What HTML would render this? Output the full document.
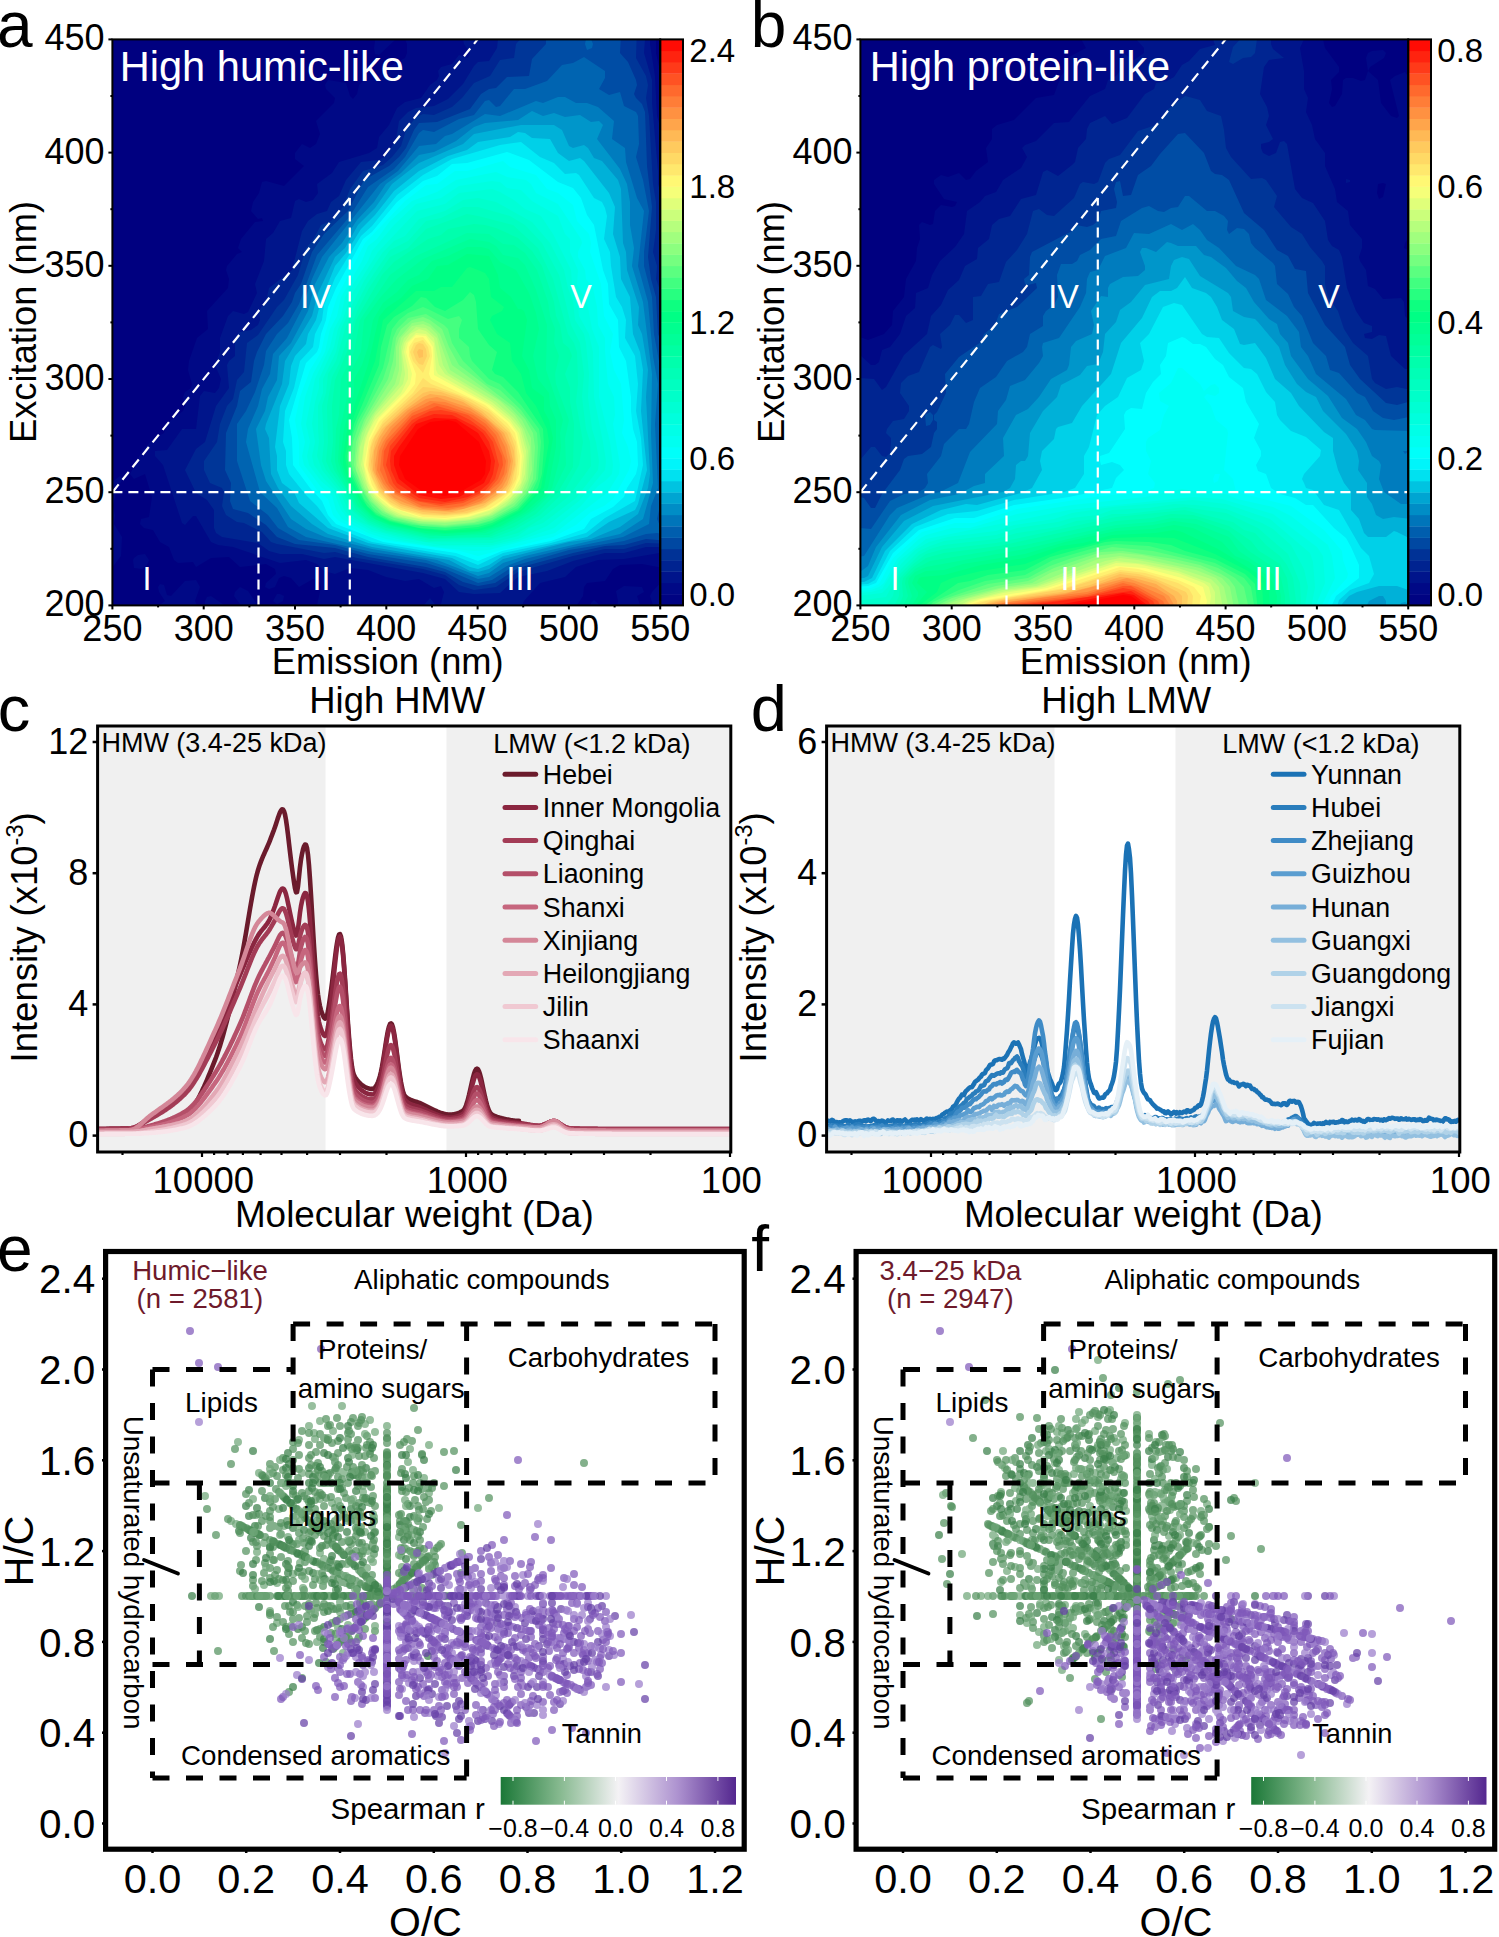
<!DOCTYPE html><html><head><meta charset="utf-8"><style>html,body{margin:0;padding:0;background:#fff;overflow:hidden}svg{display:block;font-family:"Liberation Sans",sans-serif}</style></head><body><svg width="1499" height="1937" viewBox="0 0 1499 1937" style="font-family:&quot;Liberation Sans&quot;,sans-serif">
<rect width="1499" height="1937" fill="#fff"/>
<defs><clipPath id="ca"><rect x="112.4" y="39.4" width="547.8" height="566"/></clipPath><clipPath id="cb"><rect x="860.4" y="39.4" width="547.8" height="566"/></clipPath></defs>
<g clip-path="url(#ca)"><rect x="112.4" y="39.4" width="547.8" height="566" fill="#000080"/>
<path fill="#000986" fill-rule="evenodd" d="M196 580l-11 1l-14 15l-4-1l-3-10l-4-1l-2 3l1 5l6 9l-12 9l1 9l50 0l-9-18l5-14l-4-7zM211 596l-4 1l-2 4l0 9l7 9l13 0l1-9l-2-5l-13-9zM248 591l-8-4l-5 5l-1 4l17 23l4 0l6-5l0-4l-13-19zM269 614l-5 0l0 5l10 0l-5-5zM653 26l-281 0l4 9l-2 13l1 6l4 1l17-16l5-1l4 1l2 5l0 9l-2 5l-19 10l-11 12l-11 0l-5 5l-2 9l-4 5l-3-3l-4-13l-18-3l-3 5l1 4l9 9l-1 5l-18 18l4 13l-4 10l-6 4l-8-4l-7 9l0 6l9 7l-20 20l-18-5l-4 1l-3 11l-6 9l-2 9l7 8l4-1l1 3l-8 1l-14 17l-3 9l4 4l-5 2l-10 12l-1 4l3 9l-1 9l-21 23l1 18l-11 9l-8 23l-1 9l4 14l-1 4l-6 4l-2 5l2 9l-2 5l-16 12l-3 10l-11 6l-11 12l-12 23l4 5l11-5l7 23l-3 20l-8 2l-1 5l4 4l9 2l7 12l9 5l5 13l4 3l15-1l3 5l15-9l18-1l11 10l26-3l9 5l1 5l-10 9l-1 4l4 2l6-2l4-9l5-2l7 2l8 9l14-8l4 1l3 3l1 4l-4 18l18 8l4 6l241 0l-3-14l6-9l1-9l3-4l18-2l8-12l7-4l22-1l22 4l7-4l0-451l-4-1l4-10l0-5l-7-6l-3-6l-1-14l-4-18l0-27l-3 0zM594 600l-3 3l-2 16l18 0l-2-9l-11-10zM642 587l-18-1l-8 5l2 10l-3 18l8 0l4-6l11-3l2-5l-3-9l7-4l-2-5zM671 572l-19 20l-2 4l3 9l-1 5l-7 9l16 0l10-13l0-34zM280 594l-3 0l-4 7l4 3l6-3l1-5l-4-2zM120 476l-9 7l-10 3l0 20l3 4l-3 8l0 28l6 1l-6 1l0 28l10-7l10-13l1-19l-8-13l1-9l-2-9l4-18l6-9l-3-3zM145 554l-7 1l-4 3l-1 2l1 8l8 1l5-4l2-5l-4-6zM252 252l-2 0l2 0zM302 130l0 2l0-2z"/>
<path fill="#00158b" fill-rule="evenodd" d="M408 614l-10 5l11 0l-1-5zM649 26l-167 0l0 4l-4 4l-11 0l-4 5l1 5l6 9l-2 5l-9-3l-7 9l-11 3l-3 4l1 5l-2 4l-7 5l-9 13l-16 4l-8 6l-8 17l-10 12l-2 11l-8 5l-30 9l-7 11l-15 11l1 9l-5 7l-7 2l-7-3l-4 2l-4 17l-11 3l-7 12l-7 6l-2 22l-9 23l2 9l-9 19l-4 2l-11-3l-5 5l-8 22l0 14l-5 13l6 14l-2 9l-4 5l-11-2l-4 5l-4 33l-14 0l-15 21l-12 1l0 5l8 9l19 58l3 2l8-9l3 0l15 26l7 3l15 2l47 16l26-3l11 4l7 7l11 3l15-6l18 2l18 7l19 4l14-2l15 9l7-2l3 6l-3 12l-4 3l-7-9l-6 7l-1 5l5 9l85 0l7-9l4-9l16-18l25-6l11-10l22-7l26-1l47-8l0-402l-7-9l-7-24l-2-40l-5-32l1-18l-2 0z"/>
<path fill="#002591" fill-rule="evenodd" d="M503 618l-3-2l-5 3l8-1zM646 26l-143 0l-5 13l-1 9l-8 13l-11 1l-4 4l-11 18l-15 15l-14 7l-18 2l-8 4l-9 9l-3 18l-10 17l-7 4l-18 2l-15 18l-7 16l-8 6l-4 9l-10 3l-9 7l-6 10l-10 39l-23 18l-2 9l-8 14l1 9l-2 5l-7 5l-11 2l-3 3l-2 3l0 18l-6 5l-2 4l2 23l-13 18l-11 36l-9 7l-11 21l11 23l11 7l7 10l0 18l2 5l6 4l36 6l11 8l11 3l22 0l22 5l11-2l88 16l22 6l14 13l15 2l26-1l18-16l29-6l26-10l32-8l19 0l22-6l25 0l0-258l-3-3l-4-7l2-22l-5-9l10-26l0-16l-7-1l-6-21l0-13l-6-68l0-23l-8-27l2-27z"/>
<path fill="#003698" fill-rule="evenodd" d="M635 26l-110 0l-1 9l-8 9l-2 14l-14 2l-10 16l-16 7l-12 15l-10 9l-18 8l-11-1l-7 3l-10 13l-5 16l-9 11l-9 8l-20 6l-13 18l-7 18l-12 14l-10 4l-8 15l-7 8l-8 27l-14 25l-7 7l-19 28l-11 8l-3 29l-7 8l-4 19l-6 7l-7 18l-3 18l-13 19l0 9l6 13l12 5l2 4l-2 14l4 9l11 7l7 1l18 9l9 10l6 2l47 9l11-1l22 6l66 11l22 6l14 10l15 5l22-3l22-15l55-16l32-7l19 0l22-6l25 1l0-213l-5-2l0-22l-10-28l1-13l-4-14l3-22l0-28l-3-18l-4-68l-3-18l2-13l-2-9l-10-18l1-32l-2 0zM671 301l-2 1l2 4l0-5zM529 39z"/>
<path fill="#004da5" fill-rule="evenodd" d="M616 26l-70 0l0 18l-14 15l-3 17l-22 1l-11 11l-7 1l-8 5l-11 15l-33 13l-18 1l-5 7l-8 18l-7 9l-10 9l-25 14l-16 31l-24 23l-12 18l-11 32l-6 9l-3 9l-9 14l-17 18l-9 18l-3 9l-3 21l-11 9l-3 15l-11 27l-1 37l6 13l-1 18l3 8l15 4l18 12l11 12l18 7l40 4l33 9l58 10l19 5l18 10l15 4l17-3l23-15l55-15l32-7l19-1l22-6l25 2l0-194l-11-8l-2-5l-2-37l-5-18l-3-22l4-50l-5-41l-2-54l-3-8l-6-6l-2-4l3-9l-1-5l-8-18l-8-9l1-18l-5-9z"/>
<path fill="#0064b1" fill-rule="evenodd" d="M584 57l-11 6l-11 2l-15 16l-22 8l-11 0l-14 17l-4 1l-7-7l-4 1l-11 14l-15 4l-25 13l-11-2l-4 3l-14 24l-11 12l-26 18l-18 29l-33 39l-18 49l-11 19l-11 11l-11 17l-2 14l-9 27l-9 19l-9 13l0 37l13 40l18 14l10 13l21 12l36 5l33 9l58 9l19 6l33 14l14-3l22-14l55-16l55-9l22-7l11-1l14 3l0-10l-11 0l-3-7l2-9l12-23l0-26l-7 2l-1-2l1-19l-4-18l4-13l7-2l0-39l-7-1l-5-8l-5-27l-2-37l-8-31l0-14l5-41l-6-31l-7-23l3-13l-1-28l-2-4l-12-6l-4-14l-11 3l-10-6l6-11l0-7l-21-14zM591 39l-5 0l-1 5l2 6l5-2l1-4l-2-5z"/>
<path fill="#007cbe" fill-rule="evenodd" d="M565 97l-7 0l-15 6l-7-2l-36 15l-15-2l-33 20l-7 2l-9 8l-17 2l-21 25l-18 13l-58 73l-10 22l-10 30l-15 29l-14 16l-3 20l-8 15l-4 17l-10 23l-2 13l14 50l17 16l11 19l18 10l66 15l54 8l22 7l30 12l11-2l18-11l18-7l44-11l54-11l26-13l2-18l7-18l-3-64l3-40l-5-28l-5-54l-10-36l6-55l-7-13l-11-36l-1-14l-13-9l2-18l-16-14l-11-4l-11 0l-11-6z"/>
<path fill="#0096ca" fill-rule="evenodd" d="M532 111l-14 9l-33 3l-11 4l-18 14l-22 11l-15 3l-18 18l-15 11l-12 18l-17 18l-15 23l-13 14l-14 27l-7 27l-17 32l-12 13l-2 24l-9 17l-3 14l-9 18l5 36l5 16l25 38l15 10l19 8l47 12l65 11l41 16l11-3l14-10l22-7l95-22l23-15l10-36l-2-50l1-59l-9-72l-11-36l2-18l-4-23l0-23l-3-18l-7-15l-23-30l6-14l-4-4l-8 1l-11-7l-15 2l-11-4l-11 3l-11-5z"/>
<path fill="#00b1d8" fill-rule="evenodd" d="M554 125l-33 0l-47 9l-11 10l-44 19l-27 21l-17 24l-17 17l-13 23l-10 9l-17 36l-6 23l-27 45l-3 23l-16 40l-1 5l4 9l2 36l7 14l13 18l21 18l16 10l44 13l77 13l21 11l8 1l11-3l14-10l66-17l22-3l29-12l18-13l10-26l2-14l-4-77l2-27l-6-36l-4-9l1-18l-12-37l-1-18l-3-9l-2-54l-3-9l-16-19l-8-3l-6-10l-4-3l-11 3l-4-2l-7-16l-8-5z"/>
<path fill="#00d0e8" fill-rule="evenodd" d="M525 133l-7-1l-8 5l-32 5l-11 8l-19 6l-29 15l-25 20l-19 24l-14 14l-15 24l-11 13l-14 35l-5 19l-8 14l-2 10l-11 12l-4 10l-2 18l-9 22l-5 41l2 9l0 14l5 13l12 9l5 11l29 25l40 15l84 15l18 9l8 2l11-4l14-9l84-19l22-15l26-12l3-6l9-34l-6-59l2-41l-3-18l-7-18l-3-37l-9-18l-1-22l-7-23l2-27l-6-14l-25-32l-4-3l-11 3l-11-8l-8-14l-18-1l-7-5z"/>
<path fill="#00ebf5" fill-rule="evenodd" d="M521 142l-21 3l-48 14l-29 16l-26 20l-25 31l-11 10l-26 42l-11 27l-2 15l-7 14l-2 13l-13 14l-6 27l-9 23l-2 31l3 9l0 14l3 9l17 21l11 11l15 20l40 16l83 14l23 9l25-12l48-10l35-10l19-15l30-17l8-36l-2-27l-5-27l2-27l-3-28l-10-18l1-18l-4-13l-6-10l-5-31l-1-14l-6-13l3-23l-2-8l-3-6l-8-4l-15-23l-3-2l-11 1l-11-11l-14-6l-19-15z"/>
<path fill="#00ffff" fill-rule="evenodd" d="M507 152l-40 11l-15 1l-15 12l-14 5l-26 21l-25 30l-9 7l-27 49l-8 19l-2 13l-5 14l-2 13l-2 5l-11 11l-17 57l3 18l1 27l17 23l12 13l6 14l8 9l47 18l73 11l22 8l24-10l49-10l33-12l7-10l22-12l11-10l3-9l9-14l2-9l-1-23l-4-13l-2-18l0-14l-5-36l-7-14l-1-27l-9-16l-1-20l-5-14l-9-45l-7-10l-6-17l-8-10l-15-6l-29-22l-22-8z"/>
<path fill="#00fff5" fill-rule="evenodd" d="M503 161l-36 10l-12 0l-18 13l-11 1l-21 16l-40 42l-28 54l-12 37l-4 18l-11 18l-10 27l-5 23l4 22l0 23l18 25l11 9l5 16l6 6l29 15l15 4l77 11l18 5l75-19l23-12l15-13l13-6l9-7l16-29l2-9l-3-14l-6-14l2-13l-3-36l-7-14l-4-18l3-18l-9-18l-3-32l-11-32l1-9l-2-9l-12-13l-4-16l-15-12l-11-4l-11-14l-26-8l-7-6z"/>
<path fill="#00ffea" fill-rule="evenodd" d="M503 175l-7-3l-40 8l-19 12l-25 9l-22 20l-13 18l-9 7l-6 15l-21 36l-4 19l-7 13l-5 23l-12 22l-8 23l-4 27l4 18l-3 14l2 9l17 22l11 9l4 14l6 9l26 14l18 6l48 8l40 4l15-1l66-17l53-41l11-18l1-9l-7-41l2-9l-1-18l-6-13l-3-32l0-14l-7-13l-1-18l-4-19l-7-9l-1-9l-7-13l0-5l4-9l-1-4l-23-35l-22-11l-5-9l-5-4l-19-3l-4-2z"/>
<path fill="#00ffe0" fill-rule="evenodd" d="M500 182l-8-1l-33 5l-18 12l-25 6l-22 21l-22 26l-4 10l-23 36l-4 19l-7 13l-4 18l-15 32l-9 45l4 18l-3 14l2 9l12 16l13 11l7 18l7 9l24 13l29 8l33 6l55 1l29-6l36-13l27-22l17-20l7-5l7-7l1-9l-3-23l-11-45l0-50l-7-18l-5-27l-10-18l1-14l-8-18l0-13l-5-5l-7-18l-26-15l-11-11l-14-2l-7-6z"/>
<path fill="#00ffd6" fill-rule="evenodd" d="M500 192l-8-3l-33 4l-14 11l-28 7l-39 41l-28 45l-6 19l-6 13l-4 18l-15 32l0 9l-4 14l-3 22l3 18l-3 14l2 9l10 14l13 13l7 18l6 7l22 13l29 8l40 7l51 0l26-6l29-13l32-25l26-31l1-9l-3-19l-9-45l-1-45l-4-18l-10-18l-2-19l-5-13l-1-14l-18-36l-12-18l-16-7l-11-9l-14-8z"/>
<path fill="#00ffcc" fill-rule="evenodd" d="M496 202l-18-4l-15 2l-18 11l-26 8l-14 17l-11 5l-11 11l-19 29l-13 26l-10 22l-5 23l-13 27l0 14l-5 13l0 23l1 13l-2 14l5 14l18 22l10 22l11 8l22 10l43 10l66 1l26-7l11-8l14-5l33-25l22-28l1-9l-3-19l-4-13l-4-32l1-23l-3-31l-2-9l-9-14l-2-19l-5-13l-4-18l-14-27l-18-21l-36-20z"/>
<path fill="#00ffc2" fill-rule="evenodd" d="M478 207l-15 0l-22 11l-15 3l-18 20l-18 9l-23 34l-12 23l-10 22l-9 32l-8 13l-2 19l-4 13l2 36l-2 19l4 9l17 22l8 18l17 14l18 7l44 10l62-1l26-7l23-14l28-23l22-30l-1-24l-4-13l-4-32l2-23l-4-31l-9-18l-12-50l-17-32l-17-18l-15-9l-32-9z"/>
<path fill="#00ffb8" fill-rule="evenodd" d="M478 216l-11-2l-41 15l-18 19l-18 9l-21 31l-12 23l-18 53l-7 13l-5 29l1 36l-2 19l4 9l16 22l7 18l15 12l18 8l44 9l62-1l22-8l26-15l24-23l15-27l4-23l-7-40l2-18l-1-32l-3-9l-6-9l-15-55l-15-31l-25-23l-35-9z"/>
<path fill="#00ffad" fill-rule="evenodd" d="M485 225l-11-1l-26 5l-7 6l-13 4l-34 23l-12 13l-26 45l-7 27l-14 33l-3 26l1 36l-2 19l3 9l14 22l8 18l12 10l18 8l44 10l59-1l25-10l22-13l22-22l15-25l1-43l-4-22l0-14l-5-14l7-18l-3-8l-6-5l-3-18l-4-9l-2-14l-12-36l-10-15l-14-13l-22-10l-11-3z"/>
<path fill="#00ffa3" fill-rule="evenodd" d="M489 234l-22-1l-51 23l-26 19l-30 45l-6 32l-13 27l-2 36l-3 14l-1 32l2 9l19 36l14 13l20 9l40 8l59-1l29-14l17-11l18-18l13-27l-1-27l4-18l-13-36l-1-10l4-18l-5-13l1-14l-5-13l-2-14l-11-32l-12-17l-11-8l-11-1l-14-10z"/>
<path fill="#00ff99" fill-rule="evenodd" d="M489 242l-19-3l-47 20l-26 20l-18 20l-15 21l-3 32l-14 27l1 14l-8 36l-2 32l4 13l16 32l14 12l18 8l36 8l19 2l40-3l18-7l26-14l16-15l7-9l7-27l2-14l-1-14l3-13l-17-50l1-45l-11-35l-11-25l-7-7l-15-3l-7-9l-7-4z"/>
<path fill="#00ff8f" fill-rule="evenodd" d="M481 247l-14 0l-19 9l-16 5l-13 14l-11 5l-11 12l-14 11l-10 17l-5 27l-6 18l-8 14l0 14l-10 36l-4 32l4 13l17 32l14 13l15 6l36 8l19 1l36-2l19-6l25-14l17-15l6-9l8-41l0-27l-6-14l-1-13l-11-14l-5-23l6-27l-3-16l-7-20l-13-23l-16-8l-11-13l-8-2z"/>
<path fill="#00ff85" fill-rule="evenodd" d="M489 256l-22-2l-19 11l-11 1l-9 13l-16 7l-11 12l-15 10l-7 9l-11 48l-20 59l-5 32l0 9l3 9l17 32l9 9l18 9l29 6l26 3l33-2l14-4l29-15l23-24l9-50l-4-18l-5-9l0-14l-12-9l-3-18l-7-14l5-36l-3-9l-3-2l-3 0l-7-12l-11-9l-2-13l-9-19z"/>
<path fill="#0fff80" fill-rule="evenodd" d="M478 270l-8-3l-3 1l-15 19l-11 0l-7 4l-18 0l-33 29l-8 41l-24 63l-6 32l2 14l14 29l14 16l15 7l33 7l22 2l33-2l14-4l29-15l20-22l8-46l-2-13l-11-23l-10-13l-5-19l-9-13l-2-18l-13-9l-7-14l2-4l10-5l2-4l-13-10l-2-18l-4-6l-7-3z"/>
<path fill="#2aff80" fill-rule="evenodd" d="M470 292l-7 8l-18 11l-10-4l-9-9l-5-1l-9 9l-18 11l-7 8l-6 22l-2 18l-25 59l-7 32l2 14l13 27l5 9l10 9l13 6l29 7l26 2l33-3l14-4l26-13l20-22l4-14l2-27l-1-18l-25-37l-15-15l-8-3l-3-4l5-18l-8-7l-11-16l-2-27l-2-7l-4-3z"/>
<path fill="#45ff80" fill-rule="evenodd" d="M430 310l-7-3l-15 6l-9 7l-7 9l-9 39l-17 38l-8 14l-5 14l-4 27l4 13l11 25l11 13l15 8l22 5l33 3l33-3l14-4l26-13l14-16l6-13l3-37l-2-13l-18-24l-21-21l-11-5l-17-18l-2-5l-1-9l-10-9l0-9l3-9l-3-4l-11 3l-18-9z"/>
<path fill="#60ff80" fill-rule="evenodd" d="M426 314l-18 4l-11 11l-4 9l-4 23l-6 18l-24 45l-6 18l-2 19l2 9l10 22l9 14l10 9l12 5l29 6l22 1l33-3l14-4l25-14l12-14l7-13l2-32l-1-14l-16-23l-21-20l-13-6l-24-23l-11-18l-4-14l-4-4l-18-11z"/>
<path fill="#7bff80" fill-rule="evenodd" d="M430 320l-7-3l-11 3l-11 9l-5 9l-3 23l-5 18l-24 41l-8 22l-2 23l8 23l8 13l13 12l11 5l25 6l26 2l29-3l18-5l22-12l13-14l6-13l2-32l-2-14l-8-14l-11-12l-55-42l-10-18l-7-18l-12-9z"/>
<path fill="#92ff7f" fill-rule="evenodd" d="M430 324l-7-3l-11 2l-13 15l-3 9l0 18l-4 14l-26 41l-7 18l-3 18l0 14l8 19l8 12l9 9l13 7l25 6l26 2l29-3l18-6l22-13l13-15l5-18l-1-32l-9-18l-12-13l-58-42l-12-31l-10-10z"/>
<path fill="#a8ff7e" fill-rule="evenodd" d="M423 324l-11 2l-11 12l-2 9l0 23l-4 14l-23 31l-10 18l-3 14l-2 18l8 23l9 13l12 11l11 5l26 5l22 1l29-3l18-5l18-11l12-12l6-13l2-32l-6-18l-9-14l-15-14l-50-31l-13-36l-7-7l-7-3z"/>
<path fill="#bdff7c" fill-rule="evenodd" d="M426 328l-10-1l-12 11l-3 9l1 23l-3 14l-24 29l-9 16l-6 18l-1 14l1 9l5 13l7 14l14 13l11 6l22 5l26 1l25-2l19-5l16-9l15-14l6-13l2-28l-6-22l-8-11l-18-16l-48-29l-5-8l-6-27l-11-10z"/>
<path fill="#d3ff7b" fill-rule="evenodd" d="M419 329l-9 5l-6 9l-2 9l3 22l-2 10l-28 32l-10 22l-4 27l7 23l7 10l14 12l10 5l24 5l22 1l25-2l19-5l19-13l12-13l5-14l1-23l-6-22l-10-12l-18-15l-47-28l-6-9l-5-27l-8-7l-7-2z"/>
<path fill="#e9ff79" fill-rule="evenodd" d="M426 334l-10-1l-10 10l-2 9l4 18l0 9l-7 14l-26 27l-7 13l-4 14l-1 14l3 18l6 13l11 12l9 6l11 5l20 4l25 1l22-3l22-7l19-13l10-14l3-27l-5-23l-9-13l-18-15l-54-31l-2-4l-2-27l-8-9z"/>
<path fill="#ffff78" fill-rule="evenodd" d="M426 336l-10-1l-8 8l-2 9l6 22l-2 10l-6 9l-25 25l-10 20l-5 27l5 18l6 11l15 13l29 10l26 2l22-2l22-7l8-4l16-14l7-13l2-23l-5-23l-7-10l-21-18l-55-30l-1-28l-7-11z"/>
<path fill="#fff070" fill-rule="evenodd" d="M423 337l-8 1l-6 9l0 9l7 18l-1 10l-7 9l-29 29l-10 20l-3 23l6 20l7 11l15 12l29 9l22 1l22-3l22-6l12-8l13-13l5-14l1-18l-5-23l-8-10l-22-18l-54-26l-2-5l3-18l-1-9l-8-10z"/>
<path fill="#ffe069" fill-rule="evenodd" d="M423 378l-10 15l-30 28l-11 19l-3 11l-1 19l10 22l12 12l11 6l22 5l22 1l22-2l18-6l24-16l7-13l2-18l-2-19l-7-13l-20-19l-19-11l-39-15l-8-6zM423 340l-9 3l-4 9l3 9l10 12l7-17l-2-9l-5-7z"/>
<path fill="#ffd061" fill-rule="evenodd" d="M434 388l-11-1l-40 37l-8 12l-4 11l-2 18l3 12l7 14l11 11l11 6l22 6l22 1l22-2l18-6l22-15l5-9l4-18l-1-18l-5-14l-21-20l-15-9l-15-8l-25-8zM423 344l-4-1l-3 2l-3 7l3 8l3 4l4 1l4-9l-1-7l-3-5z"/>
<path fill="#ffc059" fill-rule="evenodd" d="M441 392l-11-1l-7 2l-18 14l-23 22l-7 13l-4 19l1 10l7 17l11 11l11 7l22 6l22 2l18-2l20-6l21-14l6-9l5-18l-1-14l-7-18l-25-22l-19-11l-22-8zM423 350l-4-1l-2 3l2 6l4-1l0-7z"/>
<path fill="#ffab4e" fill-rule="evenodd" d="M445 396l-15-2l-7 3l-18 13l-19 17l-7 11l-5 13l-1 19l8 18l9 9l11 7l19 6l32 2l33-9l16-11l6-7l4-11l2-13l-3-14l-6-14l-23-20l-18-11l-18-6z"/>
<path fill="#ff9644" fill-rule="evenodd" d="M437 397l-11 2l-18 11l-18 17l-8 11l-4 9l-3 18l1 9l8 14l10 10l11 5l18 6l22 2l18-2l18-6l21-15l5-9l4-18l-4-16l-6-12l-13-13l-18-12l-33-11z"/>
<path fill="#ff8239" fill-rule="evenodd" d="M445 402l-15-1l-19 10l-19 18l-9 13l-4 9l-2 19l6 13l7 9l29 15l29 3l19-4l14-5l13-9l8-9l5-11l1-11l-3-14l-7-14l-13-13l-15-9l-25-9z"/>
<path fill="#ff6d2f" fill-rule="evenodd" d="M448 406l-14-3l-22 10l-26 28l-4 10l-2 19l6 13l7 9l29 14l26 2l15-2l18-8l18-15l5-9l2-13l-10-26l-10-11l-13-9l-25-9z"/>
<path fill="#ff5524" fill-rule="evenodd" d="M437 406l-25 10l-23 26l-5 9l-1 14l6 18l8 9l19 9l25 5l22-3l24-11l11-13l5-14l-1-9l-8-18l-9-11l-17-12l-31-9z"/>
<path fill="#ff3d1a" fill-rule="evenodd" d="M441 410l-11 1l-18 9l-22 26l-4 19l7 18l4 5l22 13l22 3l22-3l22-10l10-12l4-14l-6-23l-8-11l-15-11l-14-7l-15-3z"/>
<path fill="#ff2410" fill-rule="evenodd" d="M452 415l-18-1l-15 5l-7 5l-11 14l-10 13l-1 10l1 9l6 13l22 15l26 4l23-5l13-7l8-7l4-9l2-13l-6-19l-6-9l-9-7l-22-11z"/>
<path fill="#ff0c05" fill-rule="evenodd" d="M456 419l-22-1l-18 6l-17 23l-5 9l0 9l5 14l20 16l22 4l18-2l25-14l6-13l1-9l-2-10l-11-18l-22-14z"/>
<path fill="#ff0000" fill-rule="evenodd" d="M456 422l-8-2l-18 2l-12 7l-18 27l-1 9l6 14l18 13l22 4l15-4l21-12l4-6l1-13l-7-19l-23-20z"/>
</g>
<rect x="660.2" y="594.1" width="22.8" height="11.7" fill="#000382"/>
<rect x="660.2" y="582.8" width="22.8" height="11.7" fill="#000986"/>
<rect x="660.2" y="571.4" width="22.8" height="11.7" fill="#00148b"/>
<rect x="660.2" y="560.1" width="22.8" height="11.7" fill="#002390"/>
<rect x="660.2" y="548.8" width="22.8" height="11.7" fill="#003296"/>
<rect x="660.2" y="537.5" width="22.8" height="11.7" fill="#0048a2"/>
<rect x="660.2" y="526.2" width="22.8" height="11.7" fill="#005eae"/>
<rect x="660.2" y="514.8" width="22.8" height="11.7" fill="#0075ba"/>
<rect x="660.2" y="503.5" width="22.8" height="11.7" fill="#008dc6"/>
<rect x="660.2" y="492.2" width="22.8" height="11.7" fill="#00a5d2"/>
<rect x="660.2" y="480.9" width="22.8" height="11.7" fill="#00c3e1"/>
<rect x="660.2" y="469.6" width="22.8" height="11.7" fill="#00e1f0"/>
<rect x="660.2" y="458.2" width="22.8" height="11.7" fill="#00f5fa"/>
<rect x="660.2" y="446.9" width="22.8" height="11.7" fill="#00fffa"/>
<rect x="660.2" y="435.6" width="22.8" height="11.7" fill="#00fff0"/>
<rect x="660.2" y="424.3" width="22.8" height="11.7" fill="#00ffe7"/>
<rect x="660.2" y="413.0" width="22.8" height="11.7" fill="#00ffdd"/>
<rect x="660.2" y="401.6" width="22.8" height="11.7" fill="#00ffd3"/>
<rect x="660.2" y="390.3" width="22.8" height="11.7" fill="#00ffc9"/>
<rect x="660.2" y="379.0" width="22.8" height="11.7" fill="#00ffc0"/>
<rect x="660.2" y="367.7" width="22.8" height="11.7" fill="#00ffb6"/>
<rect x="660.2" y="356.4" width="22.8" height="11.7" fill="#00ffac"/>
<rect x="660.2" y="345.0" width="22.8" height="11.7" fill="#00ffa2"/>
<rect x="660.2" y="333.7" width="22.8" height="11.7" fill="#00ff98"/>
<rect x="660.2" y="322.4" width="22.8" height="11.7" fill="#00ff8f"/>
<rect x="660.2" y="311.1" width="22.8" height="11.7" fill="#00ff85"/>
<rect x="660.2" y="299.8" width="22.8" height="11.7" fill="#0dff80"/>
<rect x="660.2" y="288.4" width="22.8" height="11.7" fill="#27ff80"/>
<rect x="660.2" y="277.1" width="22.8" height="11.7" fill="#41ff80"/>
<rect x="660.2" y="265.8" width="22.8" height="11.7" fill="#5bff80"/>
<rect x="660.2" y="254.5" width="22.8" height="11.7" fill="#75ff80"/>
<rect x="660.2" y="243.2" width="22.8" height="11.7" fill="#8cff7f"/>
<rect x="660.2" y="231.8" width="22.8" height="11.7" fill="#a1ff7e"/>
<rect x="660.2" y="220.5" width="22.8" height="11.7" fill="#b6ff7d"/>
<rect x="660.2" y="209.2" width="22.8" height="11.7" fill="#cbff7b"/>
<rect x="660.2" y="197.9" width="22.8" height="11.7" fill="#e0ff7a"/>
<rect x="660.2" y="186.6" width="22.8" height="11.7" fill="#f5ff79"/>
<rect x="660.2" y="175.2" width="22.8" height="11.7" fill="#fff874"/>
<rect x="660.2" y="163.9" width="22.8" height="11.7" fill="#ffe86d"/>
<rect x="660.2" y="152.6" width="22.8" height="11.7" fill="#ffd965"/>
<rect x="660.2" y="141.3" width="22.8" height="11.7" fill="#ffca5e"/>
<rect x="660.2" y="130.0" width="22.8" height="11.7" fill="#ffb955"/>
<rect x="660.2" y="118.6" width="22.8" height="11.7" fill="#ffa54b"/>
<rect x="660.2" y="107.3" width="22.8" height="11.7" fill="#ff9141"/>
<rect x="660.2" y="96.0" width="22.8" height="11.7" fill="#ff7d37"/>
<rect x="660.2" y="84.7" width="22.8" height="11.7" fill="#ff692d"/>
<rect x="660.2" y="73.4" width="22.8" height="11.7" fill="#ff5223"/>
<rect x="660.2" y="62.0" width="22.8" height="11.7" fill="#ff3a19"/>
<rect x="660.2" y="50.7" width="22.8" height="11.7" fill="#ff230f"/>
<rect x="660.2" y="39.4" width="22.8" height="11.7" fill="#ff0c05"/>
<path d="M112.4 492.2H660.2" stroke="#fff" stroke-width="2.2" stroke-dasharray="10 6" fill="none"/>
<path d="M258.5 605.4V492.2" stroke="#fff" stroke-width="2.2" stroke-dasharray="10 6" fill="none"/>
<path d="M349.8 605.4V197.9" stroke="#fff" stroke-width="2.2" stroke-dasharray="10 6" fill="none"/>
<path d="M112.4 492.2L477.6 39.4" stroke="#fff" stroke-width="2.2" stroke-dasharray="10 6" fill="none"/>
<text x="147.0" y="590.0" font-size="32.3" text-anchor="middle" fill="#fff" >I</text>
<text x="321.5" y="590.0" font-size="32.3" text-anchor="middle" fill="#fff" >II</text>
<text x="520.0" y="590.0" font-size="32.3" text-anchor="middle" fill="#fff" >III</text>
<text x="315.5" y="307.5" font-size="32.3" text-anchor="middle" fill="#fff" >IV</text>
<text x="581.0" y="307.5" font-size="32.3" text-anchor="middle" fill="#fff" >V</text>
<g clip-path="url(#cb)"><rect x="860.4" y="39.4" width="547.8" height="566" fill="#000080"/>
<path fill="#000986" fill-rule="evenodd" d="M1317 26l-233 0l-1 3l-3-3l-5 0l1 4l10 18l-17 9l-1 10l-7 9l-7 19l-18 3l-22 22l-17 5l-5 4l0 10l-6 9l2 14l-12 9l-6 8l-4 1l-7-7l-11 4l-7-2l-7 5l0 4l10 15l13 3l-2 4l-3 1l-11-2l-6 6l-2 13l-3 1l-8-3l-3 3l1 14l-3 9l-1 13l-10 18l-2 18l-11 14l-1 14l-8 9l-16 6l-19-7l0 286l570 0l0-374l-11 5l-4-2l1-5l7-10l7-3l0-22l-7 0l-1-6l8-14l0-105l-3 2l-4-3l-7-10l-10 4l-5 4l9 36l-2 2l-6-2l-10-13l-3-23l-10-9l2-4l14-9l2-5l-3-3l-11 1l-4 2l-2 5l2 13l-3 9l-4 1l-8-3l-7 0l-3 2l-1 14l-7 12l-3 1l-3-4l3-14l-1-9l8-8l0-5l-14-19l-5-22l-3 0zM1386 184l-3 13l-4 2l-2-6l1-9l5-1l3 1zM1050 26l-8 0l5 5l5-5l-2 0z"/>
<path fill="#00158b" fill-rule="evenodd" d="M1310 26l-186 0l20 22l0 5l-10 7l-11-7l-3 5l0 13l-4 5l-8 4l-3 9l-15 7l-21 26l-15 1l-18 18l-11 4l-3 3l5 9l-6 11l-18 12l-7 12l-11 4l-5 6l-13 9l-3 23l-9 13l-15 14l-8 14l-4 13l-12 5l-1 15l-9 8l-6 18l-10 13l-8 3l-3 12l-4 3l-4 0l-11-10l-3-1l-8 5l0 260l570 0l0-301l-11 1l-3-3l-1-14l-3-4l-18 1l-8-10l-7-3l-2-16l-6-9l-1-4l3-9l0-9l-12-14l-2-14l-11-9l-2-13l-10-23l0-13l-10-14l-3-14l-6-13l2-14l-4-9l0-18l-4-23l10-22zM1350 180l-4-1l0 4l4-1l0-2zM1112 26l-12 0l5 4l7-4z"/>
<path fill="#002591" fill-rule="evenodd" d="M1277 26l-74 0l1 5l3 5l6 3l2 6l-15 4l-11 12l-7 4l-8 12l-7 4l-11 2l-2 6l-9 5l-18 24l-15 6l-7-8l-15 7l-3 6l-1 10l-8 9l-3 14l-3 3l-14 11l-11-6l-4 2l-7 23l-15 4l-11 17l-11 3l-7 6l-3 14l-11 9l-1 11l-12 7l-6 14l-11 10l-7 15l-10 11l-4 18l-23 21l-18 32l-4 3l-8-11l-14-1l-11-5l0 246l570 0l0-276l-7 1l-3 3l4 18l-5 4l-3 0l-14-13l-5-20l-7-1l-7 4l-7-1l-1-4l8-2l0-6l-8-3l-8-12l-9-23l-5-31l-3-7l-7-4l-4-6l-3-19l-12-18l-11-5l-7-9l-8-45l-3-3l-4 1l-4 11l-7 3l-6-3l-2-5l0-4l8-2l4-3l-7-14l3-9l-2-9l-7-13l4-27l5-7l15-2l-11-9l-2-5l0-5l6-13z"/>
<path fill="#003698" fill-rule="evenodd" d="M1189 97l-4-1l-18 14l-11 15l-18 6l-18 24l-11 4l-4 4l-7 19l-4 2l-11-2l-3 2l-6 14l-20 18l-7-1l-8-6l-6 2l-6 23l-10 16l-11 12l-7 20l-11 2l-7 12l-8 1l0 23l-7 3l-7-8l-4 0l-5 10l-10 9l2 13l-1 2l-8-4l-3 2l-11 25l-11 4l-7 7l-1 10l9 13l0 5l-5 8l-11 2l-6 8l-1 4l5 5l0 4l-1 11l-4 4l-4-1l-7-9l-4 0l-11 13l-11 5l0 154l570 0l0-231l-7 2l-15-3l-11 2l-11-6l-3-4l-4-23l-15-13l-9-14l-6-18l-10-14l-3-13l0-18l-3-5l-12-14l-8-13l-11-7l-17-20l3-11l-11-16l-4-2l-11 1l-20-22l-5-9l-2-18l-3-14l-14-5l-7-11l-11-3zM1251 26l-14 0l7 9l-11 12l-4 15l4 2l10-6l8-1l4-4l2-14l-4-13l-2 0z"/>
<path fill="#004da5" fill-rule="evenodd" d="M1185 133l-7 1l-18 20l-9 12l-13 9l-7 20l-8 1l-3-15l-4 1l-2 7l3 13l-1 6l-15 3l-3 10l-5 4l-6 2l-11-2l-4 6l-40 21l-2 5l-1 18l-5 4l1 5l3 1l8-2l1 5l-20 19l-18 7l-4 11l-11 9l-3 8l-22 15l-14 17l1 19l-9 19l-3 3l0 5l3 2l0 7l-3 4l-3 14l-9 7l-14 2l-4 3l-4 11l-18 24l-7 14l-4 0l-7-10l-4-1l-10 9l-1 113l570 0l0-220l-22 6l-11-2l-26-24l-10-14l-5-18l-20-22l-17-32l-2-22l-11-2l-7-13l-11-6l-13-20l-20-17l-15-33l-7-5l-7-1l-4-3l-7-18l-19-20zM930 412l-5 3l1 11l4-1l3-5l0-5l-3-3z"/>
<path fill="#0064b1" fill-rule="evenodd" d="M1189 196l-4 0l-7 11l-7 1l-7 4l-6-1l-9-5l-7 2l-21 13l-5 15l-15 3l-11 11l-10 5l-3 6l-5 3l-11 0l-4 11l1 22l-4 8l-8 6l-3 5l0 10l-13 8l-3 13l-4 5l-16 9l-11 16l-16 11l-6 14l-5 22l-3 5l-7 0l-15 15l-3 12l-14 18l1 9l-3 5l-6 4l-15 2l-14 7l-19 28l-11-1l-11 7l0 84l570 0l0-204l-25 5l-11-2l-10-7l-8-14l-8-4l-18-20l-9-3l-4-14l-13-13l-11-27l-8-9l-6-13l-11-10l-2-18l-2-3l-18-15l-4-5l-2-9l-5-5l-7-1l-8 6l-2-4l1-9l-4-5l-9-5l-8 0l-18-15zM1196 171z"/>
<path fill="#007cbe" fill-rule="evenodd" d="M1193 224l-11 6l-11-6l-22 10l-15-1l-8 15l-21 8l-7 14l-8 2l-3 7l-1 14l-6 14l-21 31l-16 5l-1 4l1 9l-4 7l-14 17l-15 6l-4 14l-8 11l-1 13l-27 28l-12 31l-18 9l-10 2l-33 14l-7 7l-26 41l-7 1l-8-2l0 64l570 0l0-191l-11 3l-33-1l-3-1l-7-9l-9-5l-10-16l-30-25l-8-18l-7-9l-2-15l-12-16l-21-16l-7-21l-4-4l-19-9l-17-18l-12-8l-7-10l-7-6zM1409 451l-4 3l-2-3l6 0z"/>
<path fill="#0096ca" fill-rule="evenodd" d="M1171 243l-4-1l-11 10l-10-4l-4 0l-2 4l5 14l0 4l-7 6l-15 1l-13 7l-2 4l0 9l-7-1l-10 15l3 14l-2 9l-16 7l-5 6l-2 18l-2 5l-16 9l-12 18l-11 12l-12 6l-13 23l1 18l-19 18l0 9l-11 3l-15 8l-29 6l-29 15l-25 32l-8 19l-8 6l-11-1l0 48l570 0l0-135l-5 4l-2 13l-4 3l-7 0l-17-12l-5-13l2-14l-2-4l-7-5l-6-14l-9-13l-15-11l-14-22l-20-17l-17-23l-3-13l-8-9l-3-10l-8-5l-15-17l-8-14l-9-7l-11-13l-15-11l-7-2l-8-9l-18 0l-7-3z"/>
<path fill="#00b1d8" fill-rule="evenodd" d="M1189 259l-7-2l-8 3l-3 6l-2 13l-24 6l-14 17l-11 8l-4 12l-11 12l-2 18l-5 12l-11 2l-7 9l-19 10l-4 12l-14 14l-13 22l-2 23l-3 5l-4 0l-5 4l-1 14l-5 9l-7 4l-70 14l-29 15l-22 26l-14 29l-4 2l-15 1l0 40l505 0l0-9l10 1l5-10l10-5l4 0l3 5l0 9l-2 9l11 0l6-16l4-1l14 7l0-89l-25-3l-11 2l-7-4l-4-11l-5-7l0-14l-9-13l1-9l-2-10l-11-17l-23-23l-7-14l-10-5l-9-8l-12-19l-6-18l-21-25l-3-3l-11-2l-11-6l-2-14l-3-4l-28-17l-11-17z"/>
<path fill="#00d0e8" fill-rule="evenodd" d="M1185 277l-8 11l-6 3l-11 0l-8 6l-10 21l-21 25l-10 31l-29 32l-10 17l-14 4l-2 2l-2 10l-12 12l-2 10l2 9l-10 18l-11 5l-44 12l-11-1l-25 6l-29 14l-27 27l-13 27l-8 4l-15 0l0 37l495 0l-2-15l7-8l8-4l22-6l18 0l22 8l0-46l-3 0l-9-11l-10-5l-3-1l-8 6l-18 0l-4-4l-5-14l-8-9l0-18l-7-9l-6-13l-5-19l0-13l-9-6l-25-26l-8-13l-16-14l-9-21l-11-15l-11 2l-4-1l-6-15l-12-9l-5-13l-6-10l-5-4l-14-5l-7-11z"/>
<path fill="#00ebf5" fill-rule="evenodd" d="M1182 305l-8-2l-11 4l-14 27l-9 9l4 18l-3 9l-14 8l-9 19l-13 9l-8 9l-8 32l-5 9l0 18l-9 14l-11 4l-50 8l-37 11l-29 3l-33 13l-25 24l-15 29l-7 4l-19 1l0 34l488 0l-1-9l3-10l11-10l19-7l5-9l-5-18l-8-8l-22-38l-15-5l-11-15l-7-2l-2-5l-2-4l2-5l16-18l1-6l-15-13l-15-6l-11-11l-3-5l-2-13l-9-10l-9-18l-6-5l-7-1l-15-15l-10-15l-12-1l-5-3l-20-29z"/>
<path fill="#00ffff" fill-rule="evenodd" d="M1185 338l-3-1l-14 6l-2 13l-6 9l1 9l-8 8l-7 11l-4 16l-11-1l-5 3l-2 4l1 14l-2 3l-14 21l-9 3l0 5l1 4l11-3l8 3l4 5l-8 8l-4 10l-43 9l-55 8l-40 13l-19 0l-36 12l-26 23l-17 30l-8 3l-19 1l0 32l482 0l1-14l4-9l23-18l0-13l-8-18l-5-9l-12-10l-21-23l-7 0l-11-7l-15-4l-9-6l-5-14l-8-3l-2-6l5-9l0-5l-7-13l5-14l-13-22l-3-14l-14-11l-6-12l-8-6l-9-12l-6-3l-7 0l-8-6z"/>
<path fill="#00fff5" fill-rule="evenodd" d="M1182 368l-4 0l-7 15l-12 10l1 8l9 5l-5 9l-4 15l-12 8l-2 4l0 9l5 10l-3 13l7 9l-1 5l-9 4l-44 4l-84 13l-43 14l-19 0l-33 9l-29 26l-14 26l-8 4l-22 1l0 30l477 0l1-14l4-9l16-18l1-4l-5-14l-1-9l-18-21l-33-24l-55-14l-3-13l-9-9l4-37l-1-4l-11-9l-5-14l-7-9l3-3l8 2l4-3l0-5l-4-4l-4 1l-7 6l-4-7l-18-16zM1220 474l-2 7l-4 2l-1-4l2-5l5 0z"/>
<path fill="#00ffea" fill-rule="evenodd" d="M1200 492l-18-3l-37 8l-73 8l-55 9l-47 14l-18 0l-26 7l-7 4l-22 20l-13 24l-5 4l-8 3l-22 2l0 27l472 0l1-14l13-27l-3-22l-4-11l-37-29l-18-9l-36-8l-11-5l-15 0l-11-2z"/>
<path fill="#00ffe0" fill-rule="evenodd" d="M1193 497l-124 13l-143 29l-26 21l-18 29l-11 3l-22 2l0 25l466 0l1-14l9-22l-2-27l-6-9l-44-33l-51-15l-29-2z"/>
<path fill="#00ffd6" fill-rule="evenodd" d="M1193 500l-81 7l-40 6l-18 6l-40 6l-18 6l-48 6l-19 5l-14 8l-14 14l-13 23l-6 6l-33 4l0 22l460 0l6-32l-2-25l-3-9l-40-34l-44-15l-33-4z"/>
<path fill="#00ffcc" fill-rule="evenodd" d="M1196 505l-22-1l-25 4l-37 2l-14 5l-26 3l-14 4l-41 6l-21 7l-52 6l-14 5l-11 5l-18 18l-15 28l-37 5l0 17l454 0l5-32l-4-18l-13-24l-18-16l-11-6l-36-14l-30-4z"/>
<path fill="#00ffc2" fill-rule="evenodd" d="M1204 510l-19-3l-58 7l-15 0l-14 5l-22 2l-18 6l-41 6l-21 6l-52 6l-14 4l-11 6l-19 19l-4 9l-3 13l-10 14l0 9l415 0l3-18l-1-18l-12-29l-30-26l-32-15l-22-3z"/>
<path fill="#00ffb8" fill-rule="evenodd" d="M1185 510l-69 7l-120 26l-52 6l-18 5l-14 11l-12 13l-1 18l-7 14l0 9l401 0l3-18l-3-23l-6-13l-7-9l-14-11l-11-12l-11-3l-11-8l-48-12z"/>
<path fill="#00ffad" fill-rule="evenodd" d="M1193 515l-22-1l-18 4l-37 3l-117 25l-55 7l-18 5l-14 10l-9 10l-1 5l1 13l-6 14l-1 9l393 0l1-18l-3-23l-7-14l-21-13l-8-10l-22-15l-36-11z"/>
<path fill="#00ffa3" fill-rule="evenodd" d="M1196 519l-25-1l-18 4l-37 3l-91 20l-95 16l-15 8l-9 9l-1 5l3 13l-7 14l0 9l384 0l0-23l-4-18l-5-9l-27-18l-20-20l-33-12z"/>
<path fill="#00ff99" fill-rule="evenodd" d="M1196 524l-22-3l-21 4l-37 3l-91 21l-99 18l-11 5l-6 6l-1 5l4 13l-6 14l0 9l374 0l1-23l-3-13l-5-9l-34-23l-10-14l-33-13z"/>
<path fill="#00ff8f" fill-rule="evenodd" d="M1193 528l-19-3l-21 4l-37 2l-51 11l-40 12l-62 10l-19 6l-18 1l-11 5l-3 7l6 9l0 4l-6 9l-1 14l364 0l2-23l-4-13l-4-6l-21-16l-13-5l-13-14l-29-14z"/>
<path fill="#00ff85" fill-rule="evenodd" d="M1182 532l-8-2l-18 3l-44 2l-29 8l-22 3l-36 12l-44 7l-37 10l-22 2l-3 1l-2 5l10 9l-11 13l0 14l354 0l-1-32l-4-9l-47-29l-36-17z"/>
<path fill="#0fff80" fill-rule="evenodd" d="M1145 537l-33 1l-29 8l-22 4l-36 14l-44 7l-29 7l-11 5l-4 9l-17 13l0 14l344 0l-2-36l-14-12l-33-17l-41-16l-29-1z"/>
<path fill="#2aff80" fill-rule="evenodd" d="M1149 542l-33-1l-11 1l-55 15l-25 13l-37 5l-18 6l-12 2l-33 22l-2 5l0 9l336 0l-4-35l-10-10l-30-15l-30-8l-14-6l-22-3z"/>
<path fill="#45ff80" fill-rule="evenodd" d="M1149 546l-33-2l-15 2l-48 14l-28 15l-40 6l-26 9l-26 12l-6 8l0 9l327 0l0-14l-3-18l-7-9l-29-15l-66-17z"/>
<path fill="#60ff80" fill-rule="evenodd" d="M1153 551l-41-4l-40 11l-22 8l-22 12l-40 6l-44 15l-11 6l-2 5l-1 9l319 0l-1-14l-4-18l-9-9l-17-10l-18-6l-47-11z"/>
<path fill="#7bff80" fill-rule="evenodd" d="M1123 551l-22 1l-47 16l-26 13l-32 5l-44 12l-14 7l-4 5l0 9l308 0l-7-32l-6-8l-8-5l-21-9l-26-6l-51-8z"/>
<path fill="#92ff7f" fill-rule="evenodd" d="M1142 555l-22-2l-19 2l-51 18l-18 10l-29 4l-44 11l-17 7l-4 5l0 9l298 0l-6-32l-8-9l-22-10l-58-13z"/>
<path fill="#a8ff7e" fill-rule="evenodd" d="M1149 560l-29-4l-22 3l-62 25l-37 5l-43 12l-10 4l-4 5l0 9l289 0l-7-32l-8-9l-20-8l-47-10z"/>
<path fill="#bdff7c" fill-rule="evenodd" d="M1138 560l-18-2l-15 3l-69 25l-33 4l-37 9l-18 9l-2 2l0 9l279 0l-6-32l-8-8l-33-11l-40-8z"/>
<path fill="#d3ff7b" fill-rule="evenodd" d="M1145 564l-29-3l-79 26l-31 4l-36 9l-18 9l-2 10l265 0l0-27l-5-9l-32-12l-33-7z"/>
<path fill="#e9ff79" fill-rule="evenodd" d="M1138 564l-22-1l-72 24l-41 6l-32 8l-16 9l-1 9l254 0l3-23l-2-9l-5-4l-26-10l-40-9z"/>
<path fill="#ffff78" fill-rule="evenodd" d="M1145 568l-29-2l-69 22l-66 11l-16 6l-5 5l-2 9l245 0l4-18l-4-14l-21-9l-37-10z"/>
<path fill="#fff070" fill-rule="evenodd" d="M1138 569l-18-2l-73 23l-66 11l-12 4l-5 5l-1 9l234 0l4-23l-7-9l-16-7l-40-11z"/>
<path fill="#ffe069" fill-rule="evenodd" d="M1145 573l-25-3l-55 18l-79 13l-13 4l-5 5l-1 9l224 0l2-23l-4-7l-11-6l-33-10z"/>
<path fill="#ffd061" fill-rule="evenodd" d="M1138 574l-18-2l-55 17l-74 12l-20 9l-1 9l216 0l2-23l-2-4l-30-13l-18-5z"/>
<path fill="#ffc059" fill-rule="evenodd" d="M1142 577l-22-3l-30 11l-29 7l-65 9l-14 4l-6 5l-2 9l208 0l0-18l0-5l-4-4l-22-11l-14-4z"/>
<path fill="#ffab4e" fill-rule="evenodd" d="M1134 578l-14-1l-30 10l-25 6l-64 8l-15 4l-6 5l-3 9l201 0l-1-18l-3-5l-18-12l-22-6z"/>
<path fill="#ff9644" fill-rule="evenodd" d="M1127 578l-62 16l-66 9l-15 7l-3 9l194 0l-1-14l-5-9l-13-8l-29-10z"/>
<path fill="#ff8239" fill-rule="evenodd" d="M1134 583l-11-2l-36 11l-84 11l-15 7l-3 9l186 0l-1-14l-6-9l-30-13z"/>
<path fill="#ff6d2f" fill-rule="evenodd" d="M1138 587l-15-4l-36 11l-81 10l-14 6l-3 9l178 0l0-9l-4-9l-25-14z"/>
<path fill="#ff5524" fill-rule="evenodd" d="M1131 586l-8 0l-33 9l-29 4l-55 6l-10 5l-3 9l169 0l0-9l-4-9l-27-15z"/>
<path fill="#ff3d1a" fill-rule="evenodd" d="M1134 590l-11-2l-36 9l-77 9l-9 4l-3 9l160 0l-1-9l-4-9l-19-11z"/>
<path fill="#ff2410" fill-rule="evenodd" d="M1131 591l-121 17l-4 2l-3 9l150 0l0-9l-5-9l-17-10z"/>
<path fill="#ff0c05" fill-rule="evenodd" d="M1134 595l-11-2l-87 16l-21 1l-6 4l0 5l141 0l-3-14l-13-10z"/>
<path fill="#ff0000" fill-rule="evenodd" d="M1131 596l-8-1l-76 14l-11 8l-4 1l-7-4l-5 5l126 0l-2-14l-13-9z"/>
</g>
<rect x="1408.2" y="594.1" width="22.8" height="11.7" fill="#000382"/>
<rect x="1408.2" y="582.8" width="22.8" height="11.7" fill="#000986"/>
<rect x="1408.2" y="571.4" width="22.8" height="11.7" fill="#00148b"/>
<rect x="1408.2" y="560.1" width="22.8" height="11.7" fill="#002390"/>
<rect x="1408.2" y="548.8" width="22.8" height="11.7" fill="#003296"/>
<rect x="1408.2" y="537.5" width="22.8" height="11.7" fill="#0048a2"/>
<rect x="1408.2" y="526.2" width="22.8" height="11.7" fill="#005eae"/>
<rect x="1408.2" y="514.8" width="22.8" height="11.7" fill="#0075ba"/>
<rect x="1408.2" y="503.5" width="22.8" height="11.7" fill="#008dc6"/>
<rect x="1408.2" y="492.2" width="22.8" height="11.7" fill="#00a5d2"/>
<rect x="1408.2" y="480.9" width="22.8" height="11.7" fill="#00c3e1"/>
<rect x="1408.2" y="469.6" width="22.8" height="11.7" fill="#00e1f0"/>
<rect x="1408.2" y="458.2" width="22.8" height="11.7" fill="#00f5fa"/>
<rect x="1408.2" y="446.9" width="22.8" height="11.7" fill="#00fffa"/>
<rect x="1408.2" y="435.6" width="22.8" height="11.7" fill="#00fff0"/>
<rect x="1408.2" y="424.3" width="22.8" height="11.7" fill="#00ffe7"/>
<rect x="1408.2" y="413.0" width="22.8" height="11.7" fill="#00ffdd"/>
<rect x="1408.2" y="401.6" width="22.8" height="11.7" fill="#00ffd3"/>
<rect x="1408.2" y="390.3" width="22.8" height="11.7" fill="#00ffc9"/>
<rect x="1408.2" y="379.0" width="22.8" height="11.7" fill="#00ffc0"/>
<rect x="1408.2" y="367.7" width="22.8" height="11.7" fill="#00ffb6"/>
<rect x="1408.2" y="356.4" width="22.8" height="11.7" fill="#00ffac"/>
<rect x="1408.2" y="345.0" width="22.8" height="11.7" fill="#00ffa2"/>
<rect x="1408.2" y="333.7" width="22.8" height="11.7" fill="#00ff98"/>
<rect x="1408.2" y="322.4" width="22.8" height="11.7" fill="#00ff8f"/>
<rect x="1408.2" y="311.1" width="22.8" height="11.7" fill="#00ff85"/>
<rect x="1408.2" y="299.8" width="22.8" height="11.7" fill="#0dff80"/>
<rect x="1408.2" y="288.4" width="22.8" height="11.7" fill="#27ff80"/>
<rect x="1408.2" y="277.1" width="22.8" height="11.7" fill="#41ff80"/>
<rect x="1408.2" y="265.8" width="22.8" height="11.7" fill="#5bff80"/>
<rect x="1408.2" y="254.5" width="22.8" height="11.7" fill="#75ff80"/>
<rect x="1408.2" y="243.2" width="22.8" height="11.7" fill="#8cff7f"/>
<rect x="1408.2" y="231.8" width="22.8" height="11.7" fill="#a1ff7e"/>
<rect x="1408.2" y="220.5" width="22.8" height="11.7" fill="#b6ff7d"/>
<rect x="1408.2" y="209.2" width="22.8" height="11.7" fill="#cbff7b"/>
<rect x="1408.2" y="197.9" width="22.8" height="11.7" fill="#e0ff7a"/>
<rect x="1408.2" y="186.6" width="22.8" height="11.7" fill="#f5ff79"/>
<rect x="1408.2" y="175.2" width="22.8" height="11.7" fill="#fff874"/>
<rect x="1408.2" y="163.9" width="22.8" height="11.7" fill="#ffe86d"/>
<rect x="1408.2" y="152.6" width="22.8" height="11.7" fill="#ffd965"/>
<rect x="1408.2" y="141.3" width="22.8" height="11.7" fill="#ffca5e"/>
<rect x="1408.2" y="130.0" width="22.8" height="11.7" fill="#ffb955"/>
<rect x="1408.2" y="118.6" width="22.8" height="11.7" fill="#ffa54b"/>
<rect x="1408.2" y="107.3" width="22.8" height="11.7" fill="#ff9141"/>
<rect x="1408.2" y="96.0" width="22.8" height="11.7" fill="#ff7d37"/>
<rect x="1408.2" y="84.7" width="22.8" height="11.7" fill="#ff692d"/>
<rect x="1408.2" y="73.4" width="22.8" height="11.7" fill="#ff5223"/>
<rect x="1408.2" y="62.0" width="22.8" height="11.7" fill="#ff3a19"/>
<rect x="1408.2" y="50.7" width="22.8" height="11.7" fill="#ff230f"/>
<rect x="1408.2" y="39.4" width="22.8" height="11.7" fill="#ff0c05"/>
<path d="M860.4 492.2H1408.2" stroke="#fff" stroke-width="2.2" stroke-dasharray="10 6" fill="none"/>
<path d="M1006.5 605.4V492.2" stroke="#fff" stroke-width="2.2" stroke-dasharray="10 6" fill="none"/>
<path d="M1097.8 605.4V197.9" stroke="#fff" stroke-width="2.2" stroke-dasharray="10 6" fill="none"/>
<path d="M860.4 492.2L1225.6 39.4" stroke="#fff" stroke-width="2.2" stroke-dasharray="10 6" fill="none"/>
<text x="895.0" y="590.0" font-size="32.3" text-anchor="middle" fill="#fff" >I</text>
<text x="1069.5" y="590.0" font-size="32.3" text-anchor="middle" fill="#fff" >II</text>
<text x="1268.0" y="590.0" font-size="32.3" text-anchor="middle" fill="#fff" >III</text>
<text x="1063.5" y="307.5" font-size="32.3" text-anchor="middle" fill="#fff" >IV</text>
<text x="1329.0" y="307.5" font-size="32.3" text-anchor="middle" fill="#fff" >V</text>
<rect x="112.4" y="39.4" width="547.8000000000001" height="566.0" fill="none" stroke="#000" stroke-width="2"/>
<rect x="660.2" y="39.4" width="22.799999999999955" height="566.0" fill="none" stroke="#000" stroke-width="2"/>
<line x1="108.4" y1="605.4" x2="112.4" y2="605.4" stroke="#000" stroke-width="2"/>
<text x="104.6" y="616.3" font-size="36" text-anchor="end" fill="#000" >200</text>
<line x1="110.4" y1="548.8" x2="112.4" y2="548.8" stroke="#000" stroke-width="2"/>
<line x1="108.4" y1="492.2" x2="112.4" y2="492.2" stroke="#000" stroke-width="2"/>
<text x="104.6" y="503.1" font-size="36" text-anchor="end" fill="#000" >250</text>
<line x1="110.4" y1="435.6" x2="112.4" y2="435.6" stroke="#000" stroke-width="2"/>
<line x1="108.4" y1="379.0" x2="112.4" y2="379.0" stroke="#000" stroke-width="2"/>
<text x="104.6" y="389.9" font-size="36" text-anchor="end" fill="#000" >300</text>
<line x1="110.4" y1="322.4" x2="112.4" y2="322.4" stroke="#000" stroke-width="2"/>
<line x1="108.4" y1="265.8" x2="112.4" y2="265.8" stroke="#000" stroke-width="2"/>
<text x="104.6" y="276.7" font-size="36" text-anchor="end" fill="#000" >350</text>
<line x1="110.4" y1="209.2" x2="112.4" y2="209.2" stroke="#000" stroke-width="2"/>
<line x1="108.4" y1="152.6" x2="112.4" y2="152.6" stroke="#000" stroke-width="2"/>
<text x="104.6" y="163.5" font-size="36" text-anchor="end" fill="#000" >400</text>
<line x1="110.4" y1="96.0" x2="112.4" y2="96.0" stroke="#000" stroke-width="2"/>
<line x1="108.4" y1="39.4" x2="112.4" y2="39.4" stroke="#000" stroke-width="2"/>
<text x="104.6" y="50.3" font-size="36" text-anchor="end" fill="#000" >450</text>
<line x1="112.4" y1="605.4" x2="112.4" y2="609.4" stroke="#000" stroke-width="2"/>
<text x="112.4" y="640.7" font-size="36" text-anchor="middle" fill="#000" >250</text>
<line x1="158.1" y1="605.4" x2="158.1" y2="607.4" stroke="#000" stroke-width="2"/>
<line x1="203.7" y1="605.4" x2="203.7" y2="609.4" stroke="#000" stroke-width="2"/>
<text x="203.7" y="640.7" font-size="36" text-anchor="middle" fill="#000" >300</text>
<line x1="249.4" y1="605.4" x2="249.4" y2="607.4" stroke="#000" stroke-width="2"/>
<line x1="295.0" y1="605.4" x2="295.0" y2="609.4" stroke="#000" stroke-width="2"/>
<text x="295.0" y="640.7" font-size="36" text-anchor="middle" fill="#000" >350</text>
<line x1="340.6" y1="605.4" x2="340.6" y2="607.4" stroke="#000" stroke-width="2"/>
<line x1="386.3" y1="605.4" x2="386.3" y2="609.4" stroke="#000" stroke-width="2"/>
<text x="386.3" y="640.7" font-size="36" text-anchor="middle" fill="#000" >400</text>
<line x1="432.0" y1="605.4" x2="432.0" y2="607.4" stroke="#000" stroke-width="2"/>
<line x1="477.6" y1="605.4" x2="477.6" y2="609.4" stroke="#000" stroke-width="2"/>
<text x="477.6" y="640.7" font-size="36" text-anchor="middle" fill="#000" >450</text>
<line x1="523.2" y1="605.4" x2="523.2" y2="607.4" stroke="#000" stroke-width="2"/>
<line x1="568.9" y1="605.4" x2="568.9" y2="609.4" stroke="#000" stroke-width="2"/>
<text x="568.9" y="640.7" font-size="36" text-anchor="middle" fill="#000" >500</text>
<line x1="614.6" y1="605.4" x2="614.6" y2="607.4" stroke="#000" stroke-width="2"/>
<line x1="660.2" y1="605.4" x2="660.2" y2="609.4" stroke="#000" stroke-width="2"/>
<text x="660.2" y="640.7" font-size="36" text-anchor="middle" fill="#000" >550</text>
<text x="387.7" y="673.8" font-size="36.3" text-anchor="middle" fill="#000" >Emission (nm)</text>
<text transform="translate(36,322) rotate(-90)" font-size="36.3" text-anchor="middle">Excitation (nm)</text>
<text x="-2.9" y="46.8" font-size="64" text-anchor="start" fill="#000" >a</text>
<text x="689.3" y="62.0" font-size="33" text-anchor="start" fill="#000" >2.4</text>
<text x="689.3" y="198.0" font-size="33" text-anchor="start" fill="#000" >1.8</text>
<text x="689.3" y="334.0" font-size="33" text-anchor="start" fill="#000" >1.2</text>
<text x="689.3" y="470.0" font-size="33" text-anchor="start" fill="#000" >0.6</text>
<text x="689.3" y="606.0" font-size="33" text-anchor="start" fill="#000" >0.0</text>
<text x="119.7" y="81.3" font-size="41.6" text-anchor="start" fill="#fff" >High humic-like</text>
<rect x="860.4" y="39.4" width="547.8000000000001" height="566.0" fill="none" stroke="#000" stroke-width="2"/>
<rect x="1408.2" y="39.4" width="22.799999999999955" height="566.0" fill="none" stroke="#000" stroke-width="2"/>
<line x1="856.4" y1="605.4" x2="860.4" y2="605.4" stroke="#000" stroke-width="2"/>
<text x="852.6" y="616.3" font-size="36" text-anchor="end" fill="#000" >200</text>
<line x1="858.4" y1="548.8" x2="860.4" y2="548.8" stroke="#000" stroke-width="2"/>
<line x1="856.4" y1="492.2" x2="860.4" y2="492.2" stroke="#000" stroke-width="2"/>
<text x="852.6" y="503.1" font-size="36" text-anchor="end" fill="#000" >250</text>
<line x1="858.4" y1="435.6" x2="860.4" y2="435.6" stroke="#000" stroke-width="2"/>
<line x1="856.4" y1="379.0" x2="860.4" y2="379.0" stroke="#000" stroke-width="2"/>
<text x="852.6" y="389.9" font-size="36" text-anchor="end" fill="#000" >300</text>
<line x1="858.4" y1="322.4" x2="860.4" y2="322.4" stroke="#000" stroke-width="2"/>
<line x1="856.4" y1="265.8" x2="860.4" y2="265.8" stroke="#000" stroke-width="2"/>
<text x="852.6" y="276.7" font-size="36" text-anchor="end" fill="#000" >350</text>
<line x1="858.4" y1="209.2" x2="860.4" y2="209.2" stroke="#000" stroke-width="2"/>
<line x1="856.4" y1="152.6" x2="860.4" y2="152.6" stroke="#000" stroke-width="2"/>
<text x="852.6" y="163.5" font-size="36" text-anchor="end" fill="#000" >400</text>
<line x1="858.4" y1="96.0" x2="860.4" y2="96.0" stroke="#000" stroke-width="2"/>
<line x1="856.4" y1="39.4" x2="860.4" y2="39.4" stroke="#000" stroke-width="2"/>
<text x="852.6" y="50.3" font-size="36" text-anchor="end" fill="#000" >450</text>
<line x1="860.4" y1="605.4" x2="860.4" y2="609.4" stroke="#000" stroke-width="2"/>
<text x="860.4" y="640.7" font-size="36" text-anchor="middle" fill="#000" >250</text>
<line x1="906.0" y1="605.4" x2="906.0" y2="607.4" stroke="#000" stroke-width="2"/>
<line x1="951.7" y1="605.4" x2="951.7" y2="609.4" stroke="#000" stroke-width="2"/>
<text x="951.7" y="640.7" font-size="36" text-anchor="middle" fill="#000" >300</text>
<line x1="997.4" y1="605.4" x2="997.4" y2="607.4" stroke="#000" stroke-width="2"/>
<line x1="1043.0" y1="605.4" x2="1043.0" y2="609.4" stroke="#000" stroke-width="2"/>
<text x="1043.0" y="640.7" font-size="36" text-anchor="middle" fill="#000" >350</text>
<line x1="1088.7" y1="605.4" x2="1088.7" y2="607.4" stroke="#000" stroke-width="2"/>
<line x1="1134.3" y1="605.4" x2="1134.3" y2="609.4" stroke="#000" stroke-width="2"/>
<text x="1134.3" y="640.7" font-size="36" text-anchor="middle" fill="#000" >400</text>
<line x1="1180.0" y1="605.4" x2="1180.0" y2="607.4" stroke="#000" stroke-width="2"/>
<line x1="1225.6" y1="605.4" x2="1225.6" y2="609.4" stroke="#000" stroke-width="2"/>
<text x="1225.6" y="640.7" font-size="36" text-anchor="middle" fill="#000" >450</text>
<line x1="1271.2" y1="605.4" x2="1271.2" y2="607.4" stroke="#000" stroke-width="2"/>
<line x1="1316.9" y1="605.4" x2="1316.9" y2="609.4" stroke="#000" stroke-width="2"/>
<text x="1316.9" y="640.7" font-size="36" text-anchor="middle" fill="#000" >500</text>
<line x1="1362.5" y1="605.4" x2="1362.5" y2="607.4" stroke="#000" stroke-width="2"/>
<line x1="1408.2" y1="605.4" x2="1408.2" y2="609.4" stroke="#000" stroke-width="2"/>
<text x="1408.2" y="640.7" font-size="36" text-anchor="middle" fill="#000" >550</text>
<text x="1135.7" y="673.8" font-size="36.3" text-anchor="middle" fill="#000" >Emission (nm)</text>
<text transform="translate(784,322) rotate(-90)" font-size="36.3" text-anchor="middle">Excitation (nm)</text>
<text x="750.8" y="46.8" font-size="64" text-anchor="start" fill="#000" >b</text>
<text x="1437.3" y="62.0" font-size="33" text-anchor="start" fill="#000" >0.8</text>
<text x="1437.3" y="198.0" font-size="33" text-anchor="start" fill="#000" >0.6</text>
<text x="1437.3" y="334.0" font-size="33" text-anchor="start" fill="#000" >0.4</text>
<text x="1437.3" y="470.0" font-size="33" text-anchor="start" fill="#000" >0.2</text>
<text x="1437.3" y="606.0" font-size="33" text-anchor="start" fill="#000" >0.0</text>
<text x="869.7" y="81.3" font-size="41.6" text-anchor="start" fill="#fff" >High protein-like</text>
<rect x="97.6" y="726" width="227.9" height="426" fill="#f0f0f0"/>
<rect x="446.5" y="726" width="284.3" height="426" fill="#f0f0f0"/>
<defs><clipPath id="clc"><rect x="97.6" y="726" width="633.1999999999999" height="426"/></clipPath></defs>
<g clip-path="url(#clc)" fill="none" stroke-width="4.6" stroke-linejoin="round" stroke-linecap="round">
<path d="M97.0 1129.0L98 1129.0L99 1129.0L100 1129.0L101 1129.0L102 1129.0L103 1129.0L104 1129.0L105 1129.0L106 1129.0L107 1128.9L108 1128.9L109 1128.9L110 1128.9L111 1128.9L112 1128.9L113 1128.8L114 1128.8L115 1128.8L116 1128.8L117 1128.7L118 1128.7L119 1128.7L120 1128.7L121 1128.6L122 1128.6L123 1128.6L124 1128.6L125 1128.5L126 1128.5L127 1128.5L128 1128.4L129 1128.4L130 1128.4L131 1128.4L132 1128.3L133 1128.3L134 1128.3L135 1128.2L136 1128.2L137 1128.1L138 1128.1L139 1128.1L140 1128.0L141 1128.0L142 1127.9L143 1127.9L144 1127.8L145 1127.8L146 1127.7L147 1127.6L148 1127.6L149 1127.5L150 1127.4L151 1127.3L152 1127.2L153 1127.1L154 1126.9L155 1126.8L156 1126.6L157 1126.4L158 1126.2L159 1126.0L160 1125.7L161 1125.5L162 1125.2L163 1124.9L164 1124.6L165 1124.3L166 1124.0L167 1123.6L168 1123.3L169 1122.9L170 1122.5L171 1122.1L172 1121.7L173 1121.2L174 1120.8L175 1120.3L176 1119.8L177 1119.3L178 1118.8L179 1118.3L180 1117.8L181 1117.2L182 1116.7L183 1116.1L184 1115.5L185 1114.9L186 1114.2L187 1113.5L188 1112.7L189 1111.8L190 1110.7L191 1109.6L192 1108.3L193 1107.0L194 1105.5L195 1104.0L196 1102.4L197 1100.7L198 1098.9L199 1097.0L200 1095.1L201 1093.0L202 1091.0L203 1088.8L204 1086.7L205 1084.4L206 1082.1L207 1079.8L208 1077.4L209 1075.0L210 1072.6L211 1070.2L212 1067.7L213 1065.2L214 1062.7L215 1060.1L216 1057.5L217 1054.7L218 1051.8L219 1048.8L220 1045.7L221 1042.4L222 1039.0L223 1035.5L224 1031.9L225 1028.2L226 1024.4L227 1020.6L228 1016.6L229 1012.6L230 1008.5L231 1004.3L232 1000.1L233 995.8L234 991.5L235 987.2L236 982.8L237 978.4L238 973.9L239 969.5L240 964.9L241 960.2L242 955.2L243 949.9L244 944.4L245 938.6L246 932.8L247 926.8L248 920.8L249 914.9L250 908.9L251 903.2L252 897.5L253 892.1L254 887.0L255 882.2L256 877.8L257 873.8L258 870.2L259 867.0L260 864.1L261 861.4L262 858.8L263 856.4L264 854.2L265 851.9L266 849.7L267 847.5L268 845.2L269 842.8L270 840.3L271 837.7L272 835.1L273 832.4L274 829.8L275 827.0L276 824.0L277 820.9L278 817.8L279 814.9L280 812.4L281 810.5L282 809.4L283 809.5L284 811.1L285 814.5L286 819.9L287 826.8L288 834.8L289 843.4L290 852.0L291 860.3L292 868.0L293 875.2L294 882.1L295 888.3L296 892.3L297 892.0L298 886.3L299 876.8L300 867.1L301 859.5L302 853.9L303 849.5L304 846.3L305 844.5L306 844.7L307 847.9L308 854.8L309 865.5L310 879.3L311 895.2L312 912.2L313 929.4L314 945.8L315 960.9L316 974.1L317 985.4L318 994.5L319 1001.3L320 1006.3L321 1010.1L322 1013.2L323 1015.7L324 1017.6L325 1018.6L326 1018.1L327 1015.6L328 1010.8L329 1004.6L330 997.8L331 990.6L332 983.0L333 974.8L334 966.3L335 957.8L336 949.9L337 943.1L338 937.8L339 934.6L340 934.1L341 936.6L342 942.7L343 952.1L344 964.3L345 978.4L346 993.6L347 1008.8L348 1023.4L349 1036.8L350 1048.7L351 1058.8L352 1066.7L353 1072.0L354 1075.1L355 1077.1L356 1078.5L357 1079.9L358 1081.1L359 1082.2L360 1083.3L361 1084.2L362 1085.0L363 1085.8L364 1086.4L365 1087.0L366 1087.5L367 1087.9L368 1088.2L369 1088.5L370 1088.7L371 1088.9L372 1088.9L373 1088.8L374 1088.3L375 1087.4L376 1086.0L377 1084.3L378 1082.1L379 1079.4L380 1075.9L381 1071.7L382 1066.7L383 1061.0L384 1054.8L385 1048.3L386 1041.8L387 1035.8L388 1030.5L389 1026.5L390 1024.0L391 1023.3L392 1024.4L393 1027.5L394 1032.4L395 1038.7L396 1046.0L397 1053.8L398 1061.7L399 1069.2L400 1076.1L401 1082.2L402 1087.4L403 1091.5L404 1094.3L405 1096.0L406 1097.1L407 1097.9L408 1098.5L409 1099.1L410 1099.6L411 1100.0L412 1100.4L413 1100.8L414 1101.1L415 1101.4L416 1101.7L417 1102.0L418 1102.4L419 1102.7L420 1103.1L421 1103.6L422 1104.0L423 1104.5L424 1105.0L425 1105.5L426 1106.0L427 1106.5L428 1107.0L429 1107.5L430 1108.0L431 1108.5L432 1109.0L433 1109.5L434 1110.0L435 1110.5L436 1110.9L437 1111.4L438 1111.8L439 1112.2L440 1112.6L441 1112.9L442 1113.2L443 1113.5L444 1113.8L445 1114.0L446 1114.2L447 1114.4L448 1114.5L449 1114.6L450 1114.6L451 1114.6L452 1114.5L453 1114.4L454 1114.2L455 1114.0L456 1113.8L457 1113.5L458 1113.2L459 1112.8L460 1112.4L461 1111.9L462 1111.3L463 1110.6L464 1109.6L465 1107.9L466 1105.6L467 1102.6L468 1099.0L469 1095.1L470 1090.7L471 1086.2L472 1081.7L473 1077.5L474 1073.8L475 1071.0L476 1069.3L477 1068.7L478 1069.3L479 1071.2L480 1074.2L481 1078.1L482 1082.6L483 1087.4L484 1092.2L485 1096.9L486 1101.1L487 1104.9L488 1108.1L489 1110.6L490 1112.4L491 1113.6L492 1114.5L493 1115.1L494 1115.7L495 1116.1L496 1116.5L497 1116.9L498 1117.2L499 1117.5L500 1117.8L501 1118.0L502 1118.3L503 1118.5L504 1118.8L505 1119.0L506 1119.2L507 1119.4L508 1119.6L509 1119.8L510 1120.0L511 1120.2L512 1120.3L513 1120.5L514 1120.6L515 1120.7L516 1120.8L517 1120.8L518 1120.9L519 1120.9" stroke="#6b1b2c"/>
<path d="M97.0 1129.0L98 1129.0L99 1129.0L100 1129.0L101 1129.0L102 1129.0L103 1129.0L104 1129.0L105 1129.0L106 1129.0L107 1129.0L108 1129.0L109 1129.0L110 1128.9L111 1128.9L112 1128.9L113 1128.9L114 1128.9L115 1128.9L116 1128.8L117 1128.8L118 1128.8L119 1128.8L120 1128.7L121 1128.7L122 1128.7L123 1128.6L124 1128.6L125 1128.6L126 1128.5L127 1128.5L128 1128.5L129 1128.4L130 1128.4L131 1128.2L132 1128.1L133 1127.8L134 1127.5L135 1127.1L136 1126.7L137 1126.2L138 1125.6L139 1125.0L140 1124.4L141 1123.8L142 1123.1L143 1122.4L144 1121.7L145 1121.0L146 1120.3L147 1119.6L148 1118.9L149 1118.2L150 1117.6L151 1116.9L152 1116.3L153 1115.7L154 1115.1L155 1114.4L156 1113.8L157 1113.2L158 1112.5L159 1111.9L160 1111.2L161 1110.6L162 1109.9L163 1109.2L164 1108.6L165 1107.9L166 1107.2L167 1106.5L168 1105.7L169 1105.0L170 1104.3L171 1103.5L172 1102.7L173 1101.9L174 1101.1L175 1100.3L176 1099.4L177 1098.5L178 1097.6L179 1096.7L180 1095.8L181 1094.8L182 1093.8L183 1092.8L184 1091.8L185 1090.7L186 1089.6L187 1088.5L188 1087.3L189 1086.0L190 1084.6L191 1083.2L192 1081.7L193 1080.2L194 1078.6L195 1077.0L196 1075.3L197 1073.5L198 1071.7L199 1069.9L200 1068.0L201 1066.1L202 1064.2L203 1062.2L204 1060.2L205 1058.2L206 1056.1L207 1054.0L208 1052.0L209 1049.9L210 1047.8L211 1045.7L212 1043.5L213 1041.4L214 1039.3L215 1037.2L216 1035.0L217 1032.8L218 1030.5L219 1028.2L220 1025.8L221 1023.4L222 1020.9L223 1018.4L224 1015.8L225 1013.2L226 1010.6L227 1008.0L228 1005.4L229 1002.8L230 1000.1L231 997.5L232 994.9L233 992.3L234 989.7L235 987.1L236 984.6L237 982.1L238 979.7L239 977.3L240 974.9L241 972.5L242 970.2L243 967.8L244 965.4L245 963.1L246 960.7L247 958.4L248 956.0L249 953.7L250 951.5L251 949.3L252 947.1L253 945.0L254 942.9L255 941.0L256 939.1L257 937.3L258 935.6L259 934.1L260 932.6L261 931.3L262 930.1L263 928.9L264 927.7L265 926.5L266 925.2L267 923.9L268 922.4L269 920.7L270 918.8L271 916.5L272 914.0L273 911.4L274 908.7L275 906.0L276 903.1L277 900.0L278 897.0L279 894.2L280 891.7L281 889.9L282 888.7L283 888.5L284 889.3L285 891.2L286 894.3L287 898.3L288 902.9L289 907.8L290 912.7L291 917.5L292 921.9L293 926.0L294 930.0L295 933.5L296 935.5L297 934.5L298 929.3L299 920.9L300 912.5L301 906.0L302 901.2L303 897.4L304 894.6L305 893.0L306 893.2L307 895.8L308 901.5L309 910.3L310 921.6L311 934.7L312 948.7L313 962.8L314 976.3L315 988.7L316 999.6L317 1008.9L318 1016.3L319 1022.0L320 1026.0L321 1029.2L322 1031.7L323 1033.8L324 1035.4L325 1036.0L326 1035.3L327 1032.2L328 1026.7L329 1019.4L330 1011.4L331 1003.0L332 994.1L333 984.5L334 974.5L335 964.6L336 955.4L337 947.3L338 941.2L339 937.4L340 936.5L341 939.0L342 945.2L343 954.8L344 967.3L345 981.7L346 997.1L347 1012.7L348 1027.6L349 1041.3L350 1053.4L351 1063.7L352 1071.8L353 1077.2L354 1080.4L355 1082.4L356 1083.9L357 1085.3L358 1086.5L359 1087.7L360 1088.7L361 1089.7L362 1090.5L363 1091.3L364 1091.9L365 1092.5L366 1093.0L367 1093.5L368 1093.8L369 1094.1L370 1094.3L371 1094.4L372 1094.5L373 1094.3L374 1093.8L375 1092.9L376 1091.4L377 1089.6L378 1087.4L379 1084.5L380 1080.8L381 1076.4L382 1071.2L383 1065.2L384 1058.7L385 1051.8L386 1045.1L387 1038.7L388 1033.3L389 1029.1L390 1026.4L391 1025.6L392 1026.8L393 1029.9L394 1034.9L395 1041.4L396 1048.8L397 1056.8L398 1064.9L399 1072.6L400 1079.6L401 1085.9L402 1091.2L403 1095.4L404 1098.3L405 1100.0L406 1101.1L407 1101.9L408 1102.6L409 1103.2L410 1103.7L411 1104.2L412 1104.6L413 1104.9L414 1105.3L415 1105.6L416 1105.9L417 1106.2L418 1106.5L419 1106.9L420 1107.2L421 1107.7L422 1108.1L423 1108.5L424 1109.0L425 1109.4L426 1109.9L427 1110.4L428 1110.8L429 1111.3L430 1111.7L431 1112.2L432 1112.6L433 1113.1L434 1113.5L435 1113.9L436 1114.3L437 1114.7L438 1115.1L439 1115.5L440 1115.8L441 1116.1L442 1116.4L443 1116.6L444 1116.9L445 1117.1L446 1117.2L447 1117.4L448 1117.5L449 1117.5L450 1117.5L451 1117.5L452 1117.5L453 1117.4L454 1117.2L455 1117.0L456 1116.8L457 1116.5L458 1116.2L459 1115.8L460 1115.4L461 1115.0L462 1114.4L463 1113.8L464 1112.8L465 1111.3L466 1109.0L467 1106.2L468 1102.9L469 1099.1L470 1095.0L471 1090.7L472 1086.5L473 1082.5L474 1079.0L475 1076.4L476 1074.7L477 1074.2L478 1074.8L479 1076.6L480 1079.4L481 1083.0L482 1087.3L483 1091.8L484 1096.3L485 1100.7L486 1104.7L487 1108.2L488 1111.2L489 1113.6L490 1115.3L491 1116.4L492 1117.2L493 1117.8L494 1118.3L495 1118.8L496 1119.1L497 1119.5L498 1119.8L499 1120.0L500 1120.3L501 1120.5L502 1120.7L503 1120.9L504 1121.0L505 1121.2L506 1121.4L507 1121.5L508 1121.6L509 1121.8L510 1121.9L511 1122.0L512 1122.1L513 1122.2L514 1122.4L515 1122.5L516 1122.6L517 1122.7L518 1122.8L519 1123.0L520 1123.1L521 1123.3L522 1123.4L523 1123.6L524 1123.8L525 1123.9L526 1124.1L527 1124.3L528 1124.5L529 1124.6L530 1124.8L531 1125.0L532 1125.1L533 1125.2L534 1125.4L535 1125.5L536 1125.6L537 1125.6L538 1125.7L539 1125.7L540 1125.7L541 1125.5L542 1125.3L543 1124.9L544 1124.5L545 1124.1L546 1123.7L547 1123.3L548 1122.8L549 1122.3L550 1121.9L551 1121.5L552 1121.2L553 1121.0L554 1121.0L555 1121.1L556 1121.4L557 1121.8L558 1122.4L559 1123.1L560 1123.8L561 1124.5L562 1125.2L563 1125.9L564 1126.4L565 1126.9L566 1127.3L567 1127.6L568 1127.9L569 1128.2L570 1128.3L571 1128.4L572 1128.4L573 1128.5L574 1128.5L575 1128.5L576 1128.6L577 1128.6L578 1128.6L579 1128.6L580 1128.7L581 1128.7L582 1128.7L583 1128.7L584 1128.8L585 1128.8L586 1128.8L587 1128.8L588 1128.8L589 1128.8L590 1128.9L591 1128.9L592 1128.9L593 1128.9L594 1128.9L595 1128.9L596 1128.9L597 1128.9L598 1129.0L599 1129.0L600 1129.0L601 1129.0L602 1129.0L603 1129.0L604 1129.0L605 1129.0L606 1129.0L607 1129.0L608 1129.0L609 1129.0L610 1129.0L611 1129.0L612 1129.0L613 1129.0L614 1129.0L615 1129.0L616 1129.0L617 1129.0L618 1129.0L619 1129.0L620 1129.0L621 1129.0L622 1129.0L623 1129.0L624 1129.0L625 1129.0L626 1129.0L627 1129.0L628 1129.0L629 1129.0L630 1129.0L631 1129.0L632 1129.0L633 1129.0L634 1129.0L635 1129.0L636 1129.0L637 1129.0L638 1129.0L639 1129.0L640 1129.0L641 1129.0L642 1129.0L643 1129.0L644 1129.0L645 1129.0L646 1129.0L647 1129.0L648 1129.0L649 1129.0L650 1129.0L651 1129.0L652 1129.0L653 1129.0L654 1129.0L655 1129.0L656 1129.0L657 1129.0L658 1129.0L659 1129.0L660 1129.0L661 1129.0L662 1129.0L663 1129.0L664 1129.0L665 1129.0L666 1129.0L667 1129.0L668 1129.0L669 1129.0L670 1129.0L671 1129.0L672 1129.0L673 1129.0L674 1129.0L675 1129.0L676 1129.0L677 1129.0L678 1129.0L679 1129.0L680 1129.0L681 1129.0L682 1129.0L683 1129.0L684 1129.0L685 1129.0L686 1129.0L687 1129.0L688 1129.0L689 1129.0L690 1129.0L691 1129.0L692 1129.0L693 1129.0L694 1129.0L695 1129.0L696 1129.0L697 1129.0L698 1129.0L699 1129.0L700 1129.0L701 1129.0L702 1129.0L703 1129.0L704 1129.0L705 1129.0L706 1129.0L707 1129.0L708 1129.0L709 1129.0L710 1129.0L711 1129.0L712 1129.0L713 1129.0L714 1129.0L715 1129.0L716 1129.0L717 1129.0L718 1129.0L719 1129.0L720 1129.0L721 1129.0L722 1129.0L723 1129.0L724 1129.0L725 1129.0L726 1129.0L727 1129.0L728 1129.0L729 1129.0L730 1129.0L731 1129.0L732 1129.0L733 1129.0L734 1129.0L735 1129.0" stroke="#8b2640"/>
<path d="M97.0 1129.0L98 1129.0L99 1129.0L100 1129.0L101 1129.0L102 1129.0L103 1129.0L104 1129.0L105 1129.0L106 1129.0L107 1129.0L108 1129.0L109 1129.0L110 1128.9L111 1128.9L112 1128.9L113 1128.9L114 1128.9L115 1128.9L116 1128.8L117 1128.8L118 1128.8L119 1128.8L120 1128.7L121 1128.7L122 1128.7L123 1128.6L124 1128.6L125 1128.6L126 1128.5L127 1128.5L128 1128.5L129 1128.4L130 1128.4L131 1128.3L132 1128.1L133 1127.9L134 1127.6L135 1127.3L136 1126.9L137 1126.5L138 1126.1L139 1125.6L140 1125.0L141 1124.5L142 1123.9L143 1123.3L144 1122.7L145 1122.1L146 1121.5L147 1120.9L148 1120.4L149 1119.8L150 1119.2L151 1118.6L152 1118.1L153 1117.5L154 1117.0L155 1116.4L156 1115.8L157 1115.2L158 1114.6L159 1114.0L160 1113.4L161 1112.8L162 1112.2L163 1111.6L164 1110.9L165 1110.3L166 1109.6L167 1108.9L168 1108.2L169 1107.5L170 1106.8L171 1106.1L172 1105.3L173 1104.6L174 1103.8L175 1103.0L176 1102.2L177 1101.4L178 1100.5L179 1099.6L180 1098.7L181 1097.8L182 1096.9L183 1095.9L184 1095.0L185 1094.0L186 1092.9L187 1091.8L188 1090.7L189 1089.5L190 1088.2L191 1086.9L192 1085.5L193 1084.0L194 1082.5L195 1080.9L196 1079.3L197 1077.7L198 1076.0L199 1074.3L200 1072.5L201 1070.7L202 1068.9L203 1067.0L204 1065.1L205 1063.2L206 1061.3L207 1059.4L208 1057.4L209 1055.5L210 1053.5L211 1051.6L212 1049.6L213 1047.7L214 1045.7L215 1043.7L216 1041.8L217 1039.8L218 1037.8L219 1035.7L220 1033.6L221 1031.5L222 1029.3L223 1027.1L224 1024.9L225 1022.7L226 1020.4L227 1018.2L228 1015.9L229 1013.6L230 1011.3L231 1008.9L232 1006.6L233 1004.3L234 1002.0L235 999.6L236 997.3L237 995.0L238 992.6L239 990.3L240 988.0L241 985.6L242 983.2L243 980.7L244 978.2L245 975.6L246 973.1L247 970.5L248 967.9L249 965.4L250 962.8L251 960.4L252 957.9L253 955.6L254 953.3L255 951.2L256 949.2L257 947.2L258 945.5L259 943.8L260 942.3L261 940.9L262 939.5L263 938.2L264 937.0L265 935.7L266 934.5L267 933.2L268 931.8L269 930.4L270 928.9L271 927.2L272 925.4L273 923.7L274 921.9L275 920.1L276 918.1L277 916.0L278 914.0L279 912.1L280 910.4L281 909.1L282 908.4L283 908.3L284 909.0L285 910.8L286 913.4L287 916.8L288 920.8L289 925.1L290 929.3L291 933.4L292 937.3L293 940.9L294 944.3L295 947.4L296 949.3L297 949.2L298 946.2L299 941.3L300 936.4L301 932.5L302 929.6L303 927.4L304 925.7L305 924.9L306 925.3L307 927.7L308 932.6L309 940.2L310 950.0L311 961.4L312 973.5L313 985.8L314 997.5L315 1008.3L316 1017.7L317 1025.7L318 1032.2L319 1037.1L320 1040.6L321 1043.4L322 1045.6L323 1047.4L324 1048.7L325 1049.4L326 1048.8L327 1046.5L328 1042.3L329 1036.8L330 1030.7L331 1024.3L332 1017.5L333 1010.2L334 1002.6L335 995.0L336 988.0L337 981.9L338 977.2L339 974.3L340 973.7L341 975.7L342 980.6L343 988.3L344 998.2L345 1009.7L346 1022.0L347 1034.3L348 1046.2L349 1057.1L350 1066.7L351 1074.9L352 1081.4L353 1085.7L354 1088.2L355 1089.8L356 1091.0L357 1092.1L358 1093.1L359 1094.0L360 1094.8L361 1095.6L362 1096.3L363 1096.9L364 1097.4L365 1097.9L366 1098.3L367 1098.6L368 1098.9L369 1099.1L370 1099.3L371 1099.4L372 1099.4L373 1099.3L374 1098.9L375 1098.1L376 1097.0L377 1095.6L378 1093.8L379 1091.5L380 1088.6L381 1085.1L382 1081.0L383 1076.3L384 1071.1L385 1065.7L386 1060.4L387 1055.4L388 1051.0L389 1047.7L390 1045.6L391 1045.0L392 1045.9L393 1048.4L394 1052.4L395 1057.6L396 1063.6L397 1070.0L398 1076.4L399 1082.6L400 1088.2L401 1093.3L402 1097.5L403 1100.9L404 1103.2L405 1104.6L406 1105.4L407 1106.1L408 1106.6L409 1107.1L410 1107.5L411 1107.9L412 1108.2L413 1108.5L414 1108.7L415 1109.0L416 1109.2L417 1109.5L418 1109.8L419 1110.0L420 1110.4L421 1110.7L422 1111.1L423 1111.4L424 1111.8L425 1112.2L426 1112.6L427 1113.0L428 1113.4L429 1113.8L430 1114.2L431 1114.6L432 1114.9L433 1115.3L434 1115.7L435 1116.1L436 1116.4L437 1116.7L438 1117.1L439 1117.4L440 1117.7L441 1117.9L442 1118.2L443 1118.4L444 1118.6L445 1118.8L446 1118.9L447 1119.0L448 1119.1L449 1119.2L450 1119.2L451 1119.2L452 1119.1L453 1119.0L454 1118.9L455 1118.8L456 1118.6L457 1118.4L458 1118.2L459 1117.9L460 1117.6L461 1117.3L462 1116.9L463 1116.4L464 1115.7L465 1114.5L466 1112.9L467 1110.8L468 1108.3L469 1105.5L470 1102.5L471 1099.3L472 1096.2L473 1093.2L474 1090.7L475 1088.7L476 1087.5L477 1087.1L478 1087.6L479 1088.9L480 1091.0L481 1093.7L482 1096.9L483 1100.3L484 1103.7L485 1107.0L486 1110.0L487 1112.6L488 1114.8L489 1116.6L490 1117.9L491 1118.8L492 1119.3L493 1119.8L494 1120.2L495 1120.5L496 1120.8L497 1121.0L498 1121.3L499 1121.5L500 1121.7L501 1121.8L502 1122.0L503 1122.2L504 1122.4L505 1122.5L506 1122.7L507 1122.8L508 1122.9L509 1123.1L510 1123.2L511 1123.3L512 1123.4L513 1123.5L514 1123.6L515 1123.7L516 1123.8L517 1123.9L518 1124.0L519 1124.1L520 1124.2L521 1124.3L522 1124.4L523 1124.5L524 1124.6L525 1124.7L526 1124.8L527 1125.0L528 1125.1L529 1125.1L530 1125.2L531 1125.3L532 1125.4L533 1125.5L534 1125.5L535 1125.6L536 1125.7L537 1125.7L538 1125.7L539 1125.7L540 1125.7L541 1125.5L542 1125.3L543 1124.9L544 1124.5L545 1124.1L546 1123.7L547 1123.3L548 1122.8L549 1122.3L550 1121.9L551 1121.5L552 1121.2L553 1121.0L554 1121.0L555 1121.1L556 1121.4L557 1121.8L558 1122.4L559 1123.1L560 1123.8L561 1124.5L562 1125.2L563 1125.9L564 1126.4L565 1126.9L566 1127.3L567 1127.6L568 1127.9L569 1128.2L570 1128.3L571 1128.4L572 1128.4L573 1128.5L574 1128.5L575 1128.5L576 1128.6L577 1128.6L578 1128.6L579 1128.6L580 1128.7L581 1128.7L582 1128.7L583 1128.7L584 1128.8L585 1128.8L586 1128.8L587 1128.8L588 1128.8L589 1128.8L590 1128.9L591 1128.9L592 1128.9L593 1128.9L594 1128.9L595 1128.9L596 1128.9L597 1128.9L598 1129.0L599 1129.0L600 1129.0L601 1129.0L602 1129.0L603 1129.0L604 1129.0L605 1129.0L606 1129.0L607 1129.0L608 1129.0L609 1129.0L610 1129.0L611 1129.0L612 1129.0L613 1129.0L614 1129.0L615 1129.0L616 1129.0L617 1129.0L618 1129.0L619 1129.0L620 1129.0L621 1129.0L622 1129.0L623 1129.0L624 1129.0L625 1129.0L626 1129.0L627 1129.0L628 1129.0L629 1129.0L630 1129.0L631 1129.0L632 1129.0L633 1129.0L634 1129.0L635 1129.0L636 1129.0L637 1129.0L638 1129.0L639 1129.0L640 1129.0L641 1129.0L642 1129.0L643 1129.0L644 1129.0L645 1129.0L646 1129.0L647 1129.0L648 1129.0L649 1129.0L650 1129.0L651 1129.0L652 1129.0L653 1129.0L654 1129.0L655 1129.0L656 1129.0L657 1129.0L658 1129.0L659 1129.0L660 1129.0L661 1129.0L662 1129.0L663 1129.0L664 1129.0L665 1129.0L666 1129.0L667 1129.0L668 1129.0L669 1129.0L670 1129.0L671 1129.0L672 1129.0L673 1129.0L674 1129.0L675 1129.0L676 1129.0L677 1129.0L678 1129.0L679 1129.0L680 1129.0L681 1129.0L682 1129.0L683 1129.0L684 1129.0L685 1129.0L686 1129.0L687 1129.0L688 1129.0L689 1129.0L690 1129.0L691 1129.0L692 1129.0L693 1129.0L694 1129.0L695 1129.0L696 1129.0L697 1129.0L698 1129.0L699 1129.0L700 1129.0L701 1129.0L702 1129.0L703 1129.0L704 1129.0L705 1129.0L706 1129.0L707 1129.0L708 1129.0L709 1129.0L710 1129.0L711 1129.0L712 1129.0L713 1129.0L714 1129.0L715 1129.0L716 1129.0L717 1129.0L718 1129.0L719 1129.0L720 1129.0L721 1129.0L722 1129.0L723 1129.0L724 1129.0L725 1129.0L726 1129.0L727 1129.0L728 1129.0L729 1129.0L730 1129.0L731 1129.0L732 1129.0L733 1129.0L734 1129.0L735 1129.0" stroke="#a33c56"/>
<path d="M97.0 1130.7L98 1130.7L99 1130.7L100 1130.7L101 1130.7L102 1130.7L103 1130.7L104 1130.7L105 1130.7L106 1130.6L107 1130.6L108 1130.6L109 1130.6L110 1130.6L111 1130.6L112 1130.6L113 1130.6L114 1130.5L115 1130.5L116 1130.5L117 1130.5L118 1130.5L119 1130.5L120 1130.4L121 1130.4L122 1130.4L123 1130.4L124 1130.4L125 1130.3L126 1130.3L127 1130.3L128 1130.2L129 1130.2L130 1130.2L131 1130.1L132 1130.0L133 1129.9L134 1129.8L135 1129.7L136 1129.5L137 1129.3L138 1129.1L139 1128.8L140 1128.6L141 1128.3L142 1128.1L143 1127.8L144 1127.5L145 1127.2L146 1126.9L147 1126.6L148 1126.3L149 1126.0L150 1125.8L151 1125.5L152 1125.2L153 1124.9L154 1124.6L155 1124.3L156 1124.0L157 1123.7L158 1123.4L159 1123.1L160 1122.8L161 1122.5L162 1122.1L163 1121.8L164 1121.4L165 1121.1L166 1120.7L167 1120.4L168 1120.0L169 1119.6L170 1119.2L171 1118.8L172 1118.3L173 1117.9L174 1117.5L175 1117.0L176 1116.5L177 1116.0L178 1115.5L179 1115.0L180 1114.5L181 1114.0L182 1113.4L183 1112.8L184 1112.2L185 1111.6L186 1111.0L187 1110.3L188 1109.5L189 1108.7L190 1107.9L191 1106.9L192 1105.9L193 1104.9L194 1103.8L195 1102.6L196 1101.4L197 1100.2L198 1098.9L199 1097.6L200 1096.2L201 1094.8L202 1093.4L203 1091.9L204 1090.5L205 1088.9L206 1087.4L207 1085.9L208 1084.3L209 1082.8L210 1081.2L211 1079.6L212 1078.0L213 1076.4L214 1074.9L215 1073.3L216 1071.7L217 1070.0L218 1068.3L219 1066.6L220 1064.9L221 1063.1L222 1061.3L223 1059.4L224 1057.6L225 1055.6L226 1053.7L227 1051.7L228 1049.7L229 1047.7L230 1045.7L231 1043.6L232 1041.5L233 1039.4L234 1037.2L235 1035.1L236 1032.9L237 1030.7L238 1028.5L239 1026.3L240 1024.0L241 1021.7L242 1019.3L243 1016.9L244 1014.3L245 1011.7L246 1009.1L247 1006.4L248 1003.7L249 1001.0L250 998.2L251 995.6L252 992.9L253 990.3L254 987.7L255 985.2L256 982.8L257 980.5L258 978.2L259 976.1L260 974.0L261 972.0L262 970.1L263 968.2L264 966.3L265 964.5L266 962.6L267 960.8L268 958.9L269 957.1L270 955.2L271 953.3L272 951.4L273 949.5L274 947.6L275 945.6L276 943.5L277 941.3L278 939.1L279 937.0L280 935.2L281 933.9L282 933.0L283 932.9L284 933.5L285 935.0L286 937.4L287 940.4L288 944.0L289 947.7L290 951.5L291 955.2L292 958.6L293 961.8L294 964.8L295 967.5L296 969.1L297 968.3L298 964.4L299 958.1L300 951.7L301 946.7L302 943.1L303 940.2L304 938.1L305 936.9L306 937.1L307 939.3L308 944.0L309 951.3L310 960.8L311 971.6L312 983.3L313 995.0L314 1006.3L315 1016.6L316 1025.6L317 1033.3L318 1039.5L319 1044.2L320 1047.6L321 1050.2L322 1052.3L323 1054.1L324 1055.4L325 1056.0L326 1055.5L327 1053.4L328 1049.5L329 1044.5L330 1038.9L331 1033.0L332 1026.8L333 1020.1L334 1013.1L335 1006.2L336 999.7L337 994.1L338 989.8L339 987.2L340 986.6L341 988.5L342 993.0L343 1000.1L344 1009.3L345 1019.9L346 1031.2L347 1042.6L348 1053.6L349 1063.6L350 1072.5L351 1080.1L352 1086.1L353 1090.0L354 1092.4L355 1093.8L356 1094.9L357 1095.9L358 1096.9L359 1097.7L360 1098.5L361 1099.2L362 1099.8L363 1100.4L364 1100.8L365 1101.3L366 1101.6L367 1102.0L368 1102.2L369 1102.4L370 1102.6L371 1102.7L372 1102.7L373 1102.6L374 1102.3L375 1101.7L376 1100.7L377 1099.6L378 1098.1L379 1096.2L380 1093.8L381 1091.0L382 1087.5L383 1083.6L384 1079.4L385 1075.0L386 1070.5L387 1066.4L388 1062.9L389 1060.1L390 1058.4L391 1057.9L392 1058.7L393 1060.8L394 1064.2L395 1068.5L396 1073.5L397 1078.9L398 1084.3L399 1089.4L400 1094.2L401 1098.4L402 1102.0L403 1104.8L404 1106.7L405 1107.9L406 1108.6L407 1109.1L408 1109.6L409 1110.0L410 1110.3L411 1110.6L412 1110.9L413 1111.1L414 1111.3L415 1111.6L416 1111.8L417 1112.0L418 1112.2L419 1112.5L420 1112.7L421 1113.0L422 1113.4L423 1113.7L424 1114.0L425 1114.4L426 1114.7L427 1115.1L428 1115.4L429 1115.8L430 1116.2L431 1116.5L432 1116.9L433 1117.2L434 1117.6L435 1117.9L436 1118.2L437 1118.5L438 1118.8L439 1119.1L440 1119.4L441 1119.6L442 1119.9L443 1120.1L444 1120.3L445 1120.4L446 1120.6L447 1120.7L448 1120.8L449 1120.8L450 1120.8L451 1120.8L452 1120.8L453 1120.7L454 1120.6L455 1120.5L456 1120.4L457 1120.2L458 1120.0L459 1119.8L460 1119.5L461 1119.2L462 1118.9L463 1118.5L464 1117.9L465 1116.9L466 1115.5L467 1113.7L468 1111.6L469 1109.2L470 1106.6L471 1103.9L472 1101.3L473 1098.8L474 1096.6L475 1094.9L476 1093.9L477 1093.5L478 1093.9L479 1095.1L480 1096.9L481 1099.2L482 1101.9L483 1104.8L484 1107.7L485 1110.5L486 1113.1L487 1115.3L488 1117.2L489 1118.8L490 1119.9L491 1120.6L492 1121.1L493 1121.5L494 1121.8L495 1122.1L496 1122.3L497 1122.5L498 1122.7L499 1122.9L500 1123.1L501 1123.2L502 1123.4L503 1123.5L504 1123.7L505 1123.8L506 1123.9L507 1124.0L508 1124.2L509 1124.3L510 1124.4L511 1124.5L512 1124.6L513 1124.7L514 1124.8L515 1124.9L516 1125.0L517 1125.1L518 1125.2L519 1125.3L520 1125.4L521 1125.5L522 1125.6L523 1125.8L524 1125.9L525 1126.0L526 1126.2L527 1126.3L528 1126.4L529 1126.6L530 1126.7L531 1126.8L532 1126.9L533 1127.0L534 1127.1L535 1127.2L536 1127.3L537 1127.3L538 1127.3L539 1127.4L540 1127.3L541 1127.1L542 1126.7L543 1126.3L544 1125.8L545 1125.2L546 1124.7L547 1124.1L548 1123.4L549 1122.8L550 1122.2L551 1121.7L552 1121.3L553 1121.1L554 1121.0L555 1121.1L556 1121.5L557 1122.0L558 1122.7L559 1123.6L560 1124.5L561 1125.3L562 1126.2L563 1127.0L564 1127.6L565 1128.2L566 1128.7L567 1129.1L568 1129.5L569 1129.8L570 1129.9L571 1130.0L572 1130.1L573 1130.1L574 1130.2L575 1130.2L576 1130.2L577 1130.2L578 1130.3L579 1130.3L580 1130.3L581 1130.3L582 1130.4L583 1130.4L584 1130.4L585 1130.4L586 1130.4L587 1130.5L588 1130.5L589 1130.5L590 1130.5L591 1130.5L592 1130.5L593 1130.5L594 1130.6L595 1130.6L596 1130.6L597 1130.6L598 1130.6L599 1130.6L600 1130.6L601 1130.6L602 1130.6L603 1130.6L604 1130.6L605 1130.6L606 1130.7L607 1130.7L608 1130.7L609 1130.7L610 1130.7L611 1130.7L612 1130.7L613 1130.7L614 1130.7L615 1130.7L616 1130.7L617 1130.7L618 1130.7L619 1130.7L620 1130.7L621 1130.7L622 1130.7L623 1130.7L624 1130.7L625 1130.7L626 1130.7L627 1130.7L628 1130.7L629 1130.7L630 1130.7L631 1130.7L632 1130.7L633 1130.7L634 1130.7L635 1130.7L636 1130.7L637 1130.7L638 1130.7L639 1130.7L640 1130.7L641 1130.7L642 1130.7L643 1130.7L644 1130.7L645 1130.7L646 1130.7L647 1130.7L648 1130.7L649 1130.7L650 1130.7L651 1130.7L652 1130.7L653 1130.7L654 1130.7L655 1130.7L656 1130.7L657 1130.7L658 1130.7L659 1130.7L660 1130.7L661 1130.7L662 1130.7L663 1130.7L664 1130.7L665 1130.7L666 1130.7L667 1130.7L668 1130.7L669 1130.7L670 1130.7L671 1130.7L672 1130.7L673 1130.7L674 1130.7L675 1130.7L676 1130.7L677 1130.7L678 1130.7L679 1130.7L680 1130.7L681 1130.7L682 1130.7L683 1130.7L684 1130.7L685 1130.7L686 1130.7L687 1130.7L688 1130.7L689 1130.7L690 1130.7L691 1130.7L692 1130.7L693 1130.7L694 1130.7L695 1130.7L696 1130.7L697 1130.7L698 1130.7L699 1130.7L700 1130.7L701 1130.7L702 1130.7L703 1130.7L704 1130.7L705 1130.7L706 1130.7L707 1130.7L708 1130.7L709 1130.7L710 1130.7L711 1130.7L712 1130.7L713 1130.7L714 1130.7L715 1130.7L716 1130.7L717 1130.7L718 1130.7L719 1130.7L720 1130.7L721 1130.7L722 1130.7L723 1130.7L724 1130.7L725 1130.7L726 1130.7L727 1130.7L728 1130.7L729 1130.7L730 1130.7L731 1130.7L732 1130.7L733 1130.7L734 1130.7L735 1130.7" stroke="#b44f69"/>
<path d="M97.0 1130.7L98 1130.7L99 1130.7L100 1130.7L101 1130.7L102 1130.7L103 1130.7L104 1130.7L105 1130.6L106 1130.6L107 1130.6L108 1130.6L109 1130.6L110 1130.6L111 1130.6L112 1130.6L113 1130.6L114 1130.5L115 1130.5L116 1130.5L117 1130.5L118 1130.5L119 1130.5L120 1130.4L121 1130.4L122 1130.4L123 1130.4L124 1130.3L125 1130.3L126 1130.3L127 1130.3L128 1130.2L129 1130.2L130 1130.2L131 1130.1L132 1130.1L133 1130.0L134 1129.9L135 1129.8L136 1129.7L137 1129.6L138 1129.5L139 1129.3L140 1129.2L141 1129.0L142 1128.9L143 1128.7L144 1128.5L145 1128.3L146 1128.1L147 1128.0L148 1127.8L149 1127.6L150 1127.4L151 1127.2L152 1127.0L153 1126.8L154 1126.6L155 1126.4L156 1126.2L157 1126.0L158 1125.7L159 1125.5L160 1125.3L161 1125.0L162 1124.8L163 1124.5L164 1124.2L165 1124.0L166 1123.7L167 1123.4L168 1123.1L169 1122.8L170 1122.5L171 1122.1L172 1121.8L173 1121.5L174 1121.1L175 1120.7L176 1120.4L177 1120.0L178 1119.6L179 1119.1L180 1118.7L181 1118.3L182 1117.8L183 1117.4L184 1116.9L185 1116.4L186 1115.9L187 1115.3L188 1114.7L189 1114.1L190 1113.3L191 1112.6L192 1111.7L193 1110.8L194 1109.9L195 1108.9L196 1107.9L197 1106.8L198 1105.7L199 1104.5L200 1103.4L201 1102.2L202 1100.9L203 1099.6L204 1098.3L205 1097.0L206 1095.7L207 1094.3L208 1092.9L209 1091.6L210 1090.2L211 1088.8L212 1087.4L213 1085.9L214 1084.5L215 1083.1L216 1081.7L217 1080.2L218 1078.7L219 1077.1L220 1075.5L221 1073.9L222 1072.2L223 1070.5L224 1068.8L225 1067.0L226 1065.2L227 1063.4L228 1061.5L229 1059.6L230 1057.7L231 1055.8L232 1053.8L233 1051.8L234 1049.8L235 1047.7L236 1045.7L237 1043.6L238 1041.5L239 1039.3L240 1037.2L241 1034.9L242 1032.6L243 1030.1L244 1027.6L245 1025.0L246 1022.4L247 1019.7L248 1017.0L249 1014.3L250 1011.5L251 1008.8L252 1006.1L253 1003.5L254 1000.9L255 998.4L256 995.9L257 993.6L258 991.4L259 989.2L260 987.2L261 985.2L262 983.3L263 981.5L264 979.7L265 977.8L266 976.0L267 974.1L268 972.2L269 970.3L270 968.2L271 966.1L272 964.0L273 961.8L274 959.6L275 957.4L276 954.9L277 952.4L278 949.9L279 947.5L280 945.5L281 943.9L282 943.0L283 942.8L284 943.4L285 945.1L286 947.6L287 950.9L288 954.8L289 958.9L290 963.0L291 966.9L292 970.6L293 974.1L294 977.4L295 980.3L296 982.1L297 981.4L298 977.5L299 971.2L300 964.8L301 959.8L302 956.2L303 953.3L304 951.2L305 950.0L306 950.2L307 952.2L308 956.7L309 963.6L310 972.5L311 982.8L312 993.8L313 1004.9L314 1015.6L315 1025.3L316 1033.9L317 1041.2L318 1047.0L319 1051.5L320 1054.7L321 1057.1L322 1059.2L323 1060.8L324 1062.0L325 1062.6L326 1062.3L327 1060.6L328 1057.4L329 1053.3L330 1048.7L331 1043.9L332 1038.8L333 1033.3L334 1027.6L335 1022.0L336 1016.7L337 1012.1L338 1008.6L339 1006.4L340 1006.0L341 1007.7L342 1011.5L343 1017.6L344 1025.5L345 1034.7L346 1044.4L347 1054.3L348 1063.7L349 1072.3L350 1080.0L351 1086.5L352 1091.7L353 1095.1L354 1097.1L355 1098.3L356 1099.3L357 1100.2L358 1101.0L359 1101.7L360 1102.4L361 1103.0L362 1103.5L363 1104.0L364 1104.4L365 1104.8L366 1105.1L367 1105.4L368 1105.6L369 1105.8L370 1105.9L371 1106.0L372 1106.0L373 1105.9L374 1105.6L375 1105.0L376 1104.2L377 1103.1L378 1101.7L379 1100.0L380 1097.8L381 1095.1L382 1091.9L383 1088.3L384 1084.3L385 1080.2L386 1076.1L387 1072.3L388 1069.0L389 1066.4L390 1064.9L391 1064.4L392 1065.1L393 1067.1L394 1070.1L395 1074.1L396 1078.7L397 1083.6L398 1088.6L399 1093.3L400 1097.7L401 1101.6L402 1104.9L403 1107.5L404 1109.2L405 1110.3L406 1110.9L407 1111.4L408 1111.9L409 1112.2L410 1112.5L411 1112.8L412 1113.1L413 1113.3L414 1113.5L415 1113.7L416 1113.9L417 1114.1L418 1114.3L419 1114.5L420 1114.8L421 1115.0L422 1115.3L423 1115.6L424 1115.9L425 1116.2L426 1116.5L427 1116.8L428 1117.1L429 1117.5L430 1117.8L431 1118.1L432 1118.4L433 1118.7L434 1119.0L435 1119.3L436 1119.6L437 1119.8L438 1120.1L439 1120.3L440 1120.6L441 1120.8L442 1121.0L443 1121.2L444 1121.3L445 1121.5L446 1121.6L447 1121.7L448 1121.7L449 1121.8L450 1121.8L451 1121.8L452 1121.8L453 1121.7L454 1121.6L455 1121.6L456 1121.4L457 1121.3L458 1121.1L459 1121.0L460 1120.8L461 1120.5L462 1120.3L463 1119.9L464 1119.4L465 1118.7L466 1117.5L467 1116.1L468 1114.4L469 1112.5L470 1110.5L471 1108.3L472 1106.2L473 1104.2L474 1102.4L475 1101.1L476 1100.3L477 1100.0L478 1100.3L479 1101.2L480 1102.7L481 1104.6L482 1106.8L483 1109.1L484 1111.5L485 1113.7L486 1115.8L487 1117.6L488 1119.2L489 1120.4L490 1121.3L491 1121.9L492 1122.3L493 1122.6L494 1122.9L495 1123.1L496 1123.3L497 1123.4L498 1123.6L499 1123.7L500 1123.9L501 1124.0L502 1124.2L503 1124.3L504 1124.5L505 1124.6L506 1124.7L507 1124.8L508 1124.9L509 1125.0L510 1125.1L511 1125.2L512 1125.3L513 1125.4L514 1125.5L515 1125.6L516 1125.7L517 1125.8L518 1125.9L519 1126.0L520 1126.0L521 1126.1L522 1126.2L523 1126.3L524 1126.4L525 1126.5L526 1126.6L527 1126.7L528 1126.8L529 1126.9L530 1126.9L531 1127.0L532 1127.1L533 1127.2L534 1127.2L535 1127.3L536 1127.3L537 1127.3L538 1127.4L539 1127.4L540 1127.3L541 1127.1L542 1126.7L543 1126.3L544 1125.8L545 1125.2L546 1124.7L547 1124.1L548 1123.4L549 1122.8L550 1122.2L551 1121.7L552 1121.3L553 1121.1L554 1121.0L555 1121.1L556 1121.5L557 1122.0L558 1122.7L559 1123.6L560 1124.5L561 1125.3L562 1126.2L563 1127.0L564 1127.6L565 1128.2L566 1128.7L567 1129.1L568 1129.5L569 1129.8L570 1129.9L571 1130.0L572 1130.1L573 1130.1L574 1130.2L575 1130.2L576 1130.2L577 1130.2L578 1130.3L579 1130.3L580 1130.3L581 1130.3L582 1130.4L583 1130.4L584 1130.4L585 1130.4L586 1130.4L587 1130.5L588 1130.5L589 1130.5L590 1130.5L591 1130.5L592 1130.5L593 1130.5L594 1130.6L595 1130.6L596 1130.6L597 1130.6L598 1130.6L599 1130.6L600 1130.6L601 1130.6L602 1130.6L603 1130.6L604 1130.6L605 1130.6L606 1130.7L607 1130.7L608 1130.7L609 1130.7L610 1130.7L611 1130.7L612 1130.7L613 1130.7L614 1130.7L615 1130.7L616 1130.7L617 1130.7L618 1130.7L619 1130.7L620 1130.7L621 1130.7L622 1130.7L623 1130.7L624 1130.7L625 1130.7L626 1130.7L627 1130.7L628 1130.7L629 1130.7L630 1130.7L631 1130.7L632 1130.7L633 1130.7L634 1130.7L635 1130.7L636 1130.7L637 1130.7L638 1130.7L639 1130.7L640 1130.7L641 1130.7L642 1130.7L643 1130.7L644 1130.7L645 1130.7L646 1130.7L647 1130.7L648 1130.7L649 1130.7L650 1130.7L651 1130.7L652 1130.7L653 1130.7L654 1130.7L655 1130.7L656 1130.7L657 1130.7L658 1130.7L659 1130.7L660 1130.7L661 1130.7L662 1130.7L663 1130.7L664 1130.7L665 1130.7L666 1130.7L667 1130.7L668 1130.7L669 1130.7L670 1130.7L671 1130.7L672 1130.7L673 1130.7L674 1130.7L675 1130.7L676 1130.7L677 1130.7L678 1130.7L679 1130.7L680 1130.7L681 1130.7L682 1130.7L683 1130.7L684 1130.7L685 1130.7L686 1130.7L687 1130.7L688 1130.7L689 1130.7L690 1130.7L691 1130.7L692 1130.7L693 1130.7L694 1130.7L695 1130.7L696 1130.7L697 1130.7L698 1130.7L699 1130.7L700 1130.7L701 1130.7L702 1130.7L703 1130.7L704 1130.7L705 1130.7L706 1130.7L707 1130.7L708 1130.7L709 1130.7L710 1130.7L711 1130.7L712 1130.7L713 1130.7L714 1130.7L715 1130.7L716 1130.7L717 1130.7L718 1130.7L719 1130.7L720 1130.7L721 1130.7L722 1130.7L723 1130.7L724 1130.7L725 1130.7L726 1130.7L727 1130.7L728 1130.7L729 1130.7L730 1130.7L731 1130.7L732 1130.7L733 1130.7L734 1130.7L735 1130.7" stroke="#c6667e"/>
<path d="M97.0 1130.7L98 1130.7L99 1130.7L100 1130.7L101 1130.7L102 1130.7L103 1130.7L104 1130.7L105 1130.7L106 1130.6L107 1130.6L108 1130.6L109 1130.6L110 1130.6L111 1130.6L112 1130.6L113 1130.6L114 1130.6L115 1130.5L116 1130.5L117 1130.5L118 1130.5L119 1130.5L120 1130.4L121 1130.4L122 1130.4L123 1130.4L124 1130.4L125 1130.3L126 1130.3L127 1130.3L128 1130.2L129 1130.2L130 1130.1L131 1130.0L132 1129.8L133 1129.5L134 1129.0L135 1128.5L136 1127.9L137 1127.2L138 1126.5L139 1125.7L140 1124.8L141 1124.0L142 1123.1L143 1122.1L144 1121.2L145 1120.3L146 1119.3L147 1118.4L148 1117.6L149 1116.7L150 1115.9L151 1115.2L152 1114.4L153 1113.7L154 1113.0L155 1112.3L156 1111.6L157 1110.8L158 1110.1L159 1109.4L160 1108.7L161 1108.0L162 1107.3L163 1106.6L164 1105.9L165 1105.2L166 1104.5L167 1103.7L168 1103.0L169 1102.2L170 1101.5L171 1100.7L172 1099.9L173 1099.1L174 1098.2L175 1097.4L176 1096.5L177 1095.6L178 1094.7L179 1093.8L180 1092.8L181 1091.8L182 1090.8L183 1089.7L184 1088.6L185 1087.5L186 1086.4L187 1085.1L188 1083.8L189 1082.5L190 1081.0L191 1079.5L192 1077.9L193 1076.3L194 1074.6L195 1072.8L196 1071.0L197 1069.1L198 1067.2L199 1065.2L200 1063.2L201 1061.1L202 1059.1L203 1056.9L204 1054.8L205 1052.7L206 1050.5L207 1048.3L208 1046.1L209 1043.9L210 1041.7L211 1039.5L212 1037.2L213 1035.0L214 1032.8L215 1030.6L216 1028.4L217 1026.2L218 1023.9L219 1021.5L220 1019.2L221 1016.8L222 1014.4L223 1011.9L224 1009.4L225 1006.9L226 1004.4L227 1001.8L228 999.3L229 996.7L230 994.1L231 991.5L232 988.9L233 986.3L234 983.7L235 981.1L236 978.6L237 976.0L238 973.4L239 970.9L240 968.3L241 965.6L242 962.9L243 960.1L244 957.2L245 954.3L246 951.3L247 948.3L248 945.3L249 942.4L250 939.6L251 936.9L252 934.2L253 931.8L254 929.5L255 927.4L256 925.6L257 923.9L258 922.5L259 921.2L260 920.0L261 918.9L262 917.8L263 916.7L264 915.8L265 914.9L266 914.1L267 913.5L268 913.1L269 912.8L270 912.9L271 913.3L272 914.1L273 914.9L274 915.8L275 916.7L276 917.6L277 918.5L278 919.5L279 920.4L280 921.1L281 921.7L282 922.2L283 922.8L284 924.0L285 926.1L286 929.2L287 933.3L288 938.0L289 943.1L290 948.1L291 953.0L292 957.5L293 961.8L294 965.9L295 969.5L296 972.2L297 973.1L298 972.1L299 969.9L300 967.6L301 965.8L302 964.5L303 963.5L304 962.7L305 962.4L306 963.0L307 965.1L308 969.4L309 975.9L310 984.3L311 994.0L312 1004.4L313 1014.8L314 1024.9L315 1034.0L316 1042.1L317 1049.0L318 1054.5L319 1058.7L320 1061.7L321 1064.1L322 1066.0L323 1067.5L324 1068.6L325 1069.2L326 1068.9L327 1067.3L328 1064.3L329 1060.4L330 1056.1L331 1051.6L332 1046.7L333 1041.6L334 1036.2L335 1030.8L336 1025.8L337 1021.5L338 1018.2L339 1016.2L340 1015.7L341 1017.2L342 1020.8L343 1026.4L344 1033.7L345 1042.1L346 1051.0L347 1060.1L348 1068.7L349 1076.7L350 1083.7L351 1089.8L352 1094.5L353 1097.6L354 1099.5L355 1100.6L356 1101.5L357 1102.3L358 1103.0L359 1103.7L360 1104.3L361 1104.8L362 1105.3L363 1105.8L364 1106.2L365 1106.5L366 1106.8L367 1107.1L368 1107.3L369 1107.4L370 1107.5L371 1107.6L372 1107.7L373 1107.6L374 1107.3L375 1106.7L376 1105.9L377 1104.8L378 1103.5L379 1101.8L380 1099.7L381 1097.1L382 1094.1L383 1090.6L384 1086.8L385 1082.9L386 1078.9L387 1075.2L388 1072.1L389 1069.6L390 1068.1L391 1067.6L392 1068.3L393 1070.2L394 1073.1L395 1076.9L396 1081.3L397 1086.1L398 1090.8L399 1095.4L400 1099.5L401 1103.2L402 1106.4L403 1108.9L404 1110.6L405 1111.6L406 1112.2L407 1112.7L408 1113.1L409 1113.4L410 1113.7L411 1114.0L412 1114.2L413 1114.5L414 1114.6L415 1114.8L416 1115.0L417 1115.2L418 1115.4L419 1115.6L420 1115.9L421 1116.1L422 1116.4L423 1116.7L424 1116.9L425 1117.2L426 1117.5L427 1117.8L428 1118.1L429 1118.4L430 1118.7L431 1119.0L432 1119.3L433 1119.6L434 1119.8L435 1120.1L436 1120.4L437 1120.6L438 1120.9L439 1121.1L440 1121.3L441 1121.5L442 1121.7L443 1121.9L444 1122.0L445 1122.2L446 1122.3L447 1122.3L448 1122.4L449 1122.4L450 1122.5L451 1122.5L452 1122.4L453 1122.4L454 1122.4L455 1122.3L456 1122.2L457 1122.1L458 1122.0L459 1121.8L460 1121.7L461 1121.5L462 1121.3L463 1121.1L464 1120.7L465 1120.1L466 1119.3L467 1118.3L468 1117.0L469 1115.6L470 1114.1L471 1112.5L472 1111.0L473 1109.5L474 1108.2L475 1107.2L476 1106.6L477 1106.4L478 1106.7L479 1107.4L480 1108.5L481 1109.9L482 1111.5L483 1113.3L484 1115.1L485 1116.8L486 1118.3L487 1119.7L488 1120.9L489 1121.8L490 1122.5L491 1122.9L492 1123.2L493 1123.5L494 1123.6L495 1123.8L496 1124.0L497 1124.1L498 1124.2L499 1124.3L500 1124.5L501 1124.6L502 1124.7L503 1124.8L504 1125.0L505 1125.1L506 1125.2L507 1125.3L508 1125.4L509 1125.5L510 1125.6L511 1125.7L512 1125.8L513 1125.9L514 1126.0L515 1126.1L516 1126.2L517 1126.3L518 1126.3L519 1126.4L520 1126.5L521 1126.5L522 1126.6L523 1126.7L524 1126.7L525 1126.8L526 1126.9L527 1126.9L528 1127.0L529 1127.0L530 1127.1L531 1127.2L532 1127.2L533 1127.2L534 1127.3L535 1127.3L536 1127.3L537 1127.4L538 1127.4L539 1127.4L540 1127.3L541 1127.1L542 1126.7L543 1126.3L544 1125.8L545 1125.2L546 1124.7L547 1124.1L548 1123.4L549 1122.8L550 1122.2L551 1121.7L552 1121.3L553 1121.1L554 1121.0L555 1121.1L556 1121.5L557 1122.0L558 1122.7L559 1123.6L560 1124.5L561 1125.3L562 1126.2L563 1127.0L564 1127.6L565 1128.2L566 1128.7L567 1129.1L568 1129.5L569 1129.8L570 1129.9L571 1130.0L572 1130.1L573 1130.1L574 1130.2L575 1130.2L576 1130.2L577 1130.2L578 1130.3L579 1130.3L580 1130.3L581 1130.3L582 1130.4L583 1130.4L584 1130.4L585 1130.4L586 1130.4L587 1130.5L588 1130.5L589 1130.5L590 1130.5L591 1130.5L592 1130.5L593 1130.5L594 1130.6L595 1130.6L596 1130.6L597 1130.6L598 1130.6L599 1130.6L600 1130.6L601 1130.6L602 1130.6L603 1130.6L604 1130.6L605 1130.6L606 1130.7L607 1130.7L608 1130.7L609 1130.7L610 1130.7L611 1130.7L612 1130.7L613 1130.7L614 1130.7L615 1130.7L616 1130.7L617 1130.7L618 1130.7L619 1130.7L620 1130.7L621 1130.7L622 1130.7L623 1130.7L624 1130.7L625 1130.7L626 1130.7L627 1130.7L628 1130.7L629 1130.7L630 1130.7L631 1130.7L632 1130.7L633 1130.7L634 1130.7L635 1130.7L636 1130.7L637 1130.7L638 1130.7L639 1130.7L640 1130.7L641 1130.7L642 1130.7L643 1130.7L644 1130.7L645 1130.7L646 1130.7L647 1130.7L648 1130.7L649 1130.7L650 1130.7L651 1130.7L652 1130.7L653 1130.7L654 1130.7L655 1130.7L656 1130.7L657 1130.7L658 1130.7L659 1130.7L660 1130.7L661 1130.7L662 1130.7L663 1130.7L664 1130.7L665 1130.7L666 1130.7L667 1130.7L668 1130.7L669 1130.7L670 1130.7L671 1130.7L672 1130.7L673 1130.7L674 1130.7L675 1130.7L676 1130.7L677 1130.7L678 1130.7L679 1130.7L680 1130.7L681 1130.7L682 1130.7L683 1130.7L684 1130.7L685 1130.7L686 1130.7L687 1130.7L688 1130.7L689 1130.7L690 1130.7L691 1130.7L692 1130.7L693 1130.7L694 1130.7L695 1130.7L696 1130.7L697 1130.7L698 1130.7L699 1130.7L700 1130.7L701 1130.7L702 1130.7L703 1130.7L704 1130.7L705 1130.7L706 1130.7L707 1130.7L708 1130.7L709 1130.7L710 1130.7L711 1130.7L712 1130.7L713 1130.7L714 1130.7L715 1130.7L716 1130.7L717 1130.7L718 1130.7L719 1130.7L720 1130.7L721 1130.7L722 1130.7L723 1130.7L724 1130.7L725 1130.7L726 1130.7L727 1130.7L728 1130.7L729 1130.7L730 1130.7L731 1130.7L732 1130.7L733 1130.7L734 1130.7L735 1130.7" stroke="#d48798"/>
<path d="M97.0 1132.3L98 1132.3L99 1132.3L100 1132.3L101 1132.3L102 1132.3L103 1132.3L104 1132.3L105 1132.3L106 1132.3L107 1132.3L108 1132.3L109 1132.3L110 1132.3L111 1132.3L112 1132.3L113 1132.2L114 1132.2L115 1132.2L116 1132.2L117 1132.2L118 1132.2L119 1132.2L120 1132.2L121 1132.1L122 1132.1L123 1132.1L124 1132.1L125 1132.1L126 1132.1L127 1132.0L128 1132.0L129 1132.0L130 1132.0L131 1131.9L132 1131.9L133 1131.8L134 1131.7L135 1131.6L136 1131.5L137 1131.4L138 1131.2L139 1131.1L140 1130.9L141 1130.7L142 1130.5L143 1130.4L144 1130.2L145 1130.0L146 1129.8L147 1129.6L148 1129.4L149 1129.2L150 1129.0L151 1128.9L152 1128.7L153 1128.5L154 1128.4L155 1128.2L156 1128.0L157 1127.8L158 1127.7L159 1127.5L160 1127.3L161 1127.2L162 1127.0L163 1126.8L164 1126.6L165 1126.4L166 1126.2L167 1126.0L168 1125.8L169 1125.6L170 1125.4L171 1125.2L172 1125.0L173 1124.7L174 1124.5L175 1124.3L176 1124.0L177 1123.7L178 1123.4L179 1123.2L180 1122.9L181 1122.6L182 1122.2L183 1121.9L184 1121.6L185 1121.2L186 1120.8L187 1120.4L188 1119.9L189 1119.4L190 1118.8L191 1118.2L192 1117.6L193 1116.8L194 1116.1L195 1115.3L196 1114.4L197 1113.5L198 1112.6L199 1111.6L200 1110.6L201 1109.6L202 1108.5L203 1107.5L204 1106.3L205 1105.2L206 1104.1L207 1102.9L208 1101.7L209 1100.5L210 1099.2L211 1098.0L212 1096.7L213 1095.5L214 1094.2L215 1092.9L216 1091.6L217 1090.2L218 1088.8L219 1087.3L220 1085.7L221 1084.1L222 1082.5L223 1080.8L224 1079.0L225 1077.2L226 1075.3L227 1073.5L228 1071.6L229 1069.6L230 1067.6L231 1065.6L232 1063.6L233 1061.6L234 1059.5L235 1057.5L236 1055.4L237 1053.3L238 1051.2L239 1049.1L240 1047.0L241 1044.9L242 1042.7L243 1040.4L244 1038.2L245 1035.8L246 1033.4L247 1031.0L248 1028.6L249 1026.1L250 1023.7L251 1021.2L252 1018.7L253 1016.3L254 1013.8L255 1011.4L256 1009.1L257 1006.7L258 1004.4L259 1002.1L260 999.9L261 997.6L262 995.4L263 993.1L264 990.9L265 988.7L266 986.5L267 984.4L268 982.3L269 980.2L270 978.2L271 976.2L272 974.3L273 972.4L274 970.6L275 968.6L276 966.5L277 964.2L278 962.0L279 960.0L280 958.2L281 956.8L282 956.0L283 955.9L284 956.6L285 958.2L286 960.8L287 964.1L288 967.9L289 972.0L290 976.1L291 980.1L292 983.7L293 987.2L294 990.5L295 993.4L296 995.4L297 995.2L298 992.5L299 988.0L300 983.4L301 979.7L302 977.1L303 975.0L304 973.5L305 972.7L306 973.0L307 975.1L308 979.4L309 986.1L310 994.8L311 1004.8L312 1015.5L313 1026.3L314 1036.6L315 1046.1L316 1054.4L317 1061.5L318 1067.2L319 1071.5L320 1074.6L321 1077.0L322 1079.0L323 1080.5L324 1081.7L325 1082.3L326 1081.9L327 1080.1L328 1076.8L329 1072.4L330 1067.6L331 1062.5L332 1057.1L333 1051.3L334 1045.3L335 1039.3L336 1033.8L337 1028.9L338 1025.2L339 1022.9L340 1022.3L341 1023.7L342 1027.1L343 1032.5L344 1039.6L345 1047.6L346 1056.3L347 1065.0L348 1073.4L349 1081.1L350 1087.9L351 1093.7L352 1098.2L353 1101.3L354 1103.0L355 1104.1L356 1105.0L357 1105.8L358 1106.5L359 1107.1L360 1107.7L361 1108.2L362 1108.7L363 1109.1L364 1109.5L365 1109.8L366 1110.1L367 1110.4L368 1110.6L369 1110.7L370 1110.8L371 1110.9L372 1110.9L373 1110.9L374 1110.6L375 1110.1L376 1109.3L377 1108.3L378 1107.1L379 1105.6L380 1103.6L381 1101.3L382 1098.5L383 1095.3L384 1091.8L385 1088.1L386 1084.5L387 1081.1L388 1078.2L389 1075.9L390 1074.5L391 1074.1L392 1074.7L393 1076.4L394 1079.1L395 1082.6L396 1086.7L397 1091.0L398 1095.3L399 1099.5L400 1103.3L401 1106.7L402 1109.6L403 1111.8L404 1113.4L405 1114.3L406 1114.9L407 1115.3L408 1115.7L409 1116.0L410 1116.3L411 1116.5L412 1116.8L413 1117.0L414 1117.1L415 1117.3L416 1117.5L417 1117.6L418 1117.8L419 1118.0L420 1118.2L421 1118.5L422 1118.7L423 1118.9L424 1119.2L425 1119.5L426 1119.7L427 1120.0L428 1120.2L429 1120.5L430 1120.8L431 1121.0L432 1121.3L433 1121.5L434 1121.8L435 1122.0L436 1122.3L437 1122.5L438 1122.7L439 1122.9L440 1123.1L441 1123.3L442 1123.4L443 1123.6L444 1123.7L445 1123.8L446 1123.9L447 1124.0L448 1124.1L449 1124.1L450 1124.1L451 1124.1L452 1124.1L453 1124.1L454 1124.0L455 1123.9L456 1123.9L457 1123.8L458 1123.7L459 1123.5L460 1123.4L461 1123.3L462 1123.1L463 1122.9L464 1122.5L465 1122.0L466 1121.3L467 1120.3L468 1119.2L469 1118.0L470 1116.6L471 1115.2L472 1113.8L473 1112.4L474 1111.3L475 1110.4L476 1109.9L477 1109.7L478 1109.9L479 1110.5L480 1111.5L481 1112.8L482 1114.3L483 1115.8L484 1117.4L485 1119.0L486 1120.4L487 1121.6L488 1122.7L489 1123.5L490 1124.1L491 1124.5L492 1124.7L493 1125.0L494 1125.1L495 1125.3L496 1125.4L497 1125.5L498 1125.6L499 1125.7L500 1125.8L501 1126.0L502 1126.1L503 1126.2L504 1126.3L505 1126.4L506 1126.5L507 1126.6L508 1126.7L509 1126.8L510 1126.8L511 1126.9L512 1127.0L513 1127.1L514 1127.2L515 1127.2L516 1127.3L517 1127.4L518 1127.5L519 1127.6L520 1127.6L521 1127.7L522 1127.8L523 1127.9L524 1128.0L525 1128.1L526 1128.2L527 1128.3L528 1128.4L529 1128.5L530 1128.5L531 1128.6L532 1128.7L533 1128.8L534 1128.8L535 1128.9L536 1128.9L537 1129.0L538 1129.0L539 1129.0L540 1129.0L541 1128.8L542 1128.5L543 1128.2L544 1127.8L545 1127.4L546 1127.0L547 1126.5L548 1126.1L549 1125.6L550 1125.1L551 1124.8L552 1124.5L553 1124.3L554 1124.2L555 1124.4L556 1124.7L557 1125.1L558 1125.7L559 1126.4L560 1127.1L561 1127.8L562 1128.5L563 1129.2L564 1129.7L565 1130.2L566 1130.6L567 1130.9L568 1131.2L569 1131.4L570 1131.6L571 1131.7L572 1131.7L573 1131.8L574 1131.8L575 1131.8L576 1131.8L577 1131.9L578 1131.9L579 1131.9L580 1131.9L581 1132.0L582 1132.0L583 1132.0L584 1132.0L585 1132.1L586 1132.1L587 1132.1L588 1132.1L589 1132.1L590 1132.1L591 1132.2L592 1132.2L593 1132.2L594 1132.2L595 1132.2L596 1132.2L597 1132.2L598 1132.2L599 1132.2L600 1132.3L601 1132.3L602 1132.3L603 1132.3L604 1132.3L605 1132.3L606 1132.3L607 1132.3L608 1132.3L609 1132.3L610 1132.3L611 1132.3L612 1132.3L613 1132.3L614 1132.3L615 1132.3L616 1132.3L617 1132.3L618 1132.3L619 1132.3L620 1132.3L621 1132.3L622 1132.3L623 1132.3L624 1132.3L625 1132.3L626 1132.3L627 1132.3L628 1132.3L629 1132.3L630 1132.3L631 1132.3L632 1132.3L633 1132.3L634 1132.3L635 1132.3L636 1132.3L637 1132.3L638 1132.3L639 1132.3L640 1132.3L641 1132.3L642 1132.3L643 1132.3L644 1132.3L645 1132.3L646 1132.3L647 1132.3L648 1132.3L649 1132.3L650 1132.3L651 1132.3L652 1132.3L653 1132.3L654 1132.3L655 1132.3L656 1132.3L657 1132.3L658 1132.3L659 1132.3L660 1132.3L661 1132.3L662 1132.3L663 1132.3L664 1132.3L665 1132.3L666 1132.3L667 1132.3L668 1132.3L669 1132.3L670 1132.3L671 1132.3L672 1132.3L673 1132.3L674 1132.3L675 1132.3L676 1132.3L677 1132.3L678 1132.3L679 1132.3L680 1132.3L681 1132.3L682 1132.3L683 1132.3L684 1132.3L685 1132.3L686 1132.3L687 1132.3L688 1132.3L689 1132.3L690 1132.3L691 1132.3L692 1132.3L693 1132.3L694 1132.3L695 1132.3L696 1132.3L697 1132.3L698 1132.3L699 1132.3L700 1132.3L701 1132.3L702 1132.3L703 1132.3L704 1132.3L705 1132.3L706 1132.3L707 1132.3L708 1132.3L709 1132.3L710 1132.3L711 1132.3L712 1132.3L713 1132.3L714 1132.3L715 1132.3L716 1132.3L717 1132.3L718 1132.3L719 1132.3L720 1132.3L721 1132.3L722 1132.3L723 1132.3L724 1132.3L725 1132.3L726 1132.3L727 1132.3L728 1132.3L729 1132.3L730 1132.3L731 1132.3L732 1132.3L733 1132.3L734 1132.3L735 1132.3" stroke="#e3a8b5"/>
<path d="M97.0 1134.0L98 1134.0L99 1134.0L100 1134.0L101 1134.0L102 1134.0L103 1134.0L104 1134.0L105 1134.0L106 1133.9L107 1133.9L108 1133.9L109 1133.9L110 1133.9L111 1133.9L112 1133.9L113 1133.9L114 1133.9L115 1133.9L116 1133.9L117 1133.9L118 1133.9L119 1133.9L120 1133.9L121 1133.9L122 1133.9L123 1133.9L124 1133.9L125 1133.8L126 1133.8L127 1133.8L128 1133.8L129 1133.8L130 1133.8L131 1133.8L132 1133.7L133 1133.7L134 1133.6L135 1133.6L136 1133.5L137 1133.4L138 1133.3L139 1133.2L140 1133.0L141 1132.9L142 1132.8L143 1132.7L144 1132.5L145 1132.4L146 1132.2L147 1132.1L148 1131.9L149 1131.8L150 1131.7L151 1131.5L152 1131.4L153 1131.2L154 1131.1L155 1131.0L156 1130.8L157 1130.7L158 1130.5L159 1130.4L160 1130.2L161 1130.1L162 1129.9L163 1129.7L164 1129.6L165 1129.4L166 1129.2L167 1129.0L168 1128.8L169 1128.6L170 1128.4L171 1128.2L172 1128.0L173 1127.8L174 1127.5L175 1127.3L176 1127.1L177 1126.8L178 1126.5L179 1126.3L180 1126.0L181 1125.7L182 1125.4L183 1125.1L184 1124.8L185 1124.4L186 1124.1L187 1123.7L188 1123.3L189 1122.8L190 1122.3L191 1121.8L192 1121.2L193 1120.6L194 1119.9L195 1119.2L196 1118.4L197 1117.7L198 1116.9L199 1116.0L200 1115.1L201 1114.2L202 1113.3L203 1112.4L204 1111.4L205 1110.4L206 1109.4L207 1108.3L208 1107.3L209 1106.2L210 1105.1L211 1104.0L212 1102.9L213 1101.8L214 1100.6L215 1099.5L216 1098.3L217 1097.1L218 1095.8L219 1094.4L220 1093.0L221 1091.5L222 1090.0L223 1088.4L224 1086.8L225 1085.2L226 1083.5L227 1081.7L228 1080.0L229 1078.2L230 1076.3L231 1074.5L232 1072.6L233 1070.7L234 1068.7L235 1066.8L236 1064.8L237 1062.9L238 1060.9L239 1058.9L240 1056.8L241 1054.8L242 1052.6L243 1050.4L244 1048.1L245 1045.7L246 1043.3L247 1040.8L248 1038.3L249 1035.8L250 1033.3L251 1030.7L252 1028.3L253 1025.8L254 1023.4L255 1021.0L256 1018.7L257 1016.5L258 1014.3L259 1012.2L260 1010.2L261 1008.3L262 1006.4L263 1004.5L264 1002.7L265 1000.9L266 999.0L267 997.1L268 995.2L269 993.3L270 991.2L271 989.1L272 986.9L273 984.8L274 982.6L275 980.3L276 977.9L277 975.4L278 972.9L279 970.5L280 968.5L281 966.9L282 965.9L283 965.7L284 966.3L285 967.8L286 970.2L287 973.2L288 976.8L289 980.5L290 984.3L291 988.0L292 991.4L293 994.6L294 997.6L295 1000.3L296 1002.0L297 1001.4L298 997.8L299 992.1L300 986.3L301 981.8L302 978.5L303 975.9L304 973.9L305 972.9L306 973.2L307 975.4L308 980.1L309 987.4L310 996.8L311 1007.7L312 1019.4L313 1031.1L314 1042.4L315 1052.6L316 1061.7L317 1069.4L318 1075.6L319 1080.3L320 1083.7L321 1086.3L322 1088.4L323 1090.2L324 1091.4L325 1092.1L326 1091.7L327 1089.8L328 1086.3L329 1081.7L330 1076.6L331 1071.3L332 1065.6L333 1059.5L334 1053.2L335 1046.9L336 1041.0L337 1035.9L338 1032.0L339 1029.6L340 1028.9L341 1030.1L342 1033.4L343 1038.5L344 1045.1L345 1052.7L346 1060.9L347 1069.2L348 1077.1L349 1084.3L350 1090.8L351 1096.3L352 1100.6L353 1103.4L354 1105.1L355 1106.2L356 1107.0L357 1107.7L358 1108.4L359 1109.0L360 1109.5L361 1110.0L362 1110.5L363 1110.9L364 1111.2L365 1111.5L366 1111.8L367 1112.0L368 1112.2L369 1112.4L370 1112.5L371 1112.6L372 1112.6L373 1112.5L374 1112.2L375 1111.8L376 1111.0L377 1110.1L378 1108.9L379 1107.5L380 1105.6L381 1103.3L382 1100.7L383 1097.6L384 1094.3L385 1090.8L386 1087.3L387 1084.1L388 1081.3L389 1079.1L390 1077.8L391 1077.4L392 1078.0L393 1079.6L394 1082.2L395 1085.6L396 1089.4L397 1093.6L398 1097.8L399 1101.8L400 1105.5L401 1108.7L402 1111.5L403 1113.7L404 1115.2L405 1116.1L406 1116.7L407 1117.1L408 1117.4L409 1117.7L410 1118.0L411 1118.2L412 1118.4L413 1118.6L414 1118.8L415 1119.0L416 1119.1L417 1119.3L418 1119.5L419 1119.7L420 1119.9L421 1120.1L422 1120.3L423 1120.6L424 1120.8L425 1121.1L426 1121.3L427 1121.6L428 1121.9L429 1122.1L430 1122.4L431 1122.7L432 1122.9L433 1123.2L434 1123.4L435 1123.7L436 1123.9L437 1124.1L438 1124.3L439 1124.5L440 1124.7L441 1124.9L442 1125.1L443 1125.2L444 1125.4L445 1125.5L446 1125.6L447 1125.6L448 1125.7L449 1125.7L450 1125.7L451 1125.7L452 1125.7L453 1125.7L454 1125.7L455 1125.6L456 1125.5L457 1125.5L458 1125.4L459 1125.3L460 1125.1L461 1125.0L462 1124.8L463 1124.6L464 1124.4L465 1123.9L466 1123.2L467 1122.4L468 1121.4L469 1120.3L470 1119.1L471 1117.8L472 1116.5L473 1115.4L474 1114.3L475 1113.6L476 1113.1L477 1112.9L478 1113.1L479 1113.7L480 1114.5L481 1115.7L482 1117.0L483 1118.4L484 1119.8L485 1121.1L486 1122.4L487 1123.5L488 1124.4L489 1125.2L490 1125.7L491 1126.0L492 1126.3L493 1126.5L494 1126.6L495 1126.7L496 1126.8L497 1126.9L498 1127.0L499 1127.1L500 1127.2L501 1127.3L502 1127.4L503 1127.5L504 1127.6L505 1127.7L506 1127.8L507 1127.8L508 1127.9L509 1128.0L510 1128.1L511 1128.1L512 1128.2L513 1128.3L514 1128.3L515 1128.4L516 1128.5L517 1128.6L518 1128.6L519 1128.7L520 1128.8L521 1128.9L522 1129.0L523 1129.1L524 1129.2L525 1129.4L526 1129.5L527 1129.6L528 1129.7L529 1129.9L530 1130.0L531 1130.1L532 1130.2L533 1130.3L534 1130.4L535 1130.5L536 1130.5L537 1130.6L538 1130.6L539 1130.6L540 1130.6L541 1130.4L542 1130.2L543 1129.8L544 1129.5L545 1129.1L546 1128.6L547 1128.2L548 1127.7L549 1127.2L550 1126.8L551 1126.4L552 1126.1L553 1125.9L554 1125.9L555 1126.0L556 1126.3L557 1126.7L558 1127.3L559 1128.0L560 1128.7L561 1129.5L562 1130.2L563 1130.8L564 1131.4L565 1131.8L566 1132.2L567 1132.6L568 1132.9L569 1133.1L570 1133.2L571 1133.3L572 1133.4L573 1133.4L574 1133.4L575 1133.5L576 1133.5L577 1133.5L578 1133.5L579 1133.6L580 1133.6L581 1133.6L582 1133.6L583 1133.7L584 1133.7L585 1133.7L586 1133.7L587 1133.7L588 1133.7L589 1133.8L590 1133.8L591 1133.8L592 1133.8L593 1133.8L594 1133.8L595 1133.8L596 1133.9L597 1133.9L598 1133.9L599 1133.9L600 1133.9L601 1133.9L602 1133.9L603 1133.9L604 1133.9L605 1133.9L606 1133.9L607 1133.9L608 1133.9L609 1133.9L610 1133.9L611 1133.9L612 1134.0L613 1134.0L614 1134.0L615 1134.0L616 1134.0L617 1134.0L618 1134.0L619 1134.0L620 1134.0L621 1134.0L622 1134.0L623 1134.0L624 1134.0L625 1134.0L626 1134.0L627 1134.0L628 1134.0L629 1134.0L630 1134.0L631 1134.0L632 1134.0L633 1134.0L634 1134.0L635 1134.0L636 1134.0L637 1134.0L638 1134.0L639 1134.0L640 1134.0L641 1134.0L642 1134.0L643 1134.0L644 1134.0L645 1134.0L646 1134.0L647 1134.0L648 1134.0L649 1134.0L650 1134.0L651 1134.0L652 1134.0L653 1134.0L654 1134.0L655 1134.0L656 1134.0L657 1134.0L658 1134.0L659 1134.0L660 1134.0L661 1134.0L662 1134.0L663 1134.0L664 1134.0L665 1134.0L666 1134.0L667 1134.0L668 1134.0L669 1134.0L670 1134.0L671 1134.0L672 1134.0L673 1134.0L674 1134.0L675 1134.0L676 1134.0L677 1134.0L678 1134.0L679 1134.0L680 1134.0L681 1134.0L682 1134.0L683 1134.0L684 1134.0L685 1134.0L686 1134.0L687 1134.0L688 1134.0L689 1134.0L690 1134.0L691 1134.0L692 1134.0L693 1134.0L694 1134.0L695 1134.0L696 1134.0L697 1134.0L698 1134.0L699 1134.0L700 1134.0L701 1134.0L702 1134.0L703 1134.0L704 1134.0L705 1134.0L706 1134.0L707 1134.0L708 1134.0L709 1134.0L710 1134.0L711 1134.0L712 1134.0L713 1134.0L714 1134.0L715 1134.0L716 1134.0L717 1134.0L718 1134.0L719 1134.0L720 1134.0L721 1134.0L722 1134.0L723 1134.0L724 1134.0L725 1134.0L726 1134.0L727 1134.0L728 1134.0L729 1134.0L730 1134.0L731 1134.0L732 1134.0L733 1134.0L734 1134.0L735 1134.0" stroke="#f0c9d2"/>
<path d="M97.0 1134.0L98 1134.0L99 1134.0L100 1134.0L101 1134.0L102 1134.0L103 1134.0L104 1134.0L105 1133.9L106 1133.9L107 1133.9L108 1133.9L109 1133.9L110 1133.9L111 1133.9L112 1133.9L113 1133.9L114 1133.9L115 1133.9L116 1133.9L117 1133.9L118 1133.9L119 1133.9L120 1133.9L121 1133.9L122 1133.9L123 1133.9L124 1133.8L125 1133.8L126 1133.8L127 1133.8L128 1133.8L129 1133.8L130 1133.8L131 1133.8L132 1133.8L133 1133.7L134 1133.7L135 1133.7L136 1133.7L137 1133.6L138 1133.6L139 1133.6L140 1133.5L141 1133.5L142 1133.4L143 1133.4L144 1133.3L145 1133.3L146 1133.2L147 1133.2L148 1133.1L149 1133.0L150 1133.0L151 1132.9L152 1132.8L153 1132.8L154 1132.7L155 1132.6L156 1132.5L157 1132.4L158 1132.3L159 1132.2L160 1132.1L161 1132.0L162 1131.9L163 1131.8L164 1131.6L165 1131.5L166 1131.4L167 1131.2L168 1131.1L169 1130.9L170 1130.8L171 1130.6L172 1130.4L173 1130.3L174 1130.1L175 1129.9L176 1129.7L177 1129.5L178 1129.3L179 1129.1L180 1128.8L181 1128.6L182 1128.4L183 1128.2L184 1127.9L185 1127.7L186 1127.4L187 1127.1L188 1126.8L189 1126.4L190 1126.0L191 1125.5L192 1125.0L193 1124.5L194 1123.9L195 1123.3L196 1122.7L197 1122.0L198 1121.3L199 1120.6L200 1119.8L201 1119.0L202 1118.2L203 1117.4L204 1116.5L205 1115.7L206 1114.8L207 1113.9L208 1112.9L209 1112.0L210 1111.0L211 1110.1L212 1109.1L213 1108.1L214 1107.1L215 1106.1L216 1105.0L217 1103.9L218 1102.7L219 1101.5L220 1100.2L221 1098.9L222 1097.5L223 1096.1L224 1094.7L225 1093.1L226 1091.6L227 1090.0L228 1088.4L229 1086.7L230 1085.0L231 1083.3L232 1081.5L233 1079.7L234 1077.9L235 1076.1L236 1074.3L237 1072.4L238 1070.5L239 1068.6L240 1066.7L241 1064.6L242 1062.5L243 1060.3L244 1058.0L245 1055.6L246 1053.1L247 1050.6L248 1048.0L249 1045.4L250 1042.8L251 1040.3L252 1037.7L253 1035.2L254 1032.8L255 1030.5L256 1028.3L257 1026.2L258 1024.2L259 1022.3L260 1020.6L261 1019.0L262 1017.4L263 1015.9L264 1014.4L265 1012.9L266 1011.4L267 1009.8L268 1008.1L269 1006.2L270 1004.2L271 1002.0L272 999.6L273 997.1L274 994.6L275 992.1L276 989.3L277 986.5L278 983.7L279 981.0L280 978.7L281 977.0L282 975.9L283 975.6L284 976.3L285 977.9L286 980.4L287 983.7L288 987.6L289 991.7L290 995.8L291 999.7L292 1003.4L293 1006.9L294 1010.2L295 1013.1L296 1014.9L297 1014.4L298 1010.9L299 1005.2L300 999.4L301 994.9L302 991.6L303 989.0L304 987.1L305 986.0L306 986.2L307 988.2L308 992.5L309 999.2L310 1007.9L311 1017.9L312 1028.6L313 1039.4L314 1049.7L315 1059.2L316 1067.5L317 1074.6L318 1080.3L319 1084.6L320 1087.7L321 1090.1L322 1092.1L323 1093.7L324 1094.8L325 1095.4L326 1095.1L327 1093.4L328 1090.2L329 1086.1L330 1081.5L331 1076.7L332 1071.6L333 1066.1L334 1060.4L335 1054.8L336 1049.5L337 1044.9L338 1041.4L339 1039.2L340 1038.6L341 1039.7L342 1042.7L343 1047.5L344 1053.6L345 1060.6L346 1068.2L347 1075.8L348 1083.1L349 1089.8L350 1095.7L351 1100.8L352 1104.8L353 1107.4L354 1109.0L355 1109.9L356 1110.7L357 1111.4L358 1112.0L359 1112.5L360 1113.0L361 1113.5L362 1113.9L363 1114.3L364 1114.6L365 1114.9L366 1115.1L367 1115.4L368 1115.5L369 1115.7L370 1115.8L371 1115.8L372 1115.9L373 1115.8L374 1115.6L375 1115.1L376 1114.5L377 1113.6L378 1112.6L379 1111.2L380 1109.5L381 1107.5L382 1105.0L383 1102.2L384 1099.2L385 1096.0L386 1092.9L387 1089.9L388 1087.4L389 1085.4L390 1084.2L391 1083.8L392 1084.4L393 1085.8L394 1088.1L395 1091.1L396 1094.6L397 1098.3L398 1102.0L399 1105.6L400 1108.9L401 1111.8L402 1114.3L403 1116.2L404 1117.5L405 1118.3L406 1118.8L407 1119.2L408 1119.5L409 1119.8L410 1120.1L411 1120.3L412 1120.5L413 1120.6L414 1120.8L415 1120.9L416 1121.1L417 1121.2L418 1121.4L419 1121.5L420 1121.7L421 1121.9L422 1122.1L423 1122.3L424 1122.5L425 1122.7L426 1122.9L427 1123.1L428 1123.3L429 1123.6L430 1123.8L431 1124.0L432 1124.2L433 1124.4L434 1124.6L435 1124.8L436 1124.9L437 1125.1L438 1125.3L439 1125.5L440 1125.6L441 1125.7L442 1125.9L443 1126.0L444 1126.1L445 1126.2L446 1126.3L447 1126.3L448 1126.4L449 1126.4L450 1126.4L451 1126.4L452 1126.4L453 1126.4L454 1126.3L455 1126.3L456 1126.2L457 1126.2L458 1126.1L459 1126.0L460 1125.9L461 1125.8L462 1125.7L463 1125.5L464 1125.3L465 1124.9L466 1124.4L467 1123.7L468 1122.9L469 1122.0L470 1121.1L471 1120.1L472 1119.0L473 1118.1L474 1117.3L475 1116.7L476 1116.3L477 1116.1L478 1116.3L479 1116.8L480 1117.5L481 1118.4L482 1119.5L483 1120.6L484 1121.7L485 1122.8L486 1123.9L487 1124.7L488 1125.5L489 1126.1L490 1126.5L491 1126.8L492 1127.0L493 1127.2L494 1127.3L495 1127.4L496 1127.5L497 1127.6L498 1127.6L499 1127.7L500 1127.8L501 1127.9L502 1128.0L503 1128.0L504 1128.1L505 1128.2L506 1128.3L507 1128.4L508 1128.4L509 1128.5L510 1128.6L511 1128.6L512 1128.7L513 1128.8L514 1128.8L515 1128.9L516 1129.0L517 1129.0L518 1129.1L519 1129.2L520 1129.3L521 1129.3L522 1129.4L523 1129.5L524 1129.6L525 1129.7L526 1129.8L527 1129.9L528 1130.0L529 1130.1L530 1130.2L531 1130.2L532 1130.3L533 1130.4L534 1130.5L535 1130.5L536 1130.6L537 1130.6L538 1130.6L539 1130.7L540 1130.6L541 1130.5L542 1130.3L543 1130.1L544 1129.9L545 1129.6L546 1129.3L547 1129.0L548 1128.7L549 1128.4L550 1128.1L551 1127.8L552 1127.6L553 1127.5L554 1127.5L555 1127.6L556 1127.8L557 1128.2L558 1128.6L559 1129.2L560 1129.7L561 1130.3L562 1130.8L563 1131.3L564 1131.8L565 1132.1L566 1132.5L567 1132.7L568 1133.0L569 1133.1L570 1133.3L571 1133.3L572 1133.4L573 1133.4L574 1133.4L575 1133.5L576 1133.5L577 1133.5L578 1133.5L579 1133.6L580 1133.6L581 1133.6L582 1133.6L583 1133.6L584 1133.7L585 1133.7L586 1133.7L587 1133.7L588 1133.7L589 1133.8L590 1133.8L591 1133.8L592 1133.8L593 1133.8L594 1133.8L595 1133.8L596 1133.8L597 1133.9L598 1133.9L599 1133.9L600 1133.9L601 1133.9L602 1133.9L603 1133.9L604 1133.9L605 1133.9L606 1133.9L607 1133.9L608 1133.9L609 1133.9L610 1133.9L611 1133.9L612 1134.0L613 1134.0L614 1134.0L615 1134.0L616 1134.0L617 1134.0L618 1134.0L619 1134.0L620 1134.0L621 1134.0L622 1134.0L623 1134.0L624 1134.0L625 1134.0L626 1134.0L627 1134.0L628 1134.0L629 1134.0L630 1134.0L631 1134.0L632 1134.0L633 1134.0L634 1134.0L635 1134.0L636 1134.0L637 1134.0L638 1134.0L639 1134.0L640 1134.0L641 1134.0L642 1134.0L643 1134.0L644 1134.0L645 1134.0L646 1134.0L647 1134.0L648 1134.0L649 1134.0L650 1134.0L651 1134.0L652 1134.0L653 1134.0L654 1134.0L655 1134.0L656 1134.0L657 1134.0L658 1134.0L659 1134.0L660 1134.0L661 1134.0L662 1134.0L663 1134.0L664 1134.0L665 1134.0L666 1134.0L667 1134.0L668 1134.0L669 1134.0L670 1134.0L671 1134.0L672 1134.0L673 1134.0L674 1134.0L675 1134.0L676 1134.0L677 1134.0L678 1134.0L679 1134.0L680 1134.0L681 1134.0L682 1134.0L683 1134.0L684 1134.0L685 1134.0L686 1134.0L687 1134.0L688 1134.0L689 1134.0L690 1134.0L691 1134.0L692 1134.0L693 1134.0L694 1134.0L695 1134.0L696 1134.0L697 1134.0L698 1134.0L699 1134.0L700 1134.0L701 1134.0L702 1134.0L703 1134.0L704 1134.0L705 1134.0L706 1134.0L707 1134.0L708 1134.0L709 1134.0L710 1134.0L711 1134.0L712 1134.0L713 1134.0L714 1134.0L715 1134.0L716 1134.0L717 1134.0L718 1134.0L719 1134.0L720 1134.0L721 1134.0L722 1134.0L723 1134.0L724 1134.0L725 1134.0L726 1134.0L727 1134.0L728 1134.0L729 1134.0L730 1134.0L731 1134.0L732 1134.0L733 1134.0L734 1134.0L735 1134.0" stroke="#f8e5ea"/>
</g>
<rect x="97.6" y="726" width="633.2" height="426" fill="none" stroke="#000" stroke-width="3"/>
<line x1="92.6" y1="1135.6" x2="97.6" y2="1135.6" stroke="#000" stroke-width="2.5"/>
<text x="88.3" y="1147.2" font-size="36" text-anchor="end" fill="#000" >0</text>
<line x1="92.6" y1="1004.4" x2="97.6" y2="1004.4" stroke="#000" stroke-width="2.5"/>
<text x="88.3" y="1016.0" font-size="36" text-anchor="end" fill="#000" >4</text>
<line x1="92.6" y1="873.2" x2="97.6" y2="873.2" stroke="#000" stroke-width="2.5"/>
<text x="88.3" y="884.8" font-size="36" text-anchor="end" fill="#000" >8</text>
<line x1="92.6" y1="742.0" x2="97.6" y2="742.0" stroke="#000" stroke-width="2.5"/>
<text x="88.3" y="753.6" font-size="36" text-anchor="end" fill="#000" >12</text>
<line x1="202.0" y1="1152" x2="202.0" y2="1157" stroke="#000" stroke-width="2.2"/>
<line x1="122.5" y1="1152" x2="122.5" y2="1155" stroke="#000" stroke-width="2.2"/>
<line x1="466.0" y1="1152" x2="466.0" y2="1157" stroke="#000" stroke-width="2.2"/>
<line x1="386.5" y1="1152" x2="386.5" y2="1155" stroke="#000" stroke-width="2.2"/>
<line x1="340.0" y1="1152" x2="340.0" y2="1155" stroke="#000" stroke-width="2.2"/>
<line x1="307.1" y1="1152" x2="307.1" y2="1155" stroke="#000" stroke-width="2.2"/>
<line x1="281.5" y1="1152" x2="281.5" y2="1155" stroke="#000" stroke-width="2.2"/>
<line x1="260.6" y1="1152" x2="260.6" y2="1155" stroke="#000" stroke-width="2.2"/>
<line x1="242.9" y1="1152" x2="242.9" y2="1155" stroke="#000" stroke-width="2.2"/>
<line x1="227.6" y1="1152" x2="227.6" y2="1155" stroke="#000" stroke-width="2.2"/>
<line x1="214.1" y1="1152" x2="214.1" y2="1155" stroke="#000" stroke-width="2.2"/>
<line x1="730.0" y1="1152" x2="730.0" y2="1157" stroke="#000" stroke-width="2.2"/>
<line x1="650.5" y1="1152" x2="650.5" y2="1155" stroke="#000" stroke-width="2.2"/>
<line x1="604.0" y1="1152" x2="604.0" y2="1155" stroke="#000" stroke-width="2.2"/>
<line x1="571.1" y1="1152" x2="571.1" y2="1155" stroke="#000" stroke-width="2.2"/>
<line x1="545.5" y1="1152" x2="545.5" y2="1155" stroke="#000" stroke-width="2.2"/>
<line x1="524.6" y1="1152" x2="524.6" y2="1155" stroke="#000" stroke-width="2.2"/>
<line x1="506.9" y1="1152" x2="506.9" y2="1155" stroke="#000" stroke-width="2.2"/>
<line x1="491.6" y1="1152" x2="491.6" y2="1155" stroke="#000" stroke-width="2.2"/>
<line x1="478.1" y1="1152" x2="478.1" y2="1155" stroke="#000" stroke-width="2.2"/>
<text x="203.3" y="1192.8" font-size="36.5" text-anchor="middle" fill="#000" >10000</text>
<text x="467.3" y="1192.8" font-size="36.5" text-anchor="middle" fill="#000" >1000</text>
<text x="731.3" y="1192.8" font-size="36.5" text-anchor="middle" fill="#000" >100</text>
<text x="414.3" y="1227.0" font-size="36.9" text-anchor="middle" fill="#000" >Molecular weight (Da)</text>
<text transform="translate(36.8,1062.5) rotate(-90)" font-size="36.5">Intensity (x10<tspan dy="-14" font-size="23.5">-3</tspan><tspan dy="14">)</tspan></text>
<text x="397.3" y="712.9" font-size="36.4" text-anchor="middle" fill="#000" >High HMW</text>
<text x="-2.3" y="731.0" font-size="65" text-anchor="start" fill="#000" >c</text>
<text x="101.4" y="752.0" font-size="27" text-anchor="start" fill="#000" >HMW (3.4-25 kDa)</text>
<text x="493.3" y="752.5" font-size="27" text-anchor="start" fill="#000" >LMW (&lt;1.2 kDa)</text>
<line x1="505.0" y1="774.2" x2="535.7" y2="774.2" stroke="#6b1b2c" stroke-width="5" stroke-linecap="round"/>
<text x="542.8" y="783.8" font-size="26.8" text-anchor="start" fill="#000" >Hebei</text>
<line x1="505.0" y1="807.4" x2="535.7" y2="807.4" stroke="#8b2640" stroke-width="5" stroke-linecap="round"/>
<text x="542.8" y="817.0" font-size="26.8" text-anchor="start" fill="#000" >Inner Mongolia</text>
<line x1="505.0" y1="840.6" x2="535.7" y2="840.6" stroke="#a33c56" stroke-width="5" stroke-linecap="round"/>
<text x="542.8" y="850.2" font-size="26.8" text-anchor="start" fill="#000" >Qinghai</text>
<line x1="505.0" y1="873.8" x2="535.7" y2="873.8" stroke="#b44f69" stroke-width="5" stroke-linecap="round"/>
<text x="542.8" y="883.4" font-size="26.8" text-anchor="start" fill="#000" >Liaoning</text>
<line x1="505.0" y1="907.0" x2="535.7" y2="907.0" stroke="#c6667e" stroke-width="5" stroke-linecap="round"/>
<text x="542.8" y="916.6" font-size="26.8" text-anchor="start" fill="#000" >Shanxi</text>
<line x1="505.0" y1="940.2" x2="535.7" y2="940.2" stroke="#d48798" stroke-width="5" stroke-linecap="round"/>
<text x="542.8" y="949.8" font-size="26.8" text-anchor="start" fill="#000" >Xinjiang</text>
<line x1="505.0" y1="973.4" x2="535.7" y2="973.4" stroke="#e3a8b5" stroke-width="5" stroke-linecap="round"/>
<text x="542.8" y="983.0" font-size="26.8" text-anchor="start" fill="#000" >Heilongjiang</text>
<line x1="505.0" y1="1006.6" x2="535.7" y2="1006.6" stroke="#f0c9d2" stroke-width="5" stroke-linecap="round"/>
<text x="542.8" y="1016.2" font-size="26.8" text-anchor="start" fill="#000" >Jilin</text>
<line x1="505.0" y1="1039.8" x2="535.7" y2="1039.8" stroke="#f8e5ea" stroke-width="5" stroke-linecap="round"/>
<text x="542.8" y="1049.4" font-size="26.8" text-anchor="start" fill="#000" >Shaanxi</text>
<rect x="826.6" y="726" width="227.9" height="426" fill="#f0f0f0"/>
<rect x="1175.5" y="726" width="284.3" height="426" fill="#f0f0f0"/>
<defs><clipPath id="cld"><rect x="826.6" y="726" width="633.1999999999999" height="426"/></clipPath></defs>
<g clip-path="url(#cld)" fill="none" stroke-width="4.6" stroke-linejoin="round" stroke-linecap="round">
<path d="M826.0 1121.1L827 1121.1L828 1120.7L829 1121.1L830 1121.4L831 1120.7L832 1119.9L833 1120.3L834 1121.8L835 1122.5L836 1122.0L837 1122.0L838 1123.0L839 1122.3L840 1122.4L841 1122.2L842 1121.9L843 1121.4L844 1120.7L845 1120.3L846 1120.6L847 1120.3L848 1121.2L849 1120.8L850 1120.4L851 1121.1L852 1121.9L853 1122.2L854 1121.7L855 1121.4L856 1121.9L857 1121.6L858 1121.2L859 1120.7L860 1120.8L861 1121.0L862 1121.6L863 1121.2L864 1120.2L865 1120.2L866 1121.3L867 1120.0L868 1119.6L869 1120.1L870 1120.8L871 1120.9L872 1119.6L873 1118.8L874 1118.9L875 1119.6L876 1120.8L877 1122.0L878 1121.3L879 1121.0L880 1121.8L881 1121.1L882 1120.6L883 1120.9L884 1122.0L885 1122.1L886 1122.0L887 1121.7L888 1120.3L889 1121.0L890 1121.1L891 1120.8L892 1119.7L893 1119.6L894 1120.9L895 1122.6L896 1121.5L897 1120.4L898 1120.4L899 1120.9L900 1120.3L901 1121.8L902 1121.7L903 1120.6L904 1120.3L905 1119.5L906 1120.6L907 1121.5L908 1121.8L909 1122.2L910 1122.0L911 1120.6L912 1119.9L913 1119.8L914 1120.4L915 1119.6L916 1119.9L917 1119.4L918 1120.4L919 1120.8L920 1119.9L921 1119.2L922 1119.7L923 1120.6L924 1121.2L925 1120.9L926 1119.2L927 1118.5L928 1119.3L929 1119.7L930 1118.9L931 1119.7L932 1119.4L933 1118.9L934 1119.8L935 1118.7L936 1118.4L937 1117.9L938 1117.6L939 1117.0L940 1116.6L941 1116.5L942 1114.9L943 1114.2L944 1113.6L945 1112.7L946 1112.1L947 1111.5L948 1111.6L949 1111.7L950 1110.3L951 1109.6L952 1108.8L953 1106.9L954 1106.1L955 1105.5L956 1104.2L957 1102.0L958 1100.2L959 1098.6L960 1097.9L961 1096.2L962 1094.6L963 1094.4L964 1095.0L965 1092.4L966 1091.0L967 1090.1L968 1089.1L969 1088.1L970 1087.4L971 1087.3L972 1087.2L973 1085.4L974 1083.9L975 1081.9L976 1081.2L977 1080.4L978 1079.8L979 1078.5L980 1077.3L981 1076.6L982 1074.6L983 1073.7L984 1073.7L985 1073.0L986 1070.3L987 1069.2L988 1068.4L989 1066.7L990 1064.7L991 1064.6L992 1064.5L993 1064.0L994 1061.5L995 1060.5L996 1060.2L997 1060.1L998 1059.4L999 1059.1L1000 1059.0L1001 1059.5L1002 1059.7L1003 1058.5L1004 1059.0L1005 1057.6L1006 1056.3L1007 1055.1L1008 1052.8L1009 1051.3L1010 1049.6L1011 1047.4L1012 1045.6L1013 1043.2L1014 1042.4L1015 1042.8L1016 1043.6L1017 1043.1L1018 1042.5L1019 1044.5L1020 1046.9L1021 1049.2L1022 1053.9L1023 1057.5L1024 1061.0L1025 1065.1L1026 1070.0L1027 1072.4L1028 1071.1L1029 1066.2L1030 1062.2L1031 1059.5L1032 1056.2L1033 1053.2L1034 1048.9L1035 1044.2L1036 1041.1L1037 1038.3L1038 1038.3L1039 1037.9L1040 1038.7L1041 1040.5L1042 1044.1L1043 1048.7L1044 1052.8L1045 1055.9L1046 1062.7L1047 1069.4L1048 1073.1L1049 1075.9L1050 1079.2L1051 1081.0L1052 1083.5L1053 1086.6L1054 1088.8L1055 1090.0L1056 1090.0L1057 1089.0L1058 1085.7L1059 1083.5L1060 1083.0L1061 1081.0L1062 1077.7L1063 1073.1L1064 1067.2L1065 1056.6L1066 1043.4L1067 1030.3L1068 1015.1L1069 998.7L1070 980.6L1071 964.3L1072 948.4L1073 933.4L1074 924.3L1075 918.7L1076 915.8L1077 917.7L1078 924.4L1079 936.3L1080 949.9L1081 966.5L1082 985.2L1083 1003.2L1084 1020.1L1085 1034.6L1086 1049.9L1087 1062.5L1088 1072.2L1089 1078.3L1090 1082.0L1091 1084.6L1092 1087.8L1093 1090.2L1094 1092.7L1095 1093.2L1096 1092.2L1097 1094.2L1098 1096.9L1099 1098.4L1100 1098.4L1101 1097.7L1102 1097.5L1103 1097.8L1104 1097.1L1105 1094.7L1106 1093.8L1107 1093.3L1108 1091.9L1109 1090.9L1110 1089.8L1111 1086.1L1112 1083.5L1113 1080.5L1114 1076.0L1115 1069.7L1116 1061.7L1117 1048.7L1118 1030.6L1119 1010.9L1120 989.6L1121 965.1L1122 940.0L1123 915.3L1124 892.4L1125 871.0L1126 854.8L1127 845.5L1128 843.6L1129 849.4L1130 858.0L1131 873.7L1132 895.3L1133 920.3L1134 946.3L1135 972.6L1136 998.6L1137 1022.0L1138 1042.2L1139 1060.8L1140 1073.8L1141 1083.1L1142 1088.6L1143 1091.2L1144 1092.9L1145 1093.7L1146 1095.3L1147 1097.6L1148 1099.3L1149 1099.6L1150 1100.2L1151 1101.9L1152 1103.1L1153 1104.4L1154 1105.3L1155 1106.3L1156 1107.2L1157 1108.6L1158 1108.4L1159 1109.0L1160 1109.5L1161 1110.3L1162 1110.8L1163 1111.5L1164 1111.4L1165 1113.1L1166 1113.3L1167 1112.1L1168 1111.4L1169 1112.3L1170 1113.4L1171 1114.3L1172 1113.7L1173 1112.9L1174 1111.9L1175 1112.7L1176 1113.7L1177 1112.3L1178 1113.2L1179 1113.5L1180 1112.2L1181 1112.7L1182 1113.0L1183 1112.4L1184 1111.6L1185 1111.7L1186 1112.3L1187 1110.4L1188 1110.4L1189 1111.4L1190 1111.8L1191 1111.4L1192 1110.4L1193 1110.2L1194 1109.6L1195 1108.1L1196 1107.6L1197 1107.3L1198 1105.9L1199 1105.1L1200 1105.7L1201 1104.3L1202 1100.9L1203 1096.8L1204 1091.5L1205 1084.8L1206 1078.6L1207 1070.6L1208 1060.8L1209 1050.6L1210 1041.7L1211 1033.5L1212 1026.8L1213 1021.7L1214 1018.7L1215 1017.1L1216 1018.2L1217 1022.3L1218 1027.3L1219 1033.1L1220 1039.0L1221 1045.6L1222 1052.0L1223 1059.6L1224 1065.0L1225 1069.8L1226 1074.3L1227 1077.4L1228 1079.7L1229 1079.5L1230 1081.3L1231 1081.5L1232 1082.3L1233 1082.0L1234 1082.7L1235 1083.0L1236 1083.0L1237 1082.8L1238 1084.5L1239 1086.4L1240 1085.4L1241 1084.5L1242 1084.5L1243 1083.9L1244 1084.0L1245 1085.3L1246 1086.1L1247 1084.7L1248 1084.9L1249 1085.8L1250 1085.5L1251 1087.5L1252 1089.0L1253 1088.9L1254 1089.0L1255 1090.3L1256 1090.2L1257 1092.0L1258 1092.4L1259 1093.3L1260 1094.6L1261 1095.4L1262 1097.2L1263 1097.1L1264 1098.4L1265 1099.6L1266 1099.5L1267 1099.8L1268 1100.3L1269 1100.3L1270 1101.2L1271 1102.3L1272 1103.8L1273 1104.0L1274 1103.8L1275 1104.1L1276 1104.0L1277 1103.7L1278 1103.6L1279 1104.2L1280 1104.7L1281 1105.1L1282 1104.6L1283 1103.3L1284 1103.3L1285 1103.4L1286 1104.6L1287 1105.0L1288 1103.6L1289 1101.4L1290 1100.7L1291 1101.1L1292 1101.6L1293 1101.1L1294 1100.9L1295 1101.4L1296 1102.7L1297 1102.3L1298 1101.8L1299 1102.2L1300 1104.2L1301 1106.3L1302 1109.6L1303 1113.5L1304 1118.3L1305 1119.7L1306 1121.1L1307 1122.2L1308 1123.8L1309 1124.3L1310 1124.8L1311 1125.2L1312 1124.9L1313 1124.0L1314 1123.0L1315 1123.7L1316 1124.3L1317 1123.8L1318 1123.6L1319 1123.7L1320 1123.4L1321 1124.6L1322 1123.9L1323 1123.2L1324 1123.9L1325 1122.9L1326 1121.9L1327 1122.8L1328 1124.2L1329 1123.5L1330 1121.9L1331 1122.1L1332 1122.3L1333 1121.9L1334 1121.9L1335 1122.7L1336 1122.6L1337 1122.2L1338 1122.4L1339 1121.9L1340 1121.2L1341 1121.6L1342 1120.0L1343 1120.2L1344 1122.3L1345 1121.9L1346 1121.4L1347 1122.0L1348 1122.1L1349 1121.4L1350 1120.8L1351 1120.8L1352 1119.7L1353 1120.3L1354 1120.5L1355 1119.7L1356 1119.9L1357 1120.4L1358 1120.4L1359 1119.2L1360 1119.6L1361 1120.9L1362 1121.6L1363 1120.9L1364 1121.6L1365 1122.0L1366 1120.9L1367 1119.7L1368 1119.0L1369 1119.3L1370 1119.7L1371 1120.7L1372 1120.2L1373 1119.6L1374 1119.1L1375 1119.2L1376 1119.2L1377 1119.7L1378 1119.4L1379 1119.5L1380 1120.3L1381 1119.8L1382 1120.1L1383 1120.6L1384 1119.3L1385 1119.6L1386 1120.1L1387 1119.7L1388 1118.8L1389 1118.1L1390 1118.7L1391 1118.4L1392 1117.8L1393 1118.0L1394 1118.2L1395 1118.9L1396 1118.6L1397 1118.6L1398 1118.5L1399 1119.7L1400 1119.5L1401 1118.3L1402 1118.9L1403 1119.3L1404 1119.2L1405 1119.2L1406 1118.5L1407 1119.6L1408 1119.4L1409 1118.9L1410 1119.3L1411 1119.9L1412 1119.8L1413 1119.3L1414 1119.6L1415 1119.3L1416 1120.3L1417 1120.0L1418 1119.6L1419 1119.9L1420 1119.1L1421 1119.4L1422 1120.4L1423 1121.1L1424 1120.9L1425 1120.1L1426 1120.6L1427 1120.7L1428 1119.3L1429 1117.7L1430 1118.4L1431 1118.8L1432 1119.0L1433 1119.3L1434 1120.5L1435 1120.3L1436 1119.6L1437 1119.7L1438 1120.1L1439 1120.4L1440 1120.5L1441 1121.2L1442 1122.3L1443 1121.4L1444 1119.6L1445 1118.3L1446 1118.3L1447 1119.4L1448 1119.3L1449 1119.6L1450 1121.1L1451 1121.9L1452 1121.4L1453 1122.0L1454 1121.2L1455 1120.8L1456 1121.7L1457 1120.9L1458 1119.9L1459 1120.3L1460 1120.3L1461 1119.8L1462 1119.6L1463 1120.2L1464 1119.9" stroke="#1b72b5"/>
<path d="M826.0 1125.2L827 1125.0L828 1125.6L829 1126.4L830 1125.3L831 1125.3L832 1125.9L833 1125.4L834 1125.3L835 1125.4L836 1125.5L837 1125.5L838 1126.2L839 1126.2L840 1126.0L841 1125.4L842 1125.7L843 1126.2L844 1126.5L845 1126.2L846 1125.9L847 1125.6L848 1124.6L849 1125.4L850 1128.0L851 1127.9L852 1126.5L853 1126.1L854 1125.6L855 1125.0L856 1124.4L857 1126.1L858 1125.8L859 1124.2L860 1124.6L861 1125.2L862 1126.4L863 1127.1L864 1126.1L865 1126.0L866 1126.8L867 1126.6L868 1126.3L869 1126.5L870 1126.1L871 1125.7L872 1125.8L873 1126.0L874 1125.2L875 1124.9L876 1125.5L877 1126.1L878 1125.6L879 1125.7L880 1125.5L881 1126.1L882 1125.4L883 1125.9L884 1126.8L885 1126.3L886 1125.8L887 1125.8L888 1126.7L889 1126.8L890 1126.0L891 1126.0L892 1125.5L893 1125.6L894 1126.7L895 1125.7L896 1124.9L897 1125.9L898 1126.2L899 1125.3L900 1125.1L901 1125.1L902 1126.2L903 1127.0L904 1126.3L905 1125.9L906 1125.2L907 1125.7L908 1127.0L909 1126.6L910 1125.0L911 1124.9L912 1125.6L913 1125.3L914 1124.8L915 1124.5L916 1124.2L917 1124.6L918 1125.0L919 1124.8L920 1124.6L921 1126.1L922 1125.2L923 1124.8L924 1125.3L925 1124.5L926 1124.2L927 1123.5L928 1123.5L929 1122.9L930 1122.3L931 1123.0L932 1124.2L933 1124.0L934 1122.1L935 1122.6L936 1123.1L937 1122.6L938 1122.1L939 1121.4L940 1121.4L941 1121.4L942 1121.2L943 1120.4L944 1120.2L945 1118.5L946 1117.6L947 1119.1L948 1119.0L949 1115.8L950 1113.7L951 1115.0L952 1114.7L953 1112.9L954 1112.5L955 1111.6L956 1110.3L957 1108.8L958 1108.2L959 1107.0L960 1106.4L961 1105.9L962 1104.9L963 1104.0L964 1102.8L965 1102.4L966 1101.1L967 1098.7L968 1098.3L969 1097.6L970 1096.6L971 1096.3L972 1095.3L973 1094.0L974 1093.4L975 1093.0L976 1091.4L977 1091.1L978 1090.7L979 1089.6L980 1087.7L981 1085.8L982 1086.0L983 1085.4L984 1085.2L985 1083.0L986 1081.2L987 1080.9L988 1080.4L989 1078.9L990 1077.5L991 1076.2L992 1075.0L993 1075.5L994 1075.8L995 1075.0L996 1074.3L997 1073.7L998 1073.3L999 1073.3L1000 1073.7L1001 1072.4L1002 1072.7L1003 1072.6L1004 1070.7L1005 1069.2L1006 1068.7L1007 1068.3L1008 1066.9L1009 1063.4L1010 1062.9L1011 1063.2L1012 1061.7L1013 1060.1L1014 1059.5L1015 1058.0L1016 1057.3L1017 1056.5L1018 1057.9L1019 1061.4L1020 1062.6L1021 1064.6L1022 1065.7L1023 1068.3L1024 1071.7L1025 1075.5L1026 1077.0L1027 1078.2L1028 1078.7L1029 1075.8L1030 1072.9L1031 1069.9L1032 1066.9L1033 1062.4L1034 1060.4L1035 1057.5L1036 1054.5L1037 1053.1L1038 1051.9L1039 1051.7L1040 1052.5L1041 1054.8L1042 1057.4L1043 1060.9L1044 1065.3L1045 1069.8L1046 1074.5L1047 1078.6L1048 1083.2L1049 1087.1L1050 1090.5L1051 1093.4L1052 1095.7L1053 1096.9L1054 1099.0L1055 1099.7L1056 1099.0L1057 1098.6L1058 1098.9L1059 1098.9L1060 1096.5L1061 1095.2L1062 1094.4L1063 1091.6L1064 1089.4L1065 1085.9L1066 1080.4L1067 1074.6L1068 1068.4L1069 1061.7L1070 1053.0L1071 1046.9L1072 1040.9L1073 1034.0L1074 1029.4L1075 1026.5L1076 1025.9L1077 1026.9L1078 1030.1L1079 1035.5L1080 1041.6L1081 1049.9L1082 1058.4L1083 1066.0L1084 1073.5L1085 1081.3L1086 1088.0L1087 1093.2L1088 1098.7L1089 1101.5L1090 1102.9L1091 1104.6L1092 1105.1L1093 1105.5L1094 1106.1L1095 1107.9L1096 1108.5L1097 1108.9L1098 1109.7L1099 1107.6L1100 1109.1L1101 1109.8L1102 1108.9L1103 1109.5L1104 1110.3L1105 1108.8L1106 1108.2L1107 1108.9L1108 1108.6L1109 1108.1L1110 1108.3L1111 1107.3L1112 1107.0L1113 1107.4L1114 1107.3L1115 1105.9L1116 1104.2L1117 1101.2L1118 1098.7L1119 1095.6L1120 1092.6L1121 1089.3L1122 1085.8L1123 1080.9L1124 1076.8L1125 1075.0L1126 1073.3L1127 1071.7L1128 1071.5L1129 1072.2L1130 1073.6L1131 1076.2L1132 1079.2L1133 1084.2L1134 1088.9L1135 1093.4L1136 1098.3L1137 1102.1L1138 1106.9L1139 1110.6L1140 1112.8L1141 1114.4L1142 1115.8L1143 1116.0L1144 1116.4L1145 1115.2L1146 1115.9L1147 1117.0L1148 1117.5L1149 1117.4L1150 1117.6L1151 1118.3L1152 1118.4L1153 1118.1L1154 1117.9L1155 1117.1L1156 1117.0L1157 1117.8L1158 1118.3L1159 1119.1L1160 1118.4L1161 1118.4L1162 1118.0L1163 1118.1L1164 1120.1L1165 1119.6L1166 1119.6L1167 1119.3L1168 1120.0L1169 1119.8L1170 1119.0L1171 1118.6L1172 1119.2L1173 1119.9L1174 1119.6L1175 1118.7L1176 1119.4L1177 1120.2L1178 1118.9L1179 1118.4L1180 1118.4L1181 1118.9L1182 1118.8L1183 1119.5L1184 1119.0L1185 1119.0L1186 1118.2L1187 1118.1L1188 1119.0L1189 1118.8L1190 1118.2L1191 1117.4L1192 1117.8L1193 1118.8L1194 1117.8L1195 1116.7L1196 1116.4L1197 1118.4L1198 1117.9L1199 1116.8L1200 1118.0L1201 1117.8L1202 1115.7L1203 1114.3L1204 1113.6L1205 1111.4L1206 1109.0L1207 1106.1L1208 1104.2L1209 1101.8L1210 1100.3L1211 1097.9L1212 1095.5L1213 1093.4L1214 1093.1L1215 1093.7L1216 1093.6L1217 1094.6L1218 1096.9L1219 1099.4L1220 1102.1L1221 1105.1L1222 1106.5L1223 1108.5L1224 1111.0L1225 1112.4L1226 1114.8L1227 1115.8L1228 1115.6L1229 1115.1L1230 1116.7L1231 1116.1L1232 1115.6L1233 1115.9L1234 1116.1L1235 1118.0L1236 1118.8L1237 1117.5L1238 1118.0L1239 1118.1L1240 1118.0L1241 1116.7L1242 1116.7L1243 1117.6L1244 1117.1L1245 1117.4L1246 1117.8L1247 1117.9L1248 1118.0L1249 1117.7L1250 1118.0L1251 1118.4L1252 1118.2L1253 1119.1L1254 1119.1L1255 1118.8L1256 1118.7L1257 1119.7L1258 1119.2L1259 1120.3L1260 1121.4L1261 1121.9L1262 1121.6L1263 1122.3L1264 1123.6L1265 1124.1L1266 1123.9L1267 1123.7L1268 1122.6L1269 1122.2L1270 1122.9L1271 1123.8L1272 1124.5L1273 1124.2L1274 1123.2L1275 1122.4L1276 1123.3L1277 1124.4L1278 1124.5L1279 1124.8L1280 1124.9L1281 1124.3L1282 1123.3L1283 1122.2L1284 1122.4L1285 1121.3L1286 1120.6L1287 1120.7L1288 1119.5L1289 1119.3L1290 1119.3L1291 1118.4L1292 1117.7L1293 1117.3L1294 1116.7L1295 1116.1L1296 1116.0L1297 1117.0L1298 1117.7L1299 1119.0L1300 1119.2L1301 1120.0L1302 1121.6L1303 1123.3L1304 1125.5L1305 1128.6L1306 1130.3L1307 1130.5L1308 1130.3L1309 1130.1L1310 1129.4L1311 1130.5L1312 1130.3L1313 1130.2L1314 1131.3L1315 1132.3L1316 1132.3L1317 1131.2L1318 1130.3L1319 1130.7L1320 1131.1L1321 1131.3L1322 1131.4L1323 1132.5L1324 1131.5L1325 1131.4L1326 1131.5L1327 1130.1L1328 1131.8L1329 1132.4L1330 1131.8L1331 1130.6L1332 1131.0L1333 1130.4L1334 1130.1L1335 1130.8L1336 1131.8L1337 1131.1L1338 1130.0L1339 1131.4L1340 1131.6L1341 1130.7L1342 1129.9L1343 1129.9L1344 1130.1L1345 1130.8L1346 1129.9L1347 1130.2L1348 1131.0L1349 1129.0L1350 1128.4L1351 1130.2L1352 1130.1L1353 1129.7L1354 1131.6L1355 1132.5L1356 1131.9L1357 1131.2L1358 1130.6L1359 1129.8L1360 1130.1L1361 1130.8L1362 1129.5L1363 1128.2L1364 1128.4L1365 1128.9L1366 1129.5L1367 1129.5L1368 1130.2L1369 1129.7L1370 1129.5L1371 1129.0L1372 1129.5L1373 1130.5L1374 1129.7L1375 1129.2L1376 1130.5L1377 1130.7L1378 1130.9L1379 1130.8L1380 1129.1L1381 1128.3L1382 1128.7L1383 1129.3L1384 1129.6L1385 1129.7L1386 1129.9L1387 1128.9L1388 1128.4L1389 1128.8L1390 1129.7L1391 1129.7L1392 1129.2L1393 1128.3L1394 1129.5L1395 1130.8L1396 1129.3L1397 1127.9L1398 1128.3L1399 1128.7L1400 1129.8L1401 1131.5L1402 1131.8L1403 1131.0L1404 1129.9L1405 1129.2L1406 1129.1L1407 1129.4L1408 1129.0L1409 1129.7L1410 1130.0L1411 1129.4L1412 1130.8L1413 1132.2L1414 1131.2L1415 1130.7L1416 1132.0L1417 1130.8L1418 1130.4L1419 1131.2L1420 1131.3L1421 1130.5L1422 1129.9L1423 1128.8L1424 1129.5L1425 1131.0L1426 1130.5L1427 1128.9L1428 1128.0L1429 1128.8L1430 1128.9L1431 1128.3L1432 1129.4L1433 1130.4L1434 1131.0L1435 1130.0L1436 1128.7L1437 1130.3L1438 1130.6L1439 1130.9L1440 1129.9L1441 1129.3L1442 1129.6L1443 1129.2L1444 1129.1L1445 1129.0L1446 1128.4L1447 1129.0L1448 1130.2L1449 1130.9L1450 1130.8L1451 1130.0L1452 1129.5L1453 1127.7L1454 1128.1L1455 1129.9L1456 1130.1L1457 1129.6L1458 1131.3L1459 1130.9L1460 1130.0L1461 1130.9L1462 1131.0L1463 1130.6L1464 1129.8" stroke="#2a7dbc"/>
<path d="M826.0 1127.7L827 1128.2L828 1128.8L829 1129.2L830 1126.7L831 1126.5L832 1127.4L833 1127.2L834 1127.5L835 1127.8L836 1127.2L837 1127.8L838 1128.3L839 1128.3L840 1127.6L841 1127.6L842 1127.5L843 1128.0L844 1128.0L845 1128.1L846 1127.3L847 1127.3L848 1127.3L849 1127.6L850 1128.1L851 1126.9L852 1126.5L853 1128.9L854 1129.8L855 1129.1L856 1127.5L857 1127.1L858 1126.7L859 1126.8L860 1127.3L861 1127.5L862 1127.6L863 1127.4L864 1128.5L865 1128.2L866 1127.2L867 1126.5L868 1128.1L869 1128.9L870 1128.2L871 1127.2L872 1127.3L873 1127.3L874 1128.5L875 1127.1L876 1127.1L877 1128.4L878 1127.7L879 1126.8L880 1127.0L881 1126.3L882 1125.6L883 1127.0L884 1128.0L885 1128.2L886 1127.5L887 1127.8L888 1127.9L889 1127.7L890 1127.6L891 1128.8L892 1129.8L893 1129.6L894 1127.5L895 1127.0L896 1126.6L897 1127.5L898 1128.1L899 1127.6L900 1128.0L901 1128.9L902 1128.2L903 1126.5L904 1126.8L905 1127.3L906 1127.9L907 1127.9L908 1127.1L909 1127.6L910 1128.1L911 1127.9L912 1128.0L913 1127.1L914 1126.5L915 1127.1L916 1126.4L917 1127.0L918 1127.1L919 1127.4L920 1127.1L921 1126.7L922 1127.0L923 1127.2L924 1127.2L925 1127.4L926 1127.5L927 1126.4L928 1125.3L929 1124.6L930 1124.1L931 1123.2L932 1124.4L933 1124.8L934 1123.9L935 1124.8L936 1124.4L937 1124.8L938 1124.7L939 1125.1L940 1123.6L941 1123.5L942 1123.3L943 1121.3L944 1121.0L945 1121.5L946 1121.6L947 1120.7L948 1119.7L949 1118.5L950 1117.9L951 1118.2L952 1117.8L953 1117.3L954 1116.9L955 1115.6L956 1114.1L957 1112.4L958 1111.5L959 1111.7L960 1110.7L961 1109.7L962 1107.8L963 1107.8L964 1107.5L965 1107.6L966 1106.9L967 1105.5L968 1104.8L969 1104.1L970 1104.1L971 1102.6L972 1101.8L973 1100.0L974 1099.7L975 1099.0L976 1099.3L977 1098.1L978 1097.6L979 1096.7L980 1095.5L981 1094.6L982 1093.2L983 1091.9L984 1091.2L985 1091.3L986 1091.5L987 1090.5L988 1089.7L989 1089.5L990 1087.4L991 1086.7L992 1086.0L993 1084.6L994 1084.1L995 1084.3L996 1084.5L997 1083.5L998 1083.1L999 1083.2L1000 1082.0L1001 1082.3L1002 1083.5L1003 1082.7L1004 1082.1L1005 1080.1L1006 1079.5L1007 1080.0L1008 1079.0L1009 1077.1L1010 1075.4L1011 1073.1L1012 1072.3L1013 1072.0L1014 1071.4L1015 1071.9L1016 1070.4L1017 1069.8L1018 1071.1L1019 1072.4L1020 1072.7L1021 1073.5L1022 1076.6L1023 1079.4L1024 1080.9L1025 1084.7L1026 1086.0L1027 1085.1L1028 1080.2L1029 1073.7L1030 1066.0L1031 1060.3L1032 1055.6L1033 1049.1L1034 1040.8L1035 1033.2L1036 1028.2L1037 1024.4L1038 1021.8L1039 1020.4L1040 1021.7L1041 1025.3L1042 1030.7L1043 1035.8L1044 1043.3L1045 1052.2L1046 1058.8L1047 1067.1L1048 1075.7L1049 1082.6L1050 1086.3L1051 1090.4L1052 1095.4L1053 1099.1L1054 1100.3L1055 1102.1L1056 1102.0L1057 1099.4L1058 1098.8L1059 1099.3L1060 1099.3L1061 1098.2L1062 1097.9L1063 1094.9L1064 1092.0L1065 1088.5L1066 1083.1L1067 1075.6L1068 1068.4L1069 1060.6L1070 1052.6L1071 1046.0L1072 1039.5L1073 1033.2L1074 1027.1L1075 1023.1L1076 1022.3L1077 1023.7L1078 1028.1L1079 1033.6L1080 1040.9L1081 1048.8L1082 1055.7L1083 1064.9L1084 1074.9L1085 1082.9L1086 1089.7L1087 1095.9L1088 1100.0L1089 1103.8L1090 1105.9L1091 1107.5L1092 1108.7L1093 1110.3L1094 1111.4L1095 1111.7L1096 1111.9L1097 1112.0L1098 1111.6L1099 1110.9L1100 1111.5L1101 1112.3L1102 1112.3L1103 1112.5L1104 1111.4L1105 1111.9L1106 1112.8L1107 1111.6L1108 1111.7L1109 1113.5L1110 1112.7L1111 1112.0L1112 1112.4L1113 1111.7L1114 1110.5L1115 1108.6L1116 1106.5L1117 1103.7L1118 1102.6L1119 1099.8L1120 1097.2L1121 1094.4L1122 1092.1L1123 1089.2L1124 1084.9L1125 1080.5L1126 1077.6L1127 1076.8L1128 1077.0L1129 1078.1L1130 1078.4L1131 1081.1L1132 1085.9L1133 1090.2L1134 1094.5L1135 1097.5L1136 1101.9L1137 1106.2L1138 1109.3L1139 1112.3L1140 1115.4L1141 1117.7L1142 1118.8L1143 1119.0L1144 1117.3L1145 1116.7L1146 1118.9L1147 1118.8L1148 1118.7L1149 1119.6L1150 1119.6L1151 1119.8L1152 1119.1L1153 1119.8L1154 1119.8L1155 1119.6L1156 1120.8L1157 1121.8L1158 1121.1L1159 1120.1L1160 1120.4L1161 1120.8L1162 1121.4L1163 1120.8L1164 1120.3L1165 1120.2L1166 1119.6L1167 1121.0L1168 1122.3L1169 1122.3L1170 1120.7L1171 1120.6L1172 1120.2L1173 1120.1L1174 1119.5L1175 1119.9L1176 1121.0L1177 1120.8L1178 1120.6L1179 1121.4L1180 1120.0L1181 1119.5L1182 1120.0L1183 1120.8L1184 1121.1L1185 1121.7L1186 1121.3L1187 1121.2L1188 1120.9L1189 1120.9L1190 1120.2L1191 1119.8L1192 1120.8L1193 1120.4L1194 1121.9L1195 1122.1L1196 1120.5L1197 1119.6L1198 1119.6L1199 1120.4L1200 1119.5L1201 1118.4L1202 1117.2L1203 1116.8L1204 1115.7L1205 1114.7L1206 1112.6L1207 1110.1L1208 1107.4L1209 1105.9L1210 1103.4L1211 1099.9L1212 1097.2L1213 1096.7L1214 1096.6L1215 1096.6L1216 1096.4L1217 1097.2L1218 1098.4L1219 1101.4L1220 1104.8L1221 1107.2L1222 1109.7L1223 1111.5L1224 1111.7L1225 1113.5L1226 1115.7L1227 1115.5L1228 1116.8L1229 1118.0L1230 1117.7L1231 1118.1L1232 1119.2L1233 1119.8L1234 1118.7L1235 1118.9L1236 1120.2L1237 1118.7L1238 1118.1L1239 1118.8L1240 1118.8L1241 1119.2L1242 1119.6L1243 1119.0L1244 1118.4L1245 1119.7L1246 1119.3L1247 1119.2L1248 1120.0L1249 1120.4L1250 1121.0L1251 1120.8L1252 1120.2L1253 1120.2L1254 1120.3L1255 1118.9L1256 1120.6L1257 1121.4L1258 1121.9L1259 1122.0L1260 1121.5L1261 1122.2L1262 1121.7L1263 1122.2L1264 1123.6L1265 1123.4L1266 1123.5L1267 1122.5L1268 1124.3L1269 1126.0L1270 1126.9L1271 1126.7L1272 1126.3L1273 1126.5L1274 1126.7L1275 1126.2L1276 1125.3L1277 1124.8L1278 1126.3L1279 1126.3L1280 1126.4L1281 1126.8L1282 1126.5L1283 1125.6L1284 1124.3L1285 1124.3L1286 1124.1L1287 1122.9L1288 1122.5L1289 1122.2L1290 1121.6L1291 1121.4L1292 1120.1L1293 1119.6L1294 1120.1L1295 1120.0L1296 1118.5L1297 1118.3L1298 1118.0L1299 1120.4L1300 1121.6L1301 1123.2L1302 1124.1L1303 1125.4L1304 1128.1L1305 1129.9L1306 1131.2L1307 1131.9L1308 1131.6L1309 1131.3L1310 1131.5L1311 1132.1L1312 1132.9L1313 1133.5L1314 1133.4L1315 1132.8L1316 1132.1L1317 1132.8L1318 1133.2L1319 1132.4L1320 1133.0L1321 1133.1L1322 1132.6L1323 1132.6L1324 1134.2L1325 1133.6L1326 1132.5L1327 1132.6L1328 1133.0L1329 1132.4L1330 1131.3L1331 1131.8L1332 1131.4L1333 1131.4L1334 1132.0L1335 1131.9L1336 1132.3L1337 1132.8L1338 1132.7L1339 1131.6L1340 1132.1L1341 1132.6L1342 1132.3L1343 1130.5L1344 1130.8L1345 1131.8L1346 1132.7L1347 1133.0L1348 1131.8L1349 1131.8L1350 1132.3L1351 1131.0L1352 1131.0L1353 1132.3L1354 1132.4L1355 1132.0L1356 1131.6L1357 1132.1L1358 1132.4L1359 1130.8L1360 1130.5L1361 1130.1L1362 1130.2L1363 1131.2L1364 1131.0L1365 1130.6L1366 1130.7L1367 1131.5L1368 1131.9L1369 1131.7L1370 1132.1L1371 1132.5L1372 1133.0L1373 1132.1L1374 1132.2L1375 1132.0L1376 1131.4L1377 1130.5L1378 1129.7L1379 1130.9L1380 1132.2L1381 1131.6L1382 1131.5L1383 1131.2L1384 1131.8L1385 1132.0L1386 1131.9L1387 1132.3L1388 1132.8L1389 1132.1L1390 1131.0L1391 1130.3L1392 1131.1L1393 1131.3L1394 1130.6L1395 1130.1L1396 1129.6L1397 1130.2L1398 1130.5L1399 1129.7L1400 1129.7L1401 1131.0L1402 1131.5L1403 1132.4L1404 1132.0L1405 1131.9L1406 1131.6L1407 1131.6L1408 1131.4L1409 1131.1L1410 1130.7L1411 1131.0L1412 1131.8L1413 1131.9L1414 1130.2L1415 1129.8L1416 1130.9L1417 1131.2L1418 1132.5L1419 1132.7L1420 1131.4L1421 1130.4L1422 1131.7L1423 1131.6L1424 1130.7L1425 1132.0L1426 1131.0L1427 1130.7L1428 1131.1L1429 1130.4L1430 1129.5L1431 1131.4L1432 1131.8L1433 1131.7L1434 1132.2L1435 1132.0L1436 1130.4L1437 1131.2L1438 1132.7L1439 1132.2L1440 1131.1L1441 1131.3L1442 1132.3L1443 1131.7L1444 1131.1L1445 1130.9L1446 1131.5L1447 1132.2L1448 1130.4L1449 1130.3L1450 1129.3L1451 1128.9L1452 1131.1L1453 1132.2L1454 1131.3L1455 1131.6L1456 1132.2L1457 1132.0L1458 1130.8L1459 1131.9L1460 1132.9L1461 1132.7L1462 1132.6L1463 1132.0L1464 1132.1" stroke="#3f8bc6"/>
<path d="M826.0 1127.7L827 1130.3L828 1129.5L829 1129.5L830 1129.6L831 1129.9L832 1130.7L833 1130.0L834 1128.9L835 1126.7L836 1128.1L837 1129.3L838 1129.5L839 1129.9L840 1130.1L841 1129.5L842 1128.9L843 1128.8L844 1128.4L845 1128.9L846 1128.6L847 1127.7L848 1128.4L849 1129.3L850 1129.1L851 1128.2L852 1127.5L853 1128.8L854 1129.0L855 1128.6L856 1129.5L857 1129.2L858 1128.3L859 1128.3L860 1128.7L861 1129.3L862 1130.7L863 1129.3L864 1130.0L865 1130.5L866 1129.1L867 1128.6L868 1129.5L869 1129.9L870 1129.3L871 1128.7L872 1127.8L873 1128.0L874 1128.4L875 1128.2L876 1129.1L877 1129.6L878 1128.7L879 1128.5L880 1129.2L881 1129.6L882 1129.7L883 1130.7L884 1129.1L885 1129.0L886 1130.1L887 1129.7L888 1129.6L889 1129.3L890 1130.6L891 1130.1L892 1128.5L893 1128.6L894 1130.5L895 1129.9L896 1129.1L897 1129.0L898 1128.3L899 1129.4L900 1129.3L901 1129.4L902 1128.3L903 1128.8L904 1129.7L905 1129.9L906 1127.9L907 1127.7L908 1127.7L909 1127.6L910 1128.3L911 1129.3L912 1129.6L913 1129.0L914 1128.1L915 1129.3L916 1129.2L917 1128.6L918 1127.9L919 1127.9L920 1129.2L921 1129.4L922 1127.9L923 1126.5L924 1126.6L925 1127.1L926 1127.4L927 1127.1L928 1126.9L929 1126.6L930 1127.1L931 1126.7L932 1126.4L933 1125.9L934 1125.2L935 1123.7L936 1123.7L937 1124.7L938 1126.8L939 1126.3L940 1125.6L941 1125.3L942 1125.8L943 1123.7L944 1123.2L945 1124.5L946 1124.5L947 1123.7L948 1122.4L949 1120.9L950 1119.8L951 1120.4L952 1119.9L953 1119.2L954 1117.9L955 1117.6L956 1117.5L957 1118.4L958 1118.0L959 1117.1L960 1115.2L961 1114.9L962 1115.3L963 1114.9L964 1114.1L965 1114.2L966 1113.8L967 1111.8L968 1110.1L969 1111.2L970 1111.8L971 1111.9L972 1111.1L973 1109.2L974 1108.1L975 1107.9L976 1107.4L977 1106.9L978 1106.8L979 1107.1L980 1106.0L981 1104.9L982 1104.7L983 1104.2L984 1103.6L985 1102.4L986 1101.1L987 1101.1L988 1100.4L989 1099.1L990 1098.2L991 1098.0L992 1099.3L993 1098.0L994 1097.6L995 1096.9L996 1095.9L997 1095.2L998 1095.1L999 1095.2L1000 1094.7L1001 1095.5L1002 1095.5L1003 1094.9L1004 1094.6L1005 1092.8L1006 1092.0L1007 1091.4L1008 1092.0L1009 1091.8L1010 1090.4L1011 1089.3L1012 1088.9L1013 1087.8L1014 1086.8L1015 1085.8L1016 1086.4L1017 1086.3L1018 1087.6L1019 1088.8L1020 1089.8L1021 1090.9L1022 1091.0L1023 1091.5L1024 1093.3L1025 1094.6L1026 1095.4L1027 1095.4L1028 1092.6L1029 1088.2L1030 1083.5L1031 1077.9L1032 1073.7L1033 1067.7L1034 1062.2L1035 1057.1L1036 1053.8L1037 1051.3L1038 1048.9L1039 1048.5L1040 1049.2L1041 1051.3L1042 1054.9L1043 1059.7L1044 1065.4L1045 1071.2L1046 1077.7L1047 1082.5L1048 1087.1L1049 1090.0L1050 1093.8L1051 1098.7L1052 1100.7L1053 1103.0L1054 1105.1L1055 1105.4L1056 1106.4L1057 1106.9L1058 1105.6L1059 1104.3L1060 1103.5L1061 1102.8L1062 1100.4L1063 1098.5L1064 1097.1L1065 1093.6L1066 1088.7L1067 1083.2L1068 1076.2L1069 1070.6L1070 1065.2L1071 1058.5L1072 1051.2L1073 1044.5L1074 1041.5L1075 1039.3L1076 1038.2L1077 1039.0L1078 1041.0L1079 1046.8L1080 1052.7L1081 1059.6L1082 1067.2L1083 1075.1L1084 1081.0L1085 1088.1L1086 1094.5L1087 1100.0L1088 1103.7L1089 1105.3L1090 1106.4L1091 1107.6L1092 1108.5L1093 1109.8L1094 1110.9L1095 1111.3L1096 1112.0L1097 1112.8L1098 1112.6L1099 1112.5L1100 1113.4L1101 1113.9L1102 1113.0L1103 1112.3L1104 1113.4L1105 1113.8L1106 1113.3L1107 1112.9L1108 1114.0L1109 1112.7L1110 1111.7L1111 1112.0L1112 1110.7L1113 1110.7L1114 1111.0L1115 1110.4L1116 1109.9L1117 1107.1L1118 1103.4L1119 1101.2L1120 1097.2L1121 1094.2L1122 1090.6L1123 1088.0L1124 1086.1L1125 1082.4L1126 1079.6L1127 1079.0L1128 1078.6L1129 1078.4L1130 1080.7L1131 1084.2L1132 1086.9L1133 1089.9L1134 1094.5L1135 1098.1L1136 1102.0L1137 1107.1L1138 1111.9L1139 1115.0L1140 1116.1L1141 1116.8L1142 1117.7L1143 1118.3L1144 1119.1L1145 1119.3L1146 1119.9L1147 1120.5L1148 1121.5L1149 1121.9L1150 1121.5L1151 1121.9L1152 1121.6L1153 1120.7L1154 1120.2L1155 1118.9L1156 1120.1L1157 1121.5L1158 1121.2L1159 1121.5L1160 1122.0L1161 1121.6L1162 1123.1L1163 1124.4L1164 1122.6L1165 1122.1L1166 1121.5L1167 1122.7L1168 1123.0L1169 1121.9L1170 1122.8L1171 1122.2L1172 1121.3L1173 1122.0L1174 1122.4L1175 1122.2L1176 1122.0L1177 1122.7L1178 1122.0L1179 1121.2L1180 1120.6L1181 1122.3L1182 1122.9L1183 1122.1L1184 1122.3L1185 1122.1L1186 1121.7L1187 1121.4L1188 1122.3L1189 1122.9L1190 1124.1L1191 1122.8L1192 1121.0L1193 1121.9L1194 1122.5L1195 1122.3L1196 1121.1L1197 1121.1L1198 1121.6L1199 1120.5L1200 1120.0L1201 1119.8L1202 1119.5L1203 1117.6L1204 1116.8L1205 1116.0L1206 1114.6L1207 1112.2L1208 1109.4L1209 1107.3L1210 1104.6L1211 1102.4L1212 1100.5L1213 1099.8L1214 1100.4L1215 1101.3L1216 1100.6L1217 1100.8L1218 1102.4L1219 1104.3L1220 1107.0L1221 1109.4L1222 1111.2L1223 1111.9L1224 1114.1L1225 1116.6L1226 1118.3L1227 1118.2L1228 1117.6L1229 1118.5L1230 1119.2L1231 1118.1L1232 1117.8L1233 1118.3L1234 1118.5L1235 1118.6L1236 1119.0L1237 1119.4L1238 1120.0L1239 1119.1L1240 1119.0L1241 1119.1L1242 1121.0L1243 1120.0L1244 1119.5L1245 1120.3L1246 1120.0L1247 1119.8L1248 1120.2L1249 1121.1L1250 1120.9L1251 1120.1L1252 1120.1L1253 1121.1L1254 1121.6L1255 1121.6L1256 1121.7L1257 1123.4L1258 1124.0L1259 1123.7L1260 1124.3L1261 1124.4L1262 1123.9L1263 1124.1L1264 1124.9L1265 1124.9L1266 1126.0L1267 1125.7L1268 1126.8L1269 1126.8L1270 1125.8L1271 1126.3L1272 1126.8L1273 1126.6L1274 1126.0L1275 1126.1L1276 1126.0L1277 1125.6L1278 1126.5L1279 1126.7L1280 1126.2L1281 1124.9L1282 1124.4L1283 1124.5L1284 1125.2L1285 1125.1L1286 1124.4L1287 1124.4L1288 1123.4L1289 1123.1L1290 1123.5L1291 1122.9L1292 1121.8L1293 1119.9L1294 1119.2L1295 1120.7L1296 1121.9L1297 1123.2L1298 1122.5L1299 1123.0L1300 1124.3L1301 1125.0L1302 1127.1L1303 1127.9L1304 1129.4L1305 1131.6L1306 1131.9L1307 1132.6L1308 1134.6L1309 1134.7L1310 1133.5L1311 1133.7L1312 1134.5L1313 1134.1L1314 1133.7L1315 1133.4L1316 1132.7L1317 1132.4L1318 1131.6L1319 1131.7L1320 1132.2L1321 1132.0L1322 1131.9L1323 1132.8L1324 1133.8L1325 1133.0L1326 1132.6L1327 1132.0L1328 1132.6L1329 1132.7L1330 1132.4L1331 1131.8L1332 1132.7L1333 1133.3L1334 1133.2L1335 1133.4L1336 1133.2L1337 1133.0L1338 1132.4L1339 1131.7L1340 1132.9L1341 1133.2L1342 1133.1L1343 1132.9L1344 1133.9L1345 1133.9L1346 1133.1L1347 1132.6L1348 1133.0L1349 1133.6L1350 1133.6L1351 1132.4L1352 1131.7L1353 1132.3L1354 1132.6L1355 1132.8L1356 1133.6L1357 1133.5L1358 1133.1L1359 1132.8L1360 1133.1L1361 1133.5L1362 1131.9L1363 1131.4L1364 1132.4L1365 1132.5L1366 1132.3L1367 1132.5L1368 1133.3L1369 1132.1L1370 1132.4L1371 1131.9L1372 1132.5L1373 1133.0L1374 1132.7L1375 1132.3L1376 1133.2L1377 1133.4L1378 1133.6L1379 1133.7L1380 1132.0L1381 1131.9L1382 1132.2L1383 1132.0L1384 1133.0L1385 1132.5L1386 1131.1L1387 1132.1L1388 1134.9L1389 1136.0L1390 1134.0L1391 1132.3L1392 1132.7L1393 1132.7L1394 1132.4L1395 1133.0L1396 1132.4L1397 1131.8L1398 1131.9L1399 1132.3L1400 1132.8L1401 1132.5L1402 1132.4L1403 1131.0L1404 1130.5L1405 1133.0L1406 1134.5L1407 1133.4L1408 1132.2L1409 1131.4L1410 1131.7L1411 1133.1L1412 1133.1L1413 1132.2L1414 1132.8L1415 1132.1L1416 1132.3L1417 1131.9L1418 1131.7L1419 1131.6L1420 1132.0L1421 1133.1L1422 1132.7L1423 1132.5L1424 1132.1L1425 1131.7L1426 1132.7L1427 1133.4L1428 1133.5L1429 1132.9L1430 1132.4L1431 1132.8L1432 1131.9L1433 1132.2L1434 1133.1L1435 1133.7L1436 1132.7L1437 1132.6L1438 1133.5L1439 1131.9L1440 1131.1L1441 1131.9L1442 1131.6L1443 1130.5L1444 1131.4L1445 1133.1L1446 1133.1L1447 1133.0L1448 1133.6L1449 1134.4L1450 1133.1L1451 1133.1L1452 1132.9L1453 1132.7L1454 1132.4L1455 1133.1L1456 1133.4L1457 1132.4L1458 1131.8L1459 1132.4L1460 1131.9L1461 1132.5L1462 1132.9L1463 1132.2L1464 1133.4" stroke="#5a9dd0"/>
<path d="M826.0 1131.0L827 1130.2L828 1129.0L829 1129.9L830 1131.4L831 1131.0L832 1130.8L833 1130.8L834 1131.5L835 1130.5L836 1129.7L837 1129.0L838 1129.6L839 1130.2L840 1130.7L841 1129.6L842 1130.9L843 1130.1L844 1130.6L845 1131.3L846 1131.3L847 1130.9L848 1130.3L849 1130.0L850 1129.8L851 1131.3L852 1131.1L853 1130.9L854 1130.6L855 1131.8L856 1131.1L857 1130.7L858 1131.1L859 1130.0L860 1129.7L861 1129.3L862 1129.6L863 1131.0L864 1131.2L865 1130.5L866 1129.6L867 1129.7L868 1130.8L869 1131.2L870 1131.3L871 1131.1L872 1130.7L873 1130.0L874 1129.0L875 1130.2L876 1130.6L877 1130.4L878 1131.0L879 1130.9L880 1130.3L881 1130.1L882 1130.8L883 1129.8L884 1130.2L885 1130.1L886 1129.5L887 1129.3L888 1129.3L889 1129.9L890 1130.2L891 1130.4L892 1130.7L893 1129.9L894 1130.9L895 1130.9L896 1129.2L897 1130.2L898 1130.7L899 1129.4L900 1129.8L901 1129.8L902 1130.8L903 1131.2L904 1132.2L905 1132.4L906 1131.5L907 1130.3L908 1128.9L909 1128.3L910 1129.9L911 1129.6L912 1130.2L913 1130.5L914 1131.3L915 1131.4L916 1130.9L917 1130.6L918 1129.9L919 1129.5L920 1128.4L921 1128.6L922 1128.5L923 1127.8L924 1128.1L925 1128.5L926 1128.6L927 1128.2L928 1127.3L929 1127.2L930 1127.3L931 1127.3L932 1127.8L933 1127.7L934 1128.0L935 1126.7L936 1126.7L937 1126.7L938 1126.4L939 1126.6L940 1126.4L941 1125.5L942 1126.0L943 1126.5L944 1126.0L945 1126.2L946 1124.4L947 1124.6L948 1124.0L949 1122.0L950 1121.8L951 1122.8L952 1122.5L953 1121.6L954 1121.2L955 1121.9L956 1121.6L957 1120.6L958 1120.6L959 1120.1L960 1120.2L961 1121.2L962 1121.5L963 1121.8L964 1119.7L965 1118.2L966 1118.5L967 1117.1L968 1116.7L969 1117.1L970 1117.0L971 1116.8L972 1117.0L973 1116.3L974 1115.4L975 1114.4L976 1114.0L977 1114.3L978 1113.5L979 1113.6L980 1113.0L981 1112.1L982 1111.8L983 1111.4L984 1110.9L985 1111.0L986 1110.7L987 1109.6L988 1108.5L989 1108.0L990 1106.9L991 1108.1L992 1109.9L993 1108.0L994 1105.9L995 1106.4L996 1107.0L997 1106.7L998 1105.1L999 1104.7L1000 1104.9L1001 1104.8L1002 1104.2L1003 1104.8L1004 1105.7L1005 1104.6L1006 1104.3L1007 1103.9L1008 1103.1L1009 1103.5L1010 1104.1L1011 1101.1L1012 1100.0L1013 1100.5L1014 1100.4L1015 1100.1L1016 1100.5L1017 1099.9L1018 1100.1L1019 1100.8L1020 1101.6L1021 1101.7L1022 1100.8L1023 1101.1L1024 1102.5L1025 1104.2L1026 1105.0L1027 1103.0L1028 1100.1L1029 1097.6L1030 1093.4L1031 1091.1L1032 1086.7L1033 1082.4L1034 1079.8L1035 1076.3L1036 1071.9L1037 1068.9L1038 1067.8L1039 1066.8L1040 1067.9L1041 1068.6L1042 1071.6L1043 1075.2L1044 1078.8L1045 1082.6L1046 1085.6L1047 1089.3L1048 1094.2L1049 1098.6L1050 1102.1L1051 1104.1L1052 1105.4L1053 1107.0L1054 1108.2L1055 1108.8L1056 1109.0L1057 1109.9L1058 1109.1L1059 1106.9L1060 1106.1L1061 1105.7L1062 1104.1L1063 1103.4L1064 1101.8L1065 1099.1L1066 1094.0L1067 1089.3L1068 1083.7L1069 1078.4L1070 1073.2L1071 1067.4L1072 1061.7L1073 1057.8L1074 1054.6L1075 1052.0L1076 1050.7L1077 1051.0L1078 1053.2L1079 1058.0L1080 1063.1L1081 1069.8L1082 1075.8L1083 1081.7L1084 1087.0L1085 1093.3L1086 1099.0L1087 1102.8L1088 1106.2L1089 1109.1L1090 1110.9L1091 1111.5L1092 1110.4L1093 1111.9L1094 1113.2L1095 1115.1L1096 1115.9L1097 1115.6L1098 1115.4L1099 1115.3L1100 1116.1L1101 1115.3L1102 1114.8L1103 1115.8L1104 1115.5L1105 1115.9L1106 1115.2L1107 1114.3L1108 1113.6L1109 1114.5L1110 1114.0L1111 1113.3L1112 1114.0L1113 1113.4L1114 1113.1L1115 1111.9L1116 1109.3L1117 1106.2L1118 1102.4L1119 1099.6L1120 1096.8L1121 1094.0L1122 1090.2L1123 1086.5L1124 1083.3L1125 1078.3L1126 1076.6L1127 1075.7L1128 1074.5L1129 1074.0L1130 1075.7L1131 1079.6L1132 1083.5L1133 1088.5L1134 1093.8L1135 1098.2L1136 1103.0L1137 1107.9L1138 1110.8L1139 1114.9L1140 1117.1L1141 1119.2L1142 1120.2L1143 1120.2L1144 1119.9L1145 1121.0L1146 1120.6L1147 1119.9L1148 1121.1L1149 1121.3L1150 1121.2L1151 1121.9L1152 1121.9L1153 1122.3L1154 1121.9L1155 1122.5L1156 1122.9L1157 1122.0L1158 1122.7L1159 1123.5L1160 1124.0L1161 1123.8L1162 1123.4L1163 1123.0L1164 1122.9L1165 1124.3L1166 1123.8L1167 1122.8L1168 1123.1L1169 1122.9L1170 1122.3L1171 1122.9L1172 1123.3L1173 1123.2L1174 1122.2L1175 1122.7L1176 1123.9L1177 1123.8L1178 1124.2L1179 1123.1L1180 1123.0L1181 1123.8L1182 1124.5L1183 1124.9L1184 1123.6L1185 1123.6L1186 1123.6L1187 1123.2L1188 1123.9L1189 1124.2L1190 1124.3L1191 1123.7L1192 1121.7L1193 1122.6L1194 1123.0L1195 1123.0L1196 1124.8L1197 1123.4L1198 1122.7L1199 1122.8L1200 1122.5L1201 1123.2L1202 1121.6L1203 1120.5L1204 1121.1L1205 1119.6L1206 1116.8L1207 1114.6L1208 1112.8L1209 1110.2L1210 1108.5L1211 1107.6L1212 1105.9L1213 1105.7L1214 1106.0L1215 1105.5L1216 1103.8L1217 1104.1L1218 1105.1L1219 1108.4L1220 1110.1L1221 1111.3L1222 1113.1L1223 1114.6L1224 1116.5L1225 1119.0L1226 1121.2L1227 1120.8L1228 1119.2L1229 1119.3L1230 1119.8L1231 1121.2L1232 1121.7L1233 1121.9L1234 1121.3L1235 1121.1L1236 1120.7L1237 1120.3L1238 1121.6L1239 1121.7L1240 1122.3L1241 1121.4L1242 1121.9L1243 1121.9L1244 1121.4L1245 1120.7L1246 1121.8L1247 1122.8L1248 1123.2L1249 1122.7L1250 1123.2L1251 1123.2L1252 1122.8L1253 1122.7L1254 1123.3L1255 1122.6L1256 1122.5L1257 1124.1L1258 1122.9L1259 1122.6L1260 1124.3L1261 1124.9L1262 1125.9L1263 1125.6L1264 1125.7L1265 1126.0L1266 1126.9L1267 1127.3L1268 1127.3L1269 1127.5L1270 1127.6L1271 1127.6L1272 1128.0L1273 1127.5L1274 1127.5L1275 1128.8L1276 1127.9L1277 1128.1L1278 1128.6L1279 1128.7L1280 1128.3L1281 1127.7L1282 1127.2L1283 1127.4L1284 1126.4L1285 1126.5L1286 1125.5L1287 1125.1L1288 1125.7L1289 1123.9L1290 1122.7L1291 1123.6L1292 1123.3L1293 1123.1L1294 1123.0L1295 1123.0L1296 1123.0L1297 1122.3L1298 1122.5L1299 1123.4L1300 1123.5L1301 1124.6L1302 1126.4L1303 1128.1L1304 1128.3L1305 1130.8L1306 1134.6L1307 1135.3L1308 1134.4L1309 1133.2L1310 1132.9L1311 1133.8L1312 1133.7L1313 1133.8L1314 1134.6L1315 1134.0L1316 1134.0L1317 1133.9L1318 1134.3L1319 1135.1L1320 1135.0L1321 1134.2L1322 1133.9L1323 1133.8L1324 1133.3L1325 1134.2L1326 1135.0L1327 1134.5L1328 1134.1L1329 1133.7L1330 1132.9L1331 1132.8L1332 1132.7L1333 1133.1L1334 1133.5L1335 1133.1L1336 1133.6L1337 1133.9L1338 1134.4L1339 1134.0L1340 1133.8L1341 1133.0L1342 1131.6L1343 1131.1L1344 1132.2L1345 1133.2L1346 1133.0L1347 1133.4L1348 1134.0L1349 1133.9L1350 1134.0L1351 1133.8L1352 1132.9L1353 1133.8L1354 1133.9L1355 1133.4L1356 1134.2L1357 1134.8L1358 1134.4L1359 1133.3L1360 1133.1L1361 1133.3L1362 1134.0L1363 1134.1L1364 1133.5L1365 1134.4L1366 1134.4L1367 1134.7L1368 1134.2L1369 1133.4L1370 1133.3L1371 1134.9L1372 1133.4L1373 1133.7L1374 1133.2L1375 1133.0L1376 1133.8L1377 1133.5L1378 1133.1L1379 1133.5L1380 1133.9L1381 1133.4L1382 1133.6L1383 1134.1L1384 1132.7L1385 1133.5L1386 1135.3L1387 1134.1L1388 1131.9L1389 1131.6L1390 1133.1L1391 1134.5L1392 1133.6L1393 1132.5L1394 1132.8L1395 1133.6L1396 1133.7L1397 1132.9L1398 1133.1L1399 1132.9L1400 1132.4L1401 1131.9L1402 1132.7L1403 1133.5L1404 1134.2L1405 1132.7L1406 1132.4L1407 1133.7L1408 1135.1L1409 1134.3L1410 1132.8L1411 1131.5L1412 1132.1L1413 1132.3L1414 1132.1L1415 1132.4L1416 1134.0L1417 1134.6L1418 1134.5L1419 1133.9L1420 1133.7L1421 1133.6L1422 1134.1L1423 1133.7L1424 1133.4L1425 1132.1L1426 1132.5L1427 1131.1L1428 1131.8L1429 1133.5L1430 1132.8L1431 1133.1L1432 1134.2L1433 1133.3L1434 1133.2L1435 1133.4L1436 1133.9L1437 1133.6L1438 1133.2L1439 1133.6L1440 1134.0L1441 1134.0L1442 1134.2L1443 1134.1L1444 1134.9L1445 1133.0L1446 1132.9L1447 1132.9L1448 1133.0L1449 1133.6L1450 1132.4L1451 1133.6L1452 1133.3L1453 1132.8L1454 1132.5L1455 1133.6L1456 1134.5L1457 1134.4L1458 1135.4L1459 1134.5L1460 1133.6L1461 1132.6L1462 1133.5L1463 1134.2L1464 1134.5" stroke="#77aed8"/>
<path d="M826.0 1132.9L827 1132.9L828 1132.1L829 1131.1L830 1130.7L831 1131.4L832 1132.2L833 1132.2L834 1130.9L835 1130.2L836 1131.4L837 1132.7L838 1132.3L839 1130.7L840 1131.6L841 1132.9L842 1132.5L843 1132.8L844 1132.6L845 1132.4L846 1132.2L847 1131.5L848 1131.7L849 1132.0L850 1131.3L851 1131.4L852 1132.7L853 1132.6L854 1132.6L855 1132.4L856 1132.7L857 1132.0L858 1131.8L859 1132.2L860 1132.7L861 1132.6L862 1133.0L863 1132.9L864 1132.2L865 1132.1L866 1130.9L867 1131.4L868 1132.9L869 1132.3L870 1132.4L871 1131.9L872 1132.2L873 1133.2L874 1132.4L875 1131.7L876 1131.3L877 1132.1L878 1131.7L879 1132.4L880 1132.4L881 1132.0L882 1130.6L883 1130.2L884 1129.5L885 1130.3L886 1130.6L887 1131.0L888 1131.9L889 1131.5L890 1130.8L891 1131.5L892 1131.6L893 1131.5L894 1131.3L895 1131.8L896 1131.8L897 1131.5L898 1131.7L899 1132.1L900 1131.6L901 1132.7L902 1133.2L903 1132.7L904 1131.3L905 1131.9L906 1132.6L907 1132.5L908 1131.7L909 1132.4L910 1132.4L911 1131.5L912 1132.0L913 1131.7L914 1131.3L915 1131.3L916 1130.7L917 1129.9L918 1131.0L919 1132.1L920 1132.2L921 1131.1L922 1130.5L923 1130.2L924 1130.4L925 1130.6L926 1130.6L927 1130.2L928 1129.7L929 1129.6L930 1128.8L931 1127.6L932 1128.6L933 1129.4L934 1127.8L935 1128.2L936 1128.9L937 1128.0L938 1128.2L939 1128.7L940 1128.9L941 1128.7L942 1127.6L943 1126.8L944 1127.1L945 1126.4L946 1125.7L947 1127.1L948 1126.7L949 1126.8L950 1127.2L951 1126.9L952 1125.9L953 1125.3L954 1125.5L955 1124.9L956 1124.1L957 1123.8L958 1123.4L959 1123.3L960 1122.8L961 1121.8L962 1122.2L963 1122.5L964 1122.4L965 1123.1L966 1122.5L967 1121.3L968 1120.6L969 1120.1L970 1121.1L971 1121.5L972 1119.3L973 1119.3L974 1120.1L975 1119.0L976 1119.5L977 1120.5L978 1119.6L979 1118.5L980 1117.2L981 1117.9L982 1117.7L983 1117.3L984 1117.2L985 1116.9L986 1115.7L987 1114.5L988 1114.7L989 1115.7L990 1115.6L991 1114.7L992 1114.7L993 1114.8L994 1114.3L995 1112.0L996 1112.1L997 1113.0L998 1111.9L999 1111.9L1000 1114.0L1001 1113.4L1002 1112.5L1003 1111.7L1004 1111.8L1005 1111.7L1006 1110.7L1007 1108.7L1008 1108.2L1009 1109.5L1010 1109.0L1011 1106.8L1012 1107.8L1013 1107.8L1014 1106.7L1015 1105.7L1016 1105.2L1017 1105.9L1018 1106.7L1019 1106.3L1020 1106.1L1021 1105.8L1022 1107.6L1023 1109.4L1024 1109.5L1025 1108.7L1026 1110.2L1027 1110.9L1028 1108.1L1029 1104.3L1030 1101.1L1031 1099.4L1032 1096.2L1033 1093.4L1034 1091.6L1035 1088.7L1036 1085.0L1037 1083.1L1038 1082.8L1039 1082.9L1040 1083.2L1041 1085.0L1042 1087.3L1043 1089.9L1044 1092.1L1045 1094.1L1046 1095.6L1047 1099.4L1048 1101.5L1049 1103.7L1050 1106.3L1051 1108.1L1052 1111.0L1053 1111.2L1054 1111.8L1055 1114.1L1056 1113.6L1057 1111.8L1058 1111.9L1059 1112.0L1060 1111.0L1061 1109.7L1062 1107.8L1063 1106.3L1064 1104.9L1065 1102.4L1066 1098.2L1067 1093.1L1068 1088.6L1069 1083.7L1070 1079.1L1071 1074.7L1072 1069.2L1073 1063.8L1074 1060.8L1075 1059.8L1076 1059.5L1077 1059.3L1078 1061.4L1079 1065.0L1080 1069.4L1081 1074.2L1082 1079.6L1083 1084.8L1084 1090.0L1085 1094.8L1086 1099.9L1087 1104.6L1088 1107.5L1089 1109.4L1090 1110.9L1091 1111.3L1092 1111.9L1093 1114.1L1094 1115.2L1095 1114.1L1096 1114.4L1097 1115.0L1098 1115.8L1099 1114.6L1100 1114.9L1101 1115.8L1102 1116.1L1103 1115.9L1104 1115.9L1105 1116.2L1106 1116.1L1107 1114.7L1108 1114.8L1109 1114.8L1110 1115.1L1111 1115.8L1112 1114.1L1113 1113.6L1114 1113.1L1115 1112.3L1116 1111.3L1117 1108.8L1118 1107.2L1119 1105.0L1120 1101.7L1121 1097.5L1122 1093.6L1123 1091.2L1124 1088.3L1125 1084.4L1126 1082.6L1127 1080.5L1128 1080.6L1129 1082.0L1130 1083.5L1131 1085.2L1132 1088.2L1133 1092.5L1134 1095.9L1135 1099.6L1136 1105.4L1137 1110.4L1138 1114.0L1139 1116.9L1140 1118.7L1141 1120.1L1142 1120.8L1143 1120.8L1144 1122.6L1145 1121.8L1146 1119.6L1147 1119.7L1148 1120.6L1149 1120.7L1150 1120.2L1151 1121.1L1152 1122.3L1153 1123.3L1154 1123.1L1155 1123.4L1156 1123.7L1157 1123.6L1158 1123.3L1159 1123.2L1160 1123.0L1161 1124.1L1162 1123.3L1163 1122.1L1164 1122.6L1165 1122.3L1166 1122.1L1167 1122.2L1168 1123.1L1169 1124.6L1170 1124.4L1171 1124.6L1172 1125.2L1173 1124.9L1174 1125.3L1175 1125.3L1176 1124.1L1177 1124.0L1178 1124.6L1179 1124.8L1180 1124.5L1181 1124.3L1182 1124.1L1183 1123.9L1184 1123.8L1185 1123.2L1186 1122.9L1187 1123.1L1188 1123.8L1189 1123.7L1190 1123.0L1191 1123.1L1192 1123.7L1193 1125.3L1194 1125.2L1195 1122.9L1196 1121.6L1197 1120.8L1198 1120.9L1199 1121.4L1200 1121.8L1201 1122.0L1202 1120.4L1203 1119.5L1204 1117.6L1205 1115.6L1206 1113.2L1207 1110.7L1208 1108.9L1209 1106.7L1210 1104.3L1211 1101.1L1212 1098.1L1213 1097.2L1214 1095.9L1215 1095.6L1216 1096.3L1217 1097.8L1218 1100.4L1219 1101.4L1220 1102.9L1221 1106.4L1222 1108.9L1223 1111.1L1224 1112.7L1225 1114.4L1226 1114.7L1227 1116.8L1228 1117.9L1229 1116.3L1230 1116.4L1231 1117.1L1232 1117.6L1233 1118.3L1234 1118.3L1235 1117.6L1236 1117.3L1237 1117.5L1238 1118.3L1239 1119.0L1240 1118.7L1241 1117.6L1242 1117.6L1243 1118.9L1244 1119.0L1245 1118.0L1246 1118.1L1247 1118.9L1248 1120.2L1249 1120.2L1250 1120.1L1251 1120.2L1252 1120.9L1253 1119.7L1254 1119.9L1255 1120.7L1256 1121.8L1257 1121.3L1258 1121.1L1259 1122.7L1260 1122.3L1261 1122.2L1262 1123.0L1263 1122.8L1264 1123.2L1265 1122.8L1266 1123.2L1267 1123.4L1268 1122.7L1269 1123.2L1270 1124.0L1271 1125.7L1272 1125.7L1273 1124.6L1274 1124.4L1275 1124.9L1276 1125.1L1277 1125.9L1278 1125.7L1279 1126.0L1280 1125.4L1281 1125.7L1282 1125.7L1283 1124.7L1284 1123.9L1285 1125.2L1286 1125.0L1287 1123.9L1288 1123.7L1289 1122.6L1290 1122.9L1291 1123.1L1292 1122.3L1293 1121.3L1294 1121.6L1295 1122.0L1296 1122.7L1297 1124.2L1298 1124.1L1299 1123.1L1300 1124.1L1301 1125.6L1302 1127.2L1303 1129.2L1304 1131.0L1305 1133.4L1306 1134.7L1307 1135.8L1308 1135.8L1309 1135.4L1310 1135.5L1311 1135.1L1312 1135.0L1313 1134.9L1314 1134.9L1315 1136.8L1316 1137.0L1317 1135.3L1318 1134.2L1319 1133.6L1320 1134.3L1321 1135.0L1322 1135.8L1323 1135.1L1324 1135.2L1325 1136.4L1326 1136.6L1327 1135.9L1328 1136.2L1329 1137.7L1330 1136.3L1331 1135.5L1332 1135.6L1333 1135.3L1334 1135.5L1335 1136.1L1336 1135.6L1337 1135.9L1338 1136.3L1339 1135.3L1340 1134.9L1341 1136.8L1342 1137.6L1343 1136.8L1344 1134.7L1345 1135.3L1346 1135.9L1347 1136.5L1348 1137.1L1349 1137.3L1350 1136.0L1351 1135.9L1352 1137.3L1353 1137.1L1354 1136.5L1355 1135.8L1356 1135.1L1357 1134.3L1358 1134.0L1359 1134.1L1360 1134.6L1361 1136.2L1362 1136.0L1363 1134.8L1364 1135.1L1365 1136.1L1366 1137.6L1367 1137.3L1368 1135.5L1369 1135.3L1370 1135.9L1371 1136.4L1372 1136.9L1373 1135.5L1374 1134.3L1375 1134.1L1376 1135.2L1377 1136.0L1378 1136.1L1379 1134.5L1380 1134.2L1381 1135.5L1382 1135.5L1383 1135.6L1384 1136.7L1385 1137.7L1386 1136.4L1387 1135.7L1388 1136.8L1389 1137.5L1390 1137.9L1391 1135.4L1392 1134.9L1393 1135.5L1394 1136.0L1395 1136.2L1396 1135.9L1397 1135.9L1398 1135.9L1399 1135.6L1400 1135.1L1401 1134.8L1402 1136.2L1403 1136.0L1404 1136.4L1405 1137.2L1406 1137.5L1407 1136.1L1408 1136.4L1409 1136.3L1410 1135.8L1411 1136.3L1412 1135.9L1413 1135.4L1414 1134.8L1415 1134.9L1416 1135.7L1417 1135.2L1418 1135.4L1419 1135.6L1420 1135.5L1421 1135.4L1422 1136.2L1423 1135.4L1424 1134.7L1425 1135.0L1426 1134.4L1427 1135.6L1428 1135.8L1429 1136.1L1430 1136.5L1431 1136.8L1432 1136.3L1433 1136.0L1434 1136.0L1435 1134.8L1436 1134.7L1437 1136.1L1438 1135.3L1439 1135.2L1440 1134.7L1441 1133.4L1442 1134.0L1443 1135.0L1444 1135.9L1445 1137.0L1446 1135.8L1447 1135.9L1448 1135.6L1449 1135.2L1450 1134.3L1451 1133.5L1452 1134.0L1453 1134.4L1454 1135.3L1455 1135.1L1456 1135.3L1457 1135.9L1458 1134.7L1459 1135.9L1460 1136.3L1461 1134.2L1462 1133.8L1463 1135.7L1464 1136.4" stroke="#93c0e0"/>
<path d="M826.0 1130.8L827 1131.4L828 1133.8L829 1132.8L830 1131.3L831 1130.8L832 1131.0L833 1130.9L834 1131.5L835 1131.8L836 1132.3L837 1133.3L838 1133.1L839 1132.4L840 1132.3L841 1131.1L842 1130.5L843 1130.6L844 1131.5L845 1131.5L846 1132.8L847 1133.1L848 1132.4L849 1132.6L850 1133.9L851 1134.0L852 1132.8L853 1132.6L854 1131.5L855 1131.6L856 1131.9L857 1131.8L858 1131.6L859 1131.9L860 1131.7L861 1132.5L862 1132.8L863 1132.7L864 1132.1L865 1132.3L866 1132.4L867 1131.2L868 1132.1L869 1132.4L870 1131.6L871 1130.9L872 1131.8L873 1131.8L874 1132.4L875 1133.2L876 1131.8L877 1131.4L878 1132.2L879 1132.8L880 1133.9L881 1134.0L882 1132.9L883 1132.1L884 1132.4L885 1132.0L886 1131.5L887 1131.8L888 1131.5L889 1131.4L890 1132.7L891 1132.6L892 1133.4L893 1132.4L894 1132.2L895 1133.0L896 1133.3L897 1132.8L898 1132.6L899 1132.6L900 1132.8L901 1132.4L902 1133.0L903 1132.9L904 1132.3L905 1131.8L906 1133.1L907 1132.5L908 1131.5L909 1132.5L910 1133.0L911 1132.1L912 1131.7L913 1131.4L914 1132.0L915 1131.4L916 1130.6L917 1130.7L918 1131.4L919 1130.6L920 1131.8L921 1132.5L922 1131.9L923 1130.9L924 1130.7L925 1130.1L926 1129.8L927 1129.9L928 1129.7L929 1129.3L930 1131.5L931 1131.8L932 1130.9L933 1131.3L934 1131.9L935 1130.8L936 1130.6L937 1130.8L938 1128.6L939 1127.3L940 1127.5L941 1128.6L942 1128.8L943 1129.1L944 1128.5L945 1128.4L946 1127.9L947 1127.7L948 1126.7L949 1126.3L950 1126.7L951 1128.6L952 1128.7L953 1127.3L954 1127.0L955 1126.4L956 1126.1L957 1125.8L958 1125.2L959 1125.2L960 1125.5L961 1125.7L962 1124.4L963 1124.4L964 1124.1L965 1124.0L966 1123.7L967 1124.1L968 1124.1L969 1124.2L970 1124.7L971 1124.5L972 1123.9L973 1123.7L974 1123.3L975 1121.7L976 1122.8L977 1122.2L978 1120.5L979 1121.4L980 1120.9L981 1120.6L982 1121.3L983 1122.2L984 1121.9L985 1120.4L986 1120.1L987 1121.0L988 1119.9L989 1119.2L990 1118.2L991 1118.3L992 1118.9L993 1118.5L994 1117.5L995 1115.8L996 1114.8L997 1116.2L998 1116.8L999 1116.6L1000 1116.6L1001 1116.3L1002 1116.4L1003 1116.8L1004 1117.1L1005 1116.2L1006 1115.3L1007 1115.0L1008 1113.9L1009 1113.8L1010 1113.9L1011 1113.1L1012 1113.7L1013 1112.1L1014 1111.3L1015 1112.4L1016 1112.4L1017 1111.5L1018 1111.2L1019 1112.0L1020 1112.5L1021 1112.5L1022 1113.5L1023 1114.9L1024 1114.8L1025 1115.3L1026 1116.1L1027 1115.1L1028 1113.9L1029 1112.1L1030 1111.6L1031 1110.4L1032 1108.4L1033 1104.9L1034 1102.6L1035 1100.9L1036 1099.7L1037 1099.2L1038 1099.4L1039 1100.6L1040 1100.2L1041 1100.9L1042 1102.2L1043 1103.4L1044 1103.6L1045 1105.8L1046 1108.3L1047 1109.0L1048 1110.5L1049 1112.4L1050 1113.3L1051 1114.8L1052 1116.6L1053 1116.5L1054 1115.4L1055 1115.2L1056 1115.7L1057 1116.4L1058 1115.7L1059 1114.4L1060 1113.4L1061 1113.6L1062 1112.5L1063 1109.8L1064 1108.2L1065 1106.2L1066 1103.2L1067 1098.7L1068 1092.8L1069 1088.2L1070 1084.4L1071 1079.6L1072 1073.0L1073 1068.3L1074 1065.6L1075 1064.7L1076 1066.0L1077 1066.5L1078 1067.2L1079 1070.3L1080 1074.4L1081 1079.6L1082 1084.6L1083 1089.1L1084 1094.2L1085 1098.5L1086 1102.2L1087 1105.2L1088 1107.2L1089 1109.4L1090 1112.3L1091 1113.1L1092 1113.4L1093 1113.6L1094 1114.6L1095 1114.1L1096 1114.2L1097 1115.0L1098 1116.2L1099 1116.4L1100 1116.6L1101 1115.6L1102 1115.5L1103 1116.9L1104 1116.8L1105 1116.1L1106 1115.4L1107 1114.2L1108 1114.5L1109 1114.6L1110 1114.5L1111 1112.8L1112 1112.5L1113 1112.1L1114 1112.3L1115 1113.0L1116 1111.5L1117 1108.4L1118 1104.3L1119 1100.8L1120 1096.5L1121 1092.1L1122 1087.6L1123 1082.9L1124 1079.6L1125 1077.3L1126 1073.8L1127 1070.8L1128 1071.0L1129 1070.6L1130 1072.4L1131 1076.9L1132 1081.4L1133 1086.8L1134 1091.2L1135 1097.1L1136 1102.7L1137 1106.7L1138 1110.6L1139 1114.0L1140 1116.3L1141 1118.2L1142 1119.1L1143 1118.2L1144 1117.6L1145 1119.5L1146 1121.1L1147 1121.4L1148 1120.8L1149 1121.2L1150 1122.0L1151 1123.4L1152 1123.5L1153 1123.0L1154 1121.9L1155 1123.0L1156 1124.3L1157 1122.7L1158 1121.6L1159 1122.4L1160 1124.8L1161 1123.6L1162 1122.5L1163 1122.8L1164 1123.9L1165 1125.0L1166 1124.5L1167 1123.8L1168 1123.2L1169 1123.1L1170 1123.5L1171 1123.5L1172 1124.5L1173 1124.6L1174 1123.9L1175 1123.4L1176 1123.5L1177 1122.8L1178 1123.4L1179 1124.3L1180 1124.1L1181 1124.6L1182 1125.0L1183 1124.5L1184 1122.6L1185 1122.8L1186 1124.0L1187 1122.6L1188 1122.3L1189 1122.9L1190 1122.0L1191 1120.9L1192 1121.7L1193 1121.8L1194 1121.7L1195 1123.0L1196 1123.5L1197 1123.1L1198 1121.7L1199 1120.9L1200 1121.7L1201 1121.7L1202 1120.0L1203 1118.4L1204 1116.1L1205 1114.0L1206 1111.5L1207 1108.4L1208 1105.3L1209 1102.7L1210 1099.1L1211 1093.9L1212 1090.2L1213 1090.2L1214 1091.3L1215 1090.4L1216 1090.4L1217 1093.1L1218 1094.8L1219 1096.9L1220 1099.7L1221 1101.9L1222 1103.5L1223 1106.5L1224 1108.4L1225 1109.5L1226 1112.8L1227 1114.7L1228 1113.5L1229 1112.7L1230 1113.9L1231 1114.9L1232 1116.2L1233 1115.8L1234 1114.1L1235 1114.0L1236 1114.9L1237 1116.3L1238 1117.1L1239 1117.2L1240 1116.9L1241 1116.0L1242 1116.6L1243 1116.4L1244 1115.6L1245 1115.5L1246 1116.0L1247 1116.1L1248 1117.0L1249 1118.2L1250 1117.7L1251 1117.6L1252 1117.7L1253 1117.8L1254 1118.0L1255 1117.6L1256 1118.4L1257 1118.8L1258 1119.1L1259 1119.5L1260 1119.4L1261 1119.5L1262 1120.3L1263 1121.7L1264 1122.5L1265 1122.5L1266 1122.8L1267 1124.0L1268 1124.1L1269 1124.2L1270 1124.2L1271 1124.0L1272 1123.0L1273 1122.8L1274 1123.1L1275 1124.4L1276 1124.6L1277 1123.7L1278 1122.1L1279 1122.1L1280 1123.4L1281 1122.7L1282 1122.1L1283 1123.8L1284 1123.5L1285 1122.4L1286 1122.7L1287 1123.4L1288 1122.0L1289 1121.8L1290 1122.5L1291 1123.6L1292 1122.8L1293 1121.6L1294 1121.6L1295 1121.8L1296 1122.2L1297 1121.8L1298 1122.7L1299 1123.1L1300 1124.3L1301 1125.7L1302 1125.9L1303 1128.3L1304 1129.7L1305 1130.9L1306 1133.1L1307 1134.0L1308 1133.1L1309 1132.9L1310 1132.6L1311 1131.5L1312 1130.7L1313 1131.5L1314 1130.6L1315 1131.6L1316 1133.1L1317 1134.8L1318 1134.2L1319 1132.5L1320 1132.1L1321 1132.7L1322 1132.1L1323 1131.7L1324 1132.9L1325 1133.9L1326 1133.5L1327 1132.6L1328 1131.9L1329 1131.8L1330 1132.6L1331 1132.4L1332 1132.3L1333 1131.8L1334 1130.9L1335 1130.9L1336 1132.2L1337 1132.7L1338 1132.8L1339 1132.6L1340 1132.4L1341 1132.3L1342 1132.6L1343 1133.1L1344 1132.9L1345 1131.4L1346 1129.8L1347 1130.5L1348 1131.0L1349 1131.3L1350 1131.2L1351 1130.3L1352 1131.7L1353 1132.8L1354 1132.8L1355 1132.1L1356 1132.6L1357 1132.8L1358 1132.8L1359 1132.8L1360 1132.2L1361 1132.2L1362 1131.0L1363 1133.4L1364 1133.2L1365 1131.7L1366 1131.2L1367 1131.5L1368 1131.2L1369 1131.2L1370 1131.1L1371 1130.8L1372 1131.0L1373 1131.3L1374 1131.2L1375 1130.7L1376 1131.0L1377 1130.4L1378 1129.8L1379 1130.2L1380 1130.3L1381 1131.1L1382 1130.9L1383 1130.6L1384 1130.7L1385 1130.3L1386 1130.0L1387 1131.2L1388 1131.6L1389 1131.4L1390 1132.1L1391 1131.2L1392 1130.2L1393 1130.6L1394 1130.5L1395 1130.3L1396 1129.9L1397 1130.4L1398 1131.7L1399 1133.6L1400 1132.2L1401 1130.8L1402 1131.2L1403 1131.4L1404 1130.9L1405 1131.6L1406 1131.4L1407 1130.8L1408 1131.3L1409 1131.1L1410 1131.4L1411 1132.2L1412 1132.0L1413 1131.7L1414 1131.5L1415 1130.5L1416 1131.1L1417 1132.0L1418 1132.5L1419 1131.5L1420 1130.4L1421 1130.9L1422 1130.6L1423 1130.8L1424 1131.7L1425 1132.0L1426 1131.6L1427 1132.3L1428 1131.6L1429 1131.8L1430 1131.1L1431 1131.4L1432 1131.2L1433 1130.8L1434 1131.8L1435 1131.6L1436 1131.4L1437 1130.8L1438 1130.6L1439 1130.9L1440 1131.2L1441 1131.5L1442 1131.1L1443 1131.4L1444 1131.3L1445 1131.6L1446 1132.7L1447 1132.6L1448 1131.6L1449 1131.2L1450 1131.2L1451 1132.9L1452 1131.7L1453 1130.7L1454 1131.0L1455 1131.0L1456 1131.4L1457 1131.4L1458 1131.4L1459 1133.0L1460 1133.6L1461 1131.9L1462 1131.5L1463 1131.5L1464 1131.4" stroke="#b0d2e8"/>
<path d="M826.0 1132.9L827 1132.8L828 1133.3L829 1133.8L830 1133.8L831 1133.8L832 1132.8L833 1132.1L834 1133.1L835 1133.4L836 1132.7L837 1132.6L838 1133.0L839 1133.6L840 1133.1L841 1132.8L842 1133.9L843 1134.2L844 1134.9L845 1135.0L846 1134.8L847 1134.0L848 1133.9L849 1133.1L850 1132.9L851 1133.8L852 1135.1L853 1134.1L854 1133.2L855 1133.3L856 1134.2L857 1134.0L858 1134.1L859 1133.6L860 1132.6L861 1133.3L862 1133.0L863 1132.5L864 1133.2L865 1133.2L866 1132.9L867 1133.2L868 1133.8L869 1132.9L870 1132.4L871 1133.5L872 1132.7L873 1132.8L874 1132.9L875 1131.5L876 1132.2L877 1133.6L878 1133.1L879 1132.6L880 1132.8L881 1132.5L882 1132.6L883 1132.1L884 1131.9L885 1133.0L886 1133.1L887 1133.3L888 1133.3L889 1134.0L890 1133.8L891 1133.0L892 1132.1L893 1132.2L894 1133.9L895 1133.8L896 1133.3L897 1134.4L898 1133.9L899 1132.9L900 1131.9L901 1132.2L902 1133.1L903 1133.3L904 1132.8L905 1131.9L906 1132.8L907 1133.0L908 1132.5L909 1132.7L910 1133.0L911 1133.4L912 1132.8L913 1132.3L914 1131.3L915 1131.3L916 1131.6L917 1131.5L918 1131.6L919 1130.9L920 1131.1L921 1131.3L922 1132.0L923 1131.8L924 1132.8L925 1133.0L926 1131.9L927 1131.4L928 1130.1L929 1129.0L930 1130.6L931 1130.9L932 1130.1L933 1129.7L934 1130.0L935 1129.9L936 1129.2L937 1129.4L938 1130.3L939 1129.9L940 1129.8L941 1130.1L942 1129.6L943 1129.6L944 1128.6L945 1128.7L946 1129.1L947 1129.4L948 1129.7L949 1130.7L950 1130.1L951 1129.3L952 1129.9L953 1129.0L954 1129.4L955 1128.6L956 1128.6L957 1127.9L958 1128.3L959 1128.9L960 1127.2L961 1126.6L962 1127.7L963 1128.1L964 1128.2L965 1128.2L966 1127.2L967 1127.6L968 1127.8L969 1128.1L970 1128.2L971 1127.9L972 1126.4L973 1126.3L974 1126.0L975 1126.4L976 1126.9L977 1126.7L978 1126.5L979 1126.0L980 1126.0L981 1126.1L982 1126.5L983 1125.5L984 1123.9L985 1124.9L986 1125.2L987 1123.8L988 1123.2L989 1124.5L990 1124.3L991 1124.4L992 1124.5L993 1123.0L994 1122.8L995 1122.9L996 1123.1L997 1122.6L998 1122.8L999 1123.0L1000 1123.6L1001 1123.2L1002 1121.7L1003 1122.1L1004 1122.0L1005 1122.0L1006 1122.2L1007 1121.8L1008 1121.0L1009 1121.0L1010 1120.8L1011 1120.0L1012 1118.9L1013 1118.8L1014 1119.2L1015 1120.0L1016 1120.2L1017 1118.7L1018 1118.4L1019 1119.2L1020 1119.2L1021 1119.1L1022 1119.3L1023 1119.9L1024 1120.8L1025 1120.8L1026 1122.1L1027 1121.3L1028 1120.3L1029 1118.9L1030 1117.2L1031 1117.1L1032 1118.3L1033 1117.9L1034 1115.7L1035 1115.2L1036 1114.0L1037 1113.2L1038 1114.5L1039 1114.7L1040 1113.3L1041 1113.1L1042 1113.7L1043 1114.3L1044 1115.6L1045 1116.6L1046 1116.7L1047 1117.7L1048 1118.4L1049 1117.6L1050 1117.7L1051 1118.2L1052 1119.4L1053 1119.8L1054 1120.2L1055 1120.0L1056 1119.3L1057 1119.2L1058 1118.2L1059 1116.9L1060 1115.9L1061 1116.6L1062 1115.1L1063 1113.9L1064 1112.6L1065 1110.9L1066 1107.1L1067 1102.5L1068 1098.5L1069 1094.1L1070 1089.3L1071 1083.9L1072 1080.5L1073 1078.3L1074 1075.1L1075 1074.2L1076 1074.1L1077 1072.5L1078 1072.4L1079 1075.9L1080 1080.6L1081 1084.4L1082 1087.5L1083 1092.1L1084 1096.7L1085 1100.7L1086 1103.9L1087 1106.3L1088 1108.7L1089 1111.0L1090 1112.7L1091 1112.9L1092 1113.5L1093 1113.6L1094 1115.1L1095 1115.2L1096 1115.5L1097 1115.9L1098 1114.3L1099 1114.3L1100 1115.6L1101 1115.3L1102 1116.1L1103 1117.6L1104 1116.2L1105 1115.5L1106 1115.5L1107 1115.8L1108 1115.1L1109 1114.0L1110 1112.7L1111 1112.5L1112 1112.0L1113 1110.8L1114 1111.0L1115 1110.5L1116 1108.6L1117 1103.6L1118 1099.4L1119 1095.2L1120 1090.5L1121 1085.5L1122 1080.0L1123 1074.6L1124 1069.3L1125 1064.2L1126 1059.7L1127 1058.0L1128 1058.2L1129 1059.6L1130 1061.7L1131 1064.3L1132 1069.7L1133 1076.3L1134 1083.2L1135 1090.0L1136 1095.3L1137 1100.2L1138 1105.8L1139 1110.2L1140 1113.4L1141 1115.7L1142 1117.7L1143 1117.9L1144 1118.0L1145 1117.7L1146 1118.4L1147 1118.0L1148 1117.7L1149 1119.2L1150 1120.0L1151 1119.9L1152 1120.3L1153 1120.9L1154 1119.9L1155 1119.2L1156 1120.7L1157 1121.6L1158 1122.1L1159 1121.9L1160 1122.8L1161 1122.6L1162 1121.4L1163 1122.0L1164 1121.1L1165 1120.6L1166 1121.4L1167 1121.2L1168 1120.8L1169 1122.2L1170 1123.2L1171 1123.6L1172 1122.4L1173 1121.1L1174 1121.6L1175 1123.1L1176 1123.5L1177 1123.0L1178 1122.4L1179 1122.4L1180 1122.2L1181 1122.2L1182 1122.5L1183 1122.3L1184 1122.1L1185 1122.0L1186 1121.2L1187 1120.2L1188 1120.9L1189 1121.9L1190 1122.7L1191 1122.1L1192 1123.0L1193 1122.4L1194 1120.5L1195 1120.0L1196 1120.9L1197 1121.7L1198 1121.0L1199 1120.2L1200 1118.6L1201 1117.1L1202 1117.6L1203 1117.5L1204 1115.8L1205 1112.6L1206 1109.8L1207 1107.0L1208 1103.2L1209 1099.7L1210 1095.0L1211 1091.3L1212 1089.2L1213 1088.2L1214 1087.0L1215 1087.2L1216 1088.1L1217 1089.8L1218 1092.5L1219 1094.7L1220 1096.0L1221 1098.8L1222 1101.4L1223 1104.0L1224 1107.9L1225 1109.8L1226 1110.5L1227 1111.5L1228 1112.4L1229 1112.3L1230 1113.2L1231 1114.5L1232 1114.4L1233 1113.4L1234 1113.9L1235 1115.0L1236 1113.5L1237 1113.1L1238 1113.3L1239 1114.4L1240 1115.1L1241 1114.8L1242 1113.1L1243 1113.8L1244 1113.8L1245 1114.9L1246 1115.5L1247 1116.4L1248 1115.8L1249 1115.2L1250 1116.0L1251 1115.3L1252 1115.9L1253 1117.2L1254 1117.5L1255 1117.6L1256 1117.7L1257 1118.4L1258 1119.0L1259 1119.3L1260 1120.1L1261 1120.5L1262 1119.9L1263 1119.8L1264 1121.3L1265 1121.4L1266 1121.9L1267 1122.1L1268 1121.5L1269 1121.8L1270 1121.4L1271 1122.5L1272 1122.5L1273 1122.9L1274 1123.2L1275 1122.6L1276 1122.6L1277 1122.4L1278 1123.0L1279 1123.6L1280 1123.1L1281 1122.5L1282 1122.3L1283 1123.2L1284 1123.5L1285 1123.9L1286 1123.0L1287 1123.8L1288 1124.3L1289 1122.9L1290 1122.2L1291 1123.7L1292 1124.0L1293 1123.7L1294 1123.5L1295 1122.8L1296 1123.3L1297 1123.3L1298 1123.0L1299 1123.8L1300 1124.3L1301 1125.8L1302 1127.2L1303 1127.7L1304 1126.7L1305 1128.4L1306 1129.6L1307 1130.1L1308 1130.2L1309 1129.8L1310 1129.2L1311 1131.0L1312 1132.0L1313 1131.8L1314 1131.3L1315 1129.8L1316 1129.7L1317 1131.1L1318 1131.5L1319 1130.5L1320 1129.9L1321 1131.7L1322 1130.7L1323 1130.4L1324 1129.8L1325 1130.6L1326 1130.8L1327 1131.3L1328 1130.6L1329 1128.8L1330 1128.9L1331 1130.0L1332 1130.9L1333 1131.4L1334 1130.4L1335 1129.7L1336 1129.6L1337 1129.9L1338 1130.3L1339 1129.7L1340 1129.0L1341 1127.9L1342 1127.6L1343 1129.0L1344 1129.8L1345 1129.6L1346 1129.8L1347 1129.9L1348 1129.6L1349 1129.7L1350 1128.9L1351 1128.9L1352 1128.9L1353 1129.2L1354 1129.8L1355 1129.9L1356 1129.5L1357 1129.3L1358 1128.8L1359 1129.1L1360 1129.8L1361 1129.4L1362 1129.9L1363 1129.6L1364 1129.6L1365 1130.3L1366 1129.1L1367 1128.5L1368 1128.8L1369 1129.0L1370 1129.2L1371 1129.4L1372 1129.1L1373 1128.9L1374 1128.8L1375 1129.2L1376 1128.5L1377 1128.2L1378 1128.5L1379 1128.5L1380 1128.4L1381 1129.2L1382 1128.3L1383 1127.9L1384 1127.8L1385 1128.0L1386 1128.6L1387 1128.4L1388 1127.6L1389 1127.6L1390 1128.2L1391 1129.0L1392 1127.8L1393 1126.8L1394 1127.0L1395 1128.0L1396 1128.9L1397 1127.8L1398 1128.6L1399 1129.9L1400 1128.9L1401 1129.5L1402 1129.6L1403 1128.6L1404 1127.4L1405 1127.9L1406 1127.5L1407 1126.3L1408 1126.4L1409 1127.8L1410 1128.6L1411 1129.3L1412 1128.8L1413 1127.9L1414 1127.7L1415 1127.7L1416 1127.5L1417 1128.4L1418 1128.2L1419 1127.4L1420 1127.2L1421 1127.1L1422 1127.7L1423 1128.2L1424 1128.3L1425 1129.3L1426 1129.5L1427 1128.3L1428 1128.1L1429 1128.5L1430 1129.6L1431 1129.2L1432 1129.1L1433 1129.7L1434 1130.3L1435 1129.0L1436 1127.7L1437 1128.0L1438 1128.7L1439 1128.4L1440 1128.6L1441 1130.4L1442 1129.2L1443 1128.0L1444 1127.4L1445 1126.8L1446 1127.2L1447 1128.0L1448 1128.1L1449 1128.1L1450 1128.9L1451 1128.6L1452 1127.6L1453 1127.1L1454 1128.4L1455 1128.8L1456 1128.4L1457 1127.8L1458 1128.2L1459 1128.1L1460 1129.4L1461 1129.4L1462 1129.0L1463 1128.2L1464 1127.8" stroke="#cce2f0"/>
<path d="M826.0 1135.8L827 1135.5L828 1135.2L829 1134.9L830 1135.5L831 1134.6L832 1134.2L833 1132.9L834 1132.3L835 1132.1L836 1132.7L837 1133.2L838 1132.6L839 1132.4L840 1133.5L841 1133.3L842 1133.1L843 1132.8L844 1133.9L845 1134.0L846 1133.4L847 1133.8L848 1134.7L849 1133.8L850 1133.7L851 1133.9L852 1133.8L853 1134.0L854 1134.5L855 1133.2L856 1134.5L857 1135.5L858 1133.9L859 1132.7L860 1133.2L861 1132.2L862 1132.3L863 1134.5L864 1136.0L865 1134.9L866 1133.3L867 1134.4L868 1135.3L869 1135.0L870 1134.0L871 1133.4L872 1132.7L873 1132.9L874 1134.1L875 1134.3L876 1134.5L877 1134.2L878 1134.8L879 1134.3L880 1132.4L881 1132.8L882 1132.4L883 1131.4L884 1132.4L885 1133.5L886 1133.8L887 1133.9L888 1133.1L889 1133.1L890 1132.5L891 1133.5L892 1134.1L893 1133.9L894 1133.2L895 1133.0L896 1132.7L897 1133.6L898 1133.0L899 1132.2L900 1133.1L901 1132.8L902 1132.1L903 1132.9L904 1134.3L905 1134.5L906 1132.0L907 1132.0L908 1132.2L909 1132.7L910 1131.7L911 1132.1L912 1132.9L913 1133.3L914 1132.7L915 1132.8L916 1133.1L917 1133.6L918 1132.8L919 1132.3L920 1132.7L921 1131.8L922 1131.1L923 1131.6L924 1132.0L925 1131.6L926 1130.9L927 1131.9L928 1131.6L929 1131.1L930 1130.7L931 1130.9L932 1130.8L933 1129.2L934 1130.1L935 1131.6L936 1131.4L937 1130.4L938 1130.2L939 1131.0L940 1130.6L941 1131.4L942 1131.1L943 1129.5L944 1128.9L945 1130.0L946 1130.3L947 1129.8L948 1130.7L949 1130.4L950 1129.9L951 1129.5L952 1129.9L953 1130.3L954 1130.3L955 1130.8L956 1130.3L957 1130.9L958 1131.3L959 1130.9L960 1130.3L961 1129.9L962 1130.1L963 1129.6L964 1129.5L965 1130.4L966 1130.9L967 1129.9L968 1130.5L969 1132.1L970 1131.7L971 1130.9L972 1131.5L973 1131.6L974 1131.6L975 1130.3L976 1129.8L977 1129.4L978 1128.9L979 1129.7L980 1129.5L981 1128.5L982 1129.7L983 1129.5L984 1129.9L985 1128.7L986 1127.3L987 1128.2L988 1128.5L989 1127.1L990 1128.3L991 1128.5L992 1128.4L993 1128.7L994 1127.1L995 1126.2L996 1126.7L997 1127.3L998 1127.6L999 1127.9L1000 1129.8L1001 1128.5L1002 1128.0L1003 1128.8L1004 1127.7L1005 1127.4L1006 1127.3L1007 1126.9L1008 1126.4L1009 1126.6L1010 1127.3L1011 1126.8L1012 1126.4L1013 1126.2L1014 1126.1L1015 1124.9L1016 1124.1L1017 1123.7L1018 1123.5L1019 1124.2L1020 1125.8L1021 1126.4L1022 1126.1L1023 1125.5L1024 1125.4L1025 1124.6L1026 1124.2L1027 1124.9L1028 1124.0L1029 1123.9L1030 1123.9L1031 1123.1L1032 1121.8L1033 1121.2L1034 1118.6L1035 1117.0L1036 1117.7L1037 1116.7L1038 1115.1L1039 1115.3L1040 1115.8L1041 1116.0L1042 1115.6L1043 1116.4L1044 1118.3L1045 1120.0L1046 1120.0L1047 1118.1L1048 1117.8L1049 1117.2L1050 1118.1L1051 1119.4L1052 1118.7L1053 1118.3L1054 1119.6L1055 1119.3L1056 1118.3L1057 1119.8L1058 1119.2L1059 1117.1L1060 1116.8L1061 1117.2L1062 1116.2L1063 1113.2L1064 1110.2L1065 1107.6L1066 1104.2L1067 1099.8L1068 1096.1L1069 1091.4L1070 1085.2L1071 1081.4L1072 1076.5L1073 1071.6L1074 1067.7L1075 1066.8L1076 1066.7L1077 1067.7L1078 1068.4L1079 1070.7L1080 1074.8L1081 1080.1L1082 1084.7L1083 1089.9L1084 1094.4L1085 1097.9L1086 1101.0L1087 1104.9L1088 1107.7L1089 1110.1L1090 1111.3L1091 1112.0L1092 1112.0L1093 1112.2L1094 1113.4L1095 1113.4L1096 1114.2L1097 1114.2L1098 1114.7L1099 1114.9L1100 1114.6L1101 1113.8L1102 1113.8L1103 1113.7L1104 1114.3L1105 1113.9L1106 1113.1L1107 1114.4L1108 1114.0L1109 1112.3L1110 1110.6L1111 1110.8L1112 1109.4L1113 1108.1L1114 1108.0L1115 1106.4L1116 1103.0L1117 1100.5L1118 1096.1L1119 1089.6L1120 1083.3L1121 1075.6L1122 1069.0L1123 1063.2L1124 1055.7L1125 1049.7L1126 1045.3L1127 1042.2L1128 1042.8L1129 1044.0L1130 1046.1L1131 1050.4L1132 1057.9L1133 1065.2L1134 1073.0L1135 1081.2L1136 1088.3L1137 1095.3L1138 1101.0L1139 1105.8L1140 1110.6L1141 1113.5L1142 1115.0L1143 1115.8L1144 1116.8L1145 1116.8L1146 1116.4L1147 1116.2L1148 1114.8L1149 1116.9L1150 1117.8L1151 1119.0L1152 1119.0L1153 1119.1L1154 1118.7L1155 1118.2L1156 1119.4L1157 1120.5L1158 1120.3L1159 1120.7L1160 1120.0L1161 1118.9L1162 1119.0L1163 1119.3L1164 1120.0L1165 1121.0L1166 1122.1L1167 1121.8L1168 1121.3L1169 1120.4L1170 1120.0L1171 1120.7L1172 1121.1L1173 1119.6L1174 1119.7L1175 1120.9L1176 1120.9L1177 1120.6L1178 1120.9L1179 1121.0L1180 1120.7L1181 1120.9L1182 1121.3L1183 1122.5L1184 1122.0L1185 1120.3L1186 1121.2L1187 1120.5L1188 1120.1L1189 1120.3L1190 1120.4L1191 1119.4L1192 1119.5L1193 1120.3L1194 1120.7L1195 1120.1L1196 1120.0L1197 1119.8L1198 1118.5L1199 1117.6L1200 1117.2L1201 1117.2L1202 1116.4L1203 1114.1L1204 1111.4L1205 1108.2L1206 1106.5L1207 1104.1L1208 1099.2L1209 1094.5L1210 1092.2L1211 1089.9L1212 1087.0L1213 1083.9L1214 1083.7L1215 1084.0L1216 1084.7L1217 1087.0L1218 1088.9L1219 1091.7L1220 1093.8L1221 1095.9L1222 1098.7L1223 1102.0L1224 1104.3L1225 1107.4L1226 1109.9L1227 1110.2L1228 1111.0L1229 1112.1L1230 1113.6L1231 1112.4L1232 1111.8L1233 1111.7L1234 1111.6L1235 1111.9L1236 1110.9L1237 1111.5L1238 1112.9L1239 1115.1L1240 1114.7L1241 1112.4L1242 1112.2L1243 1112.5L1244 1113.4L1245 1113.4L1246 1113.3L1247 1113.7L1248 1113.3L1249 1114.4L1250 1114.4L1251 1114.5L1252 1114.2L1253 1114.2L1254 1115.7L1255 1115.5L1256 1115.6L1257 1115.7L1258 1116.7L1259 1117.4L1260 1117.0L1261 1116.6L1262 1117.4L1263 1118.3L1264 1119.2L1265 1120.7L1266 1120.8L1267 1120.8L1268 1121.2L1269 1121.5L1270 1121.2L1271 1120.5L1272 1120.1L1273 1121.8L1274 1122.3L1275 1121.2L1276 1121.6L1277 1122.0L1278 1120.9L1279 1121.6L1280 1122.2L1281 1122.6L1282 1122.7L1283 1122.2L1284 1121.9L1285 1120.2L1286 1121.1L1287 1122.2L1288 1122.6L1289 1121.8L1290 1121.3L1291 1122.0L1292 1123.1L1293 1123.2L1294 1123.3L1295 1121.5L1296 1121.5L1297 1122.1L1298 1122.7L1299 1123.5L1300 1123.6L1301 1123.5L1302 1124.4L1303 1125.0L1304 1126.0L1305 1127.0L1306 1127.5L1307 1127.7L1308 1128.4L1309 1128.4L1310 1129.2L1311 1129.4L1312 1129.0L1313 1128.2L1314 1128.2L1315 1127.9L1316 1128.8L1317 1128.7L1318 1128.9L1319 1128.0L1320 1128.4L1321 1128.3L1322 1128.8L1323 1128.9L1324 1128.6L1325 1129.6L1326 1129.0L1327 1127.4L1328 1127.9L1329 1127.7L1330 1128.7L1331 1129.3L1332 1128.3L1333 1127.2L1334 1127.5L1335 1127.6L1336 1127.2L1337 1127.6L1338 1127.0L1339 1127.2L1340 1127.7L1341 1126.6L1342 1126.2L1343 1127.0L1344 1127.2L1345 1127.6L1346 1127.8L1347 1127.0L1348 1127.4L1349 1127.0L1350 1127.5L1351 1127.6L1352 1126.6L1353 1126.0L1354 1125.4L1355 1126.3L1356 1126.6L1357 1126.6L1358 1126.5L1359 1125.3L1360 1125.0L1361 1125.9L1362 1127.0L1363 1126.4L1364 1126.5L1365 1127.2L1366 1127.4L1367 1125.8L1368 1125.1L1369 1125.6L1370 1125.3L1371 1124.3L1372 1124.2L1373 1126.2L1374 1128.0L1375 1126.3L1376 1125.6L1377 1125.6L1378 1126.5L1379 1126.7L1380 1125.9L1381 1126.0L1382 1125.8L1383 1125.5L1384 1126.1L1385 1126.7L1386 1125.9L1387 1126.1L1388 1126.0L1389 1125.9L1390 1126.8L1391 1126.8L1392 1127.3L1393 1126.6L1394 1125.7L1395 1125.8L1396 1125.8L1397 1125.5L1398 1126.3L1399 1126.7L1400 1125.3L1401 1125.1L1402 1125.2L1403 1126.0L1404 1126.4L1405 1127.0L1406 1127.6L1407 1126.8L1408 1126.0L1409 1125.3L1410 1126.8L1411 1126.4L1412 1126.1L1413 1126.0L1414 1126.0L1415 1125.6L1416 1125.7L1417 1126.7L1418 1125.9L1419 1126.3L1420 1127.3L1421 1128.2L1422 1128.0L1423 1127.0L1424 1127.3L1425 1127.4L1426 1126.8L1427 1126.4L1428 1126.8L1429 1127.3L1430 1127.0L1431 1126.8L1432 1126.8L1433 1125.5L1434 1124.7L1435 1125.1L1436 1126.3L1437 1126.9L1438 1126.8L1439 1125.7L1440 1125.8L1441 1125.4L1442 1127.3L1443 1126.7L1444 1126.1L1445 1126.2L1446 1125.6L1447 1124.9L1448 1125.9L1449 1126.2L1450 1127.1L1451 1128.0L1452 1127.7L1453 1126.4L1454 1126.8L1455 1127.7L1456 1126.9L1457 1126.3L1458 1126.2L1459 1126.4L1460 1128.1L1461 1128.4L1462 1128.1L1463 1126.9L1464 1125.7" stroke="#e5f0f7"/>
</g>
<rect x="826.6" y="726" width="633.2" height="426" fill="none" stroke="#000" stroke-width="3"/>
<line x1="821.6" y1="1135.6" x2="826.6" y2="1135.6" stroke="#000" stroke-width="2.5"/>
<text x="817.3" y="1147.2" font-size="36" text-anchor="end" fill="#000" >0</text>
<line x1="821.6" y1="1004.4" x2="826.6" y2="1004.4" stroke="#000" stroke-width="2.5"/>
<text x="817.3" y="1016.0" font-size="36" text-anchor="end" fill="#000" >2</text>
<line x1="821.6" y1="873.2" x2="826.6" y2="873.2" stroke="#000" stroke-width="2.5"/>
<text x="817.3" y="884.8" font-size="36" text-anchor="end" fill="#000" >4</text>
<line x1="821.6" y1="742.0" x2="826.6" y2="742.0" stroke="#000" stroke-width="2.5"/>
<text x="817.3" y="753.6" font-size="36" text-anchor="end" fill="#000" >6</text>
<line x1="931.0" y1="1152" x2="931.0" y2="1157" stroke="#000" stroke-width="2.2"/>
<line x1="851.5" y1="1152" x2="851.5" y2="1155" stroke="#000" stroke-width="2.2"/>
<line x1="1195.0" y1="1152" x2="1195.0" y2="1157" stroke="#000" stroke-width="2.2"/>
<line x1="1115.5" y1="1152" x2="1115.5" y2="1155" stroke="#000" stroke-width="2.2"/>
<line x1="1069.0" y1="1152" x2="1069.0" y2="1155" stroke="#000" stroke-width="2.2"/>
<line x1="1036.1" y1="1152" x2="1036.1" y2="1155" stroke="#000" stroke-width="2.2"/>
<line x1="1010.5" y1="1152" x2="1010.5" y2="1155" stroke="#000" stroke-width="2.2"/>
<line x1="989.6" y1="1152" x2="989.6" y2="1155" stroke="#000" stroke-width="2.2"/>
<line x1="971.9" y1="1152" x2="971.9" y2="1155" stroke="#000" stroke-width="2.2"/>
<line x1="956.6" y1="1152" x2="956.6" y2="1155" stroke="#000" stroke-width="2.2"/>
<line x1="943.1" y1="1152" x2="943.1" y2="1155" stroke="#000" stroke-width="2.2"/>
<line x1="1459.0" y1="1152" x2="1459.0" y2="1157" stroke="#000" stroke-width="2.2"/>
<line x1="1379.5" y1="1152" x2="1379.5" y2="1155" stroke="#000" stroke-width="2.2"/>
<line x1="1333.0" y1="1152" x2="1333.0" y2="1155" stroke="#000" stroke-width="2.2"/>
<line x1="1300.1" y1="1152" x2="1300.1" y2="1155" stroke="#000" stroke-width="2.2"/>
<line x1="1274.5" y1="1152" x2="1274.5" y2="1155" stroke="#000" stroke-width="2.2"/>
<line x1="1253.6" y1="1152" x2="1253.6" y2="1155" stroke="#000" stroke-width="2.2"/>
<line x1="1235.9" y1="1152" x2="1235.9" y2="1155" stroke="#000" stroke-width="2.2"/>
<line x1="1220.6" y1="1152" x2="1220.6" y2="1155" stroke="#000" stroke-width="2.2"/>
<line x1="1207.1" y1="1152" x2="1207.1" y2="1155" stroke="#000" stroke-width="2.2"/>
<text x="932.3" y="1192.8" font-size="36.5" text-anchor="middle" fill="#000" >10000</text>
<text x="1196.3" y="1192.8" font-size="36.5" text-anchor="middle" fill="#000" >1000</text>
<text x="1460.3" y="1192.8" font-size="36.5" text-anchor="middle" fill="#000" >100</text>
<text x="1143.3" y="1227.0" font-size="36.9" text-anchor="middle" fill="#000" >Molecular weight (Da)</text>
<text transform="translate(765.8,1062.5) rotate(-90)" font-size="36.5">Intensity (x10<tspan dy="-14" font-size="23.5">-3</tspan><tspan dy="14">)</tspan></text>
<text x="1126.3" y="712.9" font-size="36.4" text-anchor="middle" fill="#000" >High LMW</text>
<text x="750.8" y="731.0" font-size="65" text-anchor="start" fill="#000" >d</text>
<text x="830.4" y="752.0" font-size="27" text-anchor="start" fill="#000" >HMW (3.4-25 kDa)</text>
<text x="1222.3" y="752.5" font-size="27" text-anchor="start" fill="#000" >LMW (&lt;1.2 kDa)</text>
<line x1="1273.3" y1="774.2" x2="1304.0" y2="774.2" stroke="#1b72b5" stroke-width="5" stroke-linecap="round"/>
<text x="1311.1" y="783.8" font-size="26.8" text-anchor="start" fill="#000" >Yunnan</text>
<line x1="1273.3" y1="807.4" x2="1304.0" y2="807.4" stroke="#2a7dbc" stroke-width="5" stroke-linecap="round"/>
<text x="1311.1" y="817.0" font-size="26.8" text-anchor="start" fill="#000" >Hubei</text>
<line x1="1273.3" y1="840.6" x2="1304.0" y2="840.6" stroke="#3f8bc6" stroke-width="5" stroke-linecap="round"/>
<text x="1311.1" y="850.2" font-size="26.8" text-anchor="start" fill="#000" >Zhejiang</text>
<line x1="1273.3" y1="873.8" x2="1304.0" y2="873.8" stroke="#5a9dd0" stroke-width="5" stroke-linecap="round"/>
<text x="1311.1" y="883.4" font-size="26.8" text-anchor="start" fill="#000" >Guizhou</text>
<line x1="1273.3" y1="907.0" x2="1304.0" y2="907.0" stroke="#77aed8" stroke-width="5" stroke-linecap="round"/>
<text x="1311.1" y="916.6" font-size="26.8" text-anchor="start" fill="#000" >Hunan</text>
<line x1="1273.3" y1="940.2" x2="1304.0" y2="940.2" stroke="#93c0e0" stroke-width="5" stroke-linecap="round"/>
<text x="1311.1" y="949.8" font-size="26.8" text-anchor="start" fill="#000" >Guangxi</text>
<line x1="1273.3" y1="973.4" x2="1304.0" y2="973.4" stroke="#b0d2e8" stroke-width="5" stroke-linecap="round"/>
<text x="1311.1" y="983.0" font-size="26.8" text-anchor="start" fill="#000" >Guangdong</text>
<line x1="1273.3" y1="1006.6" x2="1304.0" y2="1006.6" stroke="#cce2f0" stroke-width="5" stroke-linecap="round"/>
<text x="1311.1" y="1016.2" font-size="26.8" text-anchor="start" fill="#000" >Jiangxi</text>
<line x1="1273.3" y1="1039.8" x2="1304.0" y2="1039.8" stroke="#e5f0f7" stroke-width="5" stroke-linecap="round"/>
<text x="1311.1" y="1049.4" font-size="26.8" text-anchor="start" fill="#000" >Fujian</text>
<g fill="none" stroke-linecap="round" stroke-width="8" stroke-opacity="0.72">
<path stroke="#6fa679" d="M277 1583h0M408 1462h0M320 1580h0M387 1621h0M387 1585h0M426 1559h0M402 1582h0M277 1596h0M285 1498h0M352 1579h0M410 1449h0M315 1439h0M429 1493h0M248 1529h0M333 1431h0M381 1594h0M342 1406h0M365 1532h0M286 1596h0M373 1583h0M402 1575h0M387 1515h0M439 1546h0M369 1614h0M316 1514h0M387 1475h0M351 1518h0M351 1521h0M363 1492h0M387 1463h0M338 1628h0M320 1519h0M387 1602h0M365 1575h0M315 1474h0M350 1561h0M293 1574h0M429 1445h0M356 1627h0M375 1608h0M352 1642h0M387 1464h0M320 1564h0M387 1621h0"/>
<path stroke="#53925e" d="M315 1596h0M297 1605h0M395 1596h0M387 1665h0M289 1483h0M387 1532h0M356 1521h0M270 1554h0M387 1492h0M283 1496h0M387 1542h0M215 1596h0M311 1523h0M293 1506h0M404 1548h0M363 1517h0M243 1527h0M358 1483h0M337 1418h0M387 1493h0M328 1568h0M266 1516h0M218 1651h0M366 1586h0M283 1622h0M414 1590h0M387 1490h0M309 1458h0M256 1542h0M340 1551h0M387 1606h0M274 1651h0M387 1585h0M367 1596h0M387 1576h0M309 1491h0M281 1483h0M375 1608h0M410 1574h0M414 1530h0M369 1605h0M283 1483h0M400 1584h0M270 1502h0M367 1436h0M277 1476h0M387 1524h0M387 1500h0M313 1585h0M304 1590h0M387 1528h0M414 1408h0M333 1579h0M262 1491h0M387 1548h0M306 1557h0M404 1588h0M418 1430h0M370 1454h0M338 1549h0M375 1591h0M401 1473h0M359 1423h0M283 1580h0M387 1605h0M387 1551h0M462 1553h0M270 1548h0M356 1475h0M256 1560h0M309 1540h0M373 1496h0M334 1596h0M409 1488h0M349 1560h0M378 1587h0M387 1561h0M299 1533h0M250 1596h0M387 1530h0M375 1631h0M449 1596h0M289 1606h0M302 1576h0M375 1585h0M373 1583h0M289 1692h0M283 1470h0M287 1521h0M387 1497h0M410 1528h0M343 1639h0M387 1561h0M349 1551h0M387 1493h0M249 1596h0M402 1581h0M408 1504h0M387 1606h0M325 1596h0M366 1547h0M387 1629h0M371 1487h0M309 1474h0M309 1571h0M344 1493h0M363 1574h0M340 1528h0M304 1496h0M299 1455h0M412 1572h0M351 1631h0M253 1596h0"/>
<path stroke="#3a8049" d="M336 1468h0M293 1528h0M249 1516h0M289 1464h0M324 1596h0M387 1604h0M330 1562h0M249 1490h0M351 1614h0M302 1627h0M300 1554h0M387 1525h0M366 1468h0M344 1596h0M387 1601h0M298 1554h0M428 1557h0M312 1488h0M322 1546h0M418 1551h0M371 1596h0M387 1523h0M265 1478h0M286 1580h0M416 1596h0M361 1533h0M363 1551h0M293 1602h0M349 1462h0M387 1533h0M366 1596h0M366 1498h0M387 1505h0M324 1627h0"/>
<path stroke="#53925e" d="M243 1527h0M284 1547h0M413 1596h0M289 1634h0M326 1419h0M418 1536h0M328 1483h0M309 1521h0M387 1460h0M253 1580h0M417 1567h0M426 1502h0M340 1574h0M305 1606h0M387 1456h0M406 1530h0M387 1576h0M309 1644h0M414 1583h0M387 1526h0M351 1585h0M387 1523h0M286 1627h0M297 1544h0M324 1506h0M387 1619h0M270 1528h0M353 1515h0M290 1503h0M410 1540h0M307 1499h0M387 1457h0M335 1462h0M246 1596h0M381 1596h0M258 1534h0M387 1549h0M323 1576h0M270 1464h0M293 1551h0M323 1586h0M328 1474h0M270 1521h0M302 1555h0M398 1596h0M352 1554h0M335 1634h0M344 1576h0M333 1538h0M387 1631h0M307 1622h0M387 1613h0M353 1564h0M252 1596h0M387 1610h0M290 1542h0M242 1526h0M342 1479h0M263 1596h0M352 1540h0M387 1515h0M420 1548h0M399 1585h0M317 1528h0M409 1575h0M311 1455h0M362 1554h0M406 1587h0M369 1596h0M246 1551h0M279 1527h0M280 1596h0M434 1551h0M387 1631h0M264 1573h0M363 1602h0M302 1638h0M375 1591h0M429 1569h0M295 1596h0M324 1528h0M320 1637h0M416 1568h0M293 1460h0M315 1509h0M387 1584h0M387 1517h0M275 1467h0M331 1606h0M306 1518h0M290 1550h0M274 1542h0M285 1596h0M454 1451h0M362 1465h0M429 1500h0M400 1584h0M387 1603h0M298 1478h0M397 1587h0M320 1532h0M274 1526h0M387 1518h0M352 1449h0M387 1611h0M435 1565h0M387 1606h0M346 1498h0M290 1612h0M379 1596h0M387 1628h0M387 1495h0M309 1508h0M304 1543h0M387 1623h0M387 1602h0M418 1521h0"/>
<path stroke="#6fa679" d="M387 1516h0M205 1496h0M324 1560h0M387 1585h0M349 1578h0M337 1548h0M414 1610h0M387 1472h0M412 1535h0M387 1604h0M349 1578h0M340 1612h0M370 1596h0M387 1589h0M257 1552h0M402 1567h0M312 1406h0M362 1609h0M373 1610h0M423 1561h0M387 1490h0M351 1605h0M279 1509h0M387 1608h0M309 1426h0M264 1585h0M314 1526h0M284 1526h0M240 1526h0M372 1589h0M320 1499h0M332 1543h0M478 1508h0M387 1547h0M387 1452h0M231 1521h0M347 1596h0M324 1559h0M345 1637h0M256 1515h0M277 1623h0M238 1442h0M387 1616h0M251 1596h0M401 1556h0M351 1500h0M343 1653h0"/>
<path stroke="#3a8049" d="M387 1524h0M342 1509h0M293 1687h0M336 1621h0M304 1556h0M387 1588h0M387 1483h0M332 1583h0M353 1475h0M270 1483h0M253 1451h0M286 1499h0M288 1573h0M445 1596h0M362 1621h0M246 1506h0M362 1614h0M348 1458h0M305 1518h0M286 1468h0M366 1617h0M251 1531h0M309 1468h0M328 1540h0M283 1546h0M405 1474h0M356 1491h0M387 1567h0M342 1629h0M338 1550h0M387 1514h0M417 1596h0M326 1478h0M387 1503h0M336 1547h0M420 1532h0M387 1513h0M253 1575h0M251 1538h0M387 1528h0M387 1476h0M387 1492h0M346 1606h0"/>
<path stroke="#53925e" d="M394 1589h0M249 1503h0M249 1530h0M387 1617h0M387 1581h0M387 1583h0M335 1521h0M344 1514h0M253 1586h0M361 1571h0M326 1545h0M372 1575h0M293 1442h0M314 1618h0M381 1591h0M309 1609h0M348 1433h0M359 1637h0M402 1533h0M371 1475h0M358 1511h0M371 1503h0M311 1531h0M351 1434h0M584 1463h0M387 1509h0M432 1488h0M315 1492h0M419 1510h0M387 1511h0M406 1521h0M347 1467h0M356 1626h0M400 1521h0M299 1596h0M418 1596h0M365 1586h0M270 1615h0M367 1502h0M216 1535h0M376 1596h0M424 1497h0M293 1612h0M374 1554h0M379 1593h0M293 1581h0M387 1535h0M387 1556h0M406 1492h0M434 1562h0M444 1486h0M293 1642h0M432 1567h0M259 1514h0M412 1585h0M417 1596h0M359 1456h0M351 1422h0M301 1555h0M348 1483h0M367 1596h0M387 1574h0M387 1433h0M279 1544h0M338 1518h0M374 1590h0M387 1559h0M338 1441h0M401 1514h0M408 1596h0M372 1604h0M361 1527h0M358 1448h0M289 1596h0M333 1649h0M320 1483h0M387 1554h0M333 1535h0M387 1568h0M419 1487h0M273 1507h0M273 1547h0M293 1468h0M286 1588h0M326 1662h0M404 1580h0M320 1445h0M337 1596h0M338 1477h0M387 1590h0M367 1445h0M303 1538h0M318 1470h0M349 1639h0M387 1535h0M324 1612h0M270 1596h0M387 1535h0M299 1469h0M324 1604h0M255 1533h0M387 1578h0M302 1556h0M270 1568h0M359 1530h0M404 1442h0M413 1483h0M322 1573h0M414 1570h0M387 1509h0M387 1543h0M362 1573h0"/>
<path stroke="#3a8049" d="M325 1579h0M372 1501h0M251 1531h0M265 1498h0M348 1578h0M387 1519h0M426 1578h0M387 1549h0M380 1603h0M257 1508h0M332 1483h0M298 1629h0M324 1483h0M357 1450h0M315 1480h0M351 1509h0M410 1506h0M335 1529h0M283 1508h0M400 1525h0M239 1531h0M375 1532h0M255 1526h0M370 1588h0M333 1571h0M393 1596h0M311 1504h0M387 1627h0M288 1483h0M262 1475h0M328 1440h0M359 1623h0M313 1477h0M293 1486h0M387 1455h0M340 1483h0M270 1639h0M422 1579h0M302 1596h0M318 1530h0M387 1590h0M373 1609h0M340 1438h0M309 1546h0M387 1518h0M252 1531h0M359 1543h0M337 1572h0M406 1559h0M304 1530h0M288 1453h0M402 1455h0M387 1565h0M317 1630h0M322 1495h0M348 1426h0M368 1587h0M387 1562h0M273 1541h0"/>
<path stroke="#6fa679" d="M423 1596h0M340 1608h0M348 1634h0M363 1486h0M265 1596h0M293 1517h0M260 1596h0M279 1492h0M293 1483h0M378 1596h0M348 1521h0M429 1556h0M363 1619h0M350 1447h0M374 1517h0M361 1584h0M256 1596h0M368 1551h0M387 1617h0M394 1596h0M273 1560h0M358 1528h0M358 1639h0M255 1596h0M299 1440h0M286 1486h0M322 1596h0M424 1478h0M405 1500h0M387 1530h0M350 1596h0M344 1555h0M372 1526h0M373 1562h0M253 1499h0M322 1526h0M343 1639h0M320 1553h0M296 1523h0M344 1638h0M338 1526h0M370 1420h0"/>
<path stroke="#53925e" d="M387 1593h0M324 1642h0M414 1476h0M348 1596h0M387 1560h0M387 1622h0M270 1540h0M489 1498h0M335 1546h0M276 1489h0M266 1596h0M333 1457h0M298 1443h0M333 1545h0M279 1596h0M315 1631h0M283 1596h0M387 1594h0M420 1483h0M305 1631h0M417 1567h0M422 1455h0M423 1509h0M367 1587h0M257 1546h0M262 1521h0M277 1570h0M360 1571h0M297 1500h0M337 1483h0M361 1565h0M356 1528h0M331 1560h0M356 1536h0M317 1596h0M420 1540h0M431 1511h0M362 1477h0M365 1499h0M387 1515h0M275 1499h0M359 1516h0M399 1573h0M309 1604h0M316 1603h0M351 1544h0M320 1629h0M328 1476h0M359 1570h0M297 1509h0M387 1582h0M299 1618h0M283 1458h0M387 1443h0M405 1527h0M265 1563h0M412 1441h0M358 1568h0M387 1502h0M387 1487h0M328 1526h0M358 1426h0M281 1534h0M387 1506h0M420 1580h0M342 1488h0M314 1596h0M315 1527h0M359 1503h0M253 1542h0M362 1543h0M336 1590h0M387 1614h0M372 1476h0M374 1533h0M293 1619h0M337 1564h0M387 1614h0M387 1501h0M404 1580h0M379 1589h0M387 1602h0M374 1458h0M305 1562h0M330 1596h0M316 1466h0M407 1439h0M298 1511h0M261 1596h0M357 1472h0M387 1439h0M299 1511h0M387 1537h0M293 1469h0M423 1527h0M348 1445h0M372 1472h0M303 1515h0M338 1644h0M333 1596h0M332 1623h0M387 1453h0M328 1426h0M387 1613h0M330 1473h0M375 1471h0M326 1498h0M428 1488h0M302 1678h0M350 1585h0M387 1567h0M316 1562h0M320 1493h0M257 1596h0M406 1578h0M284 1497h0M348 1439h0M281 1523h0M387 1475h0M235 1449h0M316 1452h0M317 1562h0M305 1551h0M370 1442h0M288 1596h0M387 1562h0M414 1516h0M422 1489h0M401 1548h0M315 1579h0M288 1585h0M309 1533h0M273 1473h0M387 1587h0M387 1536h0M408 1535h0M387 1586h0M274 1560h0M387 1458h0M387 1533h0M309 1502h0M346 1518h0"/>
<path stroke="#6fa679" d="M259 1473h0M270 1469h0M270 1611h0M259 1535h0M352 1504h0M352 1455h0M371 1612h0M239 1525h0M439 1508h0M280 1460h0M280 1596h0M412 1596h0M387 1596h0M219 1596h0M290 1503h0M236 1524h0M332 1503h0M399 1537h0M413 1552h0M387 1633h0M296 1496h0M387 1649h0M365 1424h0M367 1483h0M324 1581h0M416 1554h0M336 1639h0M432 1575h0M362 1572h0M370 1613h0M264 1543h0M291 1626h0M338 1643h0M387 1603h0M378 1605h0M328 1596h0M317 1642h0M266 1567h0M357 1516h0M362 1549h0M380 1603h0M281 1494h0M270 1499h0M401 1596h0M404 1529h0M365 1434h0M359 1610h0M259 1596h0"/>
<path stroke="#3a8049" d="M406 1455h0M418 1475h0M291 1503h0M324 1639h0M305 1596h0M324 1475h0M373 1445h0M319 1663h0M387 1527h0M324 1596h0M344 1555h0M274 1581h0M313 1573h0M343 1596h0M285 1596h0M387 1682h0M387 1465h0M293 1491h0M253 1564h0M425 1560h0M286 1548h0M352 1472h0M338 1589h0M355 1566h0M410 1517h0M323 1648h0M387 1553h0M420 1564h0"/>
<path stroke="#53925e" d="M338 1465h0M317 1608h0M318 1476h0M387 1571h0M359 1556h0M358 1440h0M258 1526h0M444 1452h0M387 1469h0M324 1566h0M331 1497h0M387 1614h0M387 1510h0M415 1500h0M405 1570h0M263 1476h0M281 1545h0M293 1494h0M241 1565h0M402 1469h0M336 1547h0M362 1608h0M356 1445h0M312 1542h0M309 1511h0M306 1510h0M387 1544h0M288 1561h0M387 1497h0M427 1557h0M306 1643h0M387 1466h0M387 1503h0M363 1472h0M307 1616h0M372 1611h0M335 1508h0M346 1637h0M277 1617h0M387 1498h0M387 1626h0M231 1464h0M387 1477h0M387 1517h0M363 1498h0M207 1509h0M387 1566h0M324 1536h0M312 1596h0M312 1524h0M373 1584h0M266 1479h0M228 1519h0M380 1604h0M387 1572h0M335 1571h0M270 1613h0M338 1608h0M387 1524h0M387 1507h0M342 1510h0M270 1511h0M270 1578h0M301 1596h0M414 1596h0M322 1471h0M362 1417h0M461 1573h0M427 1519h0M332 1443h0M340 1642h0M375 1585h0M253 1515h0M242 1596h0M293 1544h0M358 1625h0M349 1431h0M250 1530h0M363 1596h0M317 1529h0M387 1587h0M387 1579h0M356 1506h0M387 1571h0M240 1571h0M366 1576h0M315 1614h0M419 1518h0M293 1596h0M422 1454h0M353 1418h0M340 1426h0M400 1532h0M311 1465h0M359 1470h0M323 1566h0M315 1562h0M374 1540h0M387 1555h0M317 1521h0M349 1542h0M404 1521h0M302 1493h0M279 1579h0M357 1531h0M350 1561h0M313 1525h0M376 1591h0M434 1483h0M408 1524h0M400 1584h0M351 1608h0M336 1609h0M302 1431h0M331 1524h0M422 1557h0M465 1596h0M367 1578h0M417 1531h0M324 1566h0M281 1557h0M335 1533h0M340 1619h0M256 1533h0M396 1596h0M422 1588h0M461 1525h0"/>
<path stroke="#3a8049" d="M280 1545h0M317 1596h0M286 1629h0M313 1483h0M387 1629h0M375 1549h0M324 1453h0M387 1504h0M324 1521h0M289 1568h0M288 1525h0M387 1655h0M338 1537h0M456 1470h0M387 1547h0M305 1557h0M369 1588h0M342 1564h0M404 1571h0M371 1536h0M311 1541h0M387 1492h0M298 1499h0M297 1553h0M358 1596h0M356 1612h0M357 1589h0M387 1567h0M428 1656h0M378 1592h0M387 1540h0M260 1535h0M286 1564h0M404 1540h0M387 1623h0M343 1448h0M278 1596h0M243 1573h0M270 1547h0M313 1561h0M266 1558h0M418 1491h0M328 1611h0M387 1573h0M335 1584h0M374 1521h0"/>
<path stroke="#6fa679" d="M411 1573h0M356 1596h0M288 1537h0M416 1518h0M266 1596h0M406 1549h0M348 1625h0M298 1607h0M262 1596h0M365 1618h0M351 1474h0M387 1499h0M413 1470h0M346 1576h0M406 1506h0M429 1566h0M338 1573h0M399 1555h0M211 1596h0M303 1588h0M335 1458h0M352 1630h0M414 1596h0M311 1611h0M296 1516h0M253 1532h0M375 1626h0M347 1564h0M280 1493h0M387 1557h0M328 1438h0M367 1568h0M263 1596h0M314 1433h0M387 1518h0M317 1574h0M387 1494h0"/>
<path stroke="#53925e" d="M402 1491h0M360 1603h0M323 1607h0M400 1445h0M366 1448h0M435 1557h0M364 1618h0M306 1557h0M309 1433h0M414 1564h0M352 1630h0M285 1606h0M400 1596h0M387 1620h0M361 1470h0M359 1583h0M356 1551h0M387 1535h0M309 1445h0M387 1683h0M304 1596h0M270 1517h0M387 1584h0M358 1476h0M351 1596h0M331 1633h0M262 1581h0M361 1420h0M372 1547h0M373 1596h0M275 1575h0M366 1576h0M387 1525h0M365 1456h0M334 1648h0M406 1596h0M240 1533h0M288 1567h0M360 1512h0M293 1449h0M346 1583h0M328 1606h0M338 1579h0M346 1616h0M258 1534h0M366 1483h0M370 1596h0M387 1672h0M274 1542h0M320 1596h0M315 1535h0M353 1629h0M414 1556h0M387 1500h0M318 1496h0M424 1549h0M342 1553h0M342 1542h0M363 1620h0M342 1640h0M335 1470h0M273 1627h0M349 1541h0M355 1448h0M407 1537h0M322 1565h0M309 1596h0M336 1596h0M387 1552h0M342 1582h0M265 1537h0M334 1596h0M387 1466h0M286 1475h0M387 1554h0M318 1463h0M399 1515h0M353 1580h0M291 1550h0M335 1647h0M338 1489h0M302 1514h0M331 1569h0M320 1515h0M315 1500h0M370 1605h0M351 1562h0M324 1438h0M387 1577h0M418 1506h0M387 1491h0M303 1572h0M330 1425h0M356 1581h0M402 1551h0M240 1525h0M283 1546h0M288 1591h0M408 1576h0M370 1580h0M410 1551h0M387 1564h0M366 1587h0M298 1572h0M320 1548h0M340 1506h0M368 1596h0M375 1506h0M423 1562h0M410 1596h0M320 1434h0M365 1629h0M246 1494h0M387 1615h0M379 1596h0M405 1588h0M437 1548h0M418 1566h0M373 1543h0M333 1609h0M358 1486h0M441 1544h0M338 1565h0M338 1453h0M387 1488h0M326 1439h0M296 1509h0M353 1467h0M340 1596h0M246 1528h0M387 1438h0M370 1451h0"/>
<path stroke="#6fa679" d="M254 1532h0M387 1426h0M255 1589h0M371 1581h0M355 1471h0M338 1501h0M270 1496h0M302 1473h0M299 1526h0M297 1596h0M305 1579h0M342 1472h0M387 1612h0M309 1559h0M289 1474h0M351 1579h0M387 1545h0M375 1432h0M287 1596h0M366 1478h0M280 1535h0M348 1540h0M270 1474h0M299 1540h0M300 1563h0M387 1691h0M402 1596h0M371 1559h0M300 1521h0M301 1513h0M344 1473h0M373 1514h0M325 1477h0M387 1521h0M320 1421h0M387 1496h0M353 1499h0M412 1554h0M355 1589h0M387 1625h0M340 1602h0"/>
<path stroke="#3a8049" d="M387 1628h0M335 1596h0M362 1507h0M387 1509h0M414 1490h0M288 1477h0M320 1467h0M332 1530h0M387 1497h0M339 1567h0M270 1582h0M287 1500h0M375 1585h0M340 1489h0M360 1532h0M387 1588h0M412 1573h0M299 1568h0M309 1483h0M289 1540h0M311 1501h0M424 1460h0M429 1514h0M328 1533h0M350 1477h0M328 1455h0M406 1478h0M286 1459h0M387 1544h0M372 1448h0M259 1607h0M387 1620h0M402 1487h0M387 1527h0M332 1556h0M192 1596h0M414 1543h0M347 1532h0M363 1562h0"/>
<path stroke="#6540a6" d="M461 1656h0M416 1653h0M540 1596h0M387 1639h0M609 1656h0M419 1596h0M387 1695h0M304 1723h0M434 1574h0M399 1668h0M387 1693h0M387 1706h0M434 1665h0M547 1644h0M553 1623h0M560 1704h0M328 1625h0M435 1620h0M399 1602h0M590 1619h0M507 1713h0M387 1706h0M408 1648h0M490 1596h0M387 1626h0M537 1687h0M438 1572h0M461 1596h0M526 1639h0M459 1719h0M481 1649h0M485 1692h0M370 1661h0M426 1596h0M436 1596h0M451 1565h0M387 1666h0M481 1559h0M366 1700h0M387 1614h0M358 1611h0M441 1588h0M504 1682h0M426 1653h0M429 1590h0M429 1583h0M492 1721h0M460 1589h0"/>
<path stroke="#8059ba" d="M504 1568h0M574 1631h0M340 1672h0M420 1645h0M409 1640h0M491 1609h0M550 1596h0M548 1687h0M554 1710h0M424 1696h0M530 1567h0M447 1655h0M300 1655h0M409 1607h0M570 1666h0M293 1627h0M498 1555h0M394 1604h0M448 1675h0M486 1668h0M483 1643h0M580 1663h0M357 1604h0M372 1653h0M533 1696h0M523 1648h0M425 1713h0M507 1515h0M492 1545h0M445 1615h0M492 1699h0M373 1638h0M407 1616h0M361 1615h0M427 1577h0M368 1660h0M511 1723h0M459 1658h0M472 1607h0M498 1672h0M426 1672h0M460 1639h0M476 1661h0M530 1631h0M449 1566h0M530 1590h0M555 1596h0M416 1611h0M336 1646h0M359 1630h0M543 1578h0M558 1679h0M538 1613h0M516 1722h0M462 1642h0M199 1363h0M511 1610h0M602 1663h0M608 1632h0M337 1621h0M522 1618h0M445 1682h0M387 1607h0M454 1603h0M515 1596h0M445 1568h0M514 1646h0M549 1628h0M465 1634h0M405 1649h0M413 1603h0M476 1596h0M445 1632h0M387 1702h0M543 1634h0M510 1596h0M471 1678h0M387 1631h0M468 1606h0M536 1658h0M534 1668h0M362 1620h0M454 1694h0M573 1596h0M510 1614h0M387 1638h0M387 1697h0M493 1617h0M330 1645h0M507 1609h0M481 1581h0M592 1596h0M371 1612h0M515 1586h0M583 1670h0M536 1596h0M387 1640h0M424 1633h0M423 1684h0M429 1617h0M423 1579h0M489 1557h0M508 1604h0M459 1562h0M577 1596h0M401 1670h0M577 1603h0M538 1580h0M508 1626h0M508 1633h0M483 1690h0M568 1648h0M487 1621h0M501 1652h0M574 1574h0M472 1596h0M532 1620h0M508 1664h0M521 1672h0M468 1612h0M556 1660h0M517 1716h0M436 1620h0M476 1640h0M387 1600h0M564 1578h0M489 1695h0M498 1614h0M569 1596h0M449 1649h0M481 1551h0M487 1645h0M589 1596h0M511 1650h0M338 1668h0M399 1682h0M404 1596h0M402 1627h0M461 1704h0M531 1684h0M471 1726h0M579 1596h0M472 1648h0"/>
<path stroke="#9a7ccb" d="M584 1608h0M431 1632h0M538 1596h0M387 1707h0M479 1641h0M445 1634h0M599 1648h0M521 1669h0M631 1615h0M406 1678h0M481 1693h0M538 1524h0M404 1630h0M408 1607h0M600 1648h0M543 1627h0M552 1676h0M475 1582h0M429 1700h0M370 1605h0M424 1578h0M409 1596h0M563 1587h0M358 1653h0M458 1590h0M491 1605h0M387 1660h0M563 1682h0M405 1596h0M449 1672h0M495 1596h0M452 1612h0M588 1603h0M504 1625h0M496 1695h0M500 1659h0M510 1626h0M387 1633h0M440 1668h0M501 1569h0M469 1727h0M526 1613h0M588 1653h0M535 1620h0M528 1596h0M404 1678h0M396 1592h0M457 1665h0M582 1615h0M519 1646h0M387 1694h0M340 1634h0M348 1653h0M402 1689h0M563 1701h0M387 1707h0M586 1676h0M486 1626h0M348 1628h0M499 1724h0"/>
<path stroke="#6540a6" d="M457 1733h0M456 1706h0M560 1596h0M418 1574h0M483 1710h0M438 1596h0M539 1646h0M375 1684h0M580 1690h0M373 1616h0M509 1616h0M435 1684h0M372 1662h0M387 1665h0M519 1596h0M526 1707h0M432 1651h0M485 1719h0M538 1669h0M387 1684h0M459 1701h0M408 1586h0M500 1706h0M561 1609h0M528 1687h0M453 1629h0M471 1661h0M497 1623h0M462 1596h0M554 1613h0M457 1562h0M634 1632h0M591 1672h0M387 1593h0M543 1630h0M552 1596h0M510 1716h0M436 1716h0M488 1646h0M481 1589h0M543 1639h0M602 1606h0M442 1717h0M439 1723h0M493 1596h0M387 1628h0M420 1629h0"/>
<path stroke="#8059ba" d="M533 1653h0M387 1691h0M412 1734h0M543 1702h0M504 1585h0M523 1650h0M567 1631h0M387 1692h0M507 1700h0M387 1674h0M489 1596h0M415 1603h0M462 1560h0M586 1687h0M414 1683h0M412 1620h0M476 1651h0M591 1685h0M393 1593h0M531 1637h0M509 1705h0M439 1706h0M481 1574h0M510 1561h0M350 1674h0M475 1667h0M465 1710h0M551 1642h0M508 1648h0M494 1726h0M590 1633h0M469 1602h0M454 1678h0M525 1583h0M449 1665h0M363 1665h0M411 1602h0M588 1629h0M365 1661h0M603 1640h0M452 1565h0M474 1664h0M434 1604h0M435 1643h0M567 1693h0M352 1653h0M418 1589h0M586 1653h0M472 1672h0M434 1710h0M342 1633h0M387 1581h0M509 1626h0M495 1605h0M318 1690h0M470 1610h0M475 1604h0M387 1679h0M556 1615h0M469 1631h0M504 1653h0M560 1664h0M520 1596h0M447 1618h0M387 1675h0M486 1692h0M531 1614h0M569 1647h0M331 1669h0M412 1656h0M387 1678h0M481 1627h0M543 1687h0M530 1705h0M498 1704h0M521 1586h0M515 1720h0M509 1656h0M452 1596h0M475 1568h0M470 1570h0M584 1650h0M559 1619h0M521 1678h0M578 1689h0M535 1585h0M387 1687h0M387 1637h0M453 1596h0M460 1632h0M495 1690h0M387 1641h0M362 1658h0M498 1640h0M387 1642h0M485 1596h0M387 1600h0M387 1657h0M567 1675h0M607 1637h0M504 1687h0M363 1636h0M465 1672h0M442 1677h0M508 1714h0M452 1678h0M478 1619h0M549 1651h0M338 1683h0M401 1590h0"/>
<path stroke="#9a7ccb" d="M429 1576h0M537 1705h0M483 1623h0M357 1626h0M399 1626h0M452 1643h0M483 1637h0M438 1676h0M584 1644h0M460 1554h0M588 1686h0M426 1606h0M540 1671h0M509 1656h0M512 1596h0M439 1580h0M448 1685h0M606 1687h0M355 1557h0M493 1648h0M297 1675h0M514 1664h0M325 1632h0M414 1623h0M414 1661h0M328 1667h0M556 1642h0M523 1575h0M548 1632h0M472 1576h0M468 1675h0M445 1753h0M563 1659h0M533 1682h0M568 1611h0"/>
<path stroke="#9a7ccb" d="M614 1655h0M609 1650h0M526 1630h0M459 1631h0M458 1658h0M487 1718h0M413 1590h0M465 1609h0M387 1605h0M402 1677h0M528 1648h0M513 1627h0M402 1670h0M387 1591h0M449 1650h0M358 1724h0M481 1596h0M343 1660h0M461 1560h0M356 1657h0M199 1422h0M403 1636h0M600 1658h0M528 1665h0M419 1627h0M436 1608h0M439 1647h0M576 1688h0M486 1596h0M363 1687h0M513 1719h0M438 1621h0M387 1667h0M610 1636h0M507 1603h0M357 1655h0M406 1615h0M543 1682h0M486 1645h0M477 1666h0M588 1621h0M328 1634h0M422 1608h0M554 1645h0M529 1617h0M543 1581h0M492 1614h0M475 1653h0M431 1604h0M424 1632h0M452 1653h0M355 1698h0"/>
<path stroke="#6540a6" d="M481 1672h0M498 1661h0M434 1642h0M373 1657h0M563 1691h0M387 1643h0M451 1659h0M367 1616h0M411 1614h0M399 1716h0M426 1634h0M615 1616h0M477 1596h0M588 1596h0M504 1632h0M457 1596h0M504 1710h0M486 1603h0M495 1614h0M375 1649h0M441 1579h0M417 1633h0M504 1667h0M539 1676h0M367 1615h0M387 1647h0M517 1596h0M387 1587h0M559 1680h0M534 1713h0M529 1713h0M564 1664h0M487 1548h0M431 1618h0M489 1626h0M447 1706h0M432 1694h0M351 1649h0M483 1596h0M302 1679h0M514 1676h0M428 1596h0M512 1642h0M504 1604h0M393 1599h0M309 1606h0M556 1678h0M487 1596h0M416 1696h0M510 1704h0M592 1653h0M498 1586h0"/>
<path stroke="#8059ba" d="M429 1689h0M421 1613h0M442 1690h0M578 1643h0M481 1635h0M361 1609h0M413 1672h0M479 1611h0M564 1633h0M387 1645h0M491 1710h0M435 1667h0M580 1596h0M553 1677h0M621 1634h0M462 1618h0M556 1596h0M504 1615h0M387 1588h0M387 1661h0M387 1653h0M457 1687h0M340 1687h0M597 1662h0M552 1633h0M444 1596h0M567 1649h0M324 1657h0M417 1553h0M477 1675h0M454 1645h0M495 1661h0M387 1677h0M515 1658h0M588 1683h0M416 1689h0M387 1659h0M607 1632h0M560 1680h0M387 1606h0M478 1604h0M565 1683h0M525 1663h0M583 1655h0M515 1638h0M504 1540h0M452 1659h0M495 1701h0M572 1728h0M387 1678h0M432 1640h0M423 1631h0M621 1682h0M438 1596h0M406 1569h0M501 1658h0M412 1680h0M460 1582h0M462 1678h0M408 1710h0M418 1612h0M533 1667h0M352 1631h0M436 1596h0M468 1683h0M508 1655h0M553 1611h0M373 1650h0M428 1675h0M434 1596h0M497 1663h0M601 1655h0M504 1647h0M439 1714h0M429 1545h0M428 1670h0M590 1596h0M402 1675h0M414 1657h0M458 1645h0M495 1684h0M406 1624h0M387 1687h0M445 1675h0M473 1650h0M588 1661h0M552 1677h0M535 1644h0M358 1682h0M550 1666h0M543 1610h0M555 1678h0M404 1664h0M441 1710h0M404 1572h0M330 1638h0M361 1685h0M605 1621h0M347 1674h0M387 1618h0M451 1596h0M468 1675h0M359 1663h0M347 1629h0M591 1646h0M513 1596h0M434 1625h0M563 1667h0M457 1631h0M521 1564h0M457 1710h0M569 1641h0M543 1615h0M465 1647h0M543 1629h0M356 1619h0M419 1612h0M483 1717h0M437 1661h0M434 1608h0M526 1615h0M595 1613h0M496 1596h0M454 1683h0M574 1687h0M387 1686h0"/>
<path stroke="#8059ba" d="M560 1638h0M418 1687h0M344 1686h0M387 1697h0M426 1691h0M428 1607h0M476 1705h0M420 1694h0M418 1642h0M526 1652h0M445 1663h0M399 1695h0M548 1668h0M281 1699h0M543 1672h0M387 1695h0M582 1587h0M491 1563h0M363 1596h0M387 1651h0M531 1649h0M340 1657h0M459 1579h0M400 1689h0M551 1540h0M484 1683h0M579 1620h0M565 1690h0M387 1650h0M568 1684h0M408 1596h0M344 1658h0M387 1575h0M353 1596h0M218 1367h0M495 1637h0M621 1653h0M360 1674h0M556 1624h0M550 1695h0M511 1603h0M333 1648h0M521 1705h0M400 1633h0M512 1702h0M406 1634h0M504 1578h0M519 1589h0M387 1644h0M585 1631h0M418 1596h0M467 1674h0M399 1631h0M332 1649h0M399 1650h0M387 1583h0M445 1696h0M572 1603h0M477 1640h0M501 1576h0M387 1685h0M406 1701h0M499 1660h0M493 1596h0M387 1704h0M437 1629h0M487 1629h0M498 1629h0M465 1644h0M531 1701h0M387 1632h0M356 1642h0M458 1562h0M571 1685h0M337 1645h0M600 1669h0M401 1610h0M579 1689h0M504 1588h0M434 1619h0M491 1596h0M468 1577h0M416 1601h0M558 1624h0M523 1686h0M447 1684h0M521 1683h0M420 1710h0M448 1616h0M412 1644h0M588 1607h0M387 1694h0M493 1714h0M587 1596h0M406 1642h0M460 1618h0M403 1667h0M495 1649h0M387 1698h0M461 1740h0M504 1703h0M529 1658h0M439 1672h0M457 1574h0M402 1648h0M539 1625h0M510 1668h0M579 1669h0M190 1331h0M445 1653h0M362 1704h0M589 1596h0M418 1581h0M419 1643h0M486 1716h0M447 1648h0M482 1596h0M598 1631h0M554 1596h0M540 1596h0M498 1662h0M600 1617h0M565 1629h0M404 1613h0M543 1663h0M574 1585h0M543 1575h0M465 1660h0M387 1609h0"/>
<path stroke="#6540a6" d="M574 1642h0M552 1603h0M598 1642h0M543 1619h0M478 1721h0M543 1604h0M414 1655h0M387 1669h0M584 1662h0M471 1666h0M517 1647h0M387 1611h0M501 1646h0M645 1665h0M400 1716h0M508 1622h0M353 1653h0M533 1611h0M574 1670h0M357 1648h0M387 1692h0M525 1623h0M465 1566h0M451 1596h0M410 1631h0M538 1699h0M420 1678h0M498 1650h0M517 1628h0M481 1665h0M428 1690h0M452 1620h0M445 1639h0M508 1655h0M543 1661h0M375 1650h0M539 1596h0M517 1666h0M328 1653h0M442 1650h0"/>
<path stroke="#9a7ccb" d="M492 1562h0M500 1628h0M493 1700h0M374 1672h0M566 1610h0M387 1703h0M584 1692h0M440 1596h0M387 1637h0M595 1596h0M299 1625h0M452 1660h0M387 1646h0M492 1596h0M538 1648h0M463 1590h0M602 1634h0M358 1624h0M481 1602h0M610 1619h0M595 1660h0M418 1672h0M515 1607h0M521 1661h0M454 1672h0M577 1604h0M563 1639h0M525 1703h0M495 1562h0M567 1579h0M485 1644h0M413 1584h0M416 1604h0M550 1675h0M543 1603h0M429 1713h0M525 1664h0M387 1633h0M470 1583h0"/>
<path stroke="#9a7ccb" d="M606 1596h0M439 1697h0M387 1618h0M557 1617h0M557 1638h0M491 1613h0M528 1619h0M478 1609h0M400 1596h0M465 1559h0M577 1689h0M346 1656h0M489 1606h0M471 1588h0M539 1610h0M445 1689h0M457 1596h0M469 1721h0M465 1571h0M481 1710h0M280 1658h0M515 1700h0M491 1664h0M564 1639h0M444 1693h0M442 1596h0M476 1683h0M568 1626h0M521 1645h0M504 1596h0M472 1631h0M439 1630h0M516 1721h0M404 1588h0M478 1641h0M568 1596h0M497 1617h0M500 1636h0M420 1661h0M387 1669h0M507 1596h0M570 1641h0M422 1631h0M568 1662h0M371 1665h0M416 1625h0M592 1667h0M497 1596h0M639 1684h0M402 1611h0M409 1683h0M458 1631h0"/>
<path stroke="#8059ba" d="M362 1621h0M407 1596h0M431 1646h0M387 1689h0M530 1587h0M424 1615h0M471 1596h0M432 1618h0M444 1741h0M512 1596h0M514 1670h0M486 1638h0M598 1608h0M608 1634h0M560 1644h0M548 1642h0M387 1586h0M486 1644h0M560 1692h0M487 1613h0M495 1579h0M413 1710h0M387 1664h0M428 1596h0M521 1635h0M531 1596h0M606 1612h0M580 1643h0M569 1634h0M588 1681h0M427 1616h0M397 1592h0M381 1603h0M552 1637h0M588 1672h0M340 1665h0M481 1661h0M517 1660h0M481 1687h0M442 1697h0M399 1602h0M328 1644h0M406 1625h0M496 1665h0M567 1684h0M486 1645h0M470 1637h0M535 1537h0M495 1710h0M560 1680h0M557 1700h0M488 1676h0M476 1683h0M478 1685h0M468 1557h0M613 1651h0M478 1647h0M401 1630h0M501 1624h0M540 1621h0M543 1657h0M346 1646h0M569 1626h0M552 1730h0M491 1571h0M437 1645h0M472 1679h0M442 1637h0M579 1648h0M549 1612h0M481 1633h0M415 1631h0M486 1620h0M387 1700h0M454 1687h0M400 1609h0M283 1697h0M500 1722h0M515 1617h0M494 1707h0M374 1609h0M481 1642h0M335 1678h0M559 1665h0M541 1621h0M426 1710h0M481 1720h0M563 1653h0M552 1610h0M474 1681h0M406 1606h0M365 1607h0M354 1628h0M435 1651h0M434 1657h0M418 1657h0M362 1656h0M461 1620h0M581 1636h0M565 1596h0M535 1656h0M415 1601h0M330 1665h0M483 1596h0M518 1460h0M335 1697h0M606 1642h0M469 1557h0M481 1653h0M483 1643h0M368 1615h0M476 1618h0M582 1653h0M461 1608h0M348 1615h0M531 1588h0M422 1631h0M557 1596h0M321 1349h0M476 1715h0M393 1596h0M574 1619h0M493 1710h0M554 1629h0M517 1723h0"/>
<path stroke="#6540a6" d="M504 1587h0M429 1638h0M459 1596h0M387 1626h0M574 1665h0M363 1699h0M415 1638h0M387 1701h0M429 1607h0M362 1692h0M523 1668h0M448 1606h0M451 1566h0M408 1638h0M461 1716h0M494 1655h0M351 1736h0M551 1619h0M481 1619h0M645 1699h0M366 1606h0M531 1666h0M413 1685h0M445 1606h0M387 1608h0M427 1590h0M457 1608h0M426 1615h0M440 1571h0M449 1612h0M332 1663h0M387 1612h0M459 1666h0M481 1612h0M497 1650h0M423 1602h0M483 1678h0M387 1658h0M387 1658h0M422 1579h0M417 1582h0"/>
<path stroke="#6540a6" d="M565 1672h0M474 1672h0M536 1621h0M373 1690h0M570 1636h0M387 1674h0M413 1704h0M387 1695h0M600 1596h0M435 1714h0M441 1623h0M475 1689h0M509 1606h0M552 1596h0M543 1652h0M501 1590h0M498 1607h0M448 1666h0M429 1596h0M387 1705h0M405 1605h0M598 1676h0M437 1572h0M387 1685h0M592 1611h0M424 1668h0M444 1610h0M489 1636h0M591 1608h0M586 1596h0M498 1618h0M517 1584h0M439 1603h0M407 1567h0M359 1650h0M516 1612h0M481 1670h0M472 1658h0M454 1596h0M428 1630h0M467 1616h0M475 1660h0M586 1659h0M361 1622h0M497 1610h0M415 1610h0"/>
<path stroke="#8059ba" d="M557 1648h0M457 1642h0M450 1627h0M351 1701h0M557 1679h0M387 1676h0M445 1625h0M530 1666h0M508 1706h0M387 1622h0M563 1625h0M521 1629h0M445 1611h0M387 1659h0M422 1596h0M387 1609h0M412 1596h0M470 1603h0M437 1605h0M521 1596h0M432 1640h0M593 1615h0M400 1600h0M412 1609h0M536 1741h0M531 1562h0M487 1694h0M437 1621h0M456 1683h0M420 1596h0M470 1657h0M454 1564h0M496 1581h0M441 1605h0M406 1660h0M450 1658h0M399 1659h0M399 1599h0M470 1730h0M515 1679h0M423 1666h0M316 1686h0M355 1628h0M447 1611h0M504 1676h0M387 1637h0M448 1577h0M375 1698h0M528 1631h0M387 1667h0M445 1582h0M597 1674h0M387 1580h0M530 1609h0M551 1636h0M351 1643h0M387 1657h0M429 1679h0M387 1680h0M476 1596h0M387 1634h0M521 1694h0M517 1710h0M571 1596h0M393 1594h0M429 1627h0M431 1675h0M400 1590h0M577 1627h0M439 1639h0M431 1618h0M599 1662h0M539 1578h0M404 1596h0M504 1634h0M448 1655h0M515 1576h0M543 1685h0M531 1631h0M369 1614h0M574 1596h0M459 1643h0M554 1702h0M574 1653h0M423 1605h0M432 1596h0M387 1693h0M469 1585h0M440 1622h0M387 1689h0M543 1666h0M539 1617h0M551 1568h0M400 1653h0M557 1658h0M432 1586h0M408 1617h0M348 1644h0M491 1622h0M406 1606h0M414 1677h0M552 1676h0M548 1635h0M492 1596h0M572 1596h0M410 1585h0M403 1604h0M462 1655h0M387 1670h0M407 1626h0M552 1636h0M518 1687h0M449 1657h0M429 1596h0M439 1596h0M429 1631h0M403 1651h0M352 1697h0M387 1655h0M462 1575h0M387 1669h0M442 1670h0M412 1621h0M561 1596h0M517 1615h0M603 1649h0M500 1675h0M528 1574h0M402 1596h0M400 1603h0M387 1638h0M476 1584h0M509 1715h0M491 1628h0M465 1615h0M586 1733h0M387 1640h0M407 1675h0"/>
<path stroke="#9a7ccb" d="M581 1596h0M387 1591h0M501 1566h0M529 1672h0M606 1627h0M363 1676h0M543 1596h0M543 1710h0M403 1612h0M428 1695h0M414 1650h0M528 1710h0M491 1588h0M401 1637h0M387 1686h0M449 1585h0M401 1550h0M387 1648h0M449 1627h0M309 1660h0M440 1571h0M420 1613h0M454 1661h0M337 1645h0M409 1629h0M443 1624h0M500 1683h0M477 1631h0M404 1605h0M486 1596h0M504 1561h0M387 1710h0M286 1694h0M340 1631h0M407 1606h0M465 1604h0M574 1615h0M356 1672h0M344 1638h0M387 1657h0M560 1668h0M475 1611h0M485 1691h0M387 1660h0M419 1573h0M507 1567h0M595 1647h0M414 1717h0M454 1726h0M365 1672h0M594 1596h0M344 1617h0M371 1698h0M543 1715h0"/>
</g>
<path d="M293.1 1324.1L715.0 1324.1" stroke="#000" stroke-width="5" stroke-dasharray="17 16.5" fill="none"/>
<path d="M152.5 1369.5L293.1 1369.5" stroke="#000" stroke-width="5" stroke-dasharray="17 16.5" fill="none"/>
<path d="M152.5 1483.0L715.0 1483.0" stroke="#000" stroke-width="5" stroke-dasharray="17 16.5" fill="none"/>
<path d="M152.5 1664.6L466.6 1664.6" stroke="#000" stroke-width="5" stroke-dasharray="17 16.5" fill="none"/>
<path d="M152.5 1778.1L466.6 1778.1" stroke="#000" stroke-width="5" stroke-dasharray="17 16.5" fill="none"/>
<path d="M152.5 1369.5L152.5 1778.1" stroke="#000" stroke-width="5" stroke-dasharray="17 16.5" fill="none"/>
<path d="M199.4 1483.0L199.4 1664.6" stroke="#000" stroke-width="5" stroke-dasharray="17 16.5" fill="none"/>
<path d="M293.1 1324.1L293.1 1483.0" stroke="#000" stroke-width="5" stroke-dasharray="17 16.5" fill="none"/>
<path d="M466.6 1324.1L466.6 1778.1" stroke="#000" stroke-width="5" stroke-dasharray="17 16.5" fill="none"/>
<path d="M715.0 1324.1L715.0 1483.0" stroke="#000" stroke-width="5" stroke-dasharray="17 16.5" fill="none"/>
<rect x="105.6" y="1251.5" width="638.6" height="597.7" fill="none" stroke="#000" stroke-width="5.2"/>
<line x1="102" y1="1823.5" x2="105.5" y2="1823.5" stroke="#000" stroke-width="2.5"/>
<text x="95.2" y="1838.1" font-size="40.5" text-anchor="end" fill="#000" >0.0</text>
<line x1="102" y1="1732.7" x2="105.5" y2="1732.7" stroke="#000" stroke-width="2.5"/>
<text x="95.2" y="1747.3" font-size="40.5" text-anchor="end" fill="#000" >0.4</text>
<line x1="102" y1="1641.9" x2="105.5" y2="1641.9" stroke="#000" stroke-width="2.5"/>
<text x="95.2" y="1656.5" font-size="40.5" text-anchor="end" fill="#000" >0.8</text>
<line x1="102" y1="1551.1" x2="105.5" y2="1551.1" stroke="#000" stroke-width="2.5"/>
<text x="95.2" y="1565.7" font-size="40.5" text-anchor="end" fill="#000" >1.2</text>
<line x1="102" y1="1460.3" x2="105.5" y2="1460.3" stroke="#000" stroke-width="2.5"/>
<text x="95.2" y="1474.9" font-size="40.5" text-anchor="end" fill="#000" >1.6</text>
<line x1="102" y1="1369.5" x2="105.5" y2="1369.5" stroke="#000" stroke-width="2.5"/>
<text x="95.2" y="1384.1" font-size="40.5" text-anchor="end" fill="#000" >2.0</text>
<line x1="102" y1="1278.7" x2="105.5" y2="1278.7" stroke="#000" stroke-width="2.5"/>
<text x="95.2" y="1293.3" font-size="40.5" text-anchor="end" fill="#000" >2.4</text>
<line x1="152.5" y1="1849" x2="152.5" y2="1853" stroke="#000" stroke-width="2.5"/>
<text x="152.5" y="1893.0" font-size="41.5" text-anchor="middle" fill="#000" >0.0</text>
<line x1="246.2" y1="1849" x2="246.2" y2="1853" stroke="#000" stroke-width="2.5"/>
<text x="246.2" y="1893.0" font-size="41.5" text-anchor="middle" fill="#000" >0.2</text>
<line x1="340.0" y1="1849" x2="340.0" y2="1853" stroke="#000" stroke-width="2.5"/>
<text x="340.0" y="1893.0" font-size="41.5" text-anchor="middle" fill="#000" >0.4</text>
<line x1="433.8" y1="1849" x2="433.8" y2="1853" stroke="#000" stroke-width="2.5"/>
<text x="433.8" y="1893.0" font-size="41.5" text-anchor="middle" fill="#000" >0.6</text>
<line x1="527.5" y1="1849" x2="527.5" y2="1853" stroke="#000" stroke-width="2.5"/>
<text x="527.5" y="1893.0" font-size="41.5" text-anchor="middle" fill="#000" >0.8</text>
<line x1="621.2" y1="1849" x2="621.2" y2="1853" stroke="#000" stroke-width="2.5"/>
<text x="621.2" y="1893.0" font-size="41.5" text-anchor="middle" fill="#000" >1.0</text>
<line x1="715.0" y1="1849" x2="715.0" y2="1853" stroke="#000" stroke-width="2.5"/>
<text x="715.0" y="1893.0" font-size="41.5" text-anchor="middle" fill="#000" >1.2</text>
<text x="425.5" y="1935.6" font-size="41" text-anchor="middle" fill="#000" >O/C</text>
<text transform="translate(33,1551) rotate(-90)" font-size="41" text-anchor="middle">H/C</text>
<text x="-2.9" y="1270.6" font-size="64" text-anchor="start" fill="#000" >e</text>
<text x="200.0" y="1280.0" font-size="27.6" text-anchor="middle" fill="#6e1a2b" >Humic−like</text>
<text x="199.8" y="1308.0" font-size="27.6" text-anchor="middle" fill="#6e1a2b" >(n = 2581)</text>
<text x="354.1" y="1289.2" font-size="27.7" text-anchor="start" fill="#000" >Aliphatic compounds</text>
<text x="318.0" y="1359.3" font-size="27.7" text-anchor="start" fill="#000" >Proteins/</text>
<text x="297.8" y="1398.1" font-size="27.8" text-anchor="start" fill="#000" >amino sugars</text>
<text x="507.7" y="1367.3" font-size="27.7" text-anchor="start" fill="#000" >Carbohydrates</text>
<text x="185.1" y="1412.0" font-size="27.9" text-anchor="start" fill="#000" >Lipids</text>
<text x="287.8" y="1526.0" font-size="27.9" text-anchor="start" fill="#000" >Lignins</text>
<text x="181.1" y="1764.5" font-size="27.7" text-anchor="start" fill="#000" >Condensed aromatics</text>
<text x="561.7" y="1743.0" font-size="27.2" text-anchor="start" fill="#000" >Tannin</text>
<text x="330.6" y="1818.8" font-size="29.5" text-anchor="start" fill="#000" >Spearman r</text>
<text transform="translate(123.8,1572.5) rotate(90)" font-size="27.8" text-anchor="middle">Unsaturated hydrocarbon</text>
<line x1="144" y1="1560" x2="178" y2="1573.5" stroke="#000" stroke-width="3.8" stroke-linecap="round"/>
<defs><linearGradient id="sge" x1="0" x2="1" y1="0" y2="0"><stop offset="0" stop-color="#1b7837"/><stop offset="0.25" stop-color="#86b98f"/><stop offset="0.5" stop-color="#f4f2f5"/><stop offset="0.75" stop-color="#ae93d0"/><stop offset="1" stop-color="#54278f"/></linearGradient></defs>
<rect x="500.7" y="1777" width="235.3" height="27.7" fill="url(#sge)"/>
<line x1="513" y1="1777" x2="513" y2="1781" stroke="#fff" stroke-width="1"/><line x1="513" y1="1800.7" x2="513" y2="1804.7" stroke="#fff" stroke-width="1"/>
<line x1="564.4" y1="1777" x2="564.4" y2="1781" stroke="#fff" stroke-width="1"/><line x1="564.4" y1="1800.7" x2="564.4" y2="1804.7" stroke="#fff" stroke-width="1"/>
<line x1="615.5" y1="1777" x2="615.5" y2="1781" stroke="#fff" stroke-width="1"/><line x1="615.5" y1="1800.7" x2="615.5" y2="1804.7" stroke="#fff" stroke-width="1"/>
<line x1="666.5" y1="1777" x2="666.5" y2="1781" stroke="#fff" stroke-width="1"/><line x1="666.5" y1="1800.7" x2="666.5" y2="1804.7" stroke="#fff" stroke-width="1"/>
<line x1="717.9" y1="1777" x2="717.9" y2="1781" stroke="#fff" stroke-width="1"/><line x1="717.9" y1="1800.7" x2="717.9" y2="1804.7" stroke="#fff" stroke-width="1"/>
<text x="513.0" y="1837.0" font-size="25" text-anchor="middle" fill="#000" >−0.8</text>
<text x="564.4" y="1837.0" font-size="25" text-anchor="middle" fill="#000" >−0.4</text>
<text x="615.5" y="1837.0" font-size="25" text-anchor="middle" fill="#000" >0.0</text>
<text x="666.5" y="1837.0" font-size="25" text-anchor="middle" fill="#000" >0.4</text>
<text x="717.9" y="1837.0" font-size="25" text-anchor="middle" fill="#000" >0.8</text>
<g fill="none" stroke-linecap="round" stroke-width="8" stroke-opacity="0.72">
<path stroke="#3a8049" d="M1014 1537h0M1122 1627h0M1137 1511h0M1113 1507h0M1137 1589h0M1017 1509h0M1137 1591h0M1044 1478h0M1115 1564h0M1172 1605h0M998 1546h0M1090 1449h0M993 1498h0M1137 1490h0M1114 1631h0M1044 1596h0M1137 1639h0M1137 1458h0M1115 1488h0M1046 1552h0M993 1527h0M1137 1580h0M1055 1630h0M1137 1581h0M1075 1491h0M1137 1477h0M1089 1440h0M1055 1370h0M1137 1418h0M1113 1591h0M1059 1615h0M997 1506h0M1137 1651h0M1110 1690h0M1104 1556h0M1170 1503h0M1092 1589h0M1027 1543h0M1106 1612h0M1047 1443h0M1067 1438h0M1037 1467h0M1137 1526h0M1083 1596h0M1115 1532h0M1079 1511h0M1122 1619h0M1057 1518h0M1068 1430h0"/>
<path stroke="#53925e" d="M1087 1613h0M1122 1677h0M1068 1588h0M1109 1500h0M1000 1516h0M1044 1589h0M1137 1619h0M1081 1606h0M1055 1517h0M1165 1436h0M1026 1519h0M1122 1475h0M1137 1574h0M1172 1496h0M1075 1566h0M1002 1465h0M1137 1560h0M1154 1550h0M1020 1551h0M1025 1596h0M1161 1596h0M1123 1596h0M1096 1583h0M1054 1459h0M1115 1586h0M1137 1572h0M1165 1550h0M1175 1523h0M1137 1585h0M1137 1575h0M1137 1610h0M1173 1545h0M1070 1584h0M1198 1589h0M1193 1490h0M1037 1548h0M1137 1460h0M1033 1496h0M1016 1479h0M1059 1559h0M1184 1460h0M1095 1480h0M1193 1516h0M1116 1638h0M1137 1606h0M1137 1620h0M1197 1544h0M1187 1477h0M1137 1555h0M1097 1448h0M1137 1437h0M1124 1521h0M1052 1576h0M1163 1470h0M1011 1509h0M989 1573h0M1065 1561h0M1173 1506h0M1093 1653h0M1125 1608h0M1066 1652h0M1076 1429h0M998 1462h0M1151 1584h0M1016 1529h0M1124 1502h0M1093 1596h0M1079 1455h0M1137 1549h0M1160 1521h0M1137 1566h0M1124 1647h0M1184 1517h0M1152 1528h0M1073 1504h0M1037 1580h0M1155 1622h0M1171 1483h0M1027 1490h0M1137 1629h0M1065 1614h0M1152 1596h0M1098 1483h0M1098 1603h0M1020 1568h0M1102 1585h0M1137 1521h0M1122 1531h0M1160 1629h0M1176 1540h0M1066 1541h0M1006 1533h0M1137 1624h0M1121 1526h0M1104 1596h0M1032 1506h0M1131 1603h0M1150 1561h0M1117 1547h0M1029 1492h0M1201 1517h0M1062 1451h0M1084 1486h0M1053 1562h0M1029 1614h0M1137 1627h0M1026 1489h0M1160 1575h0M947 1584h0M1137 1631h0M1137 1588h0M1059 1641h0M1095 1493h0M1171 1572h0M1122 1581h0M1108 1412h0M1095 1411h0M1099 1541h0M1113 1561h0M1137 1486h0M1151 1630h0M1040 1463h0M1178 1458h0M1121 1434h0M1156 1451h0M1076 1488h0M1137 1469h0M1052 1452h0M1180 1380h0M1079 1483h0M1089 1573h0M1193 1510h0M1164 1434h0M1175 1596h0M1124 1506h0M1049 1497h0M1077 1486h0M1073 1581h0M1137 1492h0M1182 1564h0M1090 1468h0M1137 1637h0M1152 1448h0M1184 1528h0M1108 1518h0M1158 1518h0M1041 1443h0M1108 1625h0M1153 1506h0M1055 1570h0M1089 1620h0M1152 1511h0M1187 1549h0M1029 1701h0M1052 1514h0M1100 1441h0M1020 1474h0M1137 1593h0M1085 1546h0M1105 1456h0M1081 1469h0M1171 1613h0M1047 1466h0M1089 1608h0M1137 1418h0M1137 1440h0M1079 1497h0M1049 1426h0M1101 1439h0M1059 1571h0M1123 1582h0M1151 1596h0M1057 1473h0M1085 1580h0M1169 1445h0M1137 1488h0M1061 1419h0M1059 1566h0"/>
<path stroke="#6fa679" d="M1097 1636h0M1047 1516h0M1061 1541h0M1166 1610h0M1030 1492h0M1001 1492h0M1116 1596h0M1046 1451h0M1090 1506h0M1161 1506h0M1157 1634h0M1005 1468h0M1067 1551h0M1047 1509h0M1255 1483h0M1049 1596h0M1110 1410h0M1111 1470h0M991 1526h0M1163 1508h0M1097 1596h0M1137 1647h0M1163 1559h0M1062 1433h0M1137 1596h0M1024 1486h0M1104 1532h0M1189 1596h0M1137 1501h0M1085 1420h0M1087 1560h0M1137 1504h0M1123 1440h0M1114 1438h0M1064 1483h0M1068 1630h0M1173 1649h0M1207 1504h0M1095 1473h0M1137 1524h0M1046 1603h0M1161 1550h0M1176 1578h0M1165 1596h0M1064 1646h0M1073 1628h0M1062 1670h0M993 1535h0M1085 1634h0M1171 1499h0M995 1537h0M1090 1596h0M1075 1566h0M1110 1623h0M1114 1619h0M1039 1501h0M1106 1506h0M1070 1556h0M1095 1596h0M1137 1649h0M1165 1503h0M967 1596h0M1087 1572h0"/>
<path stroke="#6fa679" d="M1032 1494h0M1137 1622h0M1044 1528h0M1036 1596h0M1059 1445h0M1083 1570h0M1075 1657h0M1119 1527h0M1119 1497h0M1137 1600h0M1059 1606h0M1084 1596h0M1055 1463h0M1137 1422h0M1007 1571h0M1057 1432h0M1103 1504h0M1001 1582h0M1161 1494h0M1137 1602h0M1126 1511h0M1156 1596h0M1125 1590h0M1076 1527h0M1074 1609h0M1012 1536h0M1098 1578h0M1164 1571h0M1123 1511h0M1044 1506h0M1095 1555h0M1189 1584h0M1033 1483h0M1163 1521h0M1075 1581h0M1090 1585h0M1029 1483h0M1079 1469h0M1123 1493h0M1107 1582h0M1093 1510h0M1122 1612h0M1137 1419h0M1056 1518h0M1098 1445h0M1099 1498h0M1125 1423h0"/>
<path stroke="#3a8049" d="M1137 1604h0M1137 1621h0M1040 1502h0M1178 1506h0M1137 1549h0M1209 1509h0M1079 1642h0M1184 1468h0M994 1546h0M1137 1649h0M1178 1564h0M1119 1388h0M1032 1438h0M1157 1530h0M1137 1516h0M1111 1565h0M1085 1458h0M1008 1511h0M1076 1608h0M1052 1473h0M1020 1451h0M1048 1510h0M1137 1464h0M1122 1501h0M1137 1492h0M993 1544h0M1119 1509h0M1173 1614h0M1162 1435h0M1081 1486h0M1079 1521h0M1100 1495h0M1137 1647h0M1087 1548h0M1200 1566h0M1137 1509h0M1037 1613h0M1137 1453h0M1137 1613h0M987 1451h0M1108 1540h0M1208 1551h0M1049 1511h0M1089 1480h0M1157 1578h0M1137 1555h0M1137 1577h0M1102 1568h0M1111 1655h0M1101 1509h0M1020 1606h0M1173 1449h0M1137 1606h0M1098 1559h0M1067 1596h0M1073 1658h0M1066 1521h0M1093 1554h0M1106 1460h0"/>
<path stroke="#53925e" d="M1103 1487h0M1026 1618h0M1003 1596h0M1038 1500h0M1155 1571h0M1101 1579h0M1178 1537h0M1024 1487h0M1168 1596h0M1116 1566h0M1137 1510h0M1099 1535h0M1049 1529h0M1124 1590h0M1186 1581h0M1261 1549h0M1104 1515h0M1055 1562h0M1075 1612h0M1122 1450h0M946 1493h0M1020 1534h0M1108 1455h0M1137 1472h0M991 1511h0M1163 1546h0M1119 1553h0M1162 1477h0M1039 1596h0M1062 1633h0M1150 1585h0M1166 1528h0M1054 1499h0M1098 1527h0M1137 1607h0M1051 1605h0M1204 1499h0M1084 1590h0M1149 1494h0M1176 1615h0M1109 1610h0M1049 1625h0M1125 1483h0M1012 1596h0M1209 1527h0M1055 1556h0M1137 1636h0M1159 1627h0M1044 1636h0M1137 1492h0M1137 1529h0M1137 1431h0M1100 1542h0M1044 1642h0M1110 1436h0M1096 1563h0M1126 1591h0M1110 1470h0M1110 1556h0M1084 1532h0M1107 1457h0M1053 1556h0M1120 1579h0M1023 1541h0M1150 1579h0M1128 1596h0M1163 1615h0M1104 1564h0M1074 1535h0M1084 1551h0M1137 1650h0M1033 1596h0M997 1528h0M1168 1567h0M1137 1592h0M1070 1564h0M1067 1483h0M1074 1462h0M1099 1480h0M1107 1553h0M1137 1580h0M1106 1445h0M1186 1659h0M1075 1513h0M1049 1575h0M1097 1577h0M1044 1634h0M1137 1614h0M1033 1533h0M1073 1596h0M988 1524h0M1080 1596h0M1079 1551h0M1092 1640h0M1053 1596h0M1002 1531h0M1149 1509h0M1137 1624h0M1035 1540h0M1077 1457h0M1137 1593h0M1057 1542h0M1161 1466h0M1100 1596h0M1137 1561h0M1168 1618h0M1044 1551h0M1137 1501h0M1051 1429h0M1089 1643h0M1137 1528h0M992 1526h0M1095 1679h0M1173 1562h0M1204 1596h0M1053 1509h0M1070 1531h0M1152 1590h0M1062 1596h0M1070 1551h0M1028 1460h0M1074 1658h0M1053 1596h0M1168 1596h0M1154 1503h0M1101 1719h0M1095 1535h0M1079 1528h0M1137 1525h0M1098 1596h0M1020 1497h0M1039 1501h0M1163 1596h0M1093 1564h0M1102 1625h0M1182 1596h0M1137 1430h0M1014 1525h0M1088 1596h0M1226 1560h0M1184 1551h0M1090 1608h0M1020 1469h0M1137 1526h0M1157 1511h0M1118 1615h0M1055 1585h0M1100 1501h0M1164 1558h0M1116 1545h0M1137 1582h0M1169 1544h0M1137 1653h0M1171 1596h0M1040 1549h0M1108 1568h0M1107 1531h0M1059 1496h0M1049 1492h0M1063 1632h0M1137 1533h0M1001 1596h0M1106 1544h0M1001 1494h0M1011 1474h0M1032 1596h0"/>
<path stroke="#53925e" d="M1163 1483h0M1103 1454h0M1216 1546h0M1090 1483h0M1152 1568h0M1061 1523h0M1137 1576h0M1137 1641h0M1095 1524h0M1081 1569h0M1137 1538h0M1066 1562h0M1137 1683h0M1184 1511h0M1044 1475h0M1137 1496h0M1149 1596h0M1108 1660h0M1065 1553h0M1137 1564h0M1157 1587h0M1156 1669h0M1172 1445h0M1113 1643h0M1120 1571h0M1026 1543h0M1093 1532h0M1137 1463h0M1056 1488h0M1137 1551h0M1137 1497h0M1137 1567h0M1067 1506h0M1119 1649h0M1124 1477h0M1088 1495h0M1231 1536h0M1097 1557h0M1137 1650h0M1174 1561h0M1159 1555h0M1026 1521h0M1071 1596h0M1137 1563h0M1117 1596h0M1059 1619h0M1063 1585h0M1162 1596h0M1234 1498h0M1081 1515h0M1150 1474h0M1087 1637h0M1131 1594h0M1057 1479h0M1137 1462h0M1186 1542h0M1111 1629h0M1025 1515h0M1088 1525h0M1106 1475h0M1059 1627h0M1104 1580h0M1063 1477h0M1044 1584h0M1020 1574h0M1101 1538h0M1070 1580h0M1047 1494h0M1118 1492h0M1053 1521h0M1082 1570h0M1059 1540h0M1137 1605h0M1109 1528h0M1087 1486h0M1196 1469h0M1125 1445h0M1016 1538h0M1137 1609h0M1137 1566h0M1137 1623h0M1122 1589h0M1189 1483h0M1137 1565h0M1087 1499h0M1040 1518h0M1167 1604h0M993 1509h0M1082 1476h0M1082 1556h0M1101 1532h0M1033 1622h0M1113 1573h0M1100 1497h0M1100 1533h0M1172 1689h0M951 1506h0M1190 1596h0M1111 1496h0M1150 1632h0M1194 1497h0M1028 1491h0M1137 1513h0M1137 1638h0M1104 1467h0M1084 1648h0M1113 1620h0M1126 1545h0M1011 1579h0M1137 1627h0M1026 1542h0M1137 1564h0M1137 1630h0M1162 1525h0M1011 1596h0M1175 1587h0M1044 1536h0M1137 1546h0M1007 1521h0M1182 1510h0M1068 1538h0M1137 1498h0M1082 1503h0M1070 1434h0M1154 1588h0M1131 1596h0M1137 1515h0M1085 1571h0M1003 1564h0M1125 1531h0M1051 1571h0M1104 1548h0M1095 1576h0M1187 1501h0M1093 1575h0M1003 1532h0M1202 1550h0M1055 1583h0M1077 1596h0M1137 1487h0M1137 1573h0M1030 1545h0M1170 1487h0M1137 1483h0M998 1541h0M1062 1506h0M1090 1551h0M1049 1440h0M1179 1556h0M1137 1493h0M1137 1563h0M1204 1521h0M1007 1470h0M1037 1499h0M1153 1521h0M1090 1491h0M1059 1511h0M1156 1578h0M1059 1596h0M1163 1578h0M1106 1491h0M1031 1607h0M1124 1456h0M1104 1434h0M1059 1513h0M1044 1428h0M1097 1590h0M1001 1553h0M1029 1562h0M1178 1547h0M1090 1642h0M1079 1540h0M1027 1556h0M1182 1553h0M1065 1509h0"/>
<path stroke="#6fa679" d="M1167 1490h0M1027 1623h0M1117 1458h0M1159 1596h0M1065 1605h0M1076 1419h0M1087 1564h0M1162 1572h0M1124 1617h0M1189 1521h0M1137 1415h0M1137 1578h0M1016 1501h0M1137 1536h0M1041 1486h0M1137 1503h0M1137 1429h0M1001 1516h0M1003 1451h0M1044 1483h0M1059 1533h0M1116 1442h0M1110 1450h0M1037 1645h0M1137 1637h0M1087 1556h0M1144 1596h0M1180 1514h0M1070 1596h0M1137 1438h0M1074 1474h0M1137 1561h0M1020 1540h0M1137 1587h0M1137 1530h0M1137 1584h0M1201 1511h0M1015 1567h0M1179 1570h0M1105 1596h0M1010 1514h0M1152 1465h0M1152 1462h0M1095 1638h0M1126 1540h0M1169 1536h0M1040 1503h0M1001 1530h0M1108 1497h0M1137 1552h0M1059 1470h0M1052 1555h0M1163 1496h0M1110 1483h0M1073 1493h0M1031 1617h0M1137 1705h0M1149 1434h0M1049 1449h0M1137 1625h0M1110 1570h0M1077 1428h0M1164 1499h0M1095 1431h0M1055 1636h0M1112 1462h0M1090 1494h0M1041 1538h0M1093 1553h0"/>
<path stroke="#3a8049" d="M1088 1513h0M1173 1623h0M1085 1496h0M1137 1547h0M1061 1498h0M1103 1630h0M1119 1587h0M1029 1579h0M1077 1487h0M1179 1556h0M1137 1548h0M1076 1636h0M1118 1549h0M1120 1613h0M1052 1617h0M1012 1521h0M1096 1637h0M1137 1583h0M1124 1493h0M1137 1445h0M1137 1500h0M1181 1504h0M1092 1450h0M1124 1583h0M1059 1604h0M1137 1550h0M1044 1540h0M1137 1568h0M1168 1457h0M1121 1542h0M1020 1464h0M1002 1531h0M1180 1452h0M1152 1589h0M1199 1547h0M1032 1545h0M1051 1513h0M1076 1448h0M1137 1537h0M1137 1585h0M1130 1603h0M1173 1562h0M1162 1549h0M1200 1536h0M1114 1574h0M1159 1576h0M1137 1652h0M1095 1658h0M1065 1623h0M1028 1445h0M1116 1576h0M1255 1596h0"/>
<path stroke="#53925e" d="M1137 1474h0M1132 1594h0M1041 1536h0M1119 1469h0M1193 1570h0M1137 1491h0M1090 1619h0M1098 1615h0M1090 1562h0M1154 1495h0M1029 1544h0M1070 1532h0M1006 1460h0M1137 1557h0M1079 1436h0M1111 1584h0M1119 1483h0M1176 1483h0M1044 1619h0M1062 1428h0M1033 1540h0M1107 1582h0M1072 1584h0M1137 1502h0M1117 1498h0M1003 1515h0M1041 1596h0M1168 1487h0M993 1562h0M1005 1596h0M1075 1460h0M1052 1648h0M1039 1519h0M1137 1522h0M1096 1556h0M1108 1554h0M1119 1451h0M1119 1544h0M1137 1432h0M1028 1475h0M1159 1452h0M1137 1473h0M1151 1558h0M1113 1525h0M1151 1616h0M1137 1611h0M1187 1471h0M1011 1566h0M1148 1587h0M1081 1551h0M1111 1521h0M1165 1463h0M1010 1555h0M1100 1596h0M1158 1508h0M1081 1555h0M1077 1550h0M1173 1492h0M1137 1574h0M1093 1639h0M1174 1507h0M1137 1556h0M1121 1459h0M1171 1564h0M1106 1498h0M1188 1596h0M1090 1415h0M1065 1515h0M1089 1534h0M1095 1483h0M1137 1641h0M1184 1596h0M1035 1498h0M1013 1596h0M1137 1543h0M1090 1472h0M1126 1534h0M1191 1571h0M1173 1579h0M1127 1586h0M1049 1540h0M1163 1451h0M1126 1455h0M1113 1585h0M1193 1583h0M1100 1453h0M1064 1582h0M1105 1612h0M1112 1419h0M1059 1453h0M1121 1637h0M1186 1549h0M1082 1610h0M1032 1540h0M1059 1612h0M1137 1538h0M1155 1579h0M1006 1476h0M1081 1451h0M1123 1596h0M1137 1480h0M1008 1534h0M1105 1550h0M973 1438h0M1193 1483h0M1165 1516h0M1079 1653h0M1137 1612h0M1150 1492h0M1137 1544h0M1024 1583h0M1098 1426h0M1052 1528h0M1059 1590h0M1191 1596h0M1075 1536h0M1164 1532h0M1082 1490h0M1110 1617h0M1072 1546h0M1073 1573h0M1157 1606h0M1151 1506h0M1115 1553h0M1161 1551h0M1166 1445h0M1047 1640h0M1100 1660h0M1173 1457h0M1111 1622h0M1149 1483h0M1026 1499h0M1026 1456h0M998 1496h0M1103 1496h0M1121 1580h0M1160 1467h0M1137 1603h0M1137 1508h0M1199 1567h0M942 1559h0M1120 1546h0M1082 1516h0M1052 1596h0M1098 1521h0M1175 1560h0M1137 1565h0M998 1529h0M1026 1586h0M1167 1526h0M1014 1596h0M1097 1596h0M1020 1554h0M1152 1611h0M1111 1439h0M1038 1493h0M1061 1554h0M1051 1563h0M1137 1518h0M1044 1574h0M1186 1596h0M1070 1451h0M1160 1575h0M1137 1553h0M1137 1628h0"/>
<path stroke="#6fa679" d="M1170 1510h0M1137 1515h0M1010 1596h0M1123 1610h0M1065 1631h0M1076 1606h0M1108 1526h0M1110 1516h0M1152 1516h0M1100 1469h0M1020 1596h0M1074 1554h0M1059 1483h0M1137 1612h0M1070 1483h0M1156 1442h0M1063 1620h0M1065 1439h0M1180 1535h0M1098 1417h0M1154 1580h0M1101 1518h0M1082 1650h0M1040 1606h0M1079 1611h0M1070 1499h0M1137 1426h0M1096 1596h0M1137 1424h0M1073 1596h0M1016 1596h0M1010 1535h0M1020 1615h0M1044 1627h0M1008 1540h0M1137 1540h0M1161 1631h0M1137 1604h0M1063 1608h0M1079 1412h0M1186 1596h0"/>
<path stroke="#3a8049" d="M1049 1455h0M1137 1429h0M1152 1611h0M1187 1543h0M1173 1532h0M1121 1548h0M1057 1620h0M1152 1459h0M1087 1541h0M1137 1559h0M1101 1492h0M1085 1596h0M1044 1581h0M1194 1480h0M1167 1582h0M1000 1496h0M1094 1596h0M1123 1618h0M939 1535h0M1104 1629h0M1119 1551h0M1051 1567h0M1137 1533h0M1125 1608h0M1048 1499h0M1075 1536h0M1137 1642h0M1059 1460h0M1187 1495h0M1066 1562h0M1123 1646h0M1085 1609h0M1096 1603h0M950 1574h0M1055 1450h0M1088 1435h0M1079 1568h0M1115 1467h0M1184 1477h0M1180 1486h0M1137 1683h0M1108 1582h0"/>
<path stroke="#53925e" d="M1137 1513h0M1105 1566h0M1065 1588h0M1104 1451h0M1137 1567h0M1070 1618h0M1114 1472h0M1106 1596h0M1039 1471h0M1137 1434h0M1088 1561h0M1033 1546h0M1125 1637h0M1187 1596h0M1137 1590h0M1103 1378h0M1039 1429h0M1111 1635h0M1209 1527h0M1106 1581h0M1101 1474h0M1100 1591h0M1199 1537h0M1137 1578h0M1167 1611h0M1119 1578h0M1137 1471h0M1167 1511h0M1118 1596h0M1028 1544h0M1173 1614h0M1062 1575h0M1070 1613h0M1137 1542h0M1110 1650h0M1064 1476h0M1029 1474h0M1188 1584h0M1191 1519h0M1137 1561h0M997 1551h0M1039 1489h0M1137 1510h0M1156 1642h0M1126 1586h0M1090 1460h0M1068 1504h0M1137 1532h0M1137 1649h0M1073 1566h0M944 1523h0M1149 1438h0M1085 1584h0M1128 1588h0M1137 1601h0M1015 1458h0M1079 1559h0M1098 1606h0M1143 1596h0M1064 1653h0M1207 1529h0M1082 1583h0M1187 1525h0M1183 1655h0M1090 1528h0M1064 1596h0M1002 1596h0M1098 1540h0M1098 1414h0M1112 1566h0M1137 1633h0M1104 1499h0M1100 1460h0M1063 1489h0M1154 1556h0M1066 1645h0M1165 1450h0M1188 1572h0M1101 1451h0M1137 1466h0M1085 1521h0M1137 1523h0M1073 1535h0M1137 1605h0M1027 1703h0M1088 1453h0M1020 1491h0M1070 1515h0M1176 1559h0M1047 1501h0M1031 1566h0M1236 1501h0M1165 1490h0M1182 1586h0M1171 1588h0M1159 1638h0M1047 1579h0M1150 1511h0M1188 1548h0M1076 1646h0M1100 1650h0M1137 1506h0M1095 1566h0M1087 1515h0M1113 1501h0M1065 1544h0M1196 1596h0M1033 1563h0M1137 1527h0M1063 1596h0M1106 1672h0M1061 1474h0M1082 1596h0M1073 1555h0M1137 1458h0M1184 1483h0M1137 1592h0M1168 1582h0M1150 1525h0M1180 1596h0M1075 1438h0M1137 1637h0M989 1525h0M1035 1596h0M1000 1503h0M1137 1508h0M1032 1589h0M1016 1462h0M1105 1596h0M1044 1608h0M1173 1527h0M1056 1557h0M1085 1538h0M1173 1544h0M1044 1497h0M1137 1589h0M1106 1513h0M997 1460h0M1044 1566h0M1093 1413h0M1062 1606h0M1167 1561h0M1101 1588h0M1033 1521h0M1126 1568h0M1137 1679h0M1101 1631h0M1137 1527h0M1010 1493h0M1184 1612h0M1184 1506h0M1057 1440h0M1159 1586h0M1033 1495h0M1052 1493h0M1151 1503h0M1062 1523h0M993 1596h0M1059 1546h0M1063 1573h0M1068 1437h0M1073 1586h0M1180 1617h0M1052 1507h0M1100 1525h0"/>
<path stroke="#3a8049" d="M1029 1451h0M1110 1596h0M1137 1544h0M1111 1660h0M1137 1493h0M1137 1507h0M1000 1590h0M1093 1596h0M1137 1439h0M1020 1502h0M1137 1562h0M1137 1648h0M1125 1603h0M1072 1660h0M1137 1554h0M1047 1435h0M1111 1622h0M1098 1653h0M1098 1464h0M1097 1551h0M1114 1585h0M1036 1547h0M1115 1596h0M1110 1456h0M1044 1569h0M1067 1523h0M1104 1621h0M1154 1540h0M1155 1509h0M1057 1463h0M1044 1590h0M1196 1568h0M1020 1483h0M1068 1521h0M1137 1490h0M1137 1611h0M1101 1445h0M1026 1596h0M1189 1533h0M1169 1566h0M1087 1621h0M1104 1410h0M977 1616h0M1119 1579h0M1137 1499h0M1137 1570h0M1097 1557h0M1106 1566h0M1087 1474h0M1012 1475h0M1036 1529h0M1137 1636h0M1115 1586h0M1020 1621h0"/>
<path stroke="#6fa679" d="M1105 1479h0M1095 1610h0M1113 1591h0M1100 1488h0M1101 1596h0M1082 1423h0M1041 1530h0M1084 1571h0M1137 1620h0M1098 1360h0M1026 1510h0M1059 1634h0M981 1596h0M1168 1501h0M1093 1575h0M1122 1589h0M1006 1542h0M1096 1576h0M1113 1463h0M1068 1476h0M1063 1513h0M1073 1617h0M1079 1518h0M1059 1521h0M1178 1558h0M1044 1460h0M1137 1587h0M1137 1454h0M1193 1543h0M1031 1586h0M1085 1470h0M1149 1631h0M1113 1549h0M1123 1455h0M1047 1487h0M1137 1548h0M1038 1445h0M1178 1527h0M1116 1586h0M1137 1517h0M1110 1610h0M1181 1554h0M1137 1668h0M1029 1596h0M1051 1496h0M1038 1569h0M1029 1509h0M1137 1495h0M1102 1579h0M1031 1545h0M1049 1483h0M1137 1554h0M1155 1479h0M1057 1454h0M1180 1504h0"/>
<path stroke="#53925e" d="M1137 1555h0M1137 1542h0M1114 1608h0M1169 1627h0M1149 1591h0M1204 1515h0M1150 1620h0M1059 1622h0M1108 1419h0M1220 1423h0M1137 1494h0M1137 1615h0M1171 1451h0M1176 1521h0M1126 1607h0M1003 1580h0M1059 1578h0M1137 1575h0M1008 1534h0M1137 1626h0M1164 1596h0M1172 1504h0M1173 1602h0M1154 1612h0M1044 1434h0M1077 1503h0M1110 1583h0M1074 1596h0M1172 1580h0M1137 1583h0M1200 1574h0M1047 1560h0M1196 1554h0M1065 1527h0M1156 1524h0M1137 1575h0M1155 1512h0M1084 1648h0M1176 1596h0M1151 1577h0M1161 1619h0M1032 1465h0M1055 1596h0M1124 1426h0M1084 1512h0M993 1614h0M1064 1525h0M1111 1395h0M1079 1596h0M1159 1473h0M1196 1587h0M1137 1514h0M1209 1544h0M1180 1555h0M1082 1436h0M1120 1580h0M1063 1441h0M1062 1587h0M1137 1614h0M1166 1555h0M1137 1640h0M1003 1558h0M1129 1596h0M1020 1524h0M1107 1443h0M1137 1457h0M1137 1593h0M1065 1483h0M1067 1562h0M1137 1571h0M1201 1535h0M976 1596h0M1119 1596h0M1107 1626h0M1188 1541h0M1152 1617h0M1137 1576h0M1097 1622h0M1150 1573h0M1137 1617h0M1194 1596h0M1137 1631h0M1044 1442h0M1068 1596h0M1020 1417h0M1100 1415h0M1070 1542h0M1065 1474h0M1052 1535h0M1103 1554h0M985 1400h0M1101 1562h0M1082 1543h0M1067 1528h0M1039 1453h0M1051 1513h0M1089 1434h0M1137 1541h0M1001 1559h0M1052 1524h0M1137 1590h0M1130 1589h0M1202 1515h0M1137 1507h0M1067 1642h0M1181 1604h0M1113 1429h0M1117 1577h0M1114 1596h0M1027 1530h0M1011 1553h0M1110 1490h0M1041 1483h0M1171 1629h0M1031 1596h0M1152 1567h0M1150 1565h0M1127 1596h0M1087 1653h0M1179 1596h0M1030 1447h0M1099 1572h0M1137 1392h0M1075 1445h0M1158 1468h0M1024 1480h0M1082 1569h0M1020 1588h0M1033 1502h0M1118 1578h0M1073 1514h0M1072 1634h0M1159 1442h0M1137 1618h0M1168 1384h0M1095 1514h0M1106 1430h0M1064 1518h0M1157 1663h0M1057 1486h0M1116 1555h0M1193 1596h0M1137 1634h0M1157 1568h0M1048 1607h0M1100 1442h0M1163 1437h0M1070 1678h0M1169 1551h0M1154 1596h0M1049 1469h0M1162 1585h0M1076 1656h0M1089 1604h0M1077 1516h0M1100 1569h0M1093 1521h0M1178 1486h0M1092 1582h0M1037 1418h0M1095 1556h0M1033 1628h0M952 1507h0M1137 1611h0M1066 1596h0"/>
<path stroke="#3a8049" d="M1056 1508h0M1137 1608h0M1116 1535h0M1137 1533h0M1044 1524h0M1108 1589h0M1106 1536h0M1137 1543h0M1075 1596h0M1159 1545h0M1175 1535h0M1137 1627h0M1061 1535h0M1137 1644h0M1137 1552h0M1044 1468h0M1057 1510h0M1137 1571h0M1171 1580h0M1155 1546h0M1064 1504h0M1070 1510h0M1150 1572h0M1044 1494h0M1047 1596h0M1061 1596h0M1157 1483h0M1066 1480h0M1113 1521h0M1231 1500h0M1075 1498h0M1178 1488h0M1137 1490h0M1101 1544h0M1001 1509h0M1083 1649h0M1120 1504h0M1114 1415h0M1055 1637h0M1024 1473h0M1122 1634h0M1155 1445h0M1051 1555h0M1137 1610h0M1171 1548h0M1129 1588h0M1149 1451h0M1085 1433h0M1104 1459h0M1083 1544h0M1137 1471h0M1173 1596h0M1231 1619h0M1010 1504h0M1023 1492h0M1025 1524h0"/>
<path stroke="#6fa679" d="M1101 1614h0M1055 1516h0M1150 1483h0M1150 1615h0M1155 1492h0M1037 1596h0M1155 1535h0M1137 1473h0M1092 1479h0M1059 1426h0M1027 1476h0M1167 1469h0M1039 1632h0M1130 1604h0M1057 1538h0M1150 1496h0M1124 1476h0M1076 1468h0M1068 1622h0M1068 1650h0M995 1527h0M1051 1639h0M1077 1443h0M1110 1596h0M1179 1596h0M1167 1596h0M1155 1457h0M1040 1604h0M962 1554h0M1075 1521h0M1159 1493h0M988 1596h0M1051 1561h0M1113 1495h0M943 1495h0M1178 1622h0M1081 1583h0M1012 1460h0M1178 1606h0M1161 1517h0M1059 1660h0M1097 1616h0M1031 1514h0M1110 1503h0M1013 1596h0M1137 1579h0M1015 1488h0M1087 1475h0M1121 1479h0"/>
<path stroke="#8059ba" d="M1222 1637h0M1137 1635h0M1255 1634h0M1284 1696h0M1200 1748h0M1150 1678h0M1184 1642h0M1196 1691h0M1109 1679h0M1260 1715h0M1289 1640h0M1260 1606h0M1072 1349h0M1251 1707h0M1282 1637h0M1137 1655h0M1096 1663h0M1162 1632h0M1204 1629h0M1236 1632h0M1273 1728h0M1180 1607h0M1226 1646h0M1251 1689h0M1161 1678h0M1239 1705h0M1161 1690h0M1193 1730h0M1208 1665h0M1265 1648h0M1181 1575h0M1157 1625h0M1274 1634h0M1168 1604h0M1261 1657h0M1137 1570h0M1169 1657h0M1174 1650h0M1340 1676h0M1299 1667h0M1182 1715h0M1204 1661h0M1240 1731h0M1187 1656h0M1175 1606h0M1188 1629h0M1262 1657h0M1137 1628h0M1172 1697h0M1196 1710h0M1157 1615h0M1282 1631h0M1137 1664h0M1175 1689h0M1294 1642h0M1237 1658h0M1270 1629h0M1318 1666h0M1219 1636h0M1271 1609h0M1250 1651h0M1265 1669h0M1137 1688h0M1282 1684h0M1184 1665h0M1294 1628h0M1251 1676h0M1350 1700h0M1239 1695h0M1076 1656h0M1336 1693h0M1108 1639h0M1211 1660h0M1225 1611h0M1146 1605h0M1137 1633h0M1236 1668h0M1119 1724h0M1240 1675h0M1211 1689h0M1281 1735h0M1262 1702h0M1305 1637h0M1171 1694h0M1137 1698h0M1158 1656h0M1152 1640h0M1216 1691h0M1271 1705h0M1181 1611h0M1287 1710h0M1137 1699h0M1209 1649h0M1242 1714h0M1209 1678h0M1230 1686h0M1255 1718h0M1234 1730h0M1267 1722h0M1151 1642h0M1276 1664h0M1193 1623h0M1275 1717h0M1108 1682h0M1121 1653h0M1244 1700h0M1126 1693h0M1161 1608h0M1125 1707h0M1242 1672h0M1160 1607h0M1209 1637h0M1282 1675h0M1160 1618h0M1180 1669h0M1323 1687h0M1137 1665h0M1325 1669h0M1325 1715h0M1251 1730h0M1311 1689h0M1284 1596h0M1239 1621h0M1137 1636h0M1255 1686h0M1199 1704h0M1229 1641h0M1155 1658h0M1097 1685h0M1331 1659h0M1266 1716h0M1137 1652h0M1194 1631h0M1248 1650h0M1123 1693h0M1240 1696h0M1200 1642h0"/>
<path stroke="#9a7ccb" d="M1239 1695h0M1199 1656h0M1261 1704h0M1251 1631h0M1262 1627h0M1186 1667h0M1173 1710h0M1208 1614h0M1137 1700h0M1184 1619h0M1204 1613h0M1119 1606h0M1196 1676h0M1161 1684h0M1231 1596h0M1198 1606h0M1268 1628h0M1137 1651h0M1331 1675h0M1137 1670h0M1137 1609h0M1307 1679h0M1255 1604h0M1164 1681h0M1235 1738h0M1173 1684h0M1333 1672h0M1171 1605h0M1270 1614h0M1137 1678h0M1194 1610h0M1223 1638h0M1137 1611h0M1231 1672h0M1258 1684h0M1137 1617h0M1239 1707h0M1137 1679h0M1090 1687h0M1244 1720h0M1159 1720h0M1219 1653h0M1181 1617h0M1156 1615h0M1239 1646h0M1260 1705h0"/>
<path stroke="#6540a6" d="M1176 1672h0M1235 1625h0M1162 1692h0M1189 1615h0M1330 1703h0M1106 1642h0M1216 1596h0M1137 1646h0M1301 1659h0M1165 1637h0M1325 1596h0M1255 1605h0M1112 1689h0M1165 1650h0M1137 1647h0M1335 1680h0M1158 1705h0M1251 1615h0M1234 1602h0M1137 1675h0M1171 1661h0M1211 1650h0M1158 1606h0M1197 1725h0M1122 1672h0M1121 1628h0M1287 1615h0M1316 1651h0M1163 1660h0M1238 1734h0M1231 1702h0M1305 1661h0M1275 1730h0M1246 1701h0M1174 1668h0M1287 1696h0M1124 1666h0M1100 1669h0M1274 1619h0M1311 1681h0M1242 1634h0M1185 1719h0M1156 1606h0M1267 1628h0M1137 1689h0"/>
<path stroke="#8059ba" d="M1322 1702h0M1273 1596h0M1120 1630h0M1294 1622h0M1265 1720h0M1248 1674h0M1180 1638h0M1260 1695h0M1238 1726h0M1065 1666h0M1150 1653h0M1137 1668h0M1204 1705h0M1287 1658h0M1152 1662h0M1117 1636h0M1191 1693h0M1261 1650h0M1137 1701h0M1239 1675h0M1107 1640h0M1306 1701h0M1154 1661h0M1187 1668h0M1168 1611h0M1316 1705h0M1315 1643h0M1187 1620h0M1255 1625h0M1250 1678h0M1171 1710h0M1313 1701h0M1218 1698h0M1338 1678h0M1278 1642h0M1169 1718h0M1238 1661h0M1243 1642h0M1097 1656h0M1208 1652h0M1278 1702h0M1220 1623h0M1204 1678h0M1155 1639h0M1242 1605h0M1223 1658h0M1220 1717h0M1273 1721h0M1137 1638h0M1311 1668h0M1125 1652h0M1152 1645h0M1224 1614h0M1258 1694h0M1165 1603h0M1162 1644h0M1176 1719h0M1255 1619h0M1203 1628h0M1137 1678h0M1248 1704h0M1289 1621h0M1336 1675h0M1283 1698h0M1184 1680h0M1244 1648h0M1151 1609h0M1196 1738h0M1284 1667h0M1294 1715h0M1261 1632h0M1310 1644h0M1239 1685h0M1300 1636h0M1246 1666h0M1237 1652h0M1171 1645h0M1161 1687h0M1248 1723h0M1273 1727h0M1274 1596h0M1204 1694h0M1101 1666h0M1318 1684h0M1243 1614h0M1199 1666h0M1137 1690h0M1191 1649h0M1137 1673h0M1188 1734h0M1229 1619h0M1238 1645h0M1194 1679h0M1258 1655h0M1294 1672h0M1155 1719h0M1239 1656h0M1161 1699h0M1226 1627h0M1277 1639h0M1182 1661h0M1276 1663h0M1163 1603h0M1173 1719h0M1251 1722h0M1306 1624h0M1318 1640h0M1285 1704h0M1303 1637h0M1196 1611h0M1211 1632h0M1271 1613h0M1154 1613h0M1173 1666h0M1299 1698h0M1213 1676h0M1204 1687h0M1101 1655h0M1107 1692h0M969 1367h0M1300 1666h0M1228 1614h0M1271 1683h0M1249 1629h0M1151 1674h0M1281 1631h0M1342 1696h0M1137 1660h0M1301 1670h0M1137 1702h0M1325 1660h0"/>
<path stroke="#9a7ccb" d="M1137 1614h0M1239 1616h0M1235 1644h0M1154 1694h0M1182 1651h0M1250 1642h0M1209 1719h0M1137 1658h0M1211 1667h0M1372 1653h0M1216 1735h0M1137 1661h0M1201 1669h0M1223 1741h0M1097 1681h0M1338 1694h0M1097 1661h0M1282 1710h0M1200 1687h0M1108 1653h0M1258 1616h0M1149 1614h0M1125 1664h0M1334 1655h0M1208 1748h0M1209 1631h0M1296 1673h0M1228 1633h0M1243 1626h0M1147 1601h0M1116 1648h0M1242 1613h0M1137 1710h0M1304 1633h0M1176 1697h0M1277 1664h0M1137 1683h0M1168 1626h0M1278 1721h0M1268 1647h0M1344 1633h0M1219 1705h0"/>
<path stroke="#6540a6" d="M1224 1664h0M1208 1631h0M1166 1603h0M1113 1680h0M1330 1666h0M1208 1653h0M1117 1646h0M1223 1617h0M1168 1677h0M1229 1641h0M1226 1682h0M1137 1687h0M1268 1685h0M1211 1668h0M1174 1632h0M1224 1674h0M1246 1678h0M1301 1665h0M1137 1663h0M1294 1697h0M1137 1674h0M1137 1684h0M1137 1671h0M1216 1619h0M1242 1735h0M1137 1690h0M1169 1612h0M1163 1647h0M1112 1646h0M1337 1665h0M1275 1623h0M1184 1608h0M1289 1663h0M1262 1718h0M1162 1602h0M1150 1628h0M1288 1669h0M1308 1596h0M1125 1661h0M1284 1620h0"/>
<path stroke="#8059ba" d="M1137 1704h0M1330 1649h0M1234 1710h0M1161 1585h0M1119 1675h0M1137 1657h0M1387 1657h0M1240 1724h0M1178 1666h0M1137 1700h0M1308 1631h0M1313 1639h0M1280 1631h0M1159 1607h0M1282 1707h0M1137 1687h0M1218 1659h0M1325 1702h0M1137 1643h0M1206 1663h0M1196 1644h0M1137 1703h0M1294 1625h0M1246 1684h0M1242 1609h0M1040 1691h0M1137 1660h0M1152 1700h0M1275 1677h0M1328 1689h0M1155 1689h0M1306 1631h0M1267 1722h0M1303 1690h0M1166 1693h0M1199 1636h0M1260 1656h0M1208 1619h0M1137 1704h0M1231 1603h0M1356 1657h0M1167 1625h0M1285 1674h0M1216 1634h0M1200 1672h0M1353 1658h0M1149 1607h0M1137 1662h0M1251 1679h0M1318 1684h0M1137 1675h0M1223 1638h0M1189 1664h0M1322 1707h0M1266 1596h0M1172 1664h0M1137 1628h0M1271 1687h0M1150 1668h0M1274 1663h0M1137 1645h0M1289 1710h0M1208 1608h0M1152 1604h0M1178 1635h0M1196 1670h0M1294 1653h0M940 1331h0M1218 1636h0M1278 1687h0M1213 1684h0M1169 1627h0M1178 1648h0M1219 1636h0M1230 1641h0M1234 1620h0M1232 1689h0M1227 1607h0M1161 1716h0M1319 1684h0M1137 1617h0M1278 1631h0M1219 1693h0M1248 1650h0M1301 1642h0M1151 1726h0M1173 1665h0M1327 1689h0M1306 1637h0M1251 1713h0M1311 1661h0M1194 1606h0M1325 1733h0M1300 1675h0M1294 1720h0M1243 1677h0M1267 1643h0M1172 1639h0M1169 1695h0M1258 1739h0M1250 1669h0M1265 1710h0M1137 1640h0M1180 1710h0M1137 1703h0M1258 1670h0M1227 1618h0M1248 1623h0M1231 1612h0M1294 1725h0M1151 1610h0M1323 1686h0M1220 1676h0M1201 1615h0M1213 1677h0M1251 1706h0M1167 1675h0M1236 1692h0M1162 1608h0M1137 1569h0M1231 1608h0M1200 1612h0M1234 1677h0M1231 1680h0M1189 1678h0M1262 1687h0M1285 1720h0M1329 1689h0M1302 1676h0M1251 1698h0M1101 1690h0M1255 1615h0M1163 1609h0M1216 1672h0M1161 1653h0"/>
<path stroke="#6540a6" d="M1227 1737h0M1137 1633h0M1322 1686h0M1191 1648h0M1160 1672h0M1166 1610h0M1224 1731h0M1137 1674h0M1255 1646h0M1093 1661h0M1234 1698h0M1238 1710h0M1222 1610h0M1161 1666h0M1175 1664h0M1157 1682h0M1220 1677h0M1284 1632h0M1218 1694h0M1278 1665h0M1137 1664h0M1308 1624h0M1281 1666h0M1137 1715h0M1202 1675h0M1111 1647h0M1137 1703h0M1184 1604h0M1325 1665h0M1137 1686h0M1212 1606h0M1137 1673h0M1260 1656h0M1269 1731h0M1174 1692h0M1328 1655h0M1287 1633h0M1121 1643h0M1219 1675h0M1137 1631h0M1228 1677h0M1278 1653h0M1154 1653h0M1227 1672h0M1189 1681h0M1120 1647h0M1294 1631h0M1279 1665h0M1331 1690h0M1294 1664h0"/>
<path stroke="#9a7ccb" d="M1137 1676h0M1269 1682h0M1244 1627h0M1170 1604h0M1239 1666h0M1216 1622h0M1154 1605h0M1318 1675h0M1228 1658h0M1313 1667h0M1194 1651h0M1137 1697h0M1110 1663h0M1174 1716h0M1313 1644h0M1211 1692h0M1264 1617h0M1171 1602h0M1199 1668h0M1137 1689h0M1189 1685h0M1271 1726h0M1137 1702h0M1201 1710h0M1227 1629h0M1311 1714h0M1154 1604h0M1224 1639h0M1171 1686h0M1172 1731h0M1188 1645h0M1216 1625h0M1294 1647h0M1225 1618h0M1197 1611h0M1202 1714h0M1137 1662h0M1150 1674h0M1197 1701h0M1216 1697h0M1255 1687h0M1347 1704h0M1255 1710h0M1201 1603h0M1173 1678h0M1243 1604h0M1137 1627h0M1181 1638h0M1137 1669h0M1200 1702h0"/>
<path stroke="#9a7ccb" d="M1137 1632h0M1194 1660h0M1220 1636h0M1231 1710h0M1268 1723h0M1211 1704h0M1334 1596h0M1216 1615h0M1219 1676h0M1234 1667h0M1301 1755h0M1137 1691h0M1278 1619h0M1268 1672h0M1184 1755h0M1265 1700h0M1101 1684h0M1211 1632h0M1175 1724h0M1196 1724h0M1137 1632h0M1137 1704h0M1137 1686h0M1150 1603h0M1161 1637h0M1321 1705h0M1288 1637h0M1162 1620h0M1305 1596h0M1274 1710h0M1290 1721h0M1218 1620h0M1267 1690h0M1313 1682h0M1137 1666h0M1213 1615h0M1301 1721h0M1137 1702h0M1127 1607h0M1196 1639h0M1240 1639h0M1137 1701h0M1196 1653h0"/>
<path stroke="#6540a6" d="M1357 1653h0M1118 1663h0M1260 1725h0M1179 1637h0M1102 1659h0M1255 1735h0M1180 1700h0M1277 1731h0M1220 1723h0M1170 1690h0M1269 1678h0M1198 1721h0M1267 1698h0M1231 1676h0M1204 1726h0M1064 1611h0M1137 1685h0M1306 1724h0M1180 1686h0M1137 1651h0M1231 1687h0M1137 1676h0M1176 1691h0M1196 1606h0M1378 1681h0M1308 1672h0M1172 1655h0M1311 1639h0M1187 1680h0M1231 1733h0M1182 1618h0M1093 1651h0M1250 1687h0M1288 1678h0M1137 1669h0M1204 1672h0M1157 1691h0M1246 1658h0M1194 1652h0"/>
<path stroke="#8059ba" d="M1242 1678h0M1290 1621h0M1283 1667h0M1161 1682h0M1225 1639h0M1174 1656h0M1255 1653h0M1280 1636h0M1187 1716h0M1231 1718h0M1137 1644h0M1287 1638h0M1265 1679h0M1137 1621h0M1175 1615h0M1137 1618h0M1278 1718h0M1184 1687h0M1288 1710h0M1137 1614h0M1137 1689h0M1224 1681h0M1113 1668h0M1242 1647h0M1137 1643h0M1249 1683h0M1209 1631h0M1287 1689h0M1153 1589h0M1137 1680h0M1225 1667h0M1265 1672h0M1047 1633h0M1230 1611h0M1181 1639h0M1216 1609h0M1150 1710h0M1119 1687h0M1313 1696h0M1171 1702h0M1269 1651h0M1137 1667h0M1137 1630h0M1306 1633h0M1287 1458h0M1211 1675h0M1137 1694h0M1213 1689h0M1322 1658h0M1220 1663h0M1218 1629h0M1137 1660h0M1137 1674h0M1137 1657h0M1137 1713h0M1153 1718h0M1137 1671h0M1231 1653h0M1198 1655h0M1191 1622h0M1451 1621h0M1308 1700h0M1150 1707h0M1246 1719h0M1189 1672h0M1187 1608h0M1193 1605h0M1196 1696h0M1098 1672h0M1184 1710h0M1203 1661h0M1174 1644h0M1283 1632h0M1173 1596h0M1070 1661h0M1108 1689h0M1283 1675h0M1155 1727h0M1251 1670h0M1220 1650h0M1224 1630h0M1180 1652h0M1201 1695h0M1161 1725h0M1191 1701h0M1239 1725h0M1220 1690h0M1223 1727h0M1137 1652h0M1154 1637h0M1173 1687h0M1167 1667h0M1261 1656h0M1261 1626h0M1243 1693h0M1294 1617h0M1209 1693h0M1196 1625h0M1223 1679h0M1289 1677h0M1218 1683h0M1137 1705h0M1325 1653h0M1372 1667h0M1299 1690h0M1161 1648h0M1325 1687h0M1229 1685h0M1284 1724h0M1261 1717h0M1318 1719h0M1262 1672h0M1199 1728h0M1191 1668h0M1348 1699h0M1278 1676h0M1137 1685h0M1259 1672h0M1268 1735h0M1189 1622h0M1170 1698h0M1209 1623h0M1154 1645h0M1105 1636h0M1276 1630h0M1238 1613h0M1216 1742h0"/>
<path stroke="#8059ba" d="M1161 1710h0M1236 1716h0M1088 1644h0M1307 1679h0M1167 1653h0M1207 1706h0M1209 1736h0M1158 1646h0M1238 1653h0M1322 1641h0M1137 1629h0M1264 1658h0M1184 1602h0M1318 1701h0M1196 1727h0M1137 1670h0M1287 1669h0M1114 1676h0M1300 1725h0M1242 1622h0M1277 1652h0M1242 1653h0M1275 1683h0M1116 1658h0M1294 1634h0M1188 1615h0M1307 1647h0M1218 1648h0M1271 1672h0M1111 1691h0M1150 1731h0M1137 1651h0M1325 1705h0M1227 1683h0M1220 1610h0M1111 1687h0M1207 1613h0M1137 1707h0M1165 1630h0M1159 1617h0M1267 1675h0M1238 1669h0M1188 1621h0M1294 1661h0M1198 1655h0M1248 1690h0M1157 1596h0M1278 1733h0M1137 1659h0M1285 1692h0M1270 1661h0M1178 1674h0M1206 1630h0M1235 1691h0M1276 1689h0M1236 1644h0M1169 1702h0M1313 1653h0M1284 1710h0M1124 1660h0M1213 1627h0M1183 1633h0M1294 1685h0M1154 1678h0M1137 1707h0M1206 1663h0M1191 1675h0M1167 1618h0M1211 1703h0M1224 1655h0M1259 1626h0M1213 1670h0M1248 1680h0M1234 1636h0M1137 1666h0M1258 1648h0M1201 1638h0M1193 1703h0M1260 1626h0M1165 1677h0M1311 1672h0M1303 1663h0M1400 1608h0M1171 1678h0M1297 1674h0M1209 1666h0M1239 1664h0M1278 1710h0M1150 1644h0M1303 1723h0M1163 1697h0M1271 1734h0M1137 1680h0M1308 1638h0M1213 1609h0M1137 1618h0M1327 1713h0M1184 1627h0M1113 1644h0M1216 1682h0M1320 1641h0M1175 1695h0M1294 1660h0M1191 1623h0M1184 1649h0M1300 1636h0M1167 1582h0M1224 1638h0M1246 1614h0M1137 1640h0M1108 1667h0M1223 1700h0M1157 1644h0M1271 1640h0M1305 1694h0M1226 1676h0M1137 1692h0M1209 1605h0M1185 1701h0M1207 1647h0M1236 1596h0M1188 1621h0M1196 1660h0M1182 1618h0M1309 1695h0"/>
<path stroke="#6540a6" d="M1125 1666h0M1180 1720h0M1182 1639h0M1247 1623h0M1162 1716h0M1173 1602h0M1276 1714h0M1255 1660h0M1137 1705h0M1211 1682h0M1149 1643h0M1271 1629h0M1147 1606h0M1264 1695h0M1114 1665h0M1125 1701h0M1219 1665h0M1305 1678h0M1301 1676h0M1247 1710h0M1137 1643h0M1294 1702h0M1119 1715h0M1209 1626h0M1114 1653h0M1159 1669h0M1167 1682h0M1224 1639h0M1229 1622h0M1113 1608h0M1282 1666h0M1220 1737h0M1218 1730h0M1191 1605h0M1165 1717h0M1183 1641h0M1204 1710h0M1137 1661h0M1251 1727h0M1311 1664h0M1216 1685h0M1308 1658h0"/>
<path stroke="#9a7ccb" d="M1288 1629h0M1220 1730h0M1325 1642h0M1104 1645h0M1207 1689h0M1266 1721h0M1187 1728h0M1189 1691h0M1137 1681h0M1193 1637h0M1212 1669h0M1225 1696h0M1264 1627h0M1184 1704h0M1250 1624h0M1201 1607h0M1219 1631h0M1289 1670h0M1137 1682h0M1155 1605h0M950 1422h0M1120 1672h0M1271 1694h0M1225 1653h0M1269 1660h0M1268 1710h0M1059 1663h0M1227 1694h0M1137 1680h0M1079 1710h0M1255 1721h0M1264 1684h0M1289 1714h0M1124 1622h0M1237 1734h0M1228 1640h0M1193 1610h0M1102 1631h0M1255 1678h0M1223 1707h0M1208 1614h0M1258 1643h0M1282 1658h0M1184 1653h0M1137 1630h0M1268 1660h0M1122 1684h0M1137 1691h0"/>
<path stroke="#8059ba" d="M1137 1666h0M1246 1736h0M1137 1699h0M1169 1612h0M1298 1661h0M1301 1631h0M1303 1717h0M1306 1725h0M1163 1664h0M1307 1691h0M1164 1629h0M1263 1617h0M1231 1642h0M1265 1617h0M1228 1684h0M1137 1663h0M1208 1665h0M1231 1657h0M1150 1682h0M1223 1645h0M1180 1658h0M1201 1658h0M1249 1705h0M1137 1696h0M1182 1672h0M1161 1665h0M1251 1675h0M1331 1690h0M1154 1702h0M1114 1699h0M1208 1670h0M1247 1612h0M1285 1632h0M1211 1614h0M1204 1645h0M1224 1622h0M1325 1678h0M1148 1607h0M1098 1682h0M1269 1724h0M1204 1655h0M1162 1722h0M1269 1724h0M1173 1605h0M1201 1664h0M1165 1663h0M1264 1689h0M1231 1665h0M1202 1651h0M1137 1706h0M1262 1657h0M1137 1693h0M1156 1678h0M1275 1730h0M1208 1583h0M1137 1621h0M1137 1672h0M1305 1629h0M1137 1657h0M1333 1653h0M1137 1667h0M1115 1683h0M1137 1639h0M1219 1646h0M1248 1703h0M1267 1683h0M1216 1729h0M1193 1657h0M1278 1596h0M1219 1616h0M1249 1640h0M1231 1609h0M1329 1689h0M1282 1649h0M1164 1609h0M1176 1641h0M1241 1613h0M1318 1649h0M1194 1687h0M1265 1607h0M1201 1627h0M1216 1660h0M1110 1637h0M1265 1658h0M1144 1600h0M1271 1618h0M1335 1692h0M1088 1645h0M1199 1638h0M1363 1633h0M1209 1614h0M1137 1678h0M1330 1596h0M1204 1700h0M1271 1678h0M1196 1689h0M1212 1678h0M1330 1690h0M1223 1720h0M1189 1655h0M1137 1696h0M1275 1663h0M1301 1687h0M1219 1695h0M1167 1753h0M1277 1630h0M1261 1620h0M1261 1650h0M1258 1622h0M1289 1676h0M1278 1627h0M1161 1642h0M1170 1722h0M1137 1662h0M1236 1728h0M1294 1710h0M1258 1626h0M1111 1697h0M1110 1657h0M1265 1638h0M1137 1649h0M1167 1639h0M1246 1631h0M1199 1607h0M1242 1639h0M1173 1631h0M1287 1669h0M1137 1693h0M1216 1680h0M1294 1683h0M1137 1701h0"/>
<path stroke="#9a7ccb" d="M1137 1719h0M1218 1713h0M1250 1696h0M1191 1666h0M1189 1609h0M1137 1667h0M1150 1615h0M1159 1607h0M1278 1636h0M1280 1705h0M1219 1656h0M1163 1672h0M1258 1713h0M1137 1619h0M1224 1632h0M1137 1644h0M1246 1620h0M1320 1685h0M1137 1600h0M1264 1649h0M1137 1695h0M1103 1689h0M1204 1642h0M1271 1661h0M1372 1634h0M1225 1682h0M1137 1713h0M1227 1651h0M1279 1679h0M1305 1653h0M1321 1685h0M1209 1684h0M1216 1710h0M1310 1638h0M1209 1701h0M1261 1730h0M1095 1645h0M1181 1625h0M1167 1717h0M1268 1634h0M1264 1666h0M1305 1702h0"/>
<path stroke="#6540a6" d="M1238 1694h0M1137 1623h0M1308 1689h0M1218 1674h0M1242 1647h0M1155 1664h0M1280 1715h0M1300 1693h0M1216 1701h0M1090 1738h0M1239 1636h0M1273 1662h0M1246 1649h0M1152 1658h0M1221 1617h0M1170 1628h0M1333 1691h0M1255 1691h0M1216 1733h0M1279 1713h0M1150 1609h0M1156 1633h0M1200 1627h0M1255 1719h0M1259 1689h0M1311 1706h0M1137 1589h0M1276 1672h0M1101 1649h0M1165 1623h0M1224 1672h0"/>
</g>
<path d="M1043.6 1324.1L1465.5 1324.1" stroke="#000" stroke-width="5" stroke-dasharray="17 16.5" fill="none"/>
<path d="M903.0 1369.5L1043.6 1369.5" stroke="#000" stroke-width="5" stroke-dasharray="17 16.5" fill="none"/>
<path d="M903.0 1483.0L1465.5 1483.0" stroke="#000" stroke-width="5" stroke-dasharray="17 16.5" fill="none"/>
<path d="M903.0 1664.6L1217.1 1664.6" stroke="#000" stroke-width="5" stroke-dasharray="17 16.5" fill="none"/>
<path d="M903.0 1778.1L1217.1 1778.1" stroke="#000" stroke-width="5" stroke-dasharray="17 16.5" fill="none"/>
<path d="M903.0 1369.5L903.0 1778.1" stroke="#000" stroke-width="5" stroke-dasharray="17 16.5" fill="none"/>
<path d="M949.9 1483.0L949.9 1664.6" stroke="#000" stroke-width="5" stroke-dasharray="17 16.5" fill="none"/>
<path d="M1043.6 1324.1L1043.6 1483.0" stroke="#000" stroke-width="5" stroke-dasharray="17 16.5" fill="none"/>
<path d="M1217.1 1324.1L1217.1 1778.1" stroke="#000" stroke-width="5" stroke-dasharray="17 16.5" fill="none"/>
<path d="M1465.5 1324.1L1465.5 1483.0" stroke="#000" stroke-width="5" stroke-dasharray="17 16.5" fill="none"/>
<rect x="856.1" y="1251.5" width="638.6" height="597.7" fill="none" stroke="#000" stroke-width="5.2"/>
<line x1="852.5" y1="1823.5" x2="856.0" y2="1823.5" stroke="#000" stroke-width="2.5"/>
<text x="845.7" y="1838.1" font-size="40.5" text-anchor="end" fill="#000" >0.0</text>
<line x1="852.5" y1="1732.7" x2="856.0" y2="1732.7" stroke="#000" stroke-width="2.5"/>
<text x="845.7" y="1747.3" font-size="40.5" text-anchor="end" fill="#000" >0.4</text>
<line x1="852.5" y1="1641.9" x2="856.0" y2="1641.9" stroke="#000" stroke-width="2.5"/>
<text x="845.7" y="1656.5" font-size="40.5" text-anchor="end" fill="#000" >0.8</text>
<line x1="852.5" y1="1551.1" x2="856.0" y2="1551.1" stroke="#000" stroke-width="2.5"/>
<text x="845.7" y="1565.7" font-size="40.5" text-anchor="end" fill="#000" >1.2</text>
<line x1="852.5" y1="1460.3" x2="856.0" y2="1460.3" stroke="#000" stroke-width="2.5"/>
<text x="845.7" y="1474.9" font-size="40.5" text-anchor="end" fill="#000" >1.6</text>
<line x1="852.5" y1="1369.5" x2="856.0" y2="1369.5" stroke="#000" stroke-width="2.5"/>
<text x="845.7" y="1384.1" font-size="40.5" text-anchor="end" fill="#000" >2.0</text>
<line x1="852.5" y1="1278.7" x2="856.0" y2="1278.7" stroke="#000" stroke-width="2.5"/>
<text x="845.7" y="1293.3" font-size="40.5" text-anchor="end" fill="#000" >2.4</text>
<line x1="903.0" y1="1849" x2="903.0" y2="1853" stroke="#000" stroke-width="2.5"/>
<text x="903.0" y="1893.0" font-size="41.5" text-anchor="middle" fill="#000" >0.0</text>
<line x1="996.8" y1="1849" x2="996.8" y2="1853" stroke="#000" stroke-width="2.5"/>
<text x="996.8" y="1893.0" font-size="41.5" text-anchor="middle" fill="#000" >0.2</text>
<line x1="1090.5" y1="1849" x2="1090.5" y2="1853" stroke="#000" stroke-width="2.5"/>
<text x="1090.5" y="1893.0" font-size="41.5" text-anchor="middle" fill="#000" >0.4</text>
<line x1="1184.2" y1="1849" x2="1184.2" y2="1853" stroke="#000" stroke-width="2.5"/>
<text x="1184.2" y="1893.0" font-size="41.5" text-anchor="middle" fill="#000" >0.6</text>
<line x1="1278.0" y1="1849" x2="1278.0" y2="1853" stroke="#000" stroke-width="2.5"/>
<text x="1278.0" y="1893.0" font-size="41.5" text-anchor="middle" fill="#000" >0.8</text>
<line x1="1371.8" y1="1849" x2="1371.8" y2="1853" stroke="#000" stroke-width="2.5"/>
<text x="1371.8" y="1893.0" font-size="41.5" text-anchor="middle" fill="#000" >1.0</text>
<line x1="1465.5" y1="1849" x2="1465.5" y2="1853" stroke="#000" stroke-width="2.5"/>
<text x="1465.5" y="1893.0" font-size="41.5" text-anchor="middle" fill="#000" >1.2</text>
<text x="1176.0" y="1935.6" font-size="41" text-anchor="middle" fill="#000" >O/C</text>
<text transform="translate(783.5,1551) rotate(-90)" font-size="41" text-anchor="middle">H/C</text>
<text x="751.2" y="1270.6" font-size="64" text-anchor="start" fill="#000" >f</text>
<text x="950.5" y="1280.0" font-size="27.6" text-anchor="middle" fill="#6e1a2b" >3.4−25 kDa</text>
<text x="950.3" y="1308.0" font-size="27.6" text-anchor="middle" fill="#6e1a2b" >(n = 2947)</text>
<text x="1104.6" y="1289.2" font-size="27.7" text-anchor="start" fill="#000" >Aliphatic compounds</text>
<text x="1068.5" y="1359.3" font-size="27.7" text-anchor="start" fill="#000" >Proteins/</text>
<text x="1048.3" y="1398.1" font-size="27.8" text-anchor="start" fill="#000" >amino sugars</text>
<text x="1258.2" y="1367.3" font-size="27.7" text-anchor="start" fill="#000" >Carbohydrates</text>
<text x="935.6" y="1412.0" font-size="27.9" text-anchor="start" fill="#000" >Lipids</text>
<text x="1038.3" y="1526.0" font-size="27.9" text-anchor="start" fill="#000" >Lignins</text>
<text x="931.6" y="1764.5" font-size="27.7" text-anchor="start" fill="#000" >Condensed aromatics</text>
<text x="1312.2" y="1743.0" font-size="27.2" text-anchor="start" fill="#000" >Tannin</text>
<text x="1081.1" y="1818.8" font-size="29.5" text-anchor="start" fill="#000" >Spearman r</text>
<text transform="translate(874.3,1572.5) rotate(90)" font-size="27.8" text-anchor="middle">Unsaturated hydrocarbon</text>
<line x1="894.5" y1="1560" x2="928.5" y2="1573.5" stroke="#000" stroke-width="3.8" stroke-linecap="round"/>
<defs><linearGradient id="sgf" x1="0" x2="1" y1="0" y2="0"><stop offset="0" stop-color="#1b7837"/><stop offset="0.25" stop-color="#86b98f"/><stop offset="0.5" stop-color="#f4f2f5"/><stop offset="0.75" stop-color="#ae93d0"/><stop offset="1" stop-color="#54278f"/></linearGradient></defs>
<rect x="1251.2" y="1777" width="235.3" height="27.7" fill="url(#sgf)"/>
<line x1="1263.5" y1="1777" x2="1263.5" y2="1781" stroke="#fff" stroke-width="1"/><line x1="1263.5" y1="1800.7" x2="1263.5" y2="1804.7" stroke="#fff" stroke-width="1"/>
<line x1="1314.9" y1="1777" x2="1314.9" y2="1781" stroke="#fff" stroke-width="1"/><line x1="1314.9" y1="1800.7" x2="1314.9" y2="1804.7" stroke="#fff" stroke-width="1"/>
<line x1="1366.0" y1="1777" x2="1366.0" y2="1781" stroke="#fff" stroke-width="1"/><line x1="1366.0" y1="1800.7" x2="1366.0" y2="1804.7" stroke="#fff" stroke-width="1"/>
<line x1="1417.0" y1="1777" x2="1417.0" y2="1781" stroke="#fff" stroke-width="1"/><line x1="1417.0" y1="1800.7" x2="1417.0" y2="1804.7" stroke="#fff" stroke-width="1"/>
<line x1="1468.4" y1="1777" x2="1468.4" y2="1781" stroke="#fff" stroke-width="1"/><line x1="1468.4" y1="1800.7" x2="1468.4" y2="1804.7" stroke="#fff" stroke-width="1"/>
<text x="1263.5" y="1837.0" font-size="25" text-anchor="middle" fill="#000" >−0.8</text>
<text x="1314.9" y="1837.0" font-size="25" text-anchor="middle" fill="#000" >−0.4</text>
<text x="1366.0" y="1837.0" font-size="25" text-anchor="middle" fill="#000" >0.0</text>
<text x="1417.0" y="1837.0" font-size="25" text-anchor="middle" fill="#000" >0.4</text>
<text x="1468.4" y="1837.0" font-size="25" text-anchor="middle" fill="#000" >0.8</text>
</svg></body></html>
